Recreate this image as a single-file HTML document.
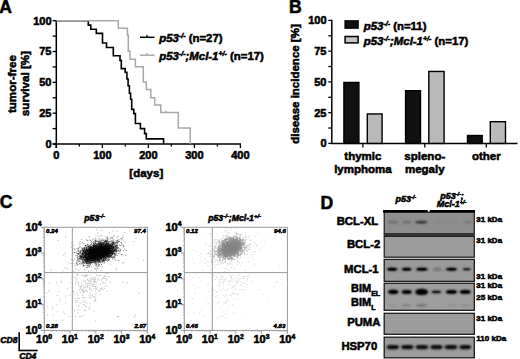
<!DOCTYPE html>
<html><head><meta charset="utf-8"><style>
html,body{margin:0;padding:0;background:#fff;width:520px;height:359px;overflow:hidden}
svg{display:block;font-family:"Liberation Sans",sans-serif}
text{stroke:#000;stroke-width:0.55px;paint-order:stroke}
</style></head><body>
<svg width="520" height="359" viewBox="0 0 520 359" font-family="Liberation Sans, sans-serif">
<defs><filter id="b1" x="-50%" y="-100%" width="200%" height="300%"><feGaussianBlur stdDeviation="0.9"/></filter><filter id="b2" x="-50%" y="-100%" width="200%" height="300%"><feGaussianBlur stdDeviation="0.8"/></filter></defs>
<rect width="520" height="359" fill="#fff"/>
<text x="-0.8" y="12.5" font-size="17.6" text-anchor="start" font-weight="bold" font-style="normal" fill="#000" >A</text>
<line x1="56.3" y1="20.0" x2="56.3" y2="148" stroke="#000" stroke-width="1.5" />
<line x1="52.6" y1="144.0" x2="56.3" y2="144.0" stroke="#000" stroke-width="1.3" />
<line x1="52.6" y1="128.5875" x2="56.3" y2="128.5875" stroke="#000" stroke-width="1.3" />
<line x1="52.6" y1="113.175" x2="56.3" y2="113.175" stroke="#000" stroke-width="1.3" />
<line x1="52.6" y1="97.7625" x2="56.3" y2="97.7625" stroke="#000" stroke-width="1.3" />
<line x1="52.6" y1="82.35" x2="56.3" y2="82.35" stroke="#000" stroke-width="1.3" />
<line x1="52.6" y1="66.9375" x2="56.3" y2="66.9375" stroke="#000" stroke-width="1.3" />
<line x1="52.6" y1="51.525000000000006" x2="56.3" y2="51.525000000000006" stroke="#000" stroke-width="1.3" />
<line x1="52.6" y1="36.1125" x2="56.3" y2="36.1125" stroke="#000" stroke-width="1.3" />
<line x1="52.6" y1="20.700000000000003" x2="56.3" y2="20.700000000000003" stroke="#000" stroke-width="1.3" />
<text x="51.5" y="147.9" font-size="11" text-anchor="end" font-weight="bold" font-style="normal" fill="#000" >0</text>
<text x="51.5" y="117.075" font-size="11" text-anchor="end" font-weight="bold" font-style="normal" fill="#000" >25</text>
<text x="51.5" y="86.25" font-size="11" text-anchor="end" font-weight="bold" font-style="normal" fill="#000" >50</text>
<text x="51.5" y="55.425000000000004" font-size="11" text-anchor="end" font-weight="bold" font-style="normal" fill="#000" >75</text>
<text x="51.5" y="24.6" font-size="11" text-anchor="end" font-weight="bold" font-style="normal" fill="#000" >100</text>
<line x1="52.6" y1="144.0" x2="241" y2="144.0" stroke="#000" stroke-width="1.5" />
<line x1="56.3" y1="144.0" x2="56.3" y2="148.0" stroke="#000" stroke-width="1.3" />
<line x1="79.315" y1="144.0" x2="79.315" y2="146.5" stroke="#000" stroke-width="1.3" />
<line x1="102.33" y1="144.0" x2="102.33" y2="148.0" stroke="#000" stroke-width="1.3" />
<line x1="125.345" y1="144.0" x2="125.345" y2="146.5" stroke="#000" stroke-width="1.3" />
<line x1="148.36" y1="144.0" x2="148.36" y2="148.0" stroke="#000" stroke-width="1.3" />
<line x1="171.375" y1="144.0" x2="171.375" y2="146.5" stroke="#000" stroke-width="1.3" />
<line x1="194.39" y1="144.0" x2="194.39" y2="148.0" stroke="#000" stroke-width="1.3" />
<line x1="217.40499999999997" y1="144.0" x2="217.40499999999997" y2="146.5" stroke="#000" stroke-width="1.3" />
<line x1="240.42000000000002" y1="144.0" x2="240.42000000000002" y2="148.0" stroke="#000" stroke-width="1.3" />
<text x="56.3" y="158.6" font-size="11" text-anchor="middle" font-weight="bold" font-style="normal" fill="#000" >0</text>
<text x="102.33" y="158.6" font-size="11" text-anchor="middle" font-weight="bold" font-style="normal" fill="#000" >100</text>
<text x="148.36" y="158.6" font-size="11" text-anchor="middle" font-weight="bold" font-style="normal" fill="#000" >200</text>
<text x="194.39" y="158.6" font-size="11" text-anchor="middle" font-weight="bold" font-style="normal" fill="#000" >300</text>
<text x="240.42000000000002" y="158.6" font-size="11" text-anchor="middle" font-weight="bold" font-style="normal" fill="#000" >400</text>
<text x="146.3" y="176.6" font-size="11.5" text-anchor="middle" font-weight="bold" font-style="normal" fill="#000" >[days]</text>
<text transform="translate(16.0,84.1) rotate(-90)" font-size="11.6" font-weight="bold" text-anchor="middle">tumor-free</text>
<text transform="translate(29.3,83.6) rotate(-90)" font-size="11.6" font-weight="bold" text-anchor="middle">survival [%]</text>
<polyline points="56.30,20.75 88.30,20.75 88.30,25.10 90.80,25.10 90.80,29.30 96.30,29.30 96.30,33.40 102.50,33.40 102.50,43.00 106.50,43.00 106.50,47.50 113.30,47.50 113.30,55.80 120.00,55.80 120.00,60.40 121.30,60.40 121.30,68.60 125.20,68.60 125.20,72.40 126.90,72.40 126.90,79.00 128.10,79.00 128.10,85.70 129.40,85.70 129.40,93.30 130.60,93.30 130.60,99.20 131.70,99.20 131.70,109.40 133.75,109.40 133.75,113.60 135.40,113.60 135.40,123.50 140.40,123.50 140.40,128.60 144.60,128.60 144.60,133.60 146.30,133.60 146.30,138.90 163.60,138.90 163.60,144.00" fill="none" stroke="#000" stroke-width="1.6" stroke-linejoin="miter"/>
<polyline points="56.30,20.75 118.25,20.75 118.25,28.20 127.40,28.20 127.40,35.00 128.30,35.00 128.30,51.25 130.00,51.25 130.00,59.20 135.40,59.20 135.40,66.70 143.30,66.70 143.30,81.90 146.30,81.90 146.30,89.50 150.80,89.50 150.80,97.80 154.70,97.80 154.70,105.10 160.80,105.10 160.80,112.60 178.30,112.60 178.30,127.90 190.20,127.90 190.20,144.00" fill="none" stroke="#a8a8a8" stroke-width="1.5" stroke-linejoin="miter"/>
<line x1="165.8" y1="112.6" x2="165.8" y2="110.6" stroke="#a8a8a8" stroke-width="1.2" />
<line x1="140" y1="37.3" x2="154.5" y2="37.3" stroke="#000" stroke-width="1.5" />
<line x1="147" y1="37.3" x2="147" y2="35.0" stroke="#000" stroke-width="1.3" />
<line x1="140" y1="55.2" x2="154.5" y2="55.2" stroke="#a8a8a8" stroke-width="1.5" />
<line x1="147" y1="55.2" x2="147" y2="52.9" stroke="#a8a8a8" stroke-width="1.3" />
<text x="159.3" y="41.6" font-size="11.4" text-anchor="start" font-weight="bold" font-style="normal" fill="#000" ><tspan font-style="italic">p53</tspan><tspan font-style="italic" font-size="7" dy="-4">-/-</tspan><tspan dy="4"> (n=27)</tspan></text>
<text x="159.3" y="59.7" font-size="11.4" text-anchor="start" font-weight="bold" font-style="normal" fill="#000" ><tspan font-style="italic">p53</tspan><tspan font-style="italic" font-size="7" dy="-4">-/-</tspan><tspan font-style="italic" dy="4">;Mcl-1</tspan><tspan font-style="italic" font-size="7" dy="-4">+/-</tspan><tspan dy="4"> (n=17)</tspan></text>
<text x="288.9" y="12.8" font-size="17.6" text-anchor="start" font-weight="bold" font-style="normal" fill="#000" >B</text>
<line x1="331.8" y1="19.7" x2="331.8" y2="143.4" stroke="#000" stroke-width="1.5" />
<line x1="328.3" y1="143.4" x2="331.8" y2="143.4" stroke="#000" stroke-width="1.3" />
<line x1="328.3" y1="128.025" x2="331.8" y2="128.025" stroke="#000" stroke-width="1.3" />
<line x1="328.3" y1="112.65" x2="331.8" y2="112.65" stroke="#000" stroke-width="1.3" />
<line x1="328.3" y1="97.275" x2="331.8" y2="97.275" stroke="#000" stroke-width="1.3" />
<line x1="328.3" y1="81.9" x2="331.8" y2="81.9" stroke="#000" stroke-width="1.3" />
<line x1="328.3" y1="66.525" x2="331.8" y2="66.525" stroke="#000" stroke-width="1.3" />
<line x1="328.3" y1="51.150000000000006" x2="331.8" y2="51.150000000000006" stroke="#000" stroke-width="1.3" />
<line x1="328.3" y1="35.775000000000006" x2="331.8" y2="35.775000000000006" stroke="#000" stroke-width="1.3" />
<line x1="328.3" y1="20.400000000000006" x2="331.8" y2="20.400000000000006" stroke="#000" stroke-width="1.3" />
<text x="326.5" y="147.3" font-size="11" text-anchor="end" font-weight="bold" font-style="normal" fill="#000" >0</text>
<text x="326.5" y="116.55000000000001" font-size="11" text-anchor="end" font-weight="bold" font-style="normal" fill="#000" >25</text>
<text x="326.5" y="85.80000000000001" font-size="11" text-anchor="end" font-weight="bold" font-style="normal" fill="#000" >50</text>
<text x="326.5" y="55.050000000000004" font-size="11" text-anchor="end" font-weight="bold" font-style="normal" fill="#000" >75</text>
<text x="326.5" y="24.300000000000004" font-size="11" text-anchor="end" font-weight="bold" font-style="normal" fill="#000" >100</text>
<line x1="331.1" y1="143.4" x2="517.5" y2="143.4" stroke="#000" stroke-width="1.5" />
<line x1="362.9" y1="143.4" x2="362.9" y2="147.6" stroke="#000" stroke-width="1.3" />
<line x1="424.8" y1="143.4" x2="424.8" y2="147.6" stroke="#000" stroke-width="1.3" />
<line x1="486.3" y1="143.4" x2="486.3" y2="147.6" stroke="#000" stroke-width="1.3" />
<rect x="343.9" y="82.45" width="15.000000000000034" height="60.95" fill="#111" stroke="#000" stroke-width="1.4" />
<rect x="367.3" y="113.95" width="14.799999999999988" height="29.450000000000006" fill="#b9b9b9" stroke="#000" stroke-width="1.4" />
<rect x="405.59999999999997" y="90.7" width="14.900000000000011" height="52.7" fill="#111" stroke="#000" stroke-width="1.4" />
<rect x="428.8" y="71.45" width="15.299999999999988" height="71.95" fill="#b9b9b9" stroke="#000" stroke-width="1.4" />
<rect x="467.5" y="135.5" width="14.699999999999966" height="7.899999999999994" fill="#111" stroke="#000" stroke-width="1.4" />
<rect x="490.3" y="121.7" width="15.199999999999966" height="21.700000000000006" fill="#b9b9b9" stroke="#000" stroke-width="1.4" />
<text transform="translate(299.4,84.0) rotate(-90)" font-size="11.5" font-weight="bold" text-anchor="middle">disease incidence [%]</text>
<text x="362.9" y="160.2" font-size="11.5" text-anchor="middle" font-weight="bold" font-style="normal" fill="#000" >thymic</text>
<text x="362.9" y="172.8" font-size="11.5" text-anchor="middle" font-weight="bold" font-style="normal" fill="#000" >lymphoma</text>
<text x="424.8" y="160.2" font-size="11.5" text-anchor="middle" font-weight="bold" font-style="normal" fill="#000" >spleno-</text>
<text x="424.8" y="172.8" font-size="11.5" text-anchor="middle" font-weight="bold" font-style="normal" fill="#000" >megaly</text>
<text x="486.3" y="160.2" font-size="11.5" text-anchor="middle" font-weight="bold" font-style="normal" fill="#000" >other</text>
<rect x="345" y="20.8" width="13.2" height="7.4" fill="#111" stroke="#000" stroke-width="1.2" />
<rect x="345.1" y="36.5" width="13.0" height="6.4" fill="#c4c4c4" stroke="#000" stroke-width="1.5" />
<text x="363.8" y="29.9" font-size="11.4" text-anchor="start" font-weight="bold" font-style="normal" fill="#000" ><tspan font-style="italic">p53</tspan><tspan font-style="italic" font-size="7" dy="-4">-/-</tspan><tspan dy="4"> (n=11)</tspan></text>
<text x="363.8" y="45.3" font-size="11.4" text-anchor="start" font-weight="bold" font-style="normal" fill="#000" ><tspan font-style="italic">p53</tspan><tspan font-style="italic" font-size="7" dy="-4">-/-</tspan><tspan font-style="italic" dy="4">;Mcl-1</tspan><tspan font-style="italic" font-size="7" dy="-4">+/-</tspan><tspan dy="4"> (n=17)</tspan></text>
<text x="-0.2" y="208.4" font-size="17.6" text-anchor="start" font-weight="bold" font-style="normal" fill="#000" >C</text>
<path d="M98.2 251.4h1v1h-1zM96.2 254.5h1v1h-1zM74.6 265.6h1v1h-1zM107.9 242.7h1v1h-1zM88.0 245.7h1v1h-1zM82.1 251.1h1v1h-1zM117.6 236.5h1v1h-1zM101.3 244.5h1v1h-1zM94.8 241.3h1v1h-1zM113.3 235.1h1v1h-1zM108.0 252.7h1v1h-1zM102.8 242.9h1v1h-1zM99.6 256.1h1v1h-1zM95.7 235.6h1v1h-1zM82.2 254.3h1v1h-1zM100.6 245.5h1v1h-1zM107.1 240.2h1v1h-1zM110.9 246.8h1v1h-1zM78.9 242.4h1v1h-1zM109.4 244.8h1v1h-1zM100.2 262.6h1v1h-1zM92.3 271.5h1v1h-1zM99.9 238.3h1v1h-1zM90.8 252.1h1v1h-1zM102.3 249.0h1v1h-1zM114.6 259.0h1v1h-1zM86.1 246.8h1v1h-1zM93.7 247.9h1v1h-1zM109.9 244.8h1v1h-1zM73.4 270.9h1v1h-1zM112.2 253.2h1v1h-1zM79.0 246.9h1v1h-1zM84.3 253.5h1v1h-1zM95.0 261.7h1v1h-1zM92.8 244.0h1v1h-1zM99.4 265.3h1v1h-1zM87.9 271.0h1v1h-1zM79.7 256.1h1v1h-1zM96.0 256.3h1v1h-1zM110.3 250.0h1v1h-1zM104.8 242.3h1v1h-1zM98.4 247.5h1v1h-1zM108.4 246.9h1v1h-1zM89.0 259.9h1v1h-1zM92.1 253.8h1v1h-1zM62.6 270.2h1v1h-1zM95.7 240.1h1v1h-1zM109.0 231.7h1v1h-1zM93.0 238.2h1v1h-1zM107.2 237.3h1v1h-1zM64.4 267.6h1v1h-1zM105.3 245.7h1v1h-1zM100.1 247.8h1v1h-1zM100.1 253.3h1v1h-1zM103.1 250.6h1v1h-1zM93.7 249.4h1v1h-1zM111.7 237.3h1v1h-1zM97.3 253.4h1v1h-1zM76.2 247.9h1v1h-1zM86.0 255.6h1v1h-1zM113.4 239.5h1v1h-1zM89.1 255.9h1v1h-1zM92.1 241.8h1v1h-1zM115.6 269.5h1v1h-1zM87.0 260.9h1v1h-1zM116.9 245.0h1v1h-1zM103.9 251.6h1v1h-1zM124.6 231.9h1v1h-1zM105.8 250.3h1v1h-1zM89.8 250.8h1v1h-1zM89.1 252.7h1v1h-1zM115.2 259.7h1v1h-1zM93.0 248.8h1v1h-1zM105.1 246.8h1v1h-1zM95.5 264.7h1v1h-1zM89.6 251.3h1v1h-1zM79.8 261.8h1v1h-1zM87.5 254.5h1v1h-1zM82.0 253.7h1v1h-1zM112.2 253.5h1v1h-1zM106.2 253.1h1v1h-1zM99.7 250.5h1v1h-1zM79.3 254.5h1v1h-1zM98.7 239.3h1v1h-1zM96.1 270.5h1v1h-1zM93.5 252.9h1v1h-1zM96.6 252.9h1v1h-1zM78.5 261.2h1v1h-1zM88.6 251.2h1v1h-1zM133.6 241.1h1v1h-1zM106.9 260.9h1v1h-1zM78.1 259.1h1v1h-1zM89.8 260.8h1v1h-1zM117.8 241.7h1v1h-1zM108.3 257.0h1v1h-1zM118.7 239.0h1v1h-1zM77.6 261.2h1v1h-1zM111.7 254.3h1v1h-1zM94.9 251.4h1v1h-1zM98.7 259.4h1v1h-1zM92.6 250.7h1v1h-1zM87.3 258.9h1v1h-1zM71.1 263.1h1v1h-1zM100.7 266.3h1v1h-1zM85.4 248.3h1v1h-1zM68.6 262.5h1v1h-1zM112.0 242.3h1v1h-1zM73.6 251.8h1v1h-1zM121.8 237.3h1v1h-1zM108.0 248.1h1v1h-1zM86.2 249.5h1v1h-1zM102.8 249.8h1v1h-1zM72.7 259.9h1v1h-1zM108.5 249.7h1v1h-1zM65.5 236.2h1v1h-1zM90.5 242.3h1v1h-1zM100.4 258.8h1v1h-1zM112.5 243.7h1v1h-1zM90.2 247.2h1v1h-1zM93.4 254.5h1v1h-1zM84.1 247.6h1v1h-1zM102.6 261.3h1v1h-1zM95.5 253.4h1v1h-1zM102.3 245.6h1v1h-1zM79.9 256.5h1v1h-1zM103.4 241.6h1v1h-1zM91.7 250.3h1v1h-1zM84.1 253.3h1v1h-1zM103.4 248.6h1v1h-1zM91.7 255.4h1v1h-1zM84.1 258.6h1v1h-1zM109.8 248.0h1v1h-1zM96.7 259.3h1v1h-1zM105.7 255.4h1v1h-1zM101.9 238.4h1v1h-1zM112.9 246.0h1v1h-1zM100.7 235.4h1v1h-1zM76.0 262.9h1v1h-1zM104.5 254.7h1v1h-1zM97.7 238.1h1v1h-1zM108.0 253.1h1v1h-1zM100.5 255.1h1v1h-1zM113.9 241.2h1v1h-1zM97.5 263.5h1v1h-1zM110.7 250.5h1v1h-1zM105.3 245.9h1v1h-1zM84.4 261.2h1v1h-1zM107.8 249.3h1v1h-1zM101.0 249.6h1v1h-1zM95.3 246.8h1v1h-1zM93.9 251.0h1v1h-1zM94.8 253.0h1v1h-1zM98.6 251.0h1v1h-1zM111.0 245.8h1v1h-1zM111.6 245.7h1v1h-1zM95.6 239.0h1v1h-1zM106.5 254.9h1v1h-1zM109.4 250.1h1v1h-1zM109.9 238.3h1v1h-1zM106.1 253.7h1v1h-1zM113.8 244.3h1v1h-1zM108.5 237.7h1v1h-1zM111.7 250.2h1v1h-1zM122.4 236.9h1v1h-1zM98.3 252.4h1v1h-1zM107.0 256.5h1v1h-1zM93.2 249.0h1v1h-1zM103.1 243.2h1v1h-1zM97.3 232.4h1v1h-1zM98.7 236.1h1v1h-1zM96.0 259.1h1v1h-1zM94.0 255.4h1v1h-1zM106.8 273.1h1v1h-1zM102.3 250.4h1v1h-1zM97.4 259.8h1v1h-1zM88.3 250.4h1v1h-1zM105.6 259.1h1v1h-1zM106.0 250.4h1v1h-1zM82.4 250.8h1v1h-1zM77.1 264.8h1v1h-1zM87.2 253.7h1v1h-1zM94.9 248.9h1v1h-1zM99.1 255.4h1v1h-1zM82.5 262.3h1v1h-1zM79.3 254.7h1v1h-1zM95.0 246.0h1v1h-1zM100.5 258.9h1v1h-1zM73.4 247.7h1v1h-1zM97.8 246.6h1v1h-1zM101.8 254.6h1v1h-1zM92.3 257.8h1v1h-1zM117.5 235.4h1v1h-1zM85.9 238.9h1v1h-1zM125.2 255.0h1v1h-1zM115.9 267.7h1v1h-1zM106.7 244.4h1v1h-1zM109.1 258.9h1v1h-1zM100.2 262.2h1v1h-1zM104.9 246.9h1v1h-1zM77.7 264.6h1v1h-1zM86.5 259.3h1v1h-1zM63.2 254.8h1v1h-1zM92.0 253.0h1v1h-1zM95.7 249.4h1v1h-1zM104.9 248.9h1v1h-1zM97.7 262.2h1v1h-1zM110.2 256.1h1v1h-1zM88.3 266.7h1v1h-1zM98.9 264.2h1v1h-1zM118.5 260.1h1v1h-1zM93.1 258.1h1v1h-1zM107.2 251.1h1v1h-1zM103.5 253.8h1v1h-1zM113.5 247.4h1v1h-1zM66.9 268.6h1v1h-1zM113.9 249.4h1v1h-1zM93.8 257.9h1v1h-1zM113.5 235.5h1v1h-1zM91.5 262.2h1v1h-1zM90.0 257.1h1v1h-1zM92.8 253.3h1v1h-1zM101.0 258.5h1v1h-1zM92.3 247.4h1v1h-1zM108.8 246.8h1v1h-1zM101.1 252.4h1v1h-1zM108.3 239.2h1v1h-1zM95.9 269.9h1v1h-1zM77.4 259.7h1v1h-1zM86.2 239.5h1v1h-1zM71.3 242.7h1v1h-1zM74.8 255.4h1v1h-1zM108.1 250.4h1v1h-1zM82.3 254.5h1v1h-1zM121.1 244.7h1v1h-1zM64.7 252.8h1v1h-1zM105.3 240.6h1v1h-1zM94.4 266.9h1v1h-1zM84.2 268.9h1v1h-1zM85.4 245.1h1v1h-1zM112.3 230.4h1v1h-1zM96.8 262.1h1v1h-1zM123.0 250.2h1v1h-1zM94.9 238.5h1v1h-1zM98.5 252.3h1v1h-1zM100.6 241.5h1v1h-1zM95.0 262.8h1v1h-1zM121.2 239.3h1v1h-1zM112.6 252.4h1v1h-1zM94.2 242.2h1v1h-1zM82.6 252.7h1v1h-1zM102.6 254.6h1v1h-1zM95.3 258.0h1v1h-1zM77.9 250.6h1v1h-1zM96.3 249.1h1v1h-1zM98.3 264.4h1v1h-1zM108.2 252.4h1v1h-1zM96.3 245.7h1v1h-1zM93.7 258.0h1v1h-1zM87.8 254.1h1v1h-1zM101.9 242.7h1v1h-1zM107.7 241.2h1v1h-1zM106.8 236.1h1v1h-1zM84.9 255.7h1v1h-1zM116.4 240.6h1v1h-1zM94.3 240.6h1v1h-1zM101.2 234.8h1v1h-1zM96.1 257.5h1v1h-1zM135.6 237.8h1v1h-1zM116.6 237.4h1v1h-1zM100.8 250.1h1v1h-1zM96.0 246.2h1v1h-1zM121.9 239.3h1v1h-1zM110.4 245.7h1v1h-1zM93.5 248.3h1v1h-1zM78.4 246.5h1v1h-1zM91.3 251.7h1v1h-1zM117.7 260.0h1v1h-1zM78.9 244.5h1v1h-1zM123.0 245.5h1v1h-1zM78.5 263.7h1v1h-1zM72.1 266.3h1v1h-1zM76.1 261.5h1v1h-1zM104.9 256.9h1v1h-1zM95.0 252.2h1v1h-1zM82.2 241.7h1v1h-1zM102.0 249.3h1v1h-1zM78.5 247.2h1v1h-1zM88.8 236.5h1v1h-1zM110.5 255.8h1v1h-1zM90.9 250.0h1v1h-1zM104.2 256.4h1v1h-1zM98.0 249.8h1v1h-1zM120.9 238.4h1v1h-1zM107.8 252.2h1v1h-1zM106.5 254.5h1v1h-1zM85.1 265.2h1v1h-1zM103.2 256.4h1v1h-1zM104.9 245.1h1v1h-1zM118.6 253.3h1v1h-1zM104.0 242.0h1v1h-1zM112.1 247.0h1v1h-1zM95.5 246.2h1v1h-1zM91.0 247.9h1v1h-1zM106.3 245.3h1v1h-1zM77.3 258.9h1v1h-1zM70.9 259.0h1v1h-1zM88.8 266.5h1v1h-1zM94.1 239.4h1v1h-1zM102.2 259.4h1v1h-1zM109.4 258.2h1v1h-1zM74.0 258.8h1v1h-1zM101.9 266.6h1v1h-1zM92.3 253.5h1v1h-1zM70.7 246.7h1v1h-1zM84.5 269.5h1v1h-1zM102.6 239.1h1v1h-1zM100.0 245.7h1v1h-1zM95.1 261.0h1v1h-1zM92.4 262.3h1v1h-1zM103.9 246.4h1v1h-1zM104.7 240.7h1v1h-1zM94.0 256.9h1v1h-1zM98.4 261.5h1v1h-1zM50.5 269.2h1v1h-1zM108.1 241.1h1v1h-1zM95.9 268.3h1v1h-1zM101.2 230.1h1v1h-1zM73.1 244.8h1v1h-1zM83.1 262.4h1v1h-1zM90.5 250.7h1v1h-1zM70.9 258.9h1v1h-1zM76.9 252.9h1v1h-1zM107.4 256.5h1v1h-1zM85.8 260.1h1v1h-1zM107.5 248.4h1v1h-1zM111.8 244.8h1v1h-1zM109.6 249.9h1v1h-1zM108.4 252.8h1v1h-1zM114.5 249.2h1v1h-1zM79.9 246.5h1v1h-1zM94.6 237.8h1v1h-1zM95.3 251.1h1v1h-1zM100.7 241.1h1v1h-1zM79.5 261.0h1v1h-1zM97.4 255.6h1v1h-1zM113.5 244.0h1v1h-1zM87.1 252.9h1v1h-1zM102.6 259.3h1v1h-1zM85.7 257.2h1v1h-1zM111.2 250.4h1v1h-1zM102.9 249.4h1v1h-1zM90.6 270.1h1v1h-1zM83.4 265.4h1v1h-1zM100.6 250.4h1v1h-1zM117.0 240.2h1v1h-1zM104.7 252.6h1v1h-1zM104.2 239.7h1v1h-1zM88.0 254.2h1v1h-1zM111.1 251.2h1v1h-1zM80.8 238.8h1v1h-1zM99.5 242.5h1v1h-1zM115.7 244.9h1v1h-1zM123.1 246.5h1v1h-1zM99.7 238.2h1v1h-1zM119.6 251.7h1v1h-1zM87.2 257.3h1v1h-1zM86.0 252.4h1v1h-1zM98.1 261.2h1v1h-1zM86.0 254.6h1v1h-1zM77.0 256.9h1v1h-1zM91.5 266.3h1v1h-1zM93.0 251.1h1v1h-1zM100.6 251.0h1v1h-1zM108.7 255.0h1v1h-1zM101.0 234.7h1v1h-1zM122.8 254.4h1v1h-1zM111.6 256.7h1v1h-1zM93.7 258.3h1v1h-1zM90.1 246.3h1v1h-1zM93.2 254.4h1v1h-1zM102.8 248.8h1v1h-1zM123.2 262.5h1v1h-1zM99.4 260.0h1v1h-1zM100.8 240.8h1v1h-1zM100.4 240.7h1v1h-1zM84.2 255.3h1v1h-1zM89.4 256.0h1v1h-1zM78.0 270.1h1v1h-1zM97.1 268.0h1v1h-1zM86.2 247.7h1v1h-1zM91.4 246.3h1v1h-1zM90.1 246.6h1v1h-1zM103.3 248.5h1v1h-1zM95.9 251.2h1v1h-1zM115.2 240.6h1v1h-1zM116.8 241.9h1v1h-1zM101.2 239.3h1v1h-1zM125.1 241.7h1v1h-1zM82.7 252.5h1v1h-1zM122.1 235.2h1v1h-1zM97.4 258.6h1v1h-1zM94.4 243.8h1v1h-1zM99.0 260.9h1v1h-1zM105.0 252.3h1v1h-1zM101.9 262.4h1v1h-1zM101.0 253.0h1v1h-1zM89.7 254.2h1v1h-1zM100.6 247.0h1v1h-1zM110.9 236.5h1v1h-1zM113.0 256.3h1v1h-1zM105.1 236.3h1v1h-1zM103.1 259.1h1v1h-1zM82.8 251.4h1v1h-1zM75.4 252.1h1v1h-1zM102.3 245.5h1v1h-1zM73.4 263.2h1v1h-1zM79.7 241.0h1v1h-1zM89.3 239.5h1v1h-1zM69.2 294.4h1v1h-1zM74.0 310.2h1v1h-1zM116.6 230.7h1v1h-1zM47.3 234.4h1v1h-1zM89.2 236.0h1v1h-1zM60.5 282.0h1v1h-1zM56.9 295.0h1v1h-1zM117.9 316.1h1v1h-1zM138.4 292.8h1v1h-1zM57.5 239.9h1v1h-1zM61.2 280.4h1v1h-1zM138.5 229.9h1v1h-1zM95.1 320.8h1v1h-1zM116.7 316.6h1v1h-1zM80.2 243.1h1v1h-1zM48.0 232.1h1v1h-1zM95.0 286.1h1v1h-1zM105.2 278.1h1v1h-1zM133.9 316.3h1v1h-1zM122.2 262.2h1v1h-1zM110.1 263.8h1v1h-1zM95.9 229.3h1v1h-1zM93.2 310.6h1v1h-1zM134.9 314.5h1v1h-1zM122.7 281.6h1v1h-1zM126.8 282.2h1v1h-1zM143.2 260.1h1v1h-1zM74.6 264.7h1v1h-1zM142.3 325.3h1v1h-1zM62.2 319.7h1v1h-1z" fill="#555" fill-opacity="0.45"/>
<path d="M71.7 307.3h1v1h-1zM84.1 290.7h1v1h-1zM96.8 274.4h1v1h-1zM89.8 292.3h1v1h-1zM82.2 275.3h1v1h-1zM79.1 289.1h1v1h-1zM86.3 274.6h1v1h-1zM91.8 277.1h1v1h-1zM92.2 284.5h1v1h-1zM88.3 295.6h1v1h-1zM93.4 281.0h1v1h-1zM104.3 288.1h1v1h-1zM91.8 276.7h1v1h-1zM87.4 287.1h1v1h-1zM88.9 280.1h1v1h-1zM101.8 287.4h1v1h-1zM102.8 288.9h1v1h-1zM102.2 282.1h1v1h-1zM85.9 286.0h1v1h-1zM79.0 298.3h1v1h-1zM90.8 308.5h1v1h-1zM85.9 306.3h1v1h-1zM84.9 280.2h1v1h-1zM76.3 292.3h1v1h-1zM85.0 291.1h1v1h-1zM85.2 275.4h1v1h-1zM89.4 288.1h1v1h-1zM81.3 282.4h1v1h-1zM95.5 293.1h1v1h-1zM83.5 275.7h1v1h-1zM104.7 274.8h1v1h-1zM105.4 276.1h1v1h-1zM84.6 310.1h1v1h-1zM85.0 305.7h1v1h-1zM90.0 277.7h1v1h-1zM82.9 289.7h1v1h-1zM78.0 281.5h1v1h-1zM82.2 301.0h1v1h-1zM98.8 291.5h1v1h-1zM89.6 294.6h1v1h-1zM77.7 297.5h1v1h-1zM108.0 276.6h1v1h-1zM83.4 285.3h1v1h-1zM97.5 280.3h1v1h-1zM105.8 280.6h1v1h-1zM90.6 280.5h1v1h-1zM99.6 294.2h1v1h-1zM76.7 278.0h1v1h-1zM73.2 276.2h1v1h-1zM74.8 278.8h1v1h-1zM94.8 281.1h1v1h-1zM89.2 297.0h1v1h-1zM82.8 291.6h1v1h-1zM88.9 289.3h1v1h-1zM79.8 316.1h1v1h-1zM89.7 279.6h1v1h-1zM90.6 278.5h1v1h-1zM82.7 303.7h1v1h-1zM92.9 283.1h1v1h-1zM84.7 274.8h1v1h-1zM87.7 283.0h1v1h-1zM87.0 274.9h1v1h-1zM95.7 287.7h1v1h-1zM85.3 289.1h1v1h-1zM87.5 285.1h1v1h-1zM95.4 288.5h1v1h-1zM91.5 281.1h1v1h-1zM89.9 286.7h1v1h-1zM74.5 294.5h1v1h-1zM94.6 277.7h1v1h-1zM93.8 277.5h1v1h-1zM99.5 289.9h1v1h-1zM88.0 280.8h1v1h-1zM77.7 274.1h1v1h-1zM94.8 281.1h1v1h-1zM99.9 288.2h1v1h-1zM91.8 279.1h1v1h-1zM79.3 316.1h1v1h-1zM71.7 279.1h1v1h-1zM98.2 275.1h1v1h-1zM83.0 296.7h1v1h-1zM81.8 289.8h1v1h-1zM86.7 283.2h1v1h-1zM80.1 287.0h1v1h-1zM77.7 283.0h1v1h-1zM77.1 274.2h1v1h-1zM96.9 284.8h1v1h-1zM88.5 308.6h1v1h-1zM98.0 278.2h1v1h-1zM83.6 304.3h1v1h-1zM87.0 279.3h1v1h-1zM97.2 278.7h1v1h-1zM80.4 316.1h1v1h-1zM79.4 285.7h1v1h-1zM73.7 297.5h1v1h-1zM101.9 277.6h1v1h-1zM82.3 294.8h1v1h-1zM76.4 300.3h1v1h-1zM80.3 291.6h1v1h-1zM103.4 276.4h1v1h-1zM83.7 290.6h1v1h-1zM90.6 283.1h1v1h-1zM94.2 299.7h1v1h-1zM79.8 291.5h1v1h-1zM95.4 295.6h1v1h-1zM93.7 296.5h1v1h-1zM81.8 285.1h1v1h-1zM95.4 276.6h1v1h-1zM77.4 282.4h1v1h-1zM87.0 285.8h1v1h-1zM84.9 306.0h1v1h-1zM93.8 277.0h1v1h-1zM95.1 279.0h1v1h-1zM75.4 300.1h1v1h-1zM98.8 278.3h1v1h-1zM86.1 290.0h1v1h-1zM75.1 302.1h1v1h-1zM82.7 280.1h1v1h-1zM95.5 287.8h1v1h-1zM92.0 294.2h1v1h-1zM84.6 299.7h1v1h-1zM82.9 314.9h1v1h-1zM108.6 275.9h1v1h-1zM76.6 274.1h1v1h-1zM83.2 288.3h1v1h-1zM82.7 291.1h1v1h-1zM95.1 299.3h1v1h-1zM103.6 278.5h1v1h-1zM85.1 309.5h1v1h-1zM85.3 284.3h1v1h-1zM81.1 274.4h1v1h-1zM90.6 288.7h1v1h-1zM79.3 309.0h1v1h-1zM94.7 290.4h1v1h-1zM85.2 282.3h1v1h-1zM76.4 297.7h1v1h-1zM104.0 275.4h1v1h-1zM77.5 312.6h1v1h-1zM74.7 277.3h1v1h-1zM92.6 286.0h1v1h-1zM100.8 288.2h1v1h-1zM89.7 294.8h1v1h-1zM94.8 280.7h1v1h-1zM93.4 279.3h1v1h-1zM78.1 306.5h1v1h-1zM106.4 278.4h1v1h-1zM98.2 290.1h1v1h-1zM94.3 300.9h1v1h-1zM94.4 280.5h1v1h-1zM96.7 286.8h1v1h-1zM83.2 292.6h1v1h-1zM91.9 295.6h1v1h-1zM87.6 278.4h1v1h-1zM72.7 290.4h1v1h-1zM90.0 297.2h1v1h-1zM99.9 283.8h1v1h-1zM84.4 302.1h1v1h-1zM103.9 282.4h1v1h-1zM99.9 283.4h1v1h-1zM108.8 280.8h1v1h-1zM77.5 301.7h1v1h-1zM83.7 281.5h1v1h-1zM83.3 286.9h1v1h-1zM73.2 291.6h1v1h-1zM91.5 289.7h1v1h-1zM89.7 274.7h1v1h-1zM89.0 282.9h1v1h-1zM100.0 288.5h1v1h-1zM84.7 287.1h1v1h-1zM99.6 274.9h1v1h-1zM75.0 316.1h1v1h-1zM94.1 296.3h1v1h-1zM84.5 297.2h1v1h-1zM93.1 281.0h1v1h-1zM81.3 289.6h1v1h-1zM96.7 288.4h1v1h-1zM110.2 282.3h1v1h-1zM101.2 278.9h1v1h-1zM89.1 306.3h1v1h-1zM81.9 294.4h1v1h-1zM78.1 284.7h1v1h-1zM77.5 294.6h1v1h-1zM94.0 279.4h1v1h-1zM84.6 310.3h1v1h-1zM96.2 274.8h1v1h-1zM92.9 278.5h1v1h-1zM101.2 280.0h1v1h-1zM81.5 289.2h1v1h-1zM89.7 282.0h1v1h-1zM88.6 307.4h1v1h-1zM80.3 288.3h1v1h-1zM93.6 287.9h1v1h-1zM87.0 291.0h1v1h-1zM94.8 298.0h1v1h-1zM95.2 300.6h1v1h-1zM82.6 300.7h1v1h-1zM80.8 286.3h1v1h-1zM96.0 282.3h1v1h-1zM75.0 281.7h1v1h-1zM83.8 275.1h1v1h-1zM94.7 282.0h1v1h-1zM71.7 291.4h1v1h-1zM85.8 276.6h1v1h-1zM92.4 295.7h1v1h-1zM84.0 309.9h1v1h-1zM86.3 302.6h1v1h-1zM82.0 297.3h1v1h-1zM91.3 284.3h1v1h-1zM92.8 285.2h1v1h-1zM100.6 274.8h1v1h-1zM78.9 305.1h1v1h-1zM80.1 302.5h1v1h-1zM89.6 303.3h1v1h-1zM75.9 275.2h1v1h-1zM85.2 281.8h1v1h-1zM93.3 279.3h1v1h-1zM88.9 284.9h1v1h-1zM75.9 279.6h1v1h-1zM81.2 288.8h1v1h-1zM81.0 285.4h1v1h-1zM86.1 275.3h1v1h-1zM105.9 285.4h1v1h-1zM103.1 277.4h1v1h-1zM103.7 285.9h1v1h-1zM102.4 283.2h1v1h-1zM76.9 309.4h1v1h-1zM83.4 275.3h1v1h-1zM93.7 284.1h1v1h-1zM75.1 283.7h1v1h-1zM106.8 290.5h1v1h-1zM55.7 319.9h1v1h-1zM52.1 308.8h1v1h-1zM46.3 292.7h1v1h-1zM61.1 276.5h1v1h-1zM59.4 300.7h1v1h-1zM68.8 316.0h1v1h-1zM52.2 307.0h1v1h-1zM48.6 282.6h1v1h-1zM64.7 295.4h1v1h-1zM48.9 291.3h1v1h-1zM46.7 306.3h1v1h-1zM47.9 290.2h1v1h-1zM65.2 302.8h1v1h-1zM52.8 314.4h1v1h-1zM69.5 282.3h1v1h-1zM56.4 283.6h1v1h-1zM55.9 281.4h1v1h-1zM60.2 298.6h1v1h-1zM63.0 311.6h1v1h-1zM56.5 311.3h1v1h-1zM66.8 288.3h1v1h-1zM58.3 291.5h1v1h-1zM64.2 313.2h1v1h-1zM55.9 304.3h1v1h-1zM46.9 314.6h1v1h-1z" fill="#777" fill-opacity="0.45"/>
<path d="M109.7 254.2h1v1h-1zM98.6 251.1h1v1h-1zM101.2 254.7h1v1h-1zM102.6 246.0h1v1h-1zM102.8 245.1h1v1h-1zM104.1 254.3h1v1h-1zM110.3 250.0h1v1h-1zM79.8 255.2h1v1h-1zM100.9 246.3h1v1h-1zM88.0 252.6h1v1h-1zM99.9 258.5h1v1h-1zM104.5 253.9h1v1h-1zM112.4 253.2h1v1h-1zM93.4 248.2h1v1h-1zM104.8 250.9h1v1h-1zM99.9 250.2h1v1h-1zM103.0 255.8h1v1h-1zM101.4 253.9h1v1h-1zM76.9 257.8h1v1h-1zM95.9 254.7h1v1h-1zM100.3 243.7h1v1h-1zM105.6 247.6h1v1h-1zM106.4 249.0h1v1h-1zM99.5 255.5h1v1h-1zM114.5 242.0h1v1h-1zM97.2 254.4h1v1h-1zM94.3 259.3h1v1h-1zM95.7 251.5h1v1h-1zM102.9 249.5h1v1h-1zM100.1 250.4h1v1h-1zM94.8 246.6h1v1h-1zM98.7 252.1h1v1h-1zM90.9 256.4h1v1h-1zM93.3 253.0h1v1h-1zM106.9 254.9h1v1h-1zM107.8 247.7h1v1h-1zM106.1 254.9h1v1h-1zM91.1 248.0h1v1h-1zM102.2 249.9h1v1h-1zM90.5 249.5h1v1h-1zM107.8 248.2h1v1h-1zM79.1 253.3h1v1h-1zM91.2 254.7h1v1h-1zM84.7 250.1h1v1h-1zM91.0 249.9h1v1h-1zM86.2 254.7h1v1h-1zM101.6 245.7h1v1h-1zM86.0 254.0h1v1h-1zM100.5 253.4h1v1h-1zM93.8 245.5h1v1h-1zM93.0 245.4h1v1h-1zM106.5 248.6h1v1h-1zM100.8 257.0h1v1h-1zM99.3 252.2h1v1h-1zM91.3 253.2h1v1h-1zM100.9 250.7h1v1h-1zM99.7 250.7h1v1h-1zM99.6 250.1h1v1h-1zM83.2 247.5h1v1h-1zM94.6 255.5h1v1h-1zM110.2 255.5h1v1h-1zM95.1 252.9h1v1h-1zM97.1 248.3h1v1h-1zM100.3 241.3h1v1h-1zM101.0 247.9h1v1h-1zM97.3 255.1h1v1h-1zM82.3 256.5h1v1h-1zM99.7 245.1h1v1h-1zM93.8 247.9h1v1h-1zM91.5 249.5h1v1h-1zM97.1 259.7h1v1h-1zM104.4 249.8h1v1h-1zM102.8 246.8h1v1h-1zM89.5 251.4h1v1h-1zM78.1 253.1h1v1h-1zM111.2 242.9h1v1h-1zM94.6 255.5h1v1h-1zM94.8 248.4h1v1h-1zM104.4 250.3h1v1h-1zM90.0 261.2h1v1h-1zM105.7 244.2h1v1h-1zM87.5 259.6h1v1h-1zM98.2 247.9h1v1h-1zM101.0 248.3h1v1h-1zM104.0 253.2h1v1h-1zM94.3 247.8h1v1h-1zM102.9 252.6h1v1h-1zM100.1 250.9h1v1h-1zM97.0 253.6h1v1h-1zM102.8 250.7h1v1h-1zM100.9 245.4h1v1h-1zM106.4 246.0h1v1h-1zM91.2 253.8h1v1h-1zM96.3 249.8h1v1h-1zM93.3 255.5h1v1h-1zM92.3 256.3h1v1h-1zM110.4 249.8h1v1h-1zM101.5 243.7h1v1h-1zM93.4 257.3h1v1h-1zM96.0 251.8h1v1h-1zM89.1 258.6h1v1h-1zM98.9 245.0h1v1h-1zM103.2 251.3h1v1h-1zM89.2 248.9h1v1h-1zM99.2 242.1h1v1h-1zM92.3 248.9h1v1h-1zM117.6 247.3h1v1h-1zM94.9 253.4h1v1h-1zM97.0 248.2h1v1h-1zM93.6 251.9h1v1h-1zM97.5 247.7h1v1h-1zM91.0 259.1h1v1h-1zM89.2 250.7h1v1h-1zM94.3 250.2h1v1h-1zM98.7 251.6h1v1h-1zM83.7 254.9h1v1h-1zM103.4 257.2h1v1h-1zM102.9 254.6h1v1h-1zM101.0 252.7h1v1h-1zM93.3 249.5h1v1h-1zM85.1 250.6h1v1h-1zM115.0 248.0h1v1h-1zM98.8 251.0h1v1h-1zM103.8 245.7h1v1h-1zM109.0 256.8h1v1h-1zM111.3 240.5h1v1h-1zM95.0 258.2h1v1h-1zM95.0 251.1h1v1h-1zM100.5 250.7h1v1h-1zM91.4 253.3h1v1h-1zM102.2 250.6h1v1h-1zM111.7 245.8h1v1h-1zM93.4 248.3h1v1h-1zM88.1 256.0h1v1h-1zM97.5 248.2h1v1h-1zM107.6 253.4h1v1h-1zM97.4 255.5h1v1h-1zM94.9 253.9h1v1h-1zM92.8 256.3h1v1h-1zM106.7 251.6h1v1h-1zM94.6 252.2h1v1h-1zM98.0 252.1h1v1h-1zM90.4 251.9h1v1h-1zM101.1 243.0h1v1h-1zM102.7 252.1h1v1h-1zM99.1 253.7h1v1h-1zM109.1 242.7h1v1h-1zM92.0 253.9h1v1h-1zM95.4 250.6h1v1h-1zM110.3 244.6h1v1h-1zM107.5 243.4h1v1h-1zM100.7 253.6h1v1h-1zM89.2 259.7h1v1h-1zM90.6 251.1h1v1h-1zM105.7 250.7h1v1h-1zM100.0 250.9h1v1h-1zM73.9 252.0h1v1h-1zM102.2 253.6h1v1h-1zM103.1 249.0h1v1h-1zM83.8 251.7h1v1h-1zM87.4 251.5h1v1h-1zM110.6 250.3h1v1h-1zM106.0 241.0h1v1h-1zM122.4 244.4h1v1h-1zM89.6 254.8h1v1h-1zM91.5 257.0h1v1h-1zM94.3 253.2h1v1h-1zM94.4 250.9h1v1h-1zM107.0 250.7h1v1h-1zM112.8 256.0h1v1h-1zM94.5 254.8h1v1h-1zM90.5 253.6h1v1h-1zM91.0 250.8h1v1h-1zM98.2 247.9h1v1h-1zM90.1 257.1h1v1h-1zM92.3 250.4h1v1h-1zM98.2 249.2h1v1h-1zM102.3 250.0h1v1h-1zM100.5 255.4h1v1h-1zM106.9 251.0h1v1h-1zM101.0 243.8h1v1h-1zM94.4 255.0h1v1h-1zM90.5 249.9h1v1h-1zM108.6 245.0h1v1h-1zM94.8 253.1h1v1h-1zM95.6 251.0h1v1h-1zM96.1 252.5h1v1h-1zM102.9 248.7h1v1h-1zM98.7 264.1h1v1h-1zM87.4 253.7h1v1h-1zM114.0 246.0h1v1h-1zM87.6 256.2h1v1h-1zM99.0 261.1h1v1h-1zM88.5 252.9h1v1h-1zM100.5 249.6h1v1h-1zM109.1 249.4h1v1h-1zM102.0 247.5h1v1h-1zM99.4 257.1h1v1h-1zM114.7 247.1h1v1h-1zM106.5 245.3h1v1h-1zM90.3 255.4h1v1h-1zM98.5 256.6h1v1h-1zM88.1 246.6h1v1h-1zM98.2 241.1h1v1h-1zM92.7 250.5h1v1h-1zM86.5 248.6h1v1h-1zM107.3 249.3h1v1h-1zM104.0 245.6h1v1h-1zM85.1 254.2h1v1h-1zM93.7 251.9h1v1h-1zM100.8 250.6h1v1h-1zM97.6 250.8h1v1h-1zM101.1 249.8h1v1h-1zM103.2 254.2h1v1h-1zM85.7 250.4h1v1h-1zM114.1 245.2h1v1h-1zM99.5 250.6h1v1h-1zM109.3 247.5h1v1h-1zM104.9 248.4h1v1h-1zM96.1 251.2h1v1h-1zM86.8 250.7h1v1h-1zM98.4 252.2h1v1h-1zM100.7 246.6h1v1h-1zM89.2 249.6h1v1h-1zM104.1 249.8h1v1h-1zM106.4 248.6h1v1h-1zM98.1 249.1h1v1h-1zM92.8 245.1h1v1h-1zM101.4 249.0h1v1h-1zM87.7 252.3h1v1h-1zM105.2 248.1h1v1h-1zM117.7 249.8h1v1h-1zM105.9 258.6h1v1h-1zM97.8 250.5h1v1h-1zM108.3 251.5h1v1h-1zM92.6 252.0h1v1h-1zM110.5 249.3h1v1h-1zM107.4 244.5h1v1h-1zM100.0 250.9h1v1h-1zM86.8 249.5h1v1h-1zM95.2 253.3h1v1h-1zM93.3 255.1h1v1h-1zM90.8 247.1h1v1h-1zM106.4 250.5h1v1h-1zM101.3 248.8h1v1h-1zM108.6 249.3h1v1h-1zM114.6 254.1h1v1h-1zM95.1 249.4h1v1h-1zM107.4 253.3h1v1h-1zM91.4 259.6h1v1h-1zM90.1 247.1h1v1h-1zM112.1 244.0h1v1h-1zM95.0 248.7h1v1h-1zM110.0 246.2h1v1h-1zM82.0 250.1h1v1h-1zM102.4 246.6h1v1h-1zM105.0 250.5h1v1h-1zM90.2 251.3h1v1h-1zM108.0 256.1h1v1h-1zM99.4 251.5h1v1h-1zM96.6 244.7h1v1h-1zM93.4 255.5h1v1h-1zM89.8 247.9h1v1h-1zM98.8 252.9h1v1h-1zM97.8 251.8h1v1h-1zM86.4 253.1h1v1h-1zM93.0 255.2h1v1h-1zM97.7 254.4h1v1h-1zM100.1 253.3h1v1h-1zM93.1 243.6h1v1h-1zM94.7 251.2h1v1h-1zM99.9 243.9h1v1h-1zM95.5 246.0h1v1h-1zM91.0 257.2h1v1h-1zM87.1 254.0h1v1h-1zM108.0 253.4h1v1h-1zM100.2 252.2h1v1h-1zM97.5 246.5h1v1h-1zM94.9 251.6h1v1h-1zM113.5 247.1h1v1h-1zM97.4 258.8h1v1h-1zM97.6 254.1h1v1h-1zM89.9 253.6h1v1h-1zM95.2 250.0h1v1h-1zM95.7 251.9h1v1h-1zM93.6 257.7h1v1h-1zM111.3 247.8h1v1h-1zM111.6 255.2h1v1h-1zM91.1 259.0h1v1h-1zM90.9 262.1h1v1h-1zM96.8 248.8h1v1h-1zM99.8 255.7h1v1h-1zM89.4 261.5h1v1h-1zM110.3 254.6h1v1h-1zM94.7 246.2h1v1h-1zM102.9 246.5h1v1h-1zM102.9 257.8h1v1h-1zM104.0 256.7h1v1h-1zM107.3 246.7h1v1h-1zM113.9 251.0h1v1h-1zM94.5 247.1h1v1h-1zM99.8 255.4h1v1h-1zM96.3 252.5h1v1h-1zM94.2 251.6h1v1h-1zM93.8 258.0h1v1h-1zM94.9 261.5h1v1h-1zM94.2 250.2h1v1h-1zM95.6 252.4h1v1h-1zM88.2 258.5h1v1h-1zM96.4 250.1h1v1h-1zM107.3 251.1h1v1h-1zM88.9 256.1h1v1h-1zM93.7 250.3h1v1h-1zM103.1 248.6h1v1h-1zM89.9 258.3h1v1h-1zM91.4 248.0h1v1h-1zM92.2 254.0h1v1h-1zM105.8 248.8h1v1h-1zM99.1 250.4h1v1h-1zM101.7 246.6h1v1h-1zM114.3 250.0h1v1h-1zM101.7 248.6h1v1h-1zM92.1 254.2h1v1h-1zM100.8 249.1h1v1h-1zM94.3 248.6h1v1h-1zM89.7 249.3h1v1h-1zM97.8 250.1h1v1h-1zM125.6 250.0h1v1h-1zM95.1 252.1h1v1h-1zM91.8 252.7h1v1h-1zM101.1 252.2h1v1h-1zM98.6 248.9h1v1h-1zM90.0 258.4h1v1h-1zM96.1 250.6h1v1h-1zM106.6 247.5h1v1h-1zM100.8 251.2h1v1h-1zM103.2 248.5h1v1h-1zM108.1 259.7h1v1h-1zM92.9 250.8h1v1h-1zM112.6 241.2h1v1h-1zM85.1 252.6h1v1h-1zM101.0 250.3h1v1h-1zM90.9 252.9h1v1h-1zM94.0 251.4h1v1h-1zM102.2 250.9h1v1h-1zM100.4 250.8h1v1h-1zM90.6 252.8h1v1h-1zM112.5 240.5h1v1h-1zM96.2 244.9h1v1h-1zM105.2 253.0h1v1h-1zM92.6 249.2h1v1h-1zM98.6 256.7h1v1h-1zM101.5 254.3h1v1h-1zM110.1 250.7h1v1h-1zM85.6 257.8h1v1h-1zM99.0 254.2h1v1h-1zM114.6 247.7h1v1h-1zM105.6 258.7h1v1h-1zM105.1 252.0h1v1h-1zM87.7 250.4h1v1h-1zM97.4 248.9h1v1h-1zM93.0 255.2h1v1h-1zM102.4 247.7h1v1h-1zM89.9 256.0h1v1h-1zM96.9 254.7h1v1h-1zM78.8 256.9h1v1h-1zM98.5 243.7h1v1h-1zM89.2 259.8h1v1h-1zM97.5 252.2h1v1h-1zM98.1 249.9h1v1h-1zM99.0 250.7h1v1h-1zM98.5 247.0h1v1h-1zM84.1 248.4h1v1h-1zM88.2 247.7h1v1h-1zM92.7 254.0h1v1h-1zM89.6 253.8h1v1h-1zM97.8 252.5h1v1h-1zM96.9 244.9h1v1h-1zM96.3 253.3h1v1h-1zM94.7 252.7h1v1h-1zM96.1 253.1h1v1h-1zM83.3 250.0h1v1h-1zM85.9 254.5h1v1h-1zM95.3 253.1h1v1h-1zM107.4 248.1h1v1h-1zM103.4 248.7h1v1h-1zM101.3 250.0h1v1h-1zM88.8 257.3h1v1h-1zM84.3 259.2h1v1h-1zM91.8 253.7h1v1h-1zM109.2 245.2h1v1h-1zM99.0 249.5h1v1h-1zM89.4 247.2h1v1h-1zM99.4 248.6h1v1h-1zM94.9 247.9h1v1h-1zM95.8 252.6h1v1h-1zM109.1 243.9h1v1h-1zM107.2 253.5h1v1h-1zM100.0 257.8h1v1h-1zM99.8 249.8h1v1h-1zM97.3 251.4h1v1h-1zM112.4 242.5h1v1h-1zM104.1 250.4h1v1h-1zM92.3 260.0h1v1h-1zM102.1 256.1h1v1h-1zM102.8 251.0h1v1h-1zM102.3 249.0h1v1h-1zM98.6 258.4h1v1h-1zM102.4 254.9h1v1h-1zM103.2 251.6h1v1h-1zM107.9 252.4h1v1h-1zM100.3 249.6h1v1h-1zM99.6 253.2h1v1h-1zM97.1 254.3h1v1h-1zM90.4 253.3h1v1h-1zM83.9 247.2h1v1h-1zM90.3 254.3h1v1h-1zM103.5 251.1h1v1h-1zM99.5 251.9h1v1h-1zM100.4 253.4h1v1h-1zM104.8 255.2h1v1h-1zM102.0 259.9h1v1h-1zM91.4 251.7h1v1h-1zM115.8 245.0h1v1h-1zM90.7 254.4h1v1h-1zM99.7 247.8h1v1h-1zM100.9 248.4h1v1h-1zM110.2 244.1h1v1h-1zM81.5 248.7h1v1h-1zM108.0 250.3h1v1h-1zM91.1 255.2h1v1h-1zM108.4 246.0h1v1h-1zM101.6 256.2h1v1h-1zM107.2 244.7h1v1h-1zM104.7 252.2h1v1h-1zM89.7 255.7h1v1h-1zM95.4 248.8h1v1h-1zM97.1 250.8h1v1h-1zM94.6 254.7h1v1h-1zM106.1 246.3h1v1h-1zM95.1 251.4h1v1h-1zM101.2 256.2h1v1h-1zM101.1 245.4h1v1h-1zM92.1 252.5h1v1h-1zM101.5 250.6h1v1h-1zM97.0 253.0h1v1h-1zM105.5 247.2h1v1h-1zM88.7 252.6h1v1h-1zM106.8 239.0h1v1h-1zM91.0 251.2h1v1h-1zM114.1 255.1h1v1h-1zM98.3 249.3h1v1h-1zM90.3 243.9h1v1h-1zM98.4 246.0h1v1h-1zM94.5 257.9h1v1h-1zM109.0 249.4h1v1h-1zM102.3 251.2h1v1h-1zM90.9 248.8h1v1h-1zM98.9 242.7h1v1h-1zM101.3 252.9h1v1h-1zM96.8 251.2h1v1h-1zM102.3 244.1h1v1h-1zM95.6 256.8h1v1h-1zM99.5 250.9h1v1h-1zM104.0 254.5h1v1h-1zM112.9 251.1h1v1h-1zM93.3 250.4h1v1h-1zM97.6 253.7h1v1h-1zM92.6 257.8h1v1h-1zM99.1 251.2h1v1h-1zM104.4 255.1h1v1h-1zM97.9 251.2h1v1h-1zM101.4 245.6h1v1h-1zM102.8 252.5h1v1h-1zM101.0 246.4h1v1h-1zM99.7 246.3h1v1h-1zM99.1 246.4h1v1h-1zM88.3 255.8h1v1h-1zM100.6 246.4h1v1h-1zM96.4 247.6h1v1h-1zM96.8 249.6h1v1h-1zM99.9 253.4h1v1h-1zM104.9 248.4h1v1h-1zM99.1 248.5h1v1h-1zM88.9 251.1h1v1h-1zM107.6 258.1h1v1h-1zM90.9 252.2h1v1h-1zM107.6 257.7h1v1h-1zM88.5 248.1h1v1h-1zM111.2 250.3h1v1h-1zM101.4 252.8h1v1h-1zM91.2 249.6h1v1h-1zM104.2 248.1h1v1h-1zM104.9 256.7h1v1h-1zM109.1 250.3h1v1h-1zM95.6 256.9h1v1h-1zM108.5 256.4h1v1h-1zM90.1 253.0h1v1h-1zM101.7 251.9h1v1h-1zM94.9 252.7h1v1h-1zM104.5 254.3h1v1h-1zM99.9 252.3h1v1h-1zM87.4 253.0h1v1h-1zM97.9 242.5h1v1h-1zM93.4 247.7h1v1h-1zM108.0 248.3h1v1h-1zM98.2 257.5h1v1h-1zM85.0 256.1h1v1h-1zM114.4 256.3h1v1h-1zM94.0 248.7h1v1h-1zM101.5 247.3h1v1h-1zM94.3 250.3h1v1h-1zM97.4 249.9h1v1h-1zM99.6 253.0h1v1h-1zM94.7 256.3h1v1h-1zM100.5 254.1h1v1h-1zM98.4 251.3h1v1h-1zM91.4 247.5h1v1h-1zM110.5 250.7h1v1h-1zM87.7 251.0h1v1h-1zM99.9 247.3h1v1h-1zM90.8 250.8h1v1h-1zM92.4 258.3h1v1h-1zM95.7 261.3h1v1h-1zM91.9 253.6h1v1h-1zM103.9 249.9h1v1h-1zM97.8 259.4h1v1h-1zM100.1 250.6h1v1h-1zM105.7 256.7h1v1h-1zM87.2 258.1h1v1h-1zM104.8 249.9h1v1h-1zM109.0 252.8h1v1h-1zM111.1 245.9h1v1h-1zM89.7 250.5h1v1h-1zM92.2 252.1h1v1h-1zM102.9 251.1h1v1h-1zM85.1 259.7h1v1h-1zM102.8 249.0h1v1h-1zM101.7 256.4h1v1h-1zM99.1 251.9h1v1h-1zM84.6 257.1h1v1h-1zM106.3 252.4h1v1h-1zM86.7 259.1h1v1h-1zM103.2 250.6h1v1h-1zM85.8 250.5h1v1h-1zM102.5 253.2h1v1h-1zM99.2 252.7h1v1h-1zM95.3 251.1h1v1h-1zM97.0 256.2h1v1h-1zM87.3 240.0h1v1h-1zM100.7 252.5h1v1h-1zM97.0 247.4h1v1h-1zM113.0 249.8h1v1h-1zM101.0 250.0h1v1h-1zM101.0 248.7h1v1h-1zM92.8 251.3h1v1h-1zM83.6 259.1h1v1h-1zM89.0 250.3h1v1h-1zM100.4 250.2h1v1h-1zM102.2 247.8h1v1h-1zM85.1 259.3h1v1h-1zM98.4 251.3h1v1h-1zM104.8 252.4h1v1h-1zM87.8 261.5h1v1h-1zM111.6 245.1h1v1h-1zM116.7 242.6h1v1h-1zM104.3 250.4h1v1h-1zM95.4 256.5h1v1h-1zM97.7 251.1h1v1h-1zM93.0 249.2h1v1h-1zM91.2 256.6h1v1h-1zM93.1 257.9h1v1h-1zM108.4 255.3h1v1h-1zM110.1 250.1h1v1h-1zM93.0 251.6h1v1h-1zM104.3 245.3h1v1h-1zM98.6 256.9h1v1h-1zM104.2 249.6h1v1h-1zM107.5 249.8h1v1h-1zM117.6 250.9h1v1h-1zM121.1 253.9h1v1h-1zM97.9 247.1h1v1h-1zM109.9 247.9h1v1h-1zM95.0 258.4h1v1h-1zM94.5 254.7h1v1h-1zM92.1 247.5h1v1h-1zM102.6 253.1h1v1h-1zM104.3 247.7h1v1h-1zM96.4 248.9h1v1h-1zM103.5 250.1h1v1h-1zM102.0 242.5h1v1h-1zM100.9 252.6h1v1h-1zM110.2 251.5h1v1h-1zM100.4 252.5h1v1h-1zM102.4 254.7h1v1h-1zM99.2 253.2h1v1h-1zM91.0 253.8h1v1h-1zM106.9 254.0h1v1h-1zM102.9 251.4h1v1h-1zM101.5 250.4h1v1h-1zM105.5 246.8h1v1h-1zM80.7 256.3h1v1h-1zM104.4 253.6h1v1h-1zM81.4 254.5h1v1h-1zM93.1 257.5h1v1h-1zM88.8 251.9h1v1h-1zM94.5 248.2h1v1h-1zM103.3 251.4h1v1h-1zM99.3 250.3h1v1h-1zM96.8 255.9h1v1h-1zM101.7 249.0h1v1h-1zM93.0 251.9h1v1h-1zM113.1 246.5h1v1h-1zM90.7 252.7h1v1h-1zM89.0 253.1h1v1h-1zM103.3 250.1h1v1h-1zM99.8 252.1h1v1h-1zM102.4 253.0h1v1h-1zM109.3 247.0h1v1h-1zM99.9 247.2h1v1h-1zM100.2 243.7h1v1h-1zM97.6 252.0h1v1h-1zM103.2 251.3h1v1h-1zM112.0 237.3h1v1h-1zM104.7 245.9h1v1h-1zM113.4 242.8h1v1h-1zM107.8 251.2h1v1h-1zM88.3 249.5h1v1h-1zM94.8 248.3h1v1h-1zM100.3 253.3h1v1h-1zM99.8 248.1h1v1h-1zM105.8 248.0h1v1h-1zM86.6 256.3h1v1h-1zM111.8 249.2h1v1h-1zM96.0 253.1h1v1h-1zM98.3 250.7h1v1h-1zM84.9 252.6h1v1h-1zM100.3 254.2h1v1h-1zM97.9 250.5h1v1h-1zM98.9 252.8h1v1h-1zM98.5 251.7h1v1h-1zM87.3 257.2h1v1h-1zM97.6 247.8h1v1h-1zM98.7 255.9h1v1h-1zM88.3 252.6h1v1h-1zM102.9 249.1h1v1h-1zM102.7 250.3h1v1h-1zM95.1 250.9h1v1h-1zM87.2 247.1h1v1h-1zM107.9 252.4h1v1h-1zM108.3 256.6h1v1h-1zM99.5 253.2h1v1h-1zM89.0 250.1h1v1h-1zM113.3 249.8h1v1h-1zM96.2 256.0h1v1h-1zM96.2 256.7h1v1h-1zM89.7 251.3h1v1h-1zM93.7 256.4h1v1h-1zM92.2 253.8h1v1h-1zM83.8 256.7h1v1h-1zM90.2 253.7h1v1h-1zM106.8 253.6h1v1h-1zM107.3 252.7h1v1h-1zM105.2 258.7h1v1h-1zM102.6 247.1h1v1h-1zM93.6 256.0h1v1h-1zM103.6 254.7h1v1h-1zM100.7 257.0h1v1h-1zM102.5 249.2h1v1h-1zM97.7 252.8h1v1h-1zM103.0 255.0h1v1h-1zM98.3 251.2h1v1h-1zM112.2 247.5h1v1h-1zM94.9 250.7h1v1h-1zM106.1 249.3h1v1h-1zM105.9 257.0h1v1h-1zM87.0 256.8h1v1h-1zM111.5 251.8h1v1h-1zM100.5 253.1h1v1h-1zM107.4 245.9h1v1h-1zM91.1 249.8h1v1h-1zM104.3 250.4h1v1h-1zM109.8 247.5h1v1h-1zM104.4 245.6h1v1h-1zM112.7 246.1h1v1h-1zM104.1 249.7h1v1h-1zM87.6 246.3h1v1h-1zM106.0 242.4h1v1h-1zM96.5 248.0h1v1h-1zM104.0 248.3h1v1h-1zM102.8 253.5h1v1h-1zM103.8 254.3h1v1h-1zM98.2 251.7h1v1h-1zM107.8 251.6h1v1h-1zM104.7 243.8h1v1h-1zM105.7 252.2h1v1h-1zM96.7 251.7h1v1h-1zM96.5 254.4h1v1h-1zM109.1 253.9h1v1h-1zM98.9 250.5h1v1h-1zM89.8 256.2h1v1h-1zM96.1 248.8h1v1h-1zM108.6 252.4h1v1h-1zM101.3 240.2h1v1h-1zM110.8 257.1h1v1h-1zM91.8 253.8h1v1h-1zM96.3 250.1h1v1h-1zM90.7 258.5h1v1h-1zM92.5 257.5h1v1h-1zM95.0 251.5h1v1h-1zM112.4 246.7h1v1h-1zM98.5 252.4h1v1h-1zM107.1 252.0h1v1h-1zM104.9 249.0h1v1h-1zM88.2 250.8h1v1h-1zM105.0 244.2h1v1h-1zM91.7 251.7h1v1h-1zM90.9 252.6h1v1h-1zM94.7 255.8h1v1h-1zM86.3 258.9h1v1h-1zM103.2 255.9h1v1h-1zM103.8 253.5h1v1h-1zM102.1 249.0h1v1h-1zM97.6 257.5h1v1h-1zM95.3 258.5h1v1h-1zM93.9 251.0h1v1h-1zM98.4 249.3h1v1h-1zM95.5 256.0h1v1h-1zM97.9 247.5h1v1h-1zM95.2 247.3h1v1h-1zM95.3 255.8h1v1h-1zM112.0 247.6h1v1h-1zM88.5 250.8h1v1h-1zM88.6 250.8h1v1h-1zM84.5 249.4h1v1h-1zM90.5 247.6h1v1h-1zM98.1 250.9h1v1h-1zM81.7 255.5h1v1h-1zM102.7 248.5h1v1h-1zM93.7 250.1h1v1h-1zM95.2 251.9h1v1h-1zM107.1 255.4h1v1h-1zM111.0 250.1h1v1h-1zM90.6 258.3h1v1h-1zM98.2 255.3h1v1h-1zM91.7 257.9h1v1h-1zM100.0 253.0h1v1h-1zM89.0 252.4h1v1h-1zM102.6 252.6h1v1h-1zM95.7 254.6h1v1h-1zM103.2 249.0h1v1h-1zM93.6 251.6h1v1h-1zM95.7 253.7h1v1h-1zM106.9 246.9h1v1h-1zM101.3 254.8h1v1h-1zM104.9 249.4h1v1h-1zM98.1 254.6h1v1h-1zM97.1 254.2h1v1h-1zM101.0 243.0h1v1h-1zM90.9 251.6h1v1h-1zM84.3 254.1h1v1h-1zM96.3 247.1h1v1h-1zM87.6 257.0h1v1h-1zM88.7 255.4h1v1h-1zM118.9 244.6h1v1h-1zM105.9 255.0h1v1h-1zM98.4 251.7h1v1h-1zM95.2 255.6h1v1h-1zM86.7 261.3h1v1h-1zM85.9 262.9h1v1h-1zM92.3 254.3h1v1h-1zM100.4 253.8h1v1h-1zM87.7 256.5h1v1h-1zM90.7 258.8h1v1h-1zM95.9 256.1h1v1h-1zM90.1 255.5h1v1h-1zM96.8 256.5h1v1h-1zM93.8 256.7h1v1h-1zM97.0 252.5h1v1h-1zM87.3 261.4h1v1h-1zM96.1 254.5h1v1h-1zM95.8 259.0h1v1h-1zM103.2 260.2h1v1h-1zM91.9 256.9h1v1h-1zM92.4 258.1h1v1h-1zM79.8 253.3h1v1h-1zM87.3 256.3h1v1h-1zM91.7 253.3h1v1h-1zM88.1 256.2h1v1h-1zM85.7 257.3h1v1h-1zM88.0 257.3h1v1h-1zM87.7 250.2h1v1h-1zM103.1 256.1h1v1h-1zM98.5 253.5h1v1h-1zM88.4 258.1h1v1h-1zM106.3 250.4h1v1h-1zM91.3 261.7h1v1h-1zM94.6 268.6h1v1h-1zM90.1 256.4h1v1h-1zM95.0 257.0h1v1h-1zM84.1 256.5h1v1h-1zM92.3 251.9h1v1h-1zM91.1 256.5h1v1h-1zM95.1 250.9h1v1h-1zM91.0 258.6h1v1h-1zM91.5 249.1h1v1h-1zM88.8 253.7h1v1h-1zM93.2 255.1h1v1h-1zM95.2 254.0h1v1h-1zM94.0 252.0h1v1h-1zM113.3 252.9h1v1h-1zM88.6 266.0h1v1h-1zM91.9 248.7h1v1h-1zM88.8 262.3h1v1h-1zM99.7 252.2h1v1h-1zM89.4 264.7h1v1h-1zM84.3 255.3h1v1h-1zM86.0 255.0h1v1h-1zM94.2 254.3h1v1h-1zM98.7 254.9h1v1h-1zM96.3 252.3h1v1h-1zM90.8 259.1h1v1h-1zM103.4 244.1h1v1h-1zM98.9 253.1h1v1h-1zM81.3 257.9h1v1h-1zM93.6 256.3h1v1h-1zM96.1 254.2h1v1h-1zM95.7 263.1h1v1h-1zM96.1 256.1h1v1h-1zM96.4 256.3h1v1h-1zM93.9 256.1h1v1h-1zM83.3 258.2h1v1h-1zM83.5 254.6h1v1h-1zM91.9 255.8h1v1h-1zM94.8 256.8h1v1h-1zM88.0 252.9h1v1h-1zM98.9 259.8h1v1h-1zM87.5 260.1h1v1h-1zM89.2 252.9h1v1h-1zM96.7 256.3h1v1h-1zM78.7 260.5h1v1h-1zM92.1 255.7h1v1h-1zM99.3 248.4h1v1h-1zM95.1 256.3h1v1h-1zM86.1 254.5h1v1h-1zM89.1 265.5h1v1h-1zM93.5 258.0h1v1h-1zM97.9 264.8h1v1h-1zM97.4 260.4h1v1h-1zM86.9 254.5h1v1h-1zM89.6 248.0h1v1h-1zM87.5 259.1h1v1h-1zM88.0 256.1h1v1h-1zM93.7 262.3h1v1h-1zM94.1 260.3h1v1h-1zM85.9 258.2h1v1h-1zM89.8 253.2h1v1h-1zM99.3 243.7h1v1h-1zM97.8 254.5h1v1h-1zM99.5 244.9h1v1h-1zM96.1 264.1h1v1h-1zM91.3 251.3h1v1h-1zM87.6 259.0h1v1h-1zM88.1 250.4h1v1h-1zM87.0 265.3h1v1h-1zM88.6 252.9h1v1h-1zM89.0 254.4h1v1h-1z" fill="#000" fill-opacity="0.5"/>
<path d="M98.4 248.4h1v1h-1zM87.7 256.1h1v1h-1zM104.0 250.5h1v1h-1zM95.1 250.2h1v1h-1zM96.4 256.8h1v1h-1zM94.0 246.8h1v1h-1zM108.6 248.3h1v1h-1zM90.7 251.2h1v1h-1zM90.8 251.7h1v1h-1zM91.6 250.2h1v1h-1zM96.8 250.3h1v1h-1zM102.2 253.1h1v1h-1zM93.4 252.4h1v1h-1zM104.9 260.2h1v1h-1zM113.4 246.0h1v1h-1zM104.7 240.7h1v1h-1zM94.3 253.4h1v1h-1zM111.6 247.5h1v1h-1zM101.2 256.9h1v1h-1zM104.6 245.9h1v1h-1zM94.0 257.0h1v1h-1zM97.9 258.3h1v1h-1zM102.4 251.9h1v1h-1zM108.3 252.2h1v1h-1zM102.1 250.1h1v1h-1zM104.3 251.4h1v1h-1zM103.2 248.1h1v1h-1zM108.8 251.3h1v1h-1zM99.6 239.9h1v1h-1zM93.8 260.2h1v1h-1zM98.9 252.7h1v1h-1zM93.1 249.4h1v1h-1zM98.8 251.7h1v1h-1zM91.0 255.8h1v1h-1zM102.9 248.0h1v1h-1zM101.8 253.2h1v1h-1zM119.9 248.8h1v1h-1zM83.1 258.2h1v1h-1zM91.8 250.6h1v1h-1zM100.7 248.5h1v1h-1zM83.8 255.4h1v1h-1zM97.5 241.0h1v1h-1zM96.9 255.4h1v1h-1zM102.0 246.3h1v1h-1zM98.3 251.6h1v1h-1zM90.6 248.9h1v1h-1zM95.7 254.5h1v1h-1zM92.7 254.5h1v1h-1zM102.6 248.3h1v1h-1zM98.6 256.6h1v1h-1zM114.9 248.8h1v1h-1zM108.3 245.6h1v1h-1zM96.6 248.5h1v1h-1zM93.0 245.8h1v1h-1zM101.9 253.0h1v1h-1zM101.3 243.2h1v1h-1zM106.5 253.9h1v1h-1zM98.5 253.3h1v1h-1zM94.5 250.0h1v1h-1zM105.3 257.3h1v1h-1zM106.2 243.3h1v1h-1zM90.1 257.2h1v1h-1zM109.0 253.8h1v1h-1zM95.3 251.2h1v1h-1zM103.4 253.3h1v1h-1zM94.2 258.2h1v1h-1zM115.5 242.5h1v1h-1zM97.6 247.8h1v1h-1zM102.3 249.0h1v1h-1zM101.4 251.3h1v1h-1zM85.2 250.1h1v1h-1zM103.8 256.2h1v1h-1zM101.7 253.6h1v1h-1zM89.1 252.9h1v1h-1zM105.3 254.4h1v1h-1zM102.1 247.3h1v1h-1zM103.3 250.4h1v1h-1zM99.0 246.7h1v1h-1zM80.4 257.1h1v1h-1zM102.0 250.1h1v1h-1zM96.8 250.2h1v1h-1zM102.4 254.9h1v1h-1zM97.6 251.6h1v1h-1zM98.2 257.5h1v1h-1zM97.8 257.4h1v1h-1zM105.2 250.9h1v1h-1zM107.2 251.7h1v1h-1zM96.2 257.0h1v1h-1zM100.1 257.6h1v1h-1zM85.6 259.9h1v1h-1zM103.3 245.7h1v1h-1zM96.1 251.5h1v1h-1zM105.0 252.0h1v1h-1zM101.9 249.4h1v1h-1zM107.0 252.8h1v1h-1zM104.1 247.0h1v1h-1zM100.8 250.8h1v1h-1zM100.7 257.9h1v1h-1zM111.6 247.9h1v1h-1zM89.5 246.3h1v1h-1zM105.4 255.1h1v1h-1zM102.4 254.3h1v1h-1zM98.4 245.6h1v1h-1zM106.0 246.9h1v1h-1zM103.0 249.6h1v1h-1zM100.4 257.7h1v1h-1zM97.0 254.6h1v1h-1zM93.2 255.0h1v1h-1zM102.8 252.6h1v1h-1zM85.6 258.0h1v1h-1zM93.3 247.8h1v1h-1zM101.9 256.6h1v1h-1zM98.1 248.4h1v1h-1zM102.0 254.9h1v1h-1zM102.7 252.1h1v1h-1zM111.0 246.9h1v1h-1zM81.4 253.4h1v1h-1zM93.5 252.2h1v1h-1zM103.4 248.3h1v1h-1zM105.1 247.2h1v1h-1zM97.8 259.2h1v1h-1zM95.6 255.3h1v1h-1zM102.9 253.2h1v1h-1zM101.3 250.9h1v1h-1zM98.6 252.9h1v1h-1zM99.6 249.7h1v1h-1zM100.1 250.2h1v1h-1zM98.7 253.9h1v1h-1zM99.6 256.0h1v1h-1zM90.9 256.8h1v1h-1zM89.8 249.4h1v1h-1zM89.3 251.7h1v1h-1zM85.3 251.9h1v1h-1zM108.4 246.1h1v1h-1zM105.5 249.9h1v1h-1zM108.3 247.5h1v1h-1zM90.1 252.7h1v1h-1zM114.1 257.1h1v1h-1zM104.2 246.6h1v1h-1zM83.3 255.1h1v1h-1zM115.9 241.9h1v1h-1zM103.8 250.1h1v1h-1zM95.6 255.5h1v1h-1zM108.7 254.7h1v1h-1zM98.1 249.5h1v1h-1zM94.5 255.8h1v1h-1zM95.4 250.9h1v1h-1zM92.4 255.5h1v1h-1zM108.3 251.5h1v1h-1zM97.1 250.3h1v1h-1zM99.4 245.7h1v1h-1zM101.8 247.7h1v1h-1zM102.6 252.5h1v1h-1zM91.5 252.8h1v1h-1zM88.9 250.0h1v1h-1zM96.1 256.0h1v1h-1zM84.8 249.7h1v1h-1zM94.7 259.1h1v1h-1zM92.8 257.2h1v1h-1zM92.7 255.4h1v1h-1zM109.5 245.1h1v1h-1zM101.2 246.9h1v1h-1zM79.3 251.8h1v1h-1zM103.3 252.3h1v1h-1zM104.8 254.5h1v1h-1zM96.3 246.5h1v1h-1zM85.1 257.1h1v1h-1zM99.0 246.3h1v1h-1zM105.8 247.6h1v1h-1zM94.0 250.6h1v1h-1zM98.5 252.0h1v1h-1zM89.8 254.7h1v1h-1zM91.1 253.5h1v1h-1zM104.8 248.5h1v1h-1zM95.8 249.9h1v1h-1zM96.3 248.7h1v1h-1zM90.3 255.3h1v1h-1zM94.9 251.2h1v1h-1zM81.7 256.1h1v1h-1zM82.7 253.8h1v1h-1zM98.7 249.4h1v1h-1zM97.7 247.5h1v1h-1zM112.3 250.3h1v1h-1zM96.4 251.2h1v1h-1zM102.6 250.5h1v1h-1zM87.3 252.7h1v1h-1zM84.9 250.4h1v1h-1zM96.1 257.0h1v1h-1zM92.0 262.3h1v1h-1zM97.9 245.7h1v1h-1zM100.7 248.1h1v1h-1zM106.0 246.8h1v1h-1zM94.0 247.7h1v1h-1zM96.0 249.7h1v1h-1zM92.7 257.5h1v1h-1zM97.9 255.8h1v1h-1zM90.0 260.2h1v1h-1zM107.6 248.5h1v1h-1zM100.7 245.1h1v1h-1zM90.6 255.1h1v1h-1zM88.1 257.0h1v1h-1zM99.0 258.5h1v1h-1zM98.7 247.0h1v1h-1zM84.2 255.3h1v1h-1zM101.5 251.0h1v1h-1zM99.9 256.3h1v1h-1zM106.7 244.4h1v1h-1zM93.8 260.3h1v1h-1zM95.8 252.6h1v1h-1zM99.5 253.8h1v1h-1zM106.4 251.3h1v1h-1zM100.4 250.7h1v1h-1zM93.6 251.9h1v1h-1zM87.0 259.4h1v1h-1zM100.4 249.9h1v1h-1zM108.5 249.6h1v1h-1zM101.5 243.5h1v1h-1zM100.3 249.9h1v1h-1zM108.3 248.7h1v1h-1zM97.9 243.1h1v1h-1zM100.4 249.1h1v1h-1zM108.4 251.6h1v1h-1zM89.7 247.2h1v1h-1zM114.1 248.3h1v1h-1zM95.2 253.6h1v1h-1zM103.0 245.7h1v1h-1zM86.3 257.5h1v1h-1zM92.5 251.8h1v1h-1zM112.2 247.8h1v1h-1zM98.9 249.9h1v1h-1zM111.6 251.7h1v1h-1zM101.3 250.3h1v1h-1zM101.0 256.1h1v1h-1zM105.5 251.3h1v1h-1zM99.4 242.5h1v1h-1zM115.0 245.7h1v1h-1zM93.9 250.0h1v1h-1zM92.8 246.5h1v1h-1zM109.0 245.3h1v1h-1zM104.6 254.2h1v1h-1zM103.0 253.6h1v1h-1zM95.2 245.1h1v1h-1zM114.3 253.3h1v1h-1zM99.7 249.3h1v1h-1zM101.4 247.1h1v1h-1zM101.5 251.6h1v1h-1zM101.7 256.1h1v1h-1zM90.8 258.0h1v1h-1zM89.7 255.9h1v1h-1zM111.6 248.0h1v1h-1zM90.4 247.3h1v1h-1zM97.4 251.2h1v1h-1zM99.9 248.6h1v1h-1zM98.3 255.0h1v1h-1zM106.0 255.2h1v1h-1zM106.2 247.5h1v1h-1zM99.3 248.2h1v1h-1zM98.8 254.5h1v1h-1zM108.6 250.1h1v1h-1zM99.8 254.6h1v1h-1zM94.3 250.6h1v1h-1zM120.4 238.1h1v1h-1zM102.5 259.8h1v1h-1zM88.2 249.4h1v1h-1zM98.0 251.4h1v1h-1zM101.0 254.6h1v1h-1zM100.7 252.2h1v1h-1zM102.7 249.9h1v1h-1zM97.1 253.8h1v1h-1zM95.6 259.3h1v1h-1zM104.3 251.0h1v1h-1zM104.7 247.5h1v1h-1zM106.4 246.7h1v1h-1zM99.6 252.8h1v1h-1zM98.4 249.4h1v1h-1zM93.1 251.0h1v1h-1zM93.5 252.6h1v1h-1zM96.7 252.9h1v1h-1zM106.9 245.0h1v1h-1zM88.0 255.3h1v1h-1zM103.6 251.5h1v1h-1zM111.4 248.6h1v1h-1zM90.7 252.0h1v1h-1zM99.5 250.2h1v1h-1zM111.7 245.6h1v1h-1zM110.6 245.1h1v1h-1zM96.0 250.8h1v1h-1zM104.7 248.2h1v1h-1zM95.9 250.7h1v1h-1zM100.0 251.2h1v1h-1zM99.5 250.7h1v1h-1zM93.4 253.8h1v1h-1zM113.0 246.9h1v1h-1zM101.1 249.3h1v1h-1zM97.6 253.5h1v1h-1zM98.9 249.7h1v1h-1zM94.6 250.6h1v1h-1zM85.2 253.1h1v1h-1zM106.6 249.3h1v1h-1zM92.7 258.0h1v1h-1zM104.9 254.1h1v1h-1zM107.3 250.7h1v1h-1zM94.4 244.9h1v1h-1zM99.8 253.8h1v1h-1zM112.6 252.3h1v1h-1zM102.2 247.9h1v1h-1zM113.1 242.8h1v1h-1zM118.6 248.3h1v1h-1zM97.2 248.9h1v1h-1zM95.0 248.6h1v1h-1zM105.0 254.1h1v1h-1zM91.0 251.2h1v1h-1zM100.2 249.8h1v1h-1zM106.4 254.5h1v1h-1zM101.8 255.7h1v1h-1zM110.2 252.3h1v1h-1zM93.5 251.6h1v1h-1zM92.8 258.7h1v1h-1zM86.3 249.1h1v1h-1zM93.7 251.9h1v1h-1zM109.9 255.7h1v1h-1zM94.0 259.7h1v1h-1zM98.6 246.6h1v1h-1zM99.9 255.3h1v1h-1zM98.3 253.4h1v1h-1zM96.0 254.2h1v1h-1zM101.1 247.2h1v1h-1zM88.8 256.2h1v1h-1zM109.8 248.9h1v1h-1zM100.9 245.6h1v1h-1zM99.5 256.8h1v1h-1zM91.0 250.8h1v1h-1zM81.6 253.1h1v1h-1zM105.8 248.6h1v1h-1zM99.8 245.5h1v1h-1zM88.0 256.6h1v1h-1zM101.8 246.3h1v1h-1zM100.0 247.3h1v1h-1zM100.8 245.0h1v1h-1zM96.2 251.1h1v1h-1zM101.2 247.4h1v1h-1zM102.7 246.4h1v1h-1zM101.0 253.2h1v1h-1zM99.1 250.5h1v1h-1zM100.2 247.9h1v1h-1zM93.3 251.9h1v1h-1zM110.4 245.0h1v1h-1zM85.8 249.6h1v1h-1zM92.4 247.1h1v1h-1zM89.9 248.9h1v1h-1zM105.7 242.9h1v1h-1zM103.1 246.7h1v1h-1zM112.0 253.2h1v1h-1zM93.6 258.1h1v1h-1zM108.5 244.2h1v1h-1zM102.1 250.0h1v1h-1zM103.4 245.5h1v1h-1zM86.9 250.0h1v1h-1zM95.6 247.6h1v1h-1zM100.2 249.3h1v1h-1zM105.4 253.6h1v1h-1zM103.5 243.2h1v1h-1zM95.3 250.6h1v1h-1zM108.2 249.4h1v1h-1zM105.8 253.4h1v1h-1zM99.6 246.8h1v1h-1zM106.3 252.3h1v1h-1zM106.5 244.8h1v1h-1zM107.3 250.5h1v1h-1zM88.7 249.0h1v1h-1zM93.8 253.0h1v1h-1zM108.5 246.5h1v1h-1zM118.1 241.0h1v1h-1zM97.7 256.2h1v1h-1zM90.5 254.8h1v1h-1zM108.6 246.7h1v1h-1zM104.3 250.4h1v1h-1zM102.1 252.4h1v1h-1zM101.4 247.4h1v1h-1zM100.0 252.5h1v1h-1zM93.3 249.0h1v1h-1zM93.6 254.5h1v1h-1zM101.7 243.2h1v1h-1zM99.6 249.5h1v1h-1zM98.1 248.8h1v1h-1zM110.6 247.3h1v1h-1zM111.2 243.2h1v1h-1zM94.6 248.7h1v1h-1zM94.9 256.4h1v1h-1zM101.7 250.1h1v1h-1zM90.6 252.6h1v1h-1zM98.5 254.1h1v1h-1zM105.3 248.0h1v1h-1zM98.1 255.4h1v1h-1zM91.4 252.8h1v1h-1zM85.7 255.8h1v1h-1zM81.5 253.7h1v1h-1zM84.7 252.3h1v1h-1zM91.3 248.7h1v1h-1zM103.6 246.4h1v1h-1zM90.6 249.6h1v1h-1zM109.0 248.5h1v1h-1zM94.7 250.0h1v1h-1zM87.8 257.1h1v1h-1zM99.7 248.2h1v1h-1zM93.5 254.9h1v1h-1zM104.8 249.7h1v1h-1zM95.3 248.1h1v1h-1zM92.0 252.3h1v1h-1zM92.0 256.1h1v1h-1zM95.1 249.2h1v1h-1zM92.1 247.1h1v1h-1zM92.2 259.7h1v1h-1zM89.7 257.5h1v1h-1zM82.7 261.9h1v1h-1zM110.2 253.1h1v1h-1zM110.4 251.6h1v1h-1zM98.3 253.8h1v1h-1zM96.5 259.9h1v1h-1zM108.8 250.5h1v1h-1zM92.1 253.8h1v1h-1zM90.1 252.5h1v1h-1zM105.6 245.4h1v1h-1zM100.2 252.0h1v1h-1zM92.0 254.7h1v1h-1zM95.4 250.5h1v1h-1zM116.3 247.1h1v1h-1zM112.9 250.2h1v1h-1zM108.7 248.7h1v1h-1zM95.8 258.7h1v1h-1zM105.6 248.9h1v1h-1zM107.1 243.5h1v1h-1zM107.1 254.1h1v1h-1zM101.6 251.0h1v1h-1zM103.3 245.7h1v1h-1zM94.2 254.9h1v1h-1zM110.8 255.0h1v1h-1zM107.5 254.0h1v1h-1zM91.0 250.8h1v1h-1zM89.5 252.9h1v1h-1zM96.0 258.4h1v1h-1zM87.2 254.6h1v1h-1zM98.7 248.3h1v1h-1zM93.2 248.3h1v1h-1zM81.5 253.4h1v1h-1zM103.2 251.1h1v1h-1zM111.8 252.7h1v1h-1zM91.0 251.1h1v1h-1zM113.9 249.2h1v1h-1zM100.1 255.8h1v1h-1zM96.0 255.5h1v1h-1zM110.6 237.6h1v1h-1zM95.7 246.6h1v1h-1zM108.6 251.1h1v1h-1zM95.2 254.1h1v1h-1zM94.7 248.8h1v1h-1zM96.1 253.2h1v1h-1zM94.3 254.2h1v1h-1zM106.4 248.1h1v1h-1zM94.7 254.5h1v1h-1zM92.2 252.4h1v1h-1zM93.4 254.2h1v1h-1zM107.2 249.2h1v1h-1zM103.7 246.0h1v1h-1zM96.7 248.5h1v1h-1zM94.8 257.3h1v1h-1zM106.8 250.3h1v1h-1zM93.0 248.5h1v1h-1zM92.0 257.3h1v1h-1zM100.6 252.5h1v1h-1zM109.5 248.3h1v1h-1zM98.1 250.8h1v1h-1zM95.2 255.6h1v1h-1zM101.4 258.3h1v1h-1zM99.2 252.5h1v1h-1zM97.7 254.3h1v1h-1zM107.3 249.9h1v1h-1zM104.5 256.0h1v1h-1zM98.3 256.4h1v1h-1zM96.6 252.0h1v1h-1zM105.6 246.2h1v1h-1zM89.2 250.6h1v1h-1zM90.2 250.7h1v1h-1zM96.4 253.9h1v1h-1zM94.8 251.7h1v1h-1zM101.2 249.5h1v1h-1zM97.4 253.5h1v1h-1zM106.2 243.9h1v1h-1zM93.5 253.8h1v1h-1zM112.1 245.2h1v1h-1zM105.4 256.2h1v1h-1zM102.3 260.8h1v1h-1zM91.1 254.9h1v1h-1zM91.4 250.3h1v1h-1zM109.8 251.2h1v1h-1zM107.2 259.4h1v1h-1zM87.9 251.6h1v1h-1zM96.5 246.0h1v1h-1zM108.1 250.5h1v1h-1zM94.9 251.9h1v1h-1zM87.7 254.1h1v1h-1zM98.5 252.0h1v1h-1zM101.3 252.7h1v1h-1zM99.0 244.8h1v1h-1zM100.3 246.9h1v1h-1zM98.0 256.0h1v1h-1zM119.7 249.9h1v1h-1zM92.2 255.1h1v1h-1zM91.8 258.6h1v1h-1zM98.8 254.8h1v1h-1zM88.1 249.4h1v1h-1zM88.8 257.0h1v1h-1zM99.9 252.3h1v1h-1zM102.4 249.7h1v1h-1zM78.0 253.8h1v1h-1zM85.0 258.7h1v1h-1zM104.3 248.7h1v1h-1zM100.7 246.5h1v1h-1zM99.7 251.3h1v1h-1zM106.0 254.3h1v1h-1zM89.6 248.2h1v1h-1zM98.3 248.4h1v1h-1zM98.2 250.8h1v1h-1zM81.0 247.6h1v1h-1zM89.8 256.7h1v1h-1zM112.6 239.5h1v1h-1zM87.6 251.1h1v1h-1zM95.9 240.9h1v1h-1zM106.0 250.9h1v1h-1zM94.4 253.3h1v1h-1zM97.6 252.3h1v1h-1zM97.9 243.5h1v1h-1zM96.9 253.0h1v1h-1zM79.2 263.0h1v1h-1zM100.5 249.5h1v1h-1zM80.5 251.0h1v1h-1zM101.4 257.0h1v1h-1zM98.5 250.2h1v1h-1zM96.6 252.5h1v1h-1zM81.6 247.4h1v1h-1zM109.2 256.1h1v1h-1zM111.2 249.9h1v1h-1zM103.3 248.5h1v1h-1zM108.9 247.1h1v1h-1zM109.9 247.3h1v1h-1zM103.5 251.4h1v1h-1zM93.9 252.0h1v1h-1zM93.2 245.1h1v1h-1zM88.1 253.8h1v1h-1zM108.1 242.9h1v1h-1zM96.1 247.8h1v1h-1zM101.2 243.2h1v1h-1zM120.1 250.3h1v1h-1zM110.1 245.8h1v1h-1zM100.2 255.3h1v1h-1zM100.9 248.6h1v1h-1zM105.7 249.4h1v1h-1zM100.8 246.7h1v1h-1zM115.0 249.8h1v1h-1zM88.0 252.4h1v1h-1zM97.1 249.9h1v1h-1zM98.2 249.3h1v1h-1zM107.4 248.1h1v1h-1zM104.3 258.1h1v1h-1zM85.4 260.3h1v1h-1zM98.1 249.1h1v1h-1zM98.1 249.9h1v1h-1zM91.3 254.5h1v1h-1zM108.2 256.7h1v1h-1zM102.7 246.2h1v1h-1zM87.0 251.5h1v1h-1zM96.0 250.6h1v1h-1zM95.3 254.9h1v1h-1zM87.8 253.3h1v1h-1zM90.3 256.0h1v1h-1zM110.7 243.4h1v1h-1zM88.8 253.6h1v1h-1zM102.0 252.3h1v1h-1zM97.5 257.8h1v1h-1zM96.6 248.6h1v1h-1zM101.1 253.4h1v1h-1zM95.1 249.0h1v1h-1zM91.9 239.6h1v1h-1zM94.8 245.3h1v1h-1zM100.3 255.3h1v1h-1zM93.6 248.5h1v1h-1zM85.9 260.3h1v1h-1zM78.7 251.7h1v1h-1zM103.5 253.5h1v1h-1zM96.8 253.2h1v1h-1zM88.7 252.9h1v1h-1zM103.0 253.7h1v1h-1zM83.3 257.0h1v1h-1zM85.4 251.3h1v1h-1zM91.0 256.3h1v1h-1zM94.7 254.0h1v1h-1zM98.2 250.8h1v1h-1zM91.8 256.0h1v1h-1zM117.3 247.5h1v1h-1zM99.1 251.4h1v1h-1zM91.6 249.4h1v1h-1zM102.0 254.2h1v1h-1zM95.8 247.5h1v1h-1zM97.3 252.3h1v1h-1zM108.4 248.4h1v1h-1zM104.0 248.7h1v1h-1zM89.5 249.3h1v1h-1zM100.4 251.6h1v1h-1zM98.1 245.9h1v1h-1zM105.0 254.0h1v1h-1zM88.4 253.0h1v1h-1zM100.0 253.1h1v1h-1zM108.7 250.6h1v1h-1zM89.4 254.8h1v1h-1zM99.7 251.9h1v1h-1zM100.5 246.5h1v1h-1zM107.5 250.1h1v1h-1zM105.8 244.8h1v1h-1zM108.4 244.0h1v1h-1zM97.5 254.0h1v1h-1zM87.5 250.3h1v1h-1zM80.1 257.9h1v1h-1zM102.2 246.0h1v1h-1zM90.5 260.6h1v1h-1zM97.1 254.0h1v1h-1zM103.1 251.5h1v1h-1zM103.8 252.5h1v1h-1zM96.8 256.2h1v1h-1zM101.0 249.5h1v1h-1zM95.5 245.3h1v1h-1zM100.5 257.8h1v1h-1zM103.0 251.5h1v1h-1zM96.2 241.1h1v1h-1zM102.1 246.7h1v1h-1zM104.5 244.3h1v1h-1zM110.6 248.1h1v1h-1zM99.8 257.2h1v1h-1zM86.3 252.2h1v1h-1zM105.2 248.5h1v1h-1zM110.3 245.9h1v1h-1zM101.3 254.5h1v1h-1zM100.9 254.4h1v1h-1zM110.5 249.9h1v1h-1zM97.4 251.3h1v1h-1zM103.7 256.0h1v1h-1zM89.9 257.9h1v1h-1zM102.7 255.1h1v1h-1zM92.2 252.7h1v1h-1zM104.6 256.1h1v1h-1zM115.8 248.2h1v1h-1zM104.4 252.4h1v1h-1zM107.1 249.3h1v1h-1zM87.1 257.9h1v1h-1zM102.1 248.9h1v1h-1zM91.8 247.6h1v1h-1zM93.0 251.3h1v1h-1zM83.0 249.9h1v1h-1zM93.9 252.3h1v1h-1zM101.5 247.7h1v1h-1zM94.5 251.7h1v1h-1zM88.0 254.2h1v1h-1zM103.4 250.4h1v1h-1zM97.9 252.0h1v1h-1zM90.1 252.6h1v1h-1zM106.5 253.6h1v1h-1zM98.0 246.1h1v1h-1zM95.7 256.2h1v1h-1zM82.8 251.5h1v1h-1zM95.7 253.5h1v1h-1zM101.9 252.0h1v1h-1zM98.7 255.1h1v1h-1zM97.9 248.6h1v1h-1zM96.8 252.8h1v1h-1zM109.5 248.9h1v1h-1zM118.3 253.1h1v1h-1zM91.7 254.8h1v1h-1zM105.2 240.3h1v1h-1zM99.1 249.1h1v1h-1zM102.9 257.9h1v1h-1zM104.4 250.9h1v1h-1zM100.3 250.7h1v1h-1zM99.7 253.2h1v1h-1zM97.3 260.4h1v1h-1zM108.8 252.8h1v1h-1zM110.0 250.2h1v1h-1zM103.2 252.3h1v1h-1zM99.8 251.1h1v1h-1zM99.9 246.1h1v1h-1zM101.9 252.4h1v1h-1zM90.5 247.3h1v1h-1zM98.8 248.2h1v1h-1zM98.9 254.2h1v1h-1zM108.9 249.1h1v1h-1zM101.8 251.5h1v1h-1zM106.1 247.0h1v1h-1zM109.4 253.1h1v1h-1zM95.5 251.8h1v1h-1zM104.9 250.4h1v1h-1zM110.7 246.4h1v1h-1zM76.6 252.9h1v1h-1zM96.8 252.2h1v1h-1zM92.4 254.3h1v1h-1zM96.1 247.2h1v1h-1zM89.8 251.5h1v1h-1zM101.0 253.6h1v1h-1zM96.3 254.0h1v1h-1zM102.0 256.8h1v1h-1zM99.4 252.3h1v1h-1zM92.5 253.0h1v1h-1zM89.8 257.8h1v1h-1zM96.4 258.2h1v1h-1zM98.8 248.4h1v1h-1zM108.9 246.7h1v1h-1zM105.3 256.2h1v1h-1zM91.3 259.4h1v1h-1zM91.8 254.0h1v1h-1zM105.3 252.9h1v1h-1zM100.6 250.4h1v1h-1zM90.6 258.6h1v1h-1zM93.4 251.1h1v1h-1zM102.3 247.8h1v1h-1zM103.9 249.8h1v1h-1zM84.0 251.8h1v1h-1zM91.5 255.9h1v1h-1zM101.2 251.3h1v1h-1zM94.5 252.7h1v1h-1zM99.7 246.8h1v1h-1zM99.1 255.5h1v1h-1zM97.4 260.2h1v1h-1zM102.0 251.3h1v1h-1zM107.0 249.4h1v1h-1zM110.7 252.4h1v1h-1zM96.9 247.3h1v1h-1zM108.2 247.8h1v1h-1zM84.4 256.6h1v1h-1zM100.5 247.1h1v1h-1zM95.2 247.4h1v1h-1zM88.2 256.6h1v1h-1zM89.4 249.7h1v1h-1zM102.4 250.0h1v1h-1zM107.2 245.3h1v1h-1zM101.7 247.9h1v1h-1zM96.2 256.0h1v1h-1zM99.6 254.0h1v1h-1zM95.4 251.5h1v1h-1zM100.4 255.6h1v1h-1zM93.9 251.2h1v1h-1zM89.9 240.1h1v1h-1zM101.0 254.3h1v1h-1zM84.2 260.8h1v1h-1zM111.0 250.2h1v1h-1zM100.8 247.1h1v1h-1zM93.9 252.9h1v1h-1zM99.2 245.7h1v1h-1zM95.9 247.9h1v1h-1zM104.4 248.3h1v1h-1zM104.8 246.6h1v1h-1zM96.2 246.9h1v1h-1zM94.5 255.0h1v1h-1zM95.3 259.2h1v1h-1zM101.5 248.1h1v1h-1zM92.8 257.2h1v1h-1zM106.4 249.6h1v1h-1zM102.7 244.2h1v1h-1zM97.5 251.2h1v1h-1zM102.6 253.0h1v1h-1zM99.3 248.1h1v1h-1zM81.5 261.4h1v1h-1zM95.4 255.5h1v1h-1zM85.3 245.2h1v1h-1zM91.3 255.8h1v1h-1zM84.7 262.1h1v1h-1zM96.2 251.6h1v1h-1zM89.2 256.1h1v1h-1zM88.1 253.8h1v1h-1zM100.3 256.8h1v1h-1zM83.1 249.9h1v1h-1zM87.5 262.1h1v1h-1zM90.8 252.9h1v1h-1zM102.8 256.2h1v1h-1zM91.3 254.8h1v1h-1zM81.6 257.8h1v1h-1zM82.3 256.9h1v1h-1zM102.7 256.0h1v1h-1zM84.0 252.0h1v1h-1zM97.2 261.6h1v1h-1zM96.5 253.1h1v1h-1zM82.7 262.4h1v1h-1zM98.6 255.9h1v1h-1zM95.6 256.9h1v1h-1zM96.3 254.0h1v1h-1zM84.3 256.7h1v1h-1zM96.4 250.4h1v1h-1zM86.2 247.2h1v1h-1zM98.4 253.5h1v1h-1zM95.7 259.3h1v1h-1zM82.2 251.6h1v1h-1zM100.6 252.3h1v1h-1zM96.7 249.4h1v1h-1zM101.9 252.8h1v1h-1zM99.5 261.8h1v1h-1zM95.5 256.3h1v1h-1zM94.7 249.1h1v1h-1zM98.3 265.7h1v1h-1zM98.4 256.4h1v1h-1zM94.4 259.4h1v1h-1zM87.7 261.3h1v1h-1zM94.5 256.6h1v1h-1zM95.1 264.8h1v1h-1zM89.5 249.9h1v1h-1zM85.4 255.3h1v1h-1zM100.8 254.1h1v1h-1zM95.0 257.3h1v1h-1zM104.8 259.3h1v1h-1zM88.4 253.4h1v1h-1zM102.8 259.7h1v1h-1zM89.6 251.0h1v1h-1zM89.0 262.0h1v1h-1zM112.9 246.9h1v1h-1zM97.9 259.3h1v1h-1zM91.7 252.0h1v1h-1zM97.4 256.4h1v1h-1zM88.7 259.3h1v1h-1zM90.5 254.5h1v1h-1zM95.1 249.2h1v1h-1zM101.8 255.8h1v1h-1zM99.0 259.3h1v1h-1zM99.0 258.3h1v1h-1zM91.0 255.8h1v1h-1zM96.2 258.0h1v1h-1zM94.4 255.6h1v1h-1zM81.3 259.3h1v1h-1zM88.5 257.2h1v1h-1zM85.7 245.8h1v1h-1zM104.2 258.7h1v1h-1zM82.3 256.4h1v1h-1zM82.9 256.6h1v1h-1zM89.0 258.2h1v1h-1zM94.8 255.9h1v1h-1zM83.6 252.2h1v1h-1zM98.2 257.1h1v1h-1zM96.1 248.7h1v1h-1zM97.0 252.3h1v1h-1zM101.1 252.7h1v1h-1zM90.1 252.8h1v1h-1zM93.5 253.7h1v1h-1zM89.0 260.6h1v1h-1zM93.3 247.7h1v1h-1zM96.9 266.5h1v1h-1zM80.5 256.0h1v1h-1zM94.9 254.6h1v1h-1zM83.8 256.6h1v1h-1zM95.0 251.8h1v1h-1zM99.4 254.8h1v1h-1zM87.5 259.1h1v1h-1zM99.9 254.6h1v1h-1zM76.0 262.4h1v1h-1zM97.0 257.3h1v1h-1zM92.5 260.2h1v1h-1zM88.2 244.6h1v1h-1zM94.6 253.9h1v1h-1zM80.4 257.0h1v1h-1zM91.9 256.8h1v1h-1zM89.3 263.0h1v1h-1zM76.6 262.6h1v1h-1zM88.1 259.4h1v1h-1zM93.5 257.7h1v1h-1z" fill="#000" fill-opacity="0.5"/>
<path d="M90.4 253.5h1v1h-1zM103.2 259.5h1v1h-1zM90.8 255.0h1v1h-1zM113.5 247.2h1v1h-1zM108.2 243.8h1v1h-1zM93.6 255.5h1v1h-1zM95.3 253.6h1v1h-1zM98.6 256.2h1v1h-1zM113.6 250.3h1v1h-1zM104.1 250.4h1v1h-1zM99.9 251.0h1v1h-1zM95.6 247.9h1v1h-1zM86.6 249.9h1v1h-1zM100.2 246.4h1v1h-1zM95.1 259.4h1v1h-1zM94.2 251.4h1v1h-1zM108.3 252.4h1v1h-1zM96.4 254.2h1v1h-1zM102.9 251.4h1v1h-1zM113.2 245.3h1v1h-1zM99.2 247.4h1v1h-1zM99.0 250.6h1v1h-1zM100.8 257.2h1v1h-1zM99.7 251.2h1v1h-1zM102.1 255.7h1v1h-1zM106.7 248.8h1v1h-1zM94.8 256.5h1v1h-1zM96.8 258.5h1v1h-1zM100.8 247.7h1v1h-1zM102.2 242.4h1v1h-1zM111.6 246.4h1v1h-1zM96.0 251.3h1v1h-1zM89.6 252.7h1v1h-1zM111.6 243.2h1v1h-1zM91.7 245.9h1v1h-1zM101.8 255.5h1v1h-1zM101.2 245.5h1v1h-1zM105.7 248.8h1v1h-1zM103.8 252.2h1v1h-1zM97.7 256.3h1v1h-1zM98.6 246.2h1v1h-1zM105.2 253.1h1v1h-1zM99.6 245.2h1v1h-1zM106.9 248.9h1v1h-1zM93.1 255.3h1v1h-1zM92.6 249.9h1v1h-1zM92.8 245.1h1v1h-1zM97.6 250.9h1v1h-1zM112.1 251.3h1v1h-1zM100.9 255.7h1v1h-1zM93.3 250.2h1v1h-1zM93.5 250.7h1v1h-1zM105.1 252.1h1v1h-1zM108.5 247.6h1v1h-1zM101.3 246.7h1v1h-1zM96.3 255.4h1v1h-1zM105.8 250.8h1v1h-1zM100.2 251.4h1v1h-1zM115.8 250.4h1v1h-1zM89.3 256.3h1v1h-1zM101.9 251.0h1v1h-1zM99.7 250.4h1v1h-1zM102.1 243.2h1v1h-1zM93.0 249.2h1v1h-1zM95.1 251.9h1v1h-1zM89.3 253.6h1v1h-1zM103.6 241.9h1v1h-1zM108.3 246.9h1v1h-1zM89.0 257.0h1v1h-1zM104.0 245.4h1v1h-1zM104.2 247.3h1v1h-1zM98.7 246.6h1v1h-1zM98.2 251.0h1v1h-1zM104.4 241.1h1v1h-1zM110.9 248.0h1v1h-1zM85.8 256.0h1v1h-1zM99.5 258.8h1v1h-1zM95.7 247.6h1v1h-1zM89.7 257.2h1v1h-1zM90.8 251.9h1v1h-1zM90.8 257.0h1v1h-1zM85.9 258.6h1v1h-1zM109.6 248.2h1v1h-1zM95.5 253.2h1v1h-1zM98.7 254.0h1v1h-1zM93.4 247.4h1v1h-1zM94.6 247.5h1v1h-1zM103.6 251.5h1v1h-1zM97.4 250.6h1v1h-1zM94.4 250.1h1v1h-1zM103.2 247.2h1v1h-1zM93.9 252.3h1v1h-1zM92.3 248.8h1v1h-1zM102.0 248.6h1v1h-1zM98.6 257.1h1v1h-1zM99.2 245.9h1v1h-1zM102.1 251.8h1v1h-1zM100.4 255.9h1v1h-1zM106.5 250.8h1v1h-1zM104.9 254.7h1v1h-1zM104.6 251.9h1v1h-1zM88.8 252.4h1v1h-1zM99.7 247.9h1v1h-1zM98.1 251.7h1v1h-1zM90.2 251.0h1v1h-1zM107.5 252.9h1v1h-1zM90.4 256.0h1v1h-1zM104.5 256.7h1v1h-1zM95.6 254.6h1v1h-1zM89.6 251.2h1v1h-1zM105.9 253.0h1v1h-1zM94.1 256.4h1v1h-1zM112.5 250.5h1v1h-1zM111.9 253.9h1v1h-1zM98.3 247.6h1v1h-1zM93.6 254.0h1v1h-1zM101.2 249.7h1v1h-1zM90.2 259.6h1v1h-1zM107.5 250.3h1v1h-1zM106.9 247.2h1v1h-1zM100.1 244.3h1v1h-1zM88.0 252.2h1v1h-1zM104.1 258.0h1v1h-1zM87.8 248.7h1v1h-1zM97.6 257.7h1v1h-1zM93.6 260.7h1v1h-1zM88.4 250.8h1v1h-1zM117.6 250.0h1v1h-1zM111.5 248.5h1v1h-1zM100.8 253.1h1v1h-1zM106.0 248.2h1v1h-1zM90.0 253.4h1v1h-1zM93.6 250.7h1v1h-1zM92.7 250.0h1v1h-1zM86.5 250.7h1v1h-1zM103.1 260.2h1v1h-1zM100.3 249.7h1v1h-1zM96.1 243.9h1v1h-1zM95.5 256.9h1v1h-1zM96.9 245.2h1v1h-1zM99.2 251.3h1v1h-1zM101.3 253.7h1v1h-1zM103.5 250.3h1v1h-1zM100.1 251.9h1v1h-1zM111.3 246.0h1v1h-1zM105.5 245.5h1v1h-1zM111.5 251.2h1v1h-1zM102.6 250.5h1v1h-1zM100.9 256.3h1v1h-1zM103.3 254.6h1v1h-1zM94.4 249.3h1v1h-1zM93.2 254.8h1v1h-1zM96.2 256.2h1v1h-1zM96.0 252.6h1v1h-1zM100.5 249.6h1v1h-1zM101.1 251.0h1v1h-1zM90.4 251.4h1v1h-1zM99.3 254.5h1v1h-1zM89.0 251.6h1v1h-1zM106.5 240.3h1v1h-1zM90.0 251.7h1v1h-1zM93.1 247.3h1v1h-1zM103.6 254.1h1v1h-1zM105.3 249.4h1v1h-1zM108.0 247.5h1v1h-1zM86.3 257.0h1v1h-1zM103.6 250.6h1v1h-1zM99.1 249.8h1v1h-1zM94.0 252.3h1v1h-1zM100.0 248.4h1v1h-1zM90.5 253.7h1v1h-1zM92.0 252.2h1v1h-1zM93.3 252.0h1v1h-1zM93.0 256.7h1v1h-1zM87.4 259.5h1v1h-1zM86.7 257.1h1v1h-1zM89.9 248.8h1v1h-1zM103.8 252.6h1v1h-1zM107.1 251.8h1v1h-1zM97.0 249.1h1v1h-1zM96.0 253.0h1v1h-1zM93.0 256.3h1v1h-1zM98.9 250.8h1v1h-1zM87.9 255.7h1v1h-1zM97.6 255.9h1v1h-1zM108.4 246.9h1v1h-1zM96.6 253.1h1v1h-1zM89.4 251.4h1v1h-1zM89.5 254.2h1v1h-1zM89.5 256.6h1v1h-1zM104.3 244.0h1v1h-1zM115.0 254.8h1v1h-1zM108.3 252.7h1v1h-1zM102.3 251.0h1v1h-1zM92.8 251.6h1v1h-1zM86.6 257.1h1v1h-1zM111.8 247.6h1v1h-1zM108.5 252.6h1v1h-1zM97.3 252.3h1v1h-1zM103.6 251.7h1v1h-1zM84.2 248.2h1v1h-1zM110.0 252.7h1v1h-1zM97.9 248.3h1v1h-1zM99.0 252.1h1v1h-1zM105.0 250.6h1v1h-1zM109.2 248.2h1v1h-1zM102.5 252.7h1v1h-1zM99.4 252.2h1v1h-1zM103.8 251.2h1v1h-1zM84.4 249.5h1v1h-1zM97.3 254.4h1v1h-1zM100.8 255.1h1v1h-1zM104.8 249.9h1v1h-1zM99.2 252.0h1v1h-1zM96.7 249.9h1v1h-1zM103.0 254.6h1v1h-1zM108.7 250.1h1v1h-1zM95.0 256.0h1v1h-1zM91.9 256.8h1v1h-1zM88.4 249.1h1v1h-1zM105.6 254.7h1v1h-1zM95.3 249.8h1v1h-1zM89.2 251.7h1v1h-1zM102.5 260.5h1v1h-1zM108.0 249.1h1v1h-1zM96.0 248.0h1v1h-1zM89.5 253.3h1v1h-1zM93.5 256.4h1v1h-1zM98.7 252.0h1v1h-1zM107.0 250.6h1v1h-1zM92.4 254.2h1v1h-1zM80.3 250.1h1v1h-1zM108.0 245.7h1v1h-1zM109.5 255.7h1v1h-1zM90.2 251.9h1v1h-1zM98.8 255.1h1v1h-1zM98.8 243.5h1v1h-1zM112.3 250.2h1v1h-1zM87.1 250.4h1v1h-1zM95.7 246.9h1v1h-1zM115.2 246.5h1v1h-1zM97.8 249.2h1v1h-1zM86.0 255.9h1v1h-1zM106.0 242.3h1v1h-1zM85.0 254.1h1v1h-1zM100.0 250.1h1v1h-1zM99.1 246.6h1v1h-1zM104.8 258.4h1v1h-1zM100.7 251.6h1v1h-1zM108.0 254.1h1v1h-1zM102.4 253.0h1v1h-1zM116.6 247.8h1v1h-1zM115.2 245.0h1v1h-1zM111.5 251.3h1v1h-1zM98.8 246.4h1v1h-1zM88.3 257.5h1v1h-1zM94.1 249.7h1v1h-1zM99.9 247.6h1v1h-1zM105.0 249.1h1v1h-1zM88.2 256.4h1v1h-1zM99.5 248.0h1v1h-1zM94.6 256.8h1v1h-1zM107.2 248.8h1v1h-1zM95.6 248.9h1v1h-1zM96.4 253.1h1v1h-1zM99.3 251.2h1v1h-1zM89.9 254.9h1v1h-1zM93.1 249.9h1v1h-1zM91.3 248.9h1v1h-1zM87.2 258.5h1v1h-1zM98.8 248.6h1v1h-1zM92.6 256.8h1v1h-1zM97.1 249.8h1v1h-1zM94.4 256.2h1v1h-1zM107.9 248.1h1v1h-1zM99.4 249.7h1v1h-1zM95.6 249.4h1v1h-1zM93.8 252.1h1v1h-1zM93.8 255.6h1v1h-1zM91.6 253.8h1v1h-1zM94.2 253.6h1v1h-1zM96.6 254.4h1v1h-1zM107.2 246.8h1v1h-1zM100.5 249.1h1v1h-1zM97.4 252.4h1v1h-1zM100.9 245.6h1v1h-1zM93.8 252.1h1v1h-1zM103.4 249.8h1v1h-1zM100.8 244.4h1v1h-1zM103.0 254.2h1v1h-1zM106.3 249.1h1v1h-1zM103.0 250.3h1v1h-1zM83.6 252.3h1v1h-1zM104.7 250.4h1v1h-1zM92.6 254.5h1v1h-1zM99.1 251.1h1v1h-1zM99.6 252.7h1v1h-1zM95.5 248.1h1v1h-1zM109.5 250.8h1v1h-1zM96.8 253.4h1v1h-1zM109.5 250.6h1v1h-1zM107.2 248.2h1v1h-1zM93.7 252.0h1v1h-1zM79.0 255.5h1v1h-1zM90.6 256.0h1v1h-1zM94.4 254.5h1v1h-1zM103.6 249.5h1v1h-1zM95.5 246.7h1v1h-1zM99.7 250.7h1v1h-1zM83.8 259.4h1v1h-1zM101.8 255.0h1v1h-1zM95.6 254.1h1v1h-1zM106.0 248.0h1v1h-1zM101.3 247.0h1v1h-1zM98.6 254.5h1v1h-1zM84.6 254.0h1v1h-1zM104.3 249.1h1v1h-1zM99.7 251.8h1v1h-1zM95.9 253.3h1v1h-1zM107.2 249.4h1v1h-1zM102.8 242.6h1v1h-1zM97.4 253.0h1v1h-1zM94.1 252.8h1v1h-1zM110.8 254.8h1v1h-1zM94.0 249.2h1v1h-1zM105.3 254.0h1v1h-1zM96.9 250.4h1v1h-1zM94.2 249.3h1v1h-1zM107.6 254.4h1v1h-1zM90.0 247.6h1v1h-1zM106.9 247.0h1v1h-1zM113.9 253.3h1v1h-1zM109.0 254.3h1v1h-1zM99.5 251.0h1v1h-1zM107.3 253.8h1v1h-1zM85.9 256.7h1v1h-1zM96.1 245.0h1v1h-1zM95.7 258.8h1v1h-1zM103.2 247.7h1v1h-1zM99.5 253.7h1v1h-1zM93.5 246.4h1v1h-1zM98.2 255.9h1v1h-1zM102.5 251.9h1v1h-1zM97.7 253.5h1v1h-1zM88.2 255.2h1v1h-1zM97.8 249.2h1v1h-1zM99.2 247.2h1v1h-1zM93.5 256.1h1v1h-1zM94.7 254.7h1v1h-1zM90.2 255.7h1v1h-1zM101.6 257.3h1v1h-1zM104.1 251.4h1v1h-1zM95.8 256.0h1v1h-1zM96.5 251.9h1v1h-1zM98.0 249.5h1v1h-1zM103.3 248.2h1v1h-1zM101.8 252.2h1v1h-1zM93.7 248.7h1v1h-1zM92.3 260.3h1v1h-1zM85.3 251.5h1v1h-1zM84.1 248.8h1v1h-1zM87.1 256.1h1v1h-1zM100.8 250.6h1v1h-1zM87.2 258.8h1v1h-1zM101.7 252.2h1v1h-1zM98.4 251.4h1v1h-1zM102.9 244.1h1v1h-1zM95.1 240.3h1v1h-1zM96.8 254.3h1v1h-1zM117.0 239.6h1v1h-1zM100.1 252.3h1v1h-1zM112.2 242.1h1v1h-1zM96.2 254.4h1v1h-1zM101.5 249.6h1v1h-1zM94.8 247.3h1v1h-1zM102.4 249.5h1v1h-1zM96.2 247.5h1v1h-1zM90.8 254.3h1v1h-1zM99.4 254.3h1v1h-1zM102.8 251.3h1v1h-1zM93.7 249.2h1v1h-1zM102.1 251.7h1v1h-1zM98.9 253.5h1v1h-1zM93.5 255.1h1v1h-1zM86.0 255.6h1v1h-1zM95.3 253.6h1v1h-1zM89.2 250.0h1v1h-1zM100.9 250.7h1v1h-1zM96.3 248.3h1v1h-1zM79.6 255.1h1v1h-1zM100.1 254.6h1v1h-1zM79.9 252.0h1v1h-1zM90.2 253.2h1v1h-1zM90.8 246.4h1v1h-1zM111.1 247.9h1v1h-1zM107.3 250.5h1v1h-1zM97.0 251.0h1v1h-1zM91.4 250.5h1v1h-1zM102.5 247.9h1v1h-1zM92.2 251.8h1v1h-1zM103.3 252.8h1v1h-1zM103.5 251.5h1v1h-1zM106.5 247.2h1v1h-1zM108.6 248.9h1v1h-1zM105.7 246.3h1v1h-1zM109.9 245.9h1v1h-1zM95.8 254.3h1v1h-1zM109.6 246.2h1v1h-1zM100.8 255.6h1v1h-1zM101.9 255.1h1v1h-1zM99.8 247.4h1v1h-1zM92.8 252.9h1v1h-1zM104.4 246.4h1v1h-1zM111.7 249.6h1v1h-1zM86.4 258.3h1v1h-1zM96.2 253.2h1v1h-1zM113.0 242.3h1v1h-1zM86.2 254.5h1v1h-1zM98.1 253.8h1v1h-1zM96.0 255.2h1v1h-1zM107.4 248.3h1v1h-1zM90.3 262.6h1v1h-1zM101.1 245.0h1v1h-1zM84.3 256.2h1v1h-1zM104.0 251.9h1v1h-1zM96.8 254.9h1v1h-1zM105.3 252.3h1v1h-1zM102.0 252.9h1v1h-1zM89.2 255.9h1v1h-1zM108.1 248.0h1v1h-1zM100.6 260.9h1v1h-1zM93.3 248.4h1v1h-1zM83.8 247.7h1v1h-1zM100.1 242.7h1v1h-1zM103.3 246.3h1v1h-1zM97.4 255.4h1v1h-1zM95.0 258.4h1v1h-1zM98.7 252.4h1v1h-1zM86.9 251.3h1v1h-1zM108.1 245.8h1v1h-1zM99.6 253.7h1v1h-1zM101.9 249.2h1v1h-1zM102.0 249.0h1v1h-1zM93.7 249.9h1v1h-1zM113.6 249.9h1v1h-1zM89.2 251.4h1v1h-1zM93.9 251.9h1v1h-1zM98.0 247.2h1v1h-1zM95.7 247.6h1v1h-1zM109.4 251.2h1v1h-1zM107.9 251.5h1v1h-1zM109.5 249.2h1v1h-1zM100.3 253.4h1v1h-1zM89.5 251.4h1v1h-1zM106.0 251.9h1v1h-1zM90.9 255.1h1v1h-1zM98.8 258.9h1v1h-1zM94.4 248.9h1v1h-1zM92.8 255.0h1v1h-1zM114.6 243.2h1v1h-1zM81.0 256.4h1v1h-1zM103.2 247.7h1v1h-1zM92.2 256.1h1v1h-1zM92.2 251.6h1v1h-1zM104.7 247.1h1v1h-1zM94.1 250.7h1v1h-1zM110.9 247.6h1v1h-1zM95.1 245.0h1v1h-1zM91.4 248.0h1v1h-1zM93.1 256.0h1v1h-1zM115.3 251.4h1v1h-1zM105.0 247.5h1v1h-1zM97.3 249.3h1v1h-1zM93.5 256.2h1v1h-1zM106.6 255.4h1v1h-1zM91.9 252.0h1v1h-1zM100.0 252.7h1v1h-1zM91.3 248.6h1v1h-1zM98.5 246.3h1v1h-1zM103.4 249.7h1v1h-1zM90.7 246.0h1v1h-1zM95.2 252.5h1v1h-1zM101.3 245.8h1v1h-1zM104.9 249.7h1v1h-1zM95.3 249.9h1v1h-1zM83.1 250.9h1v1h-1zM105.3 246.0h1v1h-1zM97.5 248.3h1v1h-1zM82.0 253.6h1v1h-1zM97.5 250.3h1v1h-1zM97.0 250.8h1v1h-1zM99.3 253.0h1v1h-1zM97.3 249.3h1v1h-1zM99.3 252.5h1v1h-1zM86.7 259.0h1v1h-1zM110.2 248.1h1v1h-1zM93.9 247.7h1v1h-1zM100.9 245.9h1v1h-1zM90.2 259.9h1v1h-1zM82.8 250.2h1v1h-1zM102.1 246.4h1v1h-1zM91.2 254.7h1v1h-1zM101.4 254.6h1v1h-1zM101.2 256.2h1v1h-1zM94.8 243.2h1v1h-1zM97.8 254.7h1v1h-1zM95.6 255.1h1v1h-1zM90.1 254.7h1v1h-1zM113.0 246.3h1v1h-1zM97.6 249.9h1v1h-1zM101.1 256.8h1v1h-1zM106.7 253.9h1v1h-1zM93.6 251.4h1v1h-1zM104.6 248.2h1v1h-1zM92.3 252.5h1v1h-1zM99.0 256.7h1v1h-1zM87.7 254.0h1v1h-1zM107.5 247.8h1v1h-1zM79.8 249.9h1v1h-1zM99.8 249.9h1v1h-1zM107.8 250.1h1v1h-1zM104.6 246.3h1v1h-1zM108.7 245.8h1v1h-1zM82.5 252.6h1v1h-1zM111.0 252.4h1v1h-1zM99.6 247.4h1v1h-1zM111.5 252.7h1v1h-1zM105.0 245.4h1v1h-1zM98.6 255.4h1v1h-1zM100.2 252.5h1v1h-1zM106.5 249.1h1v1h-1zM101.2 254.1h1v1h-1zM96.7 255.7h1v1h-1zM93.7 249.3h1v1h-1zM91.7 253.3h1v1h-1zM100.1 252.3h1v1h-1zM92.1 256.7h1v1h-1zM98.6 249.4h1v1h-1zM116.2 245.7h1v1h-1zM93.1 254.8h1v1h-1zM96.2 247.4h1v1h-1zM101.7 255.4h1v1h-1zM99.2 250.6h1v1h-1zM97.5 251.7h1v1h-1zM95.4 247.7h1v1h-1zM101.2 250.0h1v1h-1zM107.8 250.8h1v1h-1zM86.0 254.3h1v1h-1zM100.9 251.6h1v1h-1zM111.1 248.2h1v1h-1zM95.1 245.7h1v1h-1zM88.9 253.8h1v1h-1zM95.3 249.1h1v1h-1zM105.8 255.5h1v1h-1zM84.3 249.0h1v1h-1zM103.1 248.3h1v1h-1zM100.2 252.2h1v1h-1zM99.1 245.8h1v1h-1zM104.0 256.3h1v1h-1zM107.8 246.3h1v1h-1zM109.5 248.1h1v1h-1zM99.5 247.9h1v1h-1zM92.6 251.1h1v1h-1zM88.3 256.6h1v1h-1zM88.4 254.0h1v1h-1zM91.4 253.4h1v1h-1zM96.3 258.7h1v1h-1zM94.9 251.9h1v1h-1zM97.0 252.1h1v1h-1zM87.6 255.9h1v1h-1zM96.0 250.5h1v1h-1zM88.9 250.5h1v1h-1zM103.7 254.8h1v1h-1zM85.5 250.9h1v1h-1zM102.7 253.3h1v1h-1zM101.0 242.0h1v1h-1zM97.8 246.9h1v1h-1zM97.1 250.0h1v1h-1zM84.4 255.8h1v1h-1zM99.2 249.4h1v1h-1zM96.9 250.9h1v1h-1zM98.7 250.5h1v1h-1zM84.1 247.0h1v1h-1zM98.9 255.1h1v1h-1zM93.4 242.1h1v1h-1zM97.3 250.4h1v1h-1zM103.6 254.9h1v1h-1zM103.6 250.7h1v1h-1zM107.7 243.3h1v1h-1zM107.2 250.2h1v1h-1zM100.2 260.6h1v1h-1zM98.3 251.3h1v1h-1zM108.9 256.7h1v1h-1zM96.7 249.3h1v1h-1zM93.2 242.8h1v1h-1zM97.2 255.2h1v1h-1zM93.6 250.2h1v1h-1zM93.4 246.3h1v1h-1zM107.2 251.5h1v1h-1zM98.7 247.6h1v1h-1zM105.9 248.0h1v1h-1zM94.5 256.2h1v1h-1zM98.6 253.3h1v1h-1zM98.0 248.9h1v1h-1zM93.6 255.5h1v1h-1zM90.9 251.7h1v1h-1zM101.7 253.7h1v1h-1zM99.0 250.9h1v1h-1zM96.9 249.7h1v1h-1zM100.9 253.9h1v1h-1zM120.8 242.3h1v1h-1zM97.4 250.1h1v1h-1zM104.4 252.7h1v1h-1zM97.8 257.0h1v1h-1zM104.5 246.3h1v1h-1zM104.2 249.5h1v1h-1zM103.9 252.3h1v1h-1zM97.4 252.4h1v1h-1zM89.0 250.3h1v1h-1zM86.3 249.4h1v1h-1zM107.9 246.0h1v1h-1zM113.1 248.4h1v1h-1zM108.6 246.3h1v1h-1zM106.5 249.3h1v1h-1zM105.4 248.8h1v1h-1zM89.6 255.2h1v1h-1zM87.4 259.7h1v1h-1zM101.8 247.5h1v1h-1zM102.4 247.0h1v1h-1zM100.9 254.5h1v1h-1zM100.2 249.8h1v1h-1zM103.8 249.3h1v1h-1zM104.4 250.4h1v1h-1zM88.7 255.5h1v1h-1zM94.7 255.4h1v1h-1zM105.6 247.2h1v1h-1zM110.4 252.2h1v1h-1zM106.0 253.0h1v1h-1zM107.0 250.4h1v1h-1zM95.4 257.3h1v1h-1zM97.1 255.5h1v1h-1zM82.4 259.0h1v1h-1zM108.9 250.9h1v1h-1zM98.4 248.2h1v1h-1zM104.4 254.3h1v1h-1zM89.3 259.6h1v1h-1zM111.2 250.2h1v1h-1zM87.0 251.3h1v1h-1zM105.8 247.9h1v1h-1zM84.8 252.5h1v1h-1zM91.6 248.1h1v1h-1zM80.3 256.4h1v1h-1zM108.1 245.3h1v1h-1zM95.6 249.4h1v1h-1zM97.5 254.4h1v1h-1zM95.8 251.0h1v1h-1zM81.7 256.8h1v1h-1zM106.2 245.9h1v1h-1zM101.6 253.1h1v1h-1zM106.4 249.7h1v1h-1zM95.3 251.3h1v1h-1zM86.3 249.1h1v1h-1zM103.1 256.6h1v1h-1zM91.2 253.5h1v1h-1zM98.4 255.0h1v1h-1zM103.9 261.6h1v1h-1zM96.6 245.3h1v1h-1zM92.0 250.2h1v1h-1zM101.7 249.6h1v1h-1zM105.3 244.3h1v1h-1zM107.2 250.3h1v1h-1zM97.0 249.1h1v1h-1zM90.6 252.2h1v1h-1zM97.1 252.5h1v1h-1zM93.5 253.5h1v1h-1zM109.1 251.3h1v1h-1zM97.8 246.3h1v1h-1zM103.1 251.4h1v1h-1zM90.6 257.2h1v1h-1zM103.7 251.0h1v1h-1zM96.3 249.9h1v1h-1zM108.0 250.7h1v1h-1zM94.9 254.6h1v1h-1zM97.5 261.4h1v1h-1zM115.1 245.6h1v1h-1zM103.3 250.1h1v1h-1zM99.8 252.0h1v1h-1zM94.1 250.6h1v1h-1zM102.3 253.4h1v1h-1zM106.7 253.2h1v1h-1zM117.2 244.6h1v1h-1zM94.7 250.3h1v1h-1zM96.7 240.6h1v1h-1zM102.4 253.7h1v1h-1zM108.5 246.1h1v1h-1zM99.6 246.7h1v1h-1zM85.1 248.6h1v1h-1zM100.1 250.6h1v1h-1zM88.4 251.9h1v1h-1zM106.9 253.6h1v1h-1zM81.8 248.3h1v1h-1zM91.4 254.6h1v1h-1zM98.0 244.7h1v1h-1zM106.2 251.8h1v1h-1zM107.3 246.7h1v1h-1zM99.8 248.9h1v1h-1zM94.6 252.6h1v1h-1zM99.0 254.7h1v1h-1zM102.5 248.3h1v1h-1zM99.4 252.5h1v1h-1zM99.5 256.8h1v1h-1zM106.4 245.0h1v1h-1zM97.8 244.6h1v1h-1zM98.3 246.9h1v1h-1zM96.6 254.2h1v1h-1zM88.1 252.3h1v1h-1zM93.1 254.6h1v1h-1zM113.8 249.8h1v1h-1zM110.8 253.7h1v1h-1zM93.0 252.2h1v1h-1zM100.0 258.6h1v1h-1zM106.0 249.7h1v1h-1zM98.9 254.6h1v1h-1zM85.2 256.2h1v1h-1zM98.8 253.9h1v1h-1zM100.5 250.1h1v1h-1zM102.4 245.8h1v1h-1zM103.2 247.6h1v1h-1zM101.8 255.4h1v1h-1zM84.3 259.8h1v1h-1zM94.8 247.8h1v1h-1zM88.6 259.0h1v1h-1zM102.3 249.2h1v1h-1zM106.3 250.8h1v1h-1zM102.4 252.1h1v1h-1zM101.5 250.2h1v1h-1zM87.2 256.9h1v1h-1zM96.6 249.6h1v1h-1zM104.0 247.1h1v1h-1zM97.5 259.6h1v1h-1zM92.4 253.8h1v1h-1zM109.5 257.2h1v1h-1zM89.5 253.7h1v1h-1zM96.9 248.0h1v1h-1zM101.0 254.3h1v1h-1zM106.9 256.1h1v1h-1zM96.3 249.9h1v1h-1zM99.5 248.1h1v1h-1zM89.3 250.4h1v1h-1zM90.1 254.6h1v1h-1zM109.8 250.2h1v1h-1zM103.8 257.4h1v1h-1zM97.8 254.4h1v1h-1zM89.0 255.4h1v1h-1zM99.9 252.3h1v1h-1zM105.7 256.8h1v1h-1zM98.3 255.2h1v1h-1zM109.5 250.8h1v1h-1zM98.5 250.2h1v1h-1zM87.2 256.8h1v1h-1zM90.8 249.8h1v1h-1zM108.9 250.8h1v1h-1zM99.7 251.3h1v1h-1zM94.2 252.3h1v1h-1zM100.4 243.5h1v1h-1zM85.4 253.4h1v1h-1zM99.6 247.2h1v1h-1zM84.7 261.1h1v1h-1zM80.7 256.1h1v1h-1zM93.9 255.9h1v1h-1zM93.0 261.4h1v1h-1zM93.7 253.0h1v1h-1zM86.9 253.4h1v1h-1zM86.5 252.9h1v1h-1zM94.1 249.7h1v1h-1zM87.8 253.6h1v1h-1zM83.2 251.7h1v1h-1zM77.2 259.5h1v1h-1zM89.6 262.4h1v1h-1zM96.3 265.4h1v1h-1zM92.5 254.1h1v1h-1zM87.8 253.9h1v1h-1zM85.4 262.0h1v1h-1zM79.6 256.6h1v1h-1zM88.6 261.2h1v1h-1zM89.3 256.8h1v1h-1zM87.0 254.9h1v1h-1zM88.4 262.1h1v1h-1zM90.6 263.0h1v1h-1zM95.7 254.9h1v1h-1zM100.7 250.1h1v1h-1zM96.7 253.9h1v1h-1zM110.4 250.8h1v1h-1zM95.3 255.3h1v1h-1zM92.2 255.6h1v1h-1zM94.3 249.6h1v1h-1zM93.3 260.1h1v1h-1zM91.0 255.6h1v1h-1zM94.3 255.4h1v1h-1zM81.2 255.9h1v1h-1zM89.9 260.0h1v1h-1zM88.6 253.9h1v1h-1zM87.8 256.7h1v1h-1zM87.3 249.2h1v1h-1zM92.1 256.0h1v1h-1zM90.9 257.9h1v1h-1zM82.8 264.6h1v1h-1zM89.8 262.5h1v1h-1zM101.8 248.8h1v1h-1zM103.7 253.9h1v1h-1zM100.4 248.2h1v1h-1zM98.6 257.7h1v1h-1zM92.7 253.0h1v1h-1zM87.5 258.7h1v1h-1zM87.2 258.5h1v1h-1zM86.4 251.6h1v1h-1zM89.3 250.0h1v1h-1zM101.3 257.7h1v1h-1zM90.4 251.3h1v1h-1zM98.9 254.7h1v1h-1zM92.7 257.5h1v1h-1zM88.4 257.3h1v1h-1zM95.6 256.8h1v1h-1zM86.7 254.2h1v1h-1zM90.7 255.1h1v1h-1zM84.2 263.1h1v1h-1zM87.0 263.2h1v1h-1zM111.8 253.1h1v1h-1zM97.5 250.1h1v1h-1zM97.2 256.4h1v1h-1zM103.6 253.7h1v1h-1zM91.1 250.5h1v1h-1zM92.5 256.3h1v1h-1zM93.7 260.3h1v1h-1zM100.9 256.9h1v1h-1zM94.8 258.9h1v1h-1zM83.7 249.2h1v1h-1zM79.7 258.6h1v1h-1zM83.5 265.3h1v1h-1zM95.5 250.7h1v1h-1zM88.3 254.1h1v1h-1zM93.1 257.6h1v1h-1zM96.9 253.3h1v1h-1zM97.3 252.1h1v1h-1zM107.4 251.5h1v1h-1zM86.4 262.1h1v1h-1zM93.8 254.2h1v1h-1zM91.0 253.4h1v1h-1zM82.4 258.9h1v1h-1zM89.1 259.7h1v1h-1zM99.8 258.1h1v1h-1zM88.3 260.7h1v1h-1zM106.5 250.9h1v1h-1zM94.3 260.7h1v1h-1zM91.6 255.7h1v1h-1zM95.5 254.9h1v1h-1zM97.7 255.6h1v1h-1zM86.3 260.1h1v1h-1zM91.3 258.6h1v1h-1zM88.4 263.7h1v1h-1zM98.2 258.3h1v1h-1zM85.2 254.5h1v1h-1zM86.5 258.6h1v1h-1zM95.9 257.1h1v1h-1zM90.1 258.0h1v1h-1zM87.7 257.5h1v1h-1zM96.5 259.5h1v1h-1z" fill="#000" fill-opacity="0.5"/>
<path d="M89.5 247.9h1v1h-1zM100.0 250.4h1v1h-1zM99.8 253.8h1v1h-1zM104.1 252.4h1v1h-1zM88.5 253.7h1v1h-1zM85.4 254.2h1v1h-1zM77.1 256.5h1v1h-1zM99.4 251.0h1v1h-1zM93.8 251.4h1v1h-1zM104.1 254.6h1v1h-1zM98.1 248.5h1v1h-1zM95.8 256.0h1v1h-1zM100.0 251.0h1v1h-1zM101.7 256.1h1v1h-1zM94.0 261.1h1v1h-1zM110.5 240.5h1v1h-1zM97.1 256.1h1v1h-1zM90.4 246.7h1v1h-1zM102.7 248.8h1v1h-1zM105.8 253.2h1v1h-1zM93.5 251.4h1v1h-1zM96.7 250.3h1v1h-1zM113.1 252.9h1v1h-1zM104.8 249.4h1v1h-1zM107.9 248.4h1v1h-1zM91.2 248.5h1v1h-1zM89.1 251.2h1v1h-1zM83.6 255.4h1v1h-1zM106.4 252.3h1v1h-1zM104.1 244.5h1v1h-1zM89.2 252.1h1v1h-1zM96.5 253.5h1v1h-1zM93.0 249.3h1v1h-1zM98.2 257.0h1v1h-1zM91.5 257.5h1v1h-1zM98.4 250.1h1v1h-1zM98.8 259.9h1v1h-1zM100.3 246.9h1v1h-1zM100.3 257.4h1v1h-1zM98.3 256.5h1v1h-1zM94.5 254.5h1v1h-1zM92.4 251.4h1v1h-1zM87.7 254.3h1v1h-1zM101.7 247.1h1v1h-1zM87.2 258.5h1v1h-1zM90.3 249.3h1v1h-1zM94.3 251.8h1v1h-1zM80.2 255.5h1v1h-1zM91.3 252.6h1v1h-1zM106.3 255.5h1v1h-1zM87.6 256.8h1v1h-1zM94.4 252.0h1v1h-1zM95.2 252.2h1v1h-1zM92.1 259.2h1v1h-1zM93.7 251.2h1v1h-1zM82.8 251.0h1v1h-1zM105.1 252.9h1v1h-1zM89.3 248.7h1v1h-1zM92.2 250.9h1v1h-1zM94.3 246.1h1v1h-1zM100.9 246.7h1v1h-1zM95.3 251.9h1v1h-1zM96.9 255.6h1v1h-1zM110.5 247.9h1v1h-1zM94.0 256.7h1v1h-1zM110.2 255.4h1v1h-1zM109.8 245.2h1v1h-1zM92.3 255.4h1v1h-1zM102.0 251.0h1v1h-1zM107.2 256.1h1v1h-1zM93.3 248.2h1v1h-1zM91.0 253.5h1v1h-1zM103.8 252.3h1v1h-1zM90.4 256.4h1v1h-1zM91.6 251.5h1v1h-1zM90.9 257.9h1v1h-1zM92.9 251.0h1v1h-1zM110.2 247.3h1v1h-1zM99.9 249.5h1v1h-1zM96.4 250.1h1v1h-1zM97.2 256.1h1v1h-1zM104.8 249.6h1v1h-1zM115.3 242.5h1v1h-1zM103.0 254.9h1v1h-1zM93.6 255.8h1v1h-1zM102.9 242.6h1v1h-1zM95.8 249.4h1v1h-1zM86.9 243.9h1v1h-1zM110.0 251.4h1v1h-1zM95.3 249.3h1v1h-1zM92.9 247.8h1v1h-1zM101.3 254.7h1v1h-1zM84.1 252.8h1v1h-1zM105.1 243.3h1v1h-1zM100.6 245.7h1v1h-1zM84.0 259.2h1v1h-1zM91.5 252.9h1v1h-1zM96.2 253.7h1v1h-1zM94.6 254.6h1v1h-1zM91.8 253.3h1v1h-1zM109.2 247.6h1v1h-1zM110.8 244.9h1v1h-1zM112.0 256.7h1v1h-1zM103.3 239.7h1v1h-1zM87.2 257.2h1v1h-1zM92.0 256.2h1v1h-1zM110.3 247.8h1v1h-1zM96.2 253.6h1v1h-1zM94.5 252.8h1v1h-1zM95.1 253.8h1v1h-1zM103.9 251.3h1v1h-1zM111.6 251.9h1v1h-1zM94.6 258.9h1v1h-1zM93.3 245.6h1v1h-1zM88.4 254.5h1v1h-1zM111.3 252.4h1v1h-1zM97.4 250.6h1v1h-1zM111.4 247.3h1v1h-1zM112.9 247.3h1v1h-1zM105.3 247.2h1v1h-1zM76.5 264.1h1v1h-1zM90.5 251.1h1v1h-1zM101.1 252.2h1v1h-1zM99.1 261.5h1v1h-1zM98.8 253.9h1v1h-1zM100.8 249.1h1v1h-1zM103.5 247.1h1v1h-1zM90.7 262.0h1v1h-1zM111.5 251.7h1v1h-1zM95.3 249.1h1v1h-1zM96.0 248.5h1v1h-1zM93.3 248.0h1v1h-1zM96.0 256.9h1v1h-1zM89.1 255.8h1v1h-1zM101.7 248.6h1v1h-1zM96.6 249.4h1v1h-1zM106.3 258.1h1v1h-1zM110.4 248.4h1v1h-1zM92.8 251.1h1v1h-1zM104.5 249.6h1v1h-1zM110.5 250.7h1v1h-1zM92.9 251.8h1v1h-1zM89.2 248.5h1v1h-1zM97.9 255.0h1v1h-1zM100.5 254.0h1v1h-1zM86.1 249.2h1v1h-1zM104.9 246.6h1v1h-1zM104.5 254.2h1v1h-1zM107.2 255.9h1v1h-1zM110.6 247.7h1v1h-1zM113.5 254.1h1v1h-1zM116.5 249.7h1v1h-1zM105.6 246.7h1v1h-1zM103.7 256.4h1v1h-1zM95.0 250.2h1v1h-1zM93.0 256.4h1v1h-1zM96.3 252.6h1v1h-1zM80.3 256.6h1v1h-1zM88.9 250.0h1v1h-1zM100.6 257.1h1v1h-1zM108.3 249.3h1v1h-1zM97.9 253.1h1v1h-1zM104.2 250.1h1v1h-1zM107.5 256.9h1v1h-1zM99.3 248.0h1v1h-1zM85.8 257.1h1v1h-1zM106.6 248.6h1v1h-1zM103.2 248.9h1v1h-1zM90.6 252.2h1v1h-1zM84.3 257.2h1v1h-1zM97.4 248.3h1v1h-1zM104.9 241.1h1v1h-1zM99.5 253.7h1v1h-1zM93.7 249.1h1v1h-1zM108.3 247.6h1v1h-1zM105.6 251.8h1v1h-1zM116.1 245.4h1v1h-1zM100.4 245.0h1v1h-1zM94.5 251.5h1v1h-1zM99.2 250.9h1v1h-1zM91.0 240.9h1v1h-1zM99.7 252.4h1v1h-1zM87.3 257.0h1v1h-1zM88.5 253.1h1v1h-1zM101.4 250.8h1v1h-1zM90.9 252.1h1v1h-1zM112.8 253.0h1v1h-1zM97.1 252.4h1v1h-1zM98.6 253.7h1v1h-1zM90.9 250.7h1v1h-1zM92.2 252.0h1v1h-1zM85.6 253.0h1v1h-1zM89.3 250.2h1v1h-1zM108.2 250.2h1v1h-1zM106.1 253.3h1v1h-1zM105.2 255.8h1v1h-1zM103.1 259.5h1v1h-1zM108.3 244.8h1v1h-1zM98.5 247.0h1v1h-1zM94.1 251.3h1v1h-1zM101.5 252.2h1v1h-1zM106.6 254.4h1v1h-1zM100.2 247.1h1v1h-1zM100.3 247.1h1v1h-1zM96.3 256.4h1v1h-1zM95.9 248.8h1v1h-1zM102.3 253.0h1v1h-1zM103.0 257.0h1v1h-1zM86.5 253.4h1v1h-1zM98.8 254.9h1v1h-1zM101.5 248.7h1v1h-1zM106.4 241.2h1v1h-1zM99.2 256.0h1v1h-1zM105.1 250.8h1v1h-1zM92.7 254.8h1v1h-1zM94.1 251.9h1v1h-1zM94.1 252.8h1v1h-1zM91.3 252.8h1v1h-1zM108.5 252.5h1v1h-1zM106.1 248.0h1v1h-1zM94.6 246.1h1v1h-1zM97.8 249.1h1v1h-1zM100.3 250.5h1v1h-1zM91.8 259.2h1v1h-1zM94.9 250.6h1v1h-1zM92.5 252.6h1v1h-1zM93.9 252.4h1v1h-1zM106.6 245.3h1v1h-1zM99.8 249.3h1v1h-1zM97.7 248.9h1v1h-1zM88.6 256.5h1v1h-1zM79.6 251.3h1v1h-1zM98.8 248.0h1v1h-1zM89.6 255.4h1v1h-1zM99.1 251.6h1v1h-1zM105.2 252.1h1v1h-1zM107.5 245.7h1v1h-1zM88.2 255.9h1v1h-1zM94.9 255.5h1v1h-1zM104.3 249.4h1v1h-1zM106.8 245.8h1v1h-1zM94.1 250.1h1v1h-1zM101.7 250.9h1v1h-1zM108.7 247.9h1v1h-1zM94.6 249.3h1v1h-1zM98.1 254.7h1v1h-1zM110.6 242.2h1v1h-1zM102.5 252.5h1v1h-1zM97.1 256.2h1v1h-1zM110.9 252.0h1v1h-1zM101.4 247.6h1v1h-1zM100.8 245.0h1v1h-1zM95.7 255.0h1v1h-1zM101.1 248.4h1v1h-1zM102.4 247.0h1v1h-1zM111.9 243.9h1v1h-1zM103.8 252.6h1v1h-1zM103.8 253.1h1v1h-1zM92.1 252.4h1v1h-1zM96.6 251.7h1v1h-1zM99.9 251.9h1v1h-1zM93.6 252.8h1v1h-1zM108.9 251.2h1v1h-1zM98.2 252.7h1v1h-1zM106.0 254.6h1v1h-1zM90.2 256.1h1v1h-1zM104.2 245.3h1v1h-1zM96.1 247.4h1v1h-1zM94.6 254.3h1v1h-1zM93.5 250.4h1v1h-1zM99.8 250.1h1v1h-1zM93.7 252.7h1v1h-1zM100.1 250.0h1v1h-1zM102.5 243.0h1v1h-1zM104.8 249.8h1v1h-1zM104.6 256.1h1v1h-1zM103.7 255.1h1v1h-1zM90.8 251.5h1v1h-1zM91.3 251.6h1v1h-1zM101.9 252.7h1v1h-1zM102.3 246.5h1v1h-1zM106.4 252.2h1v1h-1zM81.7 259.5h1v1h-1zM100.7 248.7h1v1h-1zM83.5 260.5h1v1h-1zM99.9 248.3h1v1h-1zM90.8 252.2h1v1h-1zM87.9 258.4h1v1h-1zM97.5 253.8h1v1h-1zM100.6 250.6h1v1h-1zM98.5 259.4h1v1h-1zM99.5 245.0h1v1h-1zM101.3 252.4h1v1h-1zM98.6 251.8h1v1h-1zM92.9 253.8h1v1h-1zM99.2 248.3h1v1h-1zM103.7 248.0h1v1h-1zM90.2 259.9h1v1h-1zM99.4 255.0h1v1h-1zM96.6 254.3h1v1h-1zM98.8 256.4h1v1h-1zM96.0 243.5h1v1h-1zM96.7 249.3h1v1h-1zM88.7 247.3h1v1h-1zM101.3 251.0h1v1h-1zM113.8 254.1h1v1h-1zM96.1 259.4h1v1h-1zM101.1 253.8h1v1h-1zM98.6 255.8h1v1h-1zM106.7 239.9h1v1h-1zM104.8 247.1h1v1h-1zM103.7 249.9h1v1h-1zM90.2 245.8h1v1h-1zM106.7 250.1h1v1h-1zM107.2 254.4h1v1h-1zM100.8 251.6h1v1h-1zM116.5 241.3h1v1h-1zM100.0 250.8h1v1h-1zM97.3 251.3h1v1h-1zM99.9 256.5h1v1h-1zM101.2 249.9h1v1h-1zM97.7 248.3h1v1h-1zM90.9 246.6h1v1h-1zM91.0 253.0h1v1h-1zM104.2 249.0h1v1h-1zM89.9 245.9h1v1h-1zM100.5 250.8h1v1h-1zM105.5 240.5h1v1h-1zM94.0 250.9h1v1h-1zM96.5 252.2h1v1h-1zM81.5 255.6h1v1h-1zM101.8 254.0h1v1h-1zM119.9 245.0h1v1h-1zM97.3 255.9h1v1h-1zM97.0 245.5h1v1h-1zM105.2 246.1h1v1h-1zM108.1 243.9h1v1h-1zM93.9 249.3h1v1h-1zM108.9 246.5h1v1h-1zM104.0 252.9h1v1h-1zM92.2 260.7h1v1h-1zM101.8 246.9h1v1h-1zM93.8 253.9h1v1h-1zM91.9 255.3h1v1h-1zM85.8 258.0h1v1h-1zM97.1 246.9h1v1h-1zM96.4 254.7h1v1h-1zM98.6 248.9h1v1h-1zM92.7 255.3h1v1h-1zM93.1 250.7h1v1h-1zM93.5 248.0h1v1h-1zM96.0 247.7h1v1h-1zM90.3 252.8h1v1h-1zM100.2 251.3h1v1h-1zM90.1 258.7h1v1h-1zM98.3 253.5h1v1h-1zM94.0 252.7h1v1h-1zM90.9 254.0h1v1h-1zM104.3 251.2h1v1h-1zM101.0 249.6h1v1h-1zM108.1 252.3h1v1h-1zM91.5 254.7h1v1h-1zM98.9 248.9h1v1h-1zM97.3 252.2h1v1h-1zM102.5 252.6h1v1h-1zM94.0 253.8h1v1h-1zM101.1 246.9h1v1h-1zM105.0 251.7h1v1h-1zM101.7 250.7h1v1h-1zM99.7 252.1h1v1h-1zM105.4 248.3h1v1h-1zM94.8 255.1h1v1h-1zM102.8 250.3h1v1h-1zM102.6 251.3h1v1h-1zM116.1 245.2h1v1h-1zM94.3 250.0h1v1h-1zM93.6 244.0h1v1h-1zM86.0 249.3h1v1h-1zM105.7 245.9h1v1h-1zM99.6 254.4h1v1h-1zM101.0 254.1h1v1h-1zM105.8 247.6h1v1h-1zM104.0 252.3h1v1h-1zM91.1 256.5h1v1h-1zM95.7 256.6h1v1h-1zM99.1 255.2h1v1h-1zM105.9 243.5h1v1h-1zM100.7 252.8h1v1h-1zM92.2 244.5h1v1h-1zM94.9 254.4h1v1h-1zM92.1 253.7h1v1h-1zM91.0 259.0h1v1h-1zM108.1 250.6h1v1h-1zM97.1 256.8h1v1h-1zM96.7 251.5h1v1h-1zM94.7 248.4h1v1h-1zM108.6 246.7h1v1h-1zM90.1 264.1h1v1h-1zM101.5 245.9h1v1h-1zM98.6 249.1h1v1h-1zM85.8 257.2h1v1h-1zM101.6 255.8h1v1h-1zM89.7 252.1h1v1h-1zM102.6 249.2h1v1h-1zM92.7 254.7h1v1h-1zM108.1 256.1h1v1h-1zM93.7 246.4h1v1h-1zM97.5 260.1h1v1h-1zM90.7 255.5h1v1h-1zM96.8 245.5h1v1h-1zM106.7 243.0h1v1h-1zM106.2 250.2h1v1h-1zM92.9 247.9h1v1h-1zM100.8 245.1h1v1h-1zM97.0 254.1h1v1h-1zM98.9 241.0h1v1h-1zM106.2 248.0h1v1h-1zM81.7 254.0h1v1h-1zM96.9 256.2h1v1h-1zM97.1 252.5h1v1h-1zM103.0 248.9h1v1h-1zM107.1 248.4h1v1h-1zM100.0 255.4h1v1h-1zM89.4 250.0h1v1h-1zM99.5 252.9h1v1h-1zM78.3 250.4h1v1h-1zM99.0 253.3h1v1h-1zM88.3 254.5h1v1h-1zM98.3 250.4h1v1h-1zM103.4 248.7h1v1h-1zM98.4 249.9h1v1h-1zM102.5 248.9h1v1h-1zM89.6 249.0h1v1h-1zM105.7 256.4h1v1h-1zM104.6 251.7h1v1h-1zM105.4 248.7h1v1h-1zM103.5 247.6h1v1h-1zM103.0 252.3h1v1h-1zM97.1 251.0h1v1h-1zM95.9 246.0h1v1h-1zM105.4 255.5h1v1h-1zM108.7 247.6h1v1h-1zM96.2 251.0h1v1h-1zM104.8 253.4h1v1h-1zM92.1 249.0h1v1h-1zM103.8 255.5h1v1h-1zM101.3 249.7h1v1h-1zM99.6 246.4h1v1h-1zM111.2 245.6h1v1h-1zM99.7 256.9h1v1h-1zM106.4 248.7h1v1h-1zM106.6 250.7h1v1h-1zM89.6 257.9h1v1h-1zM100.0 255.5h1v1h-1zM109.4 252.9h1v1h-1zM90.8 254.7h1v1h-1zM104.9 251.7h1v1h-1zM110.1 249.0h1v1h-1zM104.8 250.3h1v1h-1zM90.9 252.0h1v1h-1zM96.2 245.1h1v1h-1zM96.1 254.4h1v1h-1zM100.6 255.6h1v1h-1zM101.0 242.9h1v1h-1zM98.6 246.5h1v1h-1zM98.7 249.0h1v1h-1zM104.1 254.4h1v1h-1zM98.0 247.3h1v1h-1zM108.4 250.2h1v1h-1zM92.6 255.3h1v1h-1zM102.0 252.8h1v1h-1zM102.1 254.0h1v1h-1zM90.1 253.4h1v1h-1zM93.8 251.4h1v1h-1zM93.7 249.0h1v1h-1zM86.4 252.1h1v1h-1zM89.1 255.7h1v1h-1zM85.2 249.7h1v1h-1zM91.8 254.1h1v1h-1zM93.2 260.5h1v1h-1zM96.4 253.2h1v1h-1zM87.3 258.7h1v1h-1zM100.1 254.8h1v1h-1zM110.5 253.3h1v1h-1zM87.9 249.1h1v1h-1zM98.6 251.6h1v1h-1zM104.0 253.6h1v1h-1zM92.4 257.6h1v1h-1zM94.3 250.3h1v1h-1zM97.0 250.5h1v1h-1zM89.8 250.0h1v1h-1zM97.0 253.9h1v1h-1zM110.1 250.7h1v1h-1zM94.8 250.7h1v1h-1zM100.3 245.1h1v1h-1zM91.5 248.9h1v1h-1zM86.9 257.0h1v1h-1zM108.7 259.2h1v1h-1zM112.5 253.0h1v1h-1zM106.1 251.5h1v1h-1zM98.1 242.5h1v1h-1zM95.5 249.8h1v1h-1zM100.0 257.7h1v1h-1zM103.9 251.0h1v1h-1zM103.7 253.0h1v1h-1zM95.9 251.8h1v1h-1zM98.4 240.7h1v1h-1zM107.0 251.5h1v1h-1zM99.2 249.5h1v1h-1zM97.7 248.4h1v1h-1zM104.9 254.9h1v1h-1zM85.0 256.2h1v1h-1zM96.3 255.4h1v1h-1zM89.6 250.5h1v1h-1zM91.9 252.6h1v1h-1zM86.5 248.8h1v1h-1zM104.6 252.2h1v1h-1zM97.3 252.7h1v1h-1zM82.5 248.8h1v1h-1zM115.9 248.6h1v1h-1zM103.9 254.9h1v1h-1zM101.8 245.1h1v1h-1zM84.7 251.5h1v1h-1zM90.2 251.2h1v1h-1zM99.8 248.5h1v1h-1zM101.0 251.1h1v1h-1zM94.5 255.9h1v1h-1zM100.2 252.4h1v1h-1zM111.6 244.1h1v1h-1zM95.3 248.6h1v1h-1zM91.9 257.3h1v1h-1zM88.5 256.4h1v1h-1zM104.7 254.2h1v1h-1zM91.5 251.4h1v1h-1zM88.5 258.2h1v1h-1zM95.1 253.8h1v1h-1zM112.2 248.3h1v1h-1zM97.2 250.5h1v1h-1zM107.5 250.4h1v1h-1zM96.9 253.7h1v1h-1zM111.3 244.8h1v1h-1zM92.7 245.9h1v1h-1zM96.3 252.3h1v1h-1zM84.2 252.6h1v1h-1zM93.8 257.9h1v1h-1zM97.2 244.9h1v1h-1zM124.3 248.5h1v1h-1zM97.5 245.8h1v1h-1zM103.5 248.1h1v1h-1zM93.2 252.6h1v1h-1zM105.5 249.2h1v1h-1zM97.5 253.2h1v1h-1zM88.7 249.3h1v1h-1zM95.6 248.0h1v1h-1zM93.4 250.6h1v1h-1zM99.8 251.7h1v1h-1zM98.9 254.8h1v1h-1zM99.5 251.3h1v1h-1zM103.2 254.9h1v1h-1zM107.3 249.8h1v1h-1zM107.6 244.0h1v1h-1zM96.0 252.2h1v1h-1zM100.2 250.9h1v1h-1zM96.2 251.9h1v1h-1zM106.7 254.2h1v1h-1zM107.4 244.8h1v1h-1zM114.3 252.7h1v1h-1zM93.5 250.8h1v1h-1zM95.9 246.1h1v1h-1zM110.1 251.4h1v1h-1zM98.4 246.5h1v1h-1zM81.0 256.1h1v1h-1zM102.2 255.7h1v1h-1zM89.1 245.2h1v1h-1zM101.3 243.2h1v1h-1zM85.9 258.4h1v1h-1zM86.2 255.1h1v1h-1zM114.8 250.3h1v1h-1zM95.8 257.1h1v1h-1zM98.5 249.2h1v1h-1zM92.6 259.8h1v1h-1zM94.6 252.2h1v1h-1zM88.5 259.7h1v1h-1zM94.3 259.1h1v1h-1zM105.2 248.8h1v1h-1zM95.4 252.5h1v1h-1zM109.4 249.1h1v1h-1zM78.6 258.1h1v1h-1zM100.1 248.3h1v1h-1zM104.0 255.4h1v1h-1zM99.5 251.6h1v1h-1zM85.1 251.1h1v1h-1zM100.0 250.8h1v1h-1zM97.4 251.5h1v1h-1zM93.5 255.7h1v1h-1zM102.7 248.2h1v1h-1zM106.7 250.6h1v1h-1zM98.4 247.6h1v1h-1zM94.0 251.4h1v1h-1zM96.3 246.7h1v1h-1zM82.7 251.0h1v1h-1zM108.2 243.7h1v1h-1zM105.3 251.2h1v1h-1zM88.8 257.5h1v1h-1zM96.3 253.4h1v1h-1zM103.1 247.5h1v1h-1zM104.3 244.5h1v1h-1zM99.5 242.8h1v1h-1zM79.8 259.3h1v1h-1zM89.6 250.9h1v1h-1zM97.0 255.4h1v1h-1zM102.2 245.0h1v1h-1zM102.1 248.4h1v1h-1zM84.7 254.2h1v1h-1zM77.8 248.2h1v1h-1zM102.0 255.0h1v1h-1zM104.1 245.8h1v1h-1zM100.2 253.2h1v1h-1zM96.9 244.6h1v1h-1zM100.7 251.0h1v1h-1zM108.1 254.0h1v1h-1zM103.6 248.9h1v1h-1zM102.2 247.4h1v1h-1zM89.8 256.5h1v1h-1zM94.5 248.9h1v1h-1zM101.6 253.8h1v1h-1zM96.1 250.0h1v1h-1zM102.9 250.1h1v1h-1zM101.6 246.9h1v1h-1zM95.4 248.7h1v1h-1zM103.5 249.7h1v1h-1zM91.4 258.9h1v1h-1zM97.8 253.2h1v1h-1zM92.2 254.5h1v1h-1zM81.3 256.4h1v1h-1zM91.5 259.7h1v1h-1zM106.0 248.5h1v1h-1zM90.0 257.3h1v1h-1zM96.3 247.6h1v1h-1zM109.2 250.5h1v1h-1zM88.6 254.2h1v1h-1zM89.6 247.6h1v1h-1zM114.1 252.2h1v1h-1zM107.9 252.9h1v1h-1zM116.7 246.2h1v1h-1zM93.3 256.4h1v1h-1zM105.2 252.9h1v1h-1zM92.3 260.0h1v1h-1zM100.0 250.8h1v1h-1zM93.4 250.8h1v1h-1zM96.1 256.9h1v1h-1zM109.7 255.1h1v1h-1zM93.3 255.8h1v1h-1zM97.3 249.6h1v1h-1zM98.1 256.0h1v1h-1zM80.4 256.1h1v1h-1zM94.4 259.0h1v1h-1zM98.1 246.2h1v1h-1zM91.5 255.3h1v1h-1zM100.3 248.0h1v1h-1zM95.0 255.9h1v1h-1zM105.0 247.9h1v1h-1zM107.8 251.4h1v1h-1zM102.5 250.6h1v1h-1zM101.1 254.1h1v1h-1zM89.3 251.8h1v1h-1zM105.1 256.8h1v1h-1zM103.0 246.0h1v1h-1zM89.1 252.8h1v1h-1zM93.1 255.0h1v1h-1zM101.6 250.2h1v1h-1zM92.9 253.3h1v1h-1zM102.4 250.4h1v1h-1zM91.5 249.4h1v1h-1zM94.6 250.8h1v1h-1zM108.2 255.1h1v1h-1zM98.1 253.9h1v1h-1zM90.7 253.5h1v1h-1zM94.1 247.3h1v1h-1zM102.2 255.7h1v1h-1zM105.6 254.2h1v1h-1zM96.8 252.2h1v1h-1zM110.1 252.8h1v1h-1zM112.2 249.9h1v1h-1zM94.3 253.1h1v1h-1zM114.3 250.1h1v1h-1zM107.2 250.4h1v1h-1zM98.3 247.3h1v1h-1zM102.3 256.3h1v1h-1zM92.7 257.9h1v1h-1zM95.0 255.1h1v1h-1zM92.1 247.7h1v1h-1zM90.9 244.3h1v1h-1zM102.2 248.6h1v1h-1zM97.8 247.2h1v1h-1zM94.0 253.1h1v1h-1zM107.4 249.5h1v1h-1zM109.8 248.1h1v1h-1zM102.5 247.8h1v1h-1zM107.9 248.8h1v1h-1zM104.4 246.4h1v1h-1zM107.9 251.6h1v1h-1zM98.8 248.8h1v1h-1zM101.0 254.4h1v1h-1zM98.7 252.5h1v1h-1zM110.4 244.1h1v1h-1zM89.7 251.8h1v1h-1zM101.8 253.4h1v1h-1zM88.7 255.7h1v1h-1zM109.3 249.8h1v1h-1zM91.9 250.8h1v1h-1zM94.9 249.0h1v1h-1zM113.4 244.2h1v1h-1zM87.8 254.8h1v1h-1zM101.7 251.9h1v1h-1zM91.3 247.5h1v1h-1zM105.4 250.9h1v1h-1zM98.2 243.7h1v1h-1zM99.3 249.7h1v1h-1zM106.8 249.1h1v1h-1zM85.1 245.1h1v1h-1zM106.4 251.1h1v1h-1zM107.5 245.9h1v1h-1zM93.6 251.7h1v1h-1zM90.2 259.1h1v1h-1zM99.8 248.5h1v1h-1zM93.9 253.2h1v1h-1zM99.7 252.7h1v1h-1zM98.3 255.0h1v1h-1zM101.0 250.5h1v1h-1zM89.5 248.4h1v1h-1zM103.9 253.0h1v1h-1zM89.7 249.2h1v1h-1zM85.8 255.9h1v1h-1zM97.9 249.1h1v1h-1zM93.6 255.6h1v1h-1zM96.7 252.5h1v1h-1zM95.4 251.3h1v1h-1zM95.9 249.7h1v1h-1zM99.6 250.7h1v1h-1zM99.3 256.4h1v1h-1zM87.8 255.1h1v1h-1zM115.8 250.6h1v1h-1zM83.6 255.5h1v1h-1zM103.1 251.4h1v1h-1zM89.2 254.7h1v1h-1zM89.8 257.7h1v1h-1zM101.3 246.4h1v1h-1zM94.2 257.8h1v1h-1zM92.8 254.1h1v1h-1zM94.4 249.9h1v1h-1zM100.4 252.5h1v1h-1zM88.9 254.8h1v1h-1zM98.4 249.5h1v1h-1zM94.7 251.2h1v1h-1zM123.3 245.7h1v1h-1zM106.2 259.9h1v1h-1zM104.9 248.7h1v1h-1zM88.1 256.6h1v1h-1zM93.1 247.0h1v1h-1zM82.5 256.5h1v1h-1zM97.8 251.2h1v1h-1zM103.2 243.7h1v1h-1zM100.5 249.6h1v1h-1zM101.0 252.7h1v1h-1zM97.3 246.1h1v1h-1zM91.9 255.4h1v1h-1zM87.9 262.4h1v1h-1zM107.2 252.3h1v1h-1zM90.1 256.5h1v1h-1zM94.3 244.1h1v1h-1zM97.0 258.5h1v1h-1zM97.1 258.2h1v1h-1zM91.7 252.1h1v1h-1zM96.1 256.6h1v1h-1zM92.4 254.8h1v1h-1zM97.2 253.3h1v1h-1zM81.9 261.2h1v1h-1zM91.6 255.4h1v1h-1zM91.5 257.8h1v1h-1zM90.5 259.5h1v1h-1zM89.2 256.4h1v1h-1zM93.3 258.4h1v1h-1zM94.1 252.3h1v1h-1zM83.7 252.5h1v1h-1zM86.1 261.4h1v1h-1zM91.8 256.4h1v1h-1zM93.6 256.3h1v1h-1zM97.9 252.9h1v1h-1zM96.6 253.3h1v1h-1zM86.0 263.6h1v1h-1zM97.6 260.8h1v1h-1zM90.7 247.0h1v1h-1zM85.3 259.1h1v1h-1zM96.9 255.4h1v1h-1zM78.1 253.3h1v1h-1zM94.3 257.6h1v1h-1zM86.7 260.9h1v1h-1zM85.7 253.9h1v1h-1zM94.0 256.0h1v1h-1zM99.0 253.0h1v1h-1zM100.9 249.4h1v1h-1zM92.2 258.4h1v1h-1zM90.0 261.7h1v1h-1zM94.1 253.8h1v1h-1zM95.9 261.5h1v1h-1zM90.2 257.5h1v1h-1zM94.2 260.9h1v1h-1zM99.7 250.2h1v1h-1zM101.1 249.3h1v1h-1zM91.4 254.9h1v1h-1zM84.8 253.1h1v1h-1zM88.8 254.6h1v1h-1zM87.8 260.0h1v1h-1zM85.2 259.1h1v1h-1zM96.4 250.2h1v1h-1zM86.2 258.4h1v1h-1zM89.7 257.8h1v1h-1zM88.1 259.3h1v1h-1zM88.8 258.3h1v1h-1zM93.4 261.2h1v1h-1zM93.5 251.7h1v1h-1zM90.0 261.4h1v1h-1zM94.4 261.5h1v1h-1zM104.8 249.3h1v1h-1zM95.0 255.7h1v1h-1zM93.9 255.5h1v1h-1zM89.2 259.6h1v1h-1zM90.9 249.1h1v1h-1zM97.9 258.3h1v1h-1zM88.1 259.3h1v1h-1zM86.8 259.8h1v1h-1zM98.0 254.1h1v1h-1zM93.3 257.2h1v1h-1zM87.8 257.9h1v1h-1zM92.0 257.0h1v1h-1zM87.8 253.4h1v1h-1zM93.4 257.1h1v1h-1zM84.9 255.0h1v1h-1zM93.6 259.2h1v1h-1zM91.8 257.2h1v1h-1zM86.5 262.2h1v1h-1zM97.6 254.6h1v1h-1zM105.2 251.4h1v1h-1zM102.6 253.5h1v1h-1zM105.1 250.3h1v1h-1zM87.1 265.0h1v1h-1zM102.9 259.3h1v1h-1zM104.8 252.0h1v1h-1zM90.0 246.6h1v1h-1zM101.0 264.1h1v1h-1zM88.7 255.8h1v1h-1zM93.6 252.4h1v1h-1zM89.0 252.1h1v1h-1zM83.5 256.9h1v1h-1zM88.6 251.4h1v1h-1zM92.8 254.2h1v1h-1zM84.7 254.5h1v1h-1zM94.6 260.7h1v1h-1zM86.8 262.9h1v1h-1zM97.4 257.2h1v1h-1zM90.2 257.0h1v1h-1zM89.4 257.2h1v1h-1zM87.9 264.8h1v1h-1zM91.3 255.4h1v1h-1zM84.4 255.5h1v1h-1zM94.6 255.5h1v1h-1z" fill="#000" fill-opacity="0.5"/>
<path d="M100.2 251.4h1v1h-1zM108.1 249.7h1v1h-1zM101.2 254.9h1v1h-1zM95.0 246.1h1v1h-1zM104.3 250.5h1v1h-1zM91.0 252.7h1v1h-1zM98.7 246.4h1v1h-1zM99.9 243.9h1v1h-1zM89.9 253.3h1v1h-1zM106.0 244.1h1v1h-1zM107.6 252.5h1v1h-1zM106.1 250.0h1v1h-1zM107.1 254.2h1v1h-1zM91.5 256.2h1v1h-1zM97.3 247.6h1v1h-1zM95.0 247.7h1v1h-1zM93.3 259.7h1v1h-1zM104.6 248.3h1v1h-1zM97.9 246.2h1v1h-1zM100.5 251.5h1v1h-1zM104.1 251.4h1v1h-1zM111.7 253.4h1v1h-1zM85.8 261.7h1v1h-1zM91.2 250.7h1v1h-1zM93.1 247.3h1v1h-1zM105.3 248.2h1v1h-1zM98.8 252.0h1v1h-1zM104.6 253.6h1v1h-1zM103.7 248.4h1v1h-1zM96.3 249.6h1v1h-1zM102.7 246.8h1v1h-1zM103.2 252.3h1v1h-1zM92.5 247.0h1v1h-1zM101.5 251.0h1v1h-1zM96.5 246.6h1v1h-1zM92.3 247.2h1v1h-1zM102.5 249.8h1v1h-1zM102.7 253.3h1v1h-1zM103.5 250.1h1v1h-1zM99.9 256.9h1v1h-1zM110.3 252.8h1v1h-1zM91.5 253.0h1v1h-1zM95.4 253.9h1v1h-1zM95.1 240.6h1v1h-1zM87.2 250.9h1v1h-1zM110.2 245.8h1v1h-1zM102.0 246.5h1v1h-1zM94.9 248.5h1v1h-1zM86.2 253.9h1v1h-1zM102.5 247.7h1v1h-1zM99.1 248.7h1v1h-1zM107.5 253.8h1v1h-1zM99.9 252.2h1v1h-1zM108.1 253.0h1v1h-1zM96.3 248.4h1v1h-1zM87.1 258.9h1v1h-1zM105.7 242.3h1v1h-1zM91.3 246.1h1v1h-1zM90.2 250.3h1v1h-1zM94.8 245.8h1v1h-1zM85.5 262.8h1v1h-1zM99.2 249.6h1v1h-1zM100.1 255.9h1v1h-1zM103.3 244.9h1v1h-1zM112.4 249.8h1v1h-1zM96.2 255.0h1v1h-1zM105.6 253.1h1v1h-1zM107.7 248.4h1v1h-1zM92.7 251.9h1v1h-1zM105.9 250.0h1v1h-1zM110.8 245.9h1v1h-1zM107.5 244.4h1v1h-1zM107.1 244.9h1v1h-1zM97.1 254.8h1v1h-1zM85.3 259.9h1v1h-1zM91.9 253.4h1v1h-1zM104.4 249.8h1v1h-1zM102.2 251.5h1v1h-1zM77.5 248.2h1v1h-1zM98.8 254.4h1v1h-1zM101.5 249.5h1v1h-1zM82.6 255.7h1v1h-1zM98.7 256.1h1v1h-1zM81.6 249.8h1v1h-1zM94.2 256.9h1v1h-1zM96.1 256.1h1v1h-1zM102.8 255.1h1v1h-1zM94.1 256.9h1v1h-1zM104.4 251.9h1v1h-1zM91.9 252.6h1v1h-1zM88.8 252.9h1v1h-1zM92.9 251.9h1v1h-1zM95.3 246.3h1v1h-1zM92.1 260.0h1v1h-1zM117.4 247.1h1v1h-1zM90.6 256.2h1v1h-1zM98.4 262.5h1v1h-1zM99.4 242.5h1v1h-1zM101.0 246.8h1v1h-1zM91.1 242.8h1v1h-1zM99.4 246.8h1v1h-1zM103.6 253.1h1v1h-1zM105.0 241.3h1v1h-1zM107.2 246.0h1v1h-1zM109.2 246.2h1v1h-1zM92.3 249.4h1v1h-1zM95.7 256.4h1v1h-1zM84.5 251.7h1v1h-1zM103.1 252.4h1v1h-1zM96.2 250.8h1v1h-1zM94.5 254.5h1v1h-1zM101.8 254.7h1v1h-1zM108.5 247.3h1v1h-1zM87.2 260.1h1v1h-1zM98.7 256.8h1v1h-1zM106.1 253.1h1v1h-1zM91.8 255.0h1v1h-1zM114.5 250.7h1v1h-1zM81.4 263.1h1v1h-1zM90.1 255.7h1v1h-1zM100.0 246.0h1v1h-1zM87.5 248.4h1v1h-1zM95.9 256.2h1v1h-1zM88.8 252.1h1v1h-1zM98.2 255.8h1v1h-1zM92.2 254.2h1v1h-1zM103.4 249.7h1v1h-1zM97.1 249.0h1v1h-1zM107.9 250.0h1v1h-1zM105.5 247.9h1v1h-1zM106.1 251.3h1v1h-1zM103.0 246.9h1v1h-1zM106.9 250.5h1v1h-1zM91.6 258.4h1v1h-1zM102.2 251.4h1v1h-1zM98.4 246.7h1v1h-1zM89.6 250.1h1v1h-1zM96.5 256.1h1v1h-1zM92.6 251.9h1v1h-1zM95.3 254.2h1v1h-1zM100.0 249.8h1v1h-1zM99.8 253.7h1v1h-1zM100.1 253.3h1v1h-1zM91.1 250.9h1v1h-1zM99.5 255.2h1v1h-1zM93.2 255.3h1v1h-1zM113.0 243.4h1v1h-1zM105.8 245.0h1v1h-1zM96.6 255.7h1v1h-1zM101.9 253.9h1v1h-1zM104.6 250.4h1v1h-1zM98.2 251.0h1v1h-1zM105.7 246.7h1v1h-1zM102.5 252.3h1v1h-1zM94.2 256.7h1v1h-1zM100.7 251.9h1v1h-1zM109.4 250.8h1v1h-1zM96.9 257.1h1v1h-1zM96.3 255.2h1v1h-1zM100.3 257.3h1v1h-1zM86.5 251.9h1v1h-1zM98.1 247.7h1v1h-1zM100.3 249.9h1v1h-1zM93.3 250.4h1v1h-1zM99.2 251.5h1v1h-1zM110.5 250.4h1v1h-1zM87.0 259.7h1v1h-1zM102.6 246.9h1v1h-1zM107.1 245.0h1v1h-1zM101.7 251.6h1v1h-1zM92.5 251.2h1v1h-1zM88.1 251.9h1v1h-1zM93.5 250.9h1v1h-1zM100.2 243.4h1v1h-1zM99.6 243.7h1v1h-1zM104.9 253.7h1v1h-1zM100.3 253.1h1v1h-1zM97.4 253.5h1v1h-1zM96.3 253.5h1v1h-1zM97.6 250.5h1v1h-1zM87.5 253.3h1v1h-1zM98.9 252.0h1v1h-1zM86.6 258.2h1v1h-1zM91.5 259.2h1v1h-1zM102.2 239.9h1v1h-1zM105.8 247.0h1v1h-1zM107.9 252.6h1v1h-1zM93.1 250.9h1v1h-1zM95.4 248.0h1v1h-1zM93.6 250.1h1v1h-1zM121.3 254.2h1v1h-1zM96.4 250.9h1v1h-1zM90.1 245.1h1v1h-1zM95.6 258.5h1v1h-1zM100.6 258.5h1v1h-1zM109.4 249.8h1v1h-1zM89.9 259.4h1v1h-1zM105.2 249.7h1v1h-1zM100.9 249.2h1v1h-1zM92.8 257.1h1v1h-1zM97.1 256.9h1v1h-1zM100.1 241.7h1v1h-1zM100.3 250.7h1v1h-1zM109.1 251.6h1v1h-1zM86.7 249.0h1v1h-1zM112.8 247.4h1v1h-1zM100.5 253.1h1v1h-1zM95.9 248.8h1v1h-1zM97.6 251.4h1v1h-1zM98.4 252.3h1v1h-1zM106.1 257.4h1v1h-1zM102.8 250.4h1v1h-1zM104.3 246.4h1v1h-1zM101.0 254.6h1v1h-1zM98.6 252.5h1v1h-1zM106.5 251.7h1v1h-1zM101.6 246.0h1v1h-1zM101.6 245.8h1v1h-1zM86.5 250.1h1v1h-1zM82.7 254.7h1v1h-1zM91.2 253.4h1v1h-1zM92.1 256.9h1v1h-1zM100.7 250.9h1v1h-1zM98.0 250.6h1v1h-1zM100.8 248.4h1v1h-1zM91.4 260.7h1v1h-1zM111.1 247.8h1v1h-1zM99.0 252.0h1v1h-1zM103.6 253.2h1v1h-1zM95.3 251.0h1v1h-1zM96.5 247.7h1v1h-1zM107.1 254.1h1v1h-1zM100.6 249.1h1v1h-1zM86.0 257.9h1v1h-1zM104.8 250.2h1v1h-1zM100.7 257.1h1v1h-1zM89.7 255.4h1v1h-1zM93.2 249.3h1v1h-1zM115.9 249.2h1v1h-1zM91.5 246.9h1v1h-1zM87.7 253.9h1v1h-1zM98.4 254.3h1v1h-1zM99.6 249.4h1v1h-1zM100.0 248.9h1v1h-1zM107.7 241.9h1v1h-1zM114.4 243.5h1v1h-1zM91.8 257.6h1v1h-1zM94.0 250.6h1v1h-1zM100.8 253.3h1v1h-1zM98.4 254.1h1v1h-1zM97.2 246.6h1v1h-1zM99.6 259.6h1v1h-1zM99.7 247.6h1v1h-1zM91.9 253.6h1v1h-1zM96.3 250.9h1v1h-1zM95.2 249.8h1v1h-1zM96.6 254.6h1v1h-1zM88.3 245.6h1v1h-1zM95.7 253.0h1v1h-1zM106.9 249.7h1v1h-1zM85.5 260.8h1v1h-1zM95.3 252.0h1v1h-1zM95.7 249.5h1v1h-1zM101.8 253.2h1v1h-1zM111.1 251.2h1v1h-1zM112.3 246.3h1v1h-1zM103.4 255.0h1v1h-1zM103.3 257.7h1v1h-1zM93.1 249.8h1v1h-1zM97.6 259.1h1v1h-1zM98.3 251.7h1v1h-1zM92.1 254.5h1v1h-1zM95.4 250.9h1v1h-1zM87.1 260.7h1v1h-1zM99.6 249.9h1v1h-1zM94.0 250.8h1v1h-1zM107.5 247.8h1v1h-1zM88.9 251.9h1v1h-1zM82.8 243.1h1v1h-1zM92.6 253.2h1v1h-1zM103.6 251.1h1v1h-1zM95.1 242.7h1v1h-1zM97.6 251.5h1v1h-1zM102.6 252.7h1v1h-1zM102.9 249.6h1v1h-1zM102.6 248.8h1v1h-1zM105.5 253.4h1v1h-1zM105.6 251.6h1v1h-1zM94.8 243.1h1v1h-1zM100.3 246.3h1v1h-1zM91.1 253.2h1v1h-1zM102.2 249.4h1v1h-1zM107.2 253.8h1v1h-1zM108.8 254.7h1v1h-1zM78.7 257.9h1v1h-1zM93.7 245.6h1v1h-1zM96.8 253.4h1v1h-1zM100.5 252.5h1v1h-1zM94.6 254.8h1v1h-1zM96.1 257.4h1v1h-1zM109.0 246.4h1v1h-1zM94.8 251.4h1v1h-1zM96.0 254.3h1v1h-1zM100.1 251.4h1v1h-1zM97.4 250.6h1v1h-1zM90.4 248.3h1v1h-1zM89.4 254.7h1v1h-1zM118.3 240.3h1v1h-1zM104.8 248.4h1v1h-1zM95.5 248.4h1v1h-1zM103.9 248.5h1v1h-1zM83.6 257.0h1v1h-1zM84.5 254.0h1v1h-1zM99.4 252.6h1v1h-1zM97.7 257.2h1v1h-1zM94.0 249.8h1v1h-1zM92.7 258.9h1v1h-1zM91.3 249.2h1v1h-1zM92.7 255.8h1v1h-1zM105.9 252.0h1v1h-1zM93.0 256.7h1v1h-1zM96.0 251.2h1v1h-1zM105.1 249.7h1v1h-1zM88.0 249.8h1v1h-1zM99.3 247.0h1v1h-1zM91.9 253.2h1v1h-1zM101.7 251.3h1v1h-1zM93.1 254.6h1v1h-1zM109.4 251.0h1v1h-1zM113.5 257.7h1v1h-1zM111.1 254.3h1v1h-1zM94.1 250.1h1v1h-1zM97.9 253.2h1v1h-1zM95.5 254.0h1v1h-1zM96.2 252.0h1v1h-1zM89.6 249.8h1v1h-1zM93.4 259.2h1v1h-1zM116.2 240.3h1v1h-1zM96.9 244.2h1v1h-1zM77.6 250.3h1v1h-1zM99.3 250.7h1v1h-1zM84.0 257.2h1v1h-1zM97.7 249.8h1v1h-1zM105.7 247.2h1v1h-1zM104.5 250.3h1v1h-1zM101.5 250.2h1v1h-1zM101.5 250.3h1v1h-1zM95.3 248.2h1v1h-1zM93.0 259.9h1v1h-1zM100.2 247.5h1v1h-1zM103.2 250.1h1v1h-1zM104.3 250.7h1v1h-1zM102.2 249.3h1v1h-1zM91.3 251.3h1v1h-1zM103.5 256.1h1v1h-1zM105.8 250.9h1v1h-1zM98.2 254.1h1v1h-1zM116.0 250.9h1v1h-1zM104.3 247.0h1v1h-1zM110.3 255.1h1v1h-1zM106.6 253.0h1v1h-1zM90.3 249.6h1v1h-1zM98.1 251.1h1v1h-1zM101.4 258.6h1v1h-1zM102.2 248.8h1v1h-1zM89.0 259.0h1v1h-1zM105.7 253.0h1v1h-1zM91.5 254.5h1v1h-1zM103.2 254.2h1v1h-1zM92.0 249.0h1v1h-1zM100.9 244.3h1v1h-1zM112.9 247.9h1v1h-1zM99.4 256.6h1v1h-1zM100.5 253.2h1v1h-1zM105.3 246.8h1v1h-1zM99.3 251.2h1v1h-1zM88.5 253.8h1v1h-1zM99.1 252.9h1v1h-1zM99.6 249.2h1v1h-1zM74.3 248.8h1v1h-1zM102.7 252.8h1v1h-1zM97.8 252.5h1v1h-1zM96.4 254.0h1v1h-1zM88.3 253.3h1v1h-1zM104.2 246.4h1v1h-1zM95.6 248.2h1v1h-1zM94.2 246.0h1v1h-1zM91.0 261.0h1v1h-1zM92.2 258.4h1v1h-1zM88.2 255.4h1v1h-1zM97.4 251.5h1v1h-1zM109.9 249.9h1v1h-1zM95.7 243.2h1v1h-1zM116.1 244.6h1v1h-1zM93.6 259.5h1v1h-1zM97.0 256.9h1v1h-1zM99.7 251.7h1v1h-1zM101.1 250.2h1v1h-1zM85.7 261.8h1v1h-1zM91.5 253.4h1v1h-1zM108.7 248.5h1v1h-1zM94.8 255.7h1v1h-1zM109.1 250.8h1v1h-1zM100.0 251.0h1v1h-1zM107.0 255.7h1v1h-1zM116.6 244.4h1v1h-1zM99.9 253.7h1v1h-1zM91.4 258.4h1v1h-1zM97.7 242.5h1v1h-1zM103.8 245.8h1v1h-1zM87.5 257.4h1v1h-1zM92.3 255.4h1v1h-1zM90.9 251.1h1v1h-1zM96.0 250.2h1v1h-1zM93.4 255.2h1v1h-1zM94.9 245.3h1v1h-1zM97.9 247.6h1v1h-1zM99.3 251.6h1v1h-1zM100.4 245.3h1v1h-1zM95.4 253.5h1v1h-1zM93.0 251.9h1v1h-1zM94.6 252.5h1v1h-1zM95.0 255.8h1v1h-1zM100.6 251.1h1v1h-1zM89.1 256.2h1v1h-1zM103.6 250.6h1v1h-1zM94.8 247.8h1v1h-1zM95.0 251.7h1v1h-1zM94.9 248.0h1v1h-1zM95.3 255.0h1v1h-1zM99.0 254.5h1v1h-1zM89.8 251.4h1v1h-1zM87.3 249.9h1v1h-1zM106.6 249.4h1v1h-1zM92.1 249.7h1v1h-1zM102.1 247.1h1v1h-1zM96.9 252.9h1v1h-1zM103.7 249.7h1v1h-1zM106.7 253.7h1v1h-1zM90.3 251.8h1v1h-1zM97.0 243.5h1v1h-1zM105.4 252.5h1v1h-1zM100.3 249.6h1v1h-1zM96.6 249.5h1v1h-1zM89.4 254.9h1v1h-1zM106.4 247.8h1v1h-1zM95.5 260.1h1v1h-1zM92.7 251.0h1v1h-1zM95.7 245.9h1v1h-1zM98.5 247.8h1v1h-1zM91.6 256.2h1v1h-1zM92.1 258.9h1v1h-1zM96.3 248.8h1v1h-1zM89.9 255.0h1v1h-1zM104.3 249.7h1v1h-1zM99.6 257.5h1v1h-1zM90.6 257.0h1v1h-1zM95.6 251.7h1v1h-1zM99.0 246.7h1v1h-1zM113.8 256.4h1v1h-1zM97.8 247.6h1v1h-1zM111.5 245.5h1v1h-1zM81.9 252.8h1v1h-1zM105.1 245.7h1v1h-1zM108.5 243.6h1v1h-1zM99.5 249.9h1v1h-1zM101.4 245.1h1v1h-1zM102.2 261.2h1v1h-1zM106.1 247.2h1v1h-1zM90.8 250.3h1v1h-1zM96.9 259.2h1v1h-1zM103.3 253.0h1v1h-1zM100.6 249.7h1v1h-1zM102.1 250.8h1v1h-1zM92.6 252.0h1v1h-1zM91.1 255.7h1v1h-1zM106.2 247.5h1v1h-1zM112.5 248.2h1v1h-1zM96.8 252.6h1v1h-1zM95.2 260.9h1v1h-1zM94.8 248.4h1v1h-1zM98.1 248.9h1v1h-1zM93.6 250.5h1v1h-1zM97.7 251.0h1v1h-1zM95.3 246.9h1v1h-1zM89.7 248.8h1v1h-1zM96.4 253.0h1v1h-1zM90.1 246.8h1v1h-1zM90.2 247.3h1v1h-1zM100.7 250.7h1v1h-1zM86.5 248.6h1v1h-1zM105.5 246.9h1v1h-1zM95.0 256.7h1v1h-1zM89.4 255.1h1v1h-1zM100.8 247.5h1v1h-1zM97.2 254.7h1v1h-1zM101.8 250.1h1v1h-1zM92.9 245.2h1v1h-1zM105.2 250.9h1v1h-1zM95.4 252.0h1v1h-1zM97.6 247.1h1v1h-1zM102.8 248.0h1v1h-1zM105.1 253.8h1v1h-1zM94.2 248.7h1v1h-1zM105.2 244.4h1v1h-1zM105.7 250.8h1v1h-1zM85.9 254.9h1v1h-1zM95.3 253.9h1v1h-1zM101.5 248.3h1v1h-1zM83.1 259.5h1v1h-1zM116.3 244.4h1v1h-1zM85.4 250.2h1v1h-1zM102.3 253.3h1v1h-1zM105.5 246.8h1v1h-1zM101.0 252.1h1v1h-1zM85.9 247.5h1v1h-1zM87.8 261.2h1v1h-1zM105.9 252.6h1v1h-1zM101.5 256.8h1v1h-1zM93.5 248.9h1v1h-1zM98.3 253.3h1v1h-1zM102.8 252.4h1v1h-1zM108.2 249.4h1v1h-1zM105.0 245.1h1v1h-1zM94.4 247.3h1v1h-1zM97.9 243.5h1v1h-1zM96.6 247.7h1v1h-1zM87.5 250.3h1v1h-1zM96.0 252.4h1v1h-1zM108.1 246.2h1v1h-1zM101.3 246.7h1v1h-1zM98.7 249.9h1v1h-1zM93.5 252.0h1v1h-1zM98.0 255.0h1v1h-1zM96.6 250.4h1v1h-1zM93.6 254.8h1v1h-1zM95.8 249.0h1v1h-1zM92.5 249.1h1v1h-1zM95.3 250.0h1v1h-1zM94.8 257.6h1v1h-1zM103.8 255.1h1v1h-1zM93.0 254.4h1v1h-1zM85.6 251.7h1v1h-1zM101.1 255.4h1v1h-1zM100.6 253.7h1v1h-1zM99.1 254.9h1v1h-1zM88.8 251.9h1v1h-1zM99.4 257.5h1v1h-1zM109.2 248.1h1v1h-1zM102.1 248.3h1v1h-1zM103.9 252.3h1v1h-1zM103.6 251.8h1v1h-1zM100.2 249.0h1v1h-1zM95.4 249.3h1v1h-1zM94.7 257.5h1v1h-1zM92.5 254.2h1v1h-1zM105.0 249.5h1v1h-1zM98.6 250.6h1v1h-1zM102.6 254.9h1v1h-1zM105.3 249.9h1v1h-1zM103.1 250.1h1v1h-1zM98.8 251.4h1v1h-1zM77.0 254.6h1v1h-1zM109.3 253.8h1v1h-1zM98.9 252.6h1v1h-1zM95.9 259.4h1v1h-1zM102.5 256.9h1v1h-1zM91.6 253.9h1v1h-1zM96.7 251.1h1v1h-1zM104.9 247.6h1v1h-1zM110.3 255.9h1v1h-1zM109.7 249.9h1v1h-1zM95.0 251.7h1v1h-1zM91.8 247.2h1v1h-1zM98.2 249.0h1v1h-1zM105.2 254.0h1v1h-1zM106.3 244.6h1v1h-1zM96.1 251.4h1v1h-1zM107.8 241.5h1v1h-1zM96.2 253.7h1v1h-1zM94.0 255.0h1v1h-1zM113.0 248.6h1v1h-1zM76.4 255.1h1v1h-1zM103.5 255.7h1v1h-1zM104.7 242.5h1v1h-1zM114.3 243.0h1v1h-1zM97.6 248.5h1v1h-1zM100.8 254.1h1v1h-1zM92.3 255.2h1v1h-1zM95.3 257.5h1v1h-1zM97.6 244.6h1v1h-1zM103.6 241.8h1v1h-1zM87.0 258.1h1v1h-1zM104.4 241.5h1v1h-1zM96.0 252.2h1v1h-1zM97.3 249.4h1v1h-1zM97.2 252.1h1v1h-1zM88.3 254.3h1v1h-1zM88.9 252.9h1v1h-1zM102.7 252.5h1v1h-1zM100.3 251.9h1v1h-1zM100.1 253.5h1v1h-1zM102.0 254.4h1v1h-1zM98.1 257.5h1v1h-1zM103.8 250.9h1v1h-1zM101.5 248.9h1v1h-1zM84.9 258.4h1v1h-1zM100.5 256.1h1v1h-1zM93.6 258.7h1v1h-1zM97.9 254.6h1v1h-1zM99.7 253.4h1v1h-1zM104.0 252.2h1v1h-1zM88.2 254.9h1v1h-1zM101.6 249.4h1v1h-1zM93.1 259.9h1v1h-1zM100.5 247.1h1v1h-1zM99.9 247.5h1v1h-1zM94.9 250.1h1v1h-1zM99.9 249.9h1v1h-1zM91.4 254.1h1v1h-1zM93.1 246.1h1v1h-1zM87.7 258.2h1v1h-1zM97.0 249.0h1v1h-1zM111.6 251.3h1v1h-1zM107.7 259.2h1v1h-1zM86.1 257.2h1v1h-1zM99.0 254.1h1v1h-1zM84.7 254.9h1v1h-1zM96.8 252.7h1v1h-1zM94.9 251.0h1v1h-1zM87.4 256.7h1v1h-1zM80.3 251.5h1v1h-1zM102.3 248.8h1v1h-1zM101.6 250.1h1v1h-1zM88.5 248.1h1v1h-1zM103.3 251.6h1v1h-1zM103.1 246.1h1v1h-1zM106.5 238.1h1v1h-1zM89.1 253.5h1v1h-1zM96.9 254.2h1v1h-1zM98.6 250.6h1v1h-1zM88.2 252.1h1v1h-1zM99.4 252.8h1v1h-1zM97.6 258.9h1v1h-1zM112.4 251.0h1v1h-1zM108.4 253.5h1v1h-1zM105.3 251.8h1v1h-1zM95.0 247.2h1v1h-1zM102.1 244.0h1v1h-1zM109.8 244.8h1v1h-1zM99.4 252.3h1v1h-1zM86.1 255.9h1v1h-1zM105.4 249.7h1v1h-1zM108.7 248.7h1v1h-1zM95.0 254.2h1v1h-1zM111.0 246.9h1v1h-1zM93.2 252.3h1v1h-1zM99.3 252.1h1v1h-1zM94.7 252.2h1v1h-1zM91.1 260.1h1v1h-1zM94.7 248.7h1v1h-1zM96.2 248.4h1v1h-1zM96.7 253.3h1v1h-1zM101.7 253.1h1v1h-1zM104.7 249.6h1v1h-1zM103.2 254.2h1v1h-1zM103.8 242.9h1v1h-1zM91.4 257.1h1v1h-1zM95.8 250.0h1v1h-1zM119.2 241.1h1v1h-1zM97.5 243.4h1v1h-1zM106.6 254.7h1v1h-1zM100.3 252.8h1v1h-1zM105.8 254.1h1v1h-1zM105.7 247.8h1v1h-1zM94.4 253.4h1v1h-1zM111.3 249.9h1v1h-1zM114.5 249.4h1v1h-1zM88.7 257.8h1v1h-1zM99.5 252.1h1v1h-1zM113.5 249.8h1v1h-1zM108.4 245.4h1v1h-1zM90.9 252.6h1v1h-1zM103.5 255.3h1v1h-1zM109.2 241.4h1v1h-1zM97.6 250.4h1v1h-1zM106.2 248.1h1v1h-1zM111.8 249.0h1v1h-1zM109.6 252.3h1v1h-1zM100.9 248.9h1v1h-1zM95.7 250.0h1v1h-1zM91.1 248.4h1v1h-1zM114.9 246.7h1v1h-1zM94.0 255.4h1v1h-1zM91.5 251.3h1v1h-1zM101.1 247.3h1v1h-1zM94.7 259.0h1v1h-1zM89.0 255.5h1v1h-1zM95.3 250.2h1v1h-1zM93.1 253.5h1v1h-1zM102.4 250.5h1v1h-1zM97.5 254.7h1v1h-1zM108.2 241.3h1v1h-1zM103.2 252.0h1v1h-1zM95.5 256.0h1v1h-1zM102.5 247.1h1v1h-1zM95.5 254.6h1v1h-1zM92.3 250.5h1v1h-1zM98.8 248.6h1v1h-1zM89.7 248.6h1v1h-1zM113.8 249.2h1v1h-1zM76.4 260.4h1v1h-1zM97.4 251.9h1v1h-1zM89.8 248.0h1v1h-1zM88.3 252.0h1v1h-1zM105.7 248.4h1v1h-1zM99.6 252.3h1v1h-1zM95.2 247.0h1v1h-1zM100.3 251.2h1v1h-1zM97.5 251.8h1v1h-1zM97.5 250.1h1v1h-1zM96.0 250.4h1v1h-1zM103.8 259.9h1v1h-1zM110.2 241.1h1v1h-1zM85.0 246.4h1v1h-1zM106.4 243.4h1v1h-1zM96.3 253.0h1v1h-1zM107.6 242.5h1v1h-1zM109.5 248.9h1v1h-1zM105.8 241.7h1v1h-1zM88.4 257.8h1v1h-1zM102.5 247.3h1v1h-1zM99.4 252.5h1v1h-1zM93.7 244.2h1v1h-1zM106.7 241.6h1v1h-1zM90.8 252.1h1v1h-1zM93.1 249.4h1v1h-1zM113.2 243.3h1v1h-1zM100.0 252.8h1v1h-1zM97.4 250.5h1v1h-1zM103.4 259.2h1v1h-1zM107.4 246.1h1v1h-1zM102.5 249.7h1v1h-1zM91.8 253.0h1v1h-1zM89.9 253.8h1v1h-1zM100.6 250.3h1v1h-1zM81.9 258.9h1v1h-1zM102.1 242.1h1v1h-1zM93.0 242.9h1v1h-1zM89.3 246.5h1v1h-1zM104.0 247.8h1v1h-1zM100.5 258.6h1v1h-1zM101.9 257.1h1v1h-1zM98.6 245.9h1v1h-1zM92.8 257.2h1v1h-1zM96.4 252.4h1v1h-1zM95.1 244.8h1v1h-1zM109.8 253.1h1v1h-1zM98.1 261.1h1v1h-1zM116.8 255.1h1v1h-1zM105.1 249.7h1v1h-1zM96.3 253.6h1v1h-1zM92.2 252.6h1v1h-1zM98.3 252.8h1v1h-1zM82.6 252.8h1v1h-1zM98.4 254.5h1v1h-1zM103.0 254.3h1v1h-1zM97.4 251.1h1v1h-1zM92.2 254.3h1v1h-1zM91.9 257.5h1v1h-1zM78.6 259.5h1v1h-1zM103.7 256.1h1v1h-1zM85.2 256.7h1v1h-1zM91.6 259.8h1v1h-1zM85.7 259.2h1v1h-1zM85.3 258.2h1v1h-1zM77.9 256.1h1v1h-1zM91.9 254.2h1v1h-1zM87.8 260.4h1v1h-1zM106.0 248.6h1v1h-1zM83.5 253.5h1v1h-1zM89.6 255.2h1v1h-1zM81.9 261.8h1v1h-1zM84.2 252.2h1v1h-1zM101.4 257.2h1v1h-1zM82.8 257.2h1v1h-1zM90.2 262.0h1v1h-1zM84.9 250.8h1v1h-1zM82.8 256.3h1v1h-1zM97.2 249.8h1v1h-1zM91.9 258.9h1v1h-1zM99.3 249.3h1v1h-1zM94.2 260.2h1v1h-1zM84.6 254.2h1v1h-1zM92.5 256.0h1v1h-1zM88.3 256.8h1v1h-1zM81.9 259.7h1v1h-1zM89.2 254.9h1v1h-1zM99.7 253.5h1v1h-1zM101.1 259.1h1v1h-1zM87.1 257.6h1v1h-1zM92.8 254.9h1v1h-1zM96.5 259.4h1v1h-1zM97.1 246.1h1v1h-1zM87.8 256.5h1v1h-1zM96.7 256.2h1v1h-1zM85.2 257.5h1v1h-1zM93.4 253.6h1v1h-1zM100.6 255.0h1v1h-1zM99.6 256.5h1v1h-1zM86.0 266.7h1v1h-1zM93.3 255.0h1v1h-1zM82.5 263.5h1v1h-1zM94.6 254.7h1v1h-1zM94.8 254.6h1v1h-1zM86.1 261.5h1v1h-1zM89.8 253.2h1v1h-1zM87.0 258.7h1v1h-1zM88.6 255.2h1v1h-1zM92.6 254.5h1v1h-1zM88.5 256.3h1v1h-1zM101.2 257.2h1v1h-1zM100.1 251.8h1v1h-1zM95.7 252.8h1v1h-1zM84.9 253.6h1v1h-1zM93.9 257.5h1v1h-1zM95.2 254.5h1v1h-1zM95.0 259.6h1v1h-1zM93.0 256.1h1v1h-1zM96.7 256.1h1v1h-1zM81.2 258.5h1v1h-1zM94.1 251.8h1v1h-1zM85.0 258.1h1v1h-1zM92.3 258.6h1v1h-1zM92.6 251.3h1v1h-1zM78.0 253.6h1v1h-1zM99.2 251.6h1v1h-1zM83.5 260.5h1v1h-1zM83.0 265.4h1v1h-1zM95.6 262.4h1v1h-1zM85.6 257.2h1v1h-1zM89.5 259.4h1v1h-1zM83.5 261.0h1v1h-1zM100.0 254.0h1v1h-1zM88.0 256.0h1v1h-1zM94.1 263.5h1v1h-1zM96.3 251.9h1v1h-1zM99.4 246.8h1v1h-1zM109.4 252.4h1v1h-1zM92.6 258.2h1v1h-1zM97.8 252.8h1v1h-1zM89.7 258.3h1v1h-1zM89.2 250.6h1v1h-1zM80.6 257.2h1v1h-1zM88.7 263.0h1v1h-1zM99.0 253.5h1v1h-1zM80.9 253.7h1v1h-1zM75.3 268.4h1v1h-1zM95.1 256.6h1v1h-1zM95.9 253.7h1v1h-1zM86.1 254.7h1v1h-1zM90.0 250.2h1v1h-1zM84.4 259.4h1v1h-1zM99.4 256.0h1v1h-1zM93.7 252.6h1v1h-1zM93.2 255.2h1v1h-1z" fill="#000" fill-opacity="0.5"/>
<path d="M101.9 246.9h1v1h-1zM105.1 248.2h1v1h-1zM98.4 252.1h1v1h-1zM105.5 248.0h1v1h-1zM100.0 247.1h1v1h-1zM96.8 251.8h1v1h-1zM101.6 248.4h1v1h-1zM107.0 245.0h1v1h-1zM94.9 255.0h1v1h-1zM101.0 243.8h1v1h-1zM97.3 252.9h1v1h-1zM94.6 253.5h1v1h-1zM106.1 254.6h1v1h-1zM95.1 257.1h1v1h-1zM98.7 251.8h1v1h-1zM94.2 254.9h1v1h-1zM99.7 250.6h1v1h-1zM106.2 245.4h1v1h-1zM101.8 247.4h1v1h-1zM113.0 251.2h1v1h-1zM105.4 246.4h1v1h-1zM104.2 250.6h1v1h-1zM103.5 248.3h1v1h-1zM97.8 252.8h1v1h-1zM99.2 256.0h1v1h-1zM97.0 255.0h1v1h-1zM99.1 252.7h1v1h-1zM99.1 249.7h1v1h-1zM101.6 249.2h1v1h-1zM94.8 253.2h1v1h-1zM93.7 254.7h1v1h-1zM101.4 247.1h1v1h-1zM100.3 255.4h1v1h-1zM83.0 254.6h1v1h-1zM107.0 242.6h1v1h-1zM94.2 256.2h1v1h-1zM99.2 243.7h1v1h-1zM111.7 254.2h1v1h-1zM97.2 251.9h1v1h-1zM100.5 243.9h1v1h-1zM108.9 253.1h1v1h-1zM98.3 251.3h1v1h-1zM104.7 249.9h1v1h-1zM97.6 253.8h1v1h-1zM107.8 245.1h1v1h-1zM104.7 244.3h1v1h-1zM96.4 252.1h1v1h-1zM93.6 247.6h1v1h-1zM105.2 254.6h1v1h-1zM104.3 259.8h1v1h-1zM95.0 250.5h1v1h-1zM91.7 258.0h1v1h-1zM84.5 250.1h1v1h-1zM105.4 251.8h1v1h-1zM83.7 250.3h1v1h-1zM98.3 249.1h1v1h-1zM101.3 250.9h1v1h-1zM93.9 249.1h1v1h-1zM95.9 251.8h1v1h-1zM100.9 261.4h1v1h-1zM107.9 250.2h1v1h-1zM106.1 250.3h1v1h-1zM96.0 255.1h1v1h-1zM82.4 253.5h1v1h-1zM94.1 249.7h1v1h-1zM118.8 250.8h1v1h-1zM76.2 251.3h1v1h-1zM101.2 252.6h1v1h-1zM103.7 251.9h1v1h-1zM104.3 244.8h1v1h-1zM94.8 245.1h1v1h-1zM96.6 251.2h1v1h-1zM107.7 248.1h1v1h-1zM88.5 253.6h1v1h-1zM106.7 245.7h1v1h-1zM95.1 252.7h1v1h-1zM86.1 253.9h1v1h-1zM103.8 249.4h1v1h-1zM89.3 252.1h1v1h-1zM85.5 255.5h1v1h-1zM100.4 249.4h1v1h-1zM93.4 251.8h1v1h-1zM87.3 256.5h1v1h-1zM88.2 252.8h1v1h-1zM106.8 256.6h1v1h-1zM97.1 253.5h1v1h-1zM103.9 247.3h1v1h-1zM97.0 251.6h1v1h-1zM98.6 252.5h1v1h-1zM105.0 248.5h1v1h-1zM91.0 252.3h1v1h-1zM98.5 256.1h1v1h-1zM105.1 250.3h1v1h-1zM108.0 255.4h1v1h-1zM107.5 246.4h1v1h-1zM107.0 250.7h1v1h-1zM107.2 246.1h1v1h-1zM94.3 259.8h1v1h-1zM94.0 247.2h1v1h-1zM114.9 248.4h1v1h-1zM90.1 254.2h1v1h-1zM100.1 251.5h1v1h-1zM106.3 249.9h1v1h-1zM96.1 254.3h1v1h-1zM93.7 246.8h1v1h-1zM104.1 249.5h1v1h-1zM90.5 254.8h1v1h-1zM99.4 245.7h1v1h-1zM104.7 256.4h1v1h-1zM98.9 249.9h1v1h-1zM84.6 245.0h1v1h-1zM96.8 258.7h1v1h-1zM111.5 252.7h1v1h-1zM107.7 253.7h1v1h-1zM88.7 246.0h1v1h-1zM96.5 252.2h1v1h-1zM108.1 247.5h1v1h-1zM85.2 256.6h1v1h-1zM101.1 243.5h1v1h-1zM97.3 253.7h1v1h-1zM106.9 252.6h1v1h-1zM90.6 254.8h1v1h-1zM106.7 237.6h1v1h-1zM96.2 250.9h1v1h-1zM97.3 248.3h1v1h-1zM98.3 250.4h1v1h-1zM101.9 251.8h1v1h-1zM99.5 250.9h1v1h-1zM100.9 253.9h1v1h-1zM97.0 251.8h1v1h-1zM92.9 246.0h1v1h-1zM84.8 256.1h1v1h-1zM102.5 248.5h1v1h-1zM111.3 248.5h1v1h-1zM109.4 248.2h1v1h-1zM91.8 251.3h1v1h-1zM94.2 250.3h1v1h-1zM97.5 250.7h1v1h-1zM105.2 249.9h1v1h-1zM106.5 252.1h1v1h-1zM108.1 249.2h1v1h-1zM102.4 248.5h1v1h-1zM101.2 249.7h1v1h-1zM100.3 245.3h1v1h-1zM98.9 252.2h1v1h-1zM100.8 258.1h1v1h-1zM97.9 247.7h1v1h-1zM104.4 253.4h1v1h-1zM83.0 252.7h1v1h-1zM107.1 248.1h1v1h-1zM82.3 248.7h1v1h-1zM102.2 251.6h1v1h-1zM85.4 257.9h1v1h-1zM103.1 253.4h1v1h-1zM103.4 245.1h1v1h-1zM94.8 258.1h1v1h-1zM99.4 250.5h1v1h-1zM106.6 250.6h1v1h-1zM91.9 255.8h1v1h-1zM107.6 250.2h1v1h-1zM104.8 254.3h1v1h-1zM103.8 253.6h1v1h-1zM92.6 248.9h1v1h-1zM90.7 251.9h1v1h-1zM102.3 250.1h1v1h-1zM105.3 251.9h1v1h-1zM98.8 248.9h1v1h-1zM101.0 249.5h1v1h-1zM94.4 252.7h1v1h-1zM102.9 251.0h1v1h-1zM98.1 249.0h1v1h-1zM96.7 248.4h1v1h-1zM99.8 242.7h1v1h-1zM97.9 254.2h1v1h-1zM99.4 252.5h1v1h-1zM93.5 241.1h1v1h-1zM102.9 249.8h1v1h-1zM96.1 253.8h1v1h-1zM103.6 247.8h1v1h-1zM100.1 248.6h1v1h-1zM96.1 250.0h1v1h-1zM93.7 248.7h1v1h-1zM93.6 247.1h1v1h-1zM100.2 256.5h1v1h-1zM91.3 255.0h1v1h-1zM86.6 255.2h1v1h-1zM106.9 251.7h1v1h-1zM92.0 250.1h1v1h-1zM94.2 251.1h1v1h-1zM102.7 251.1h1v1h-1zM113.4 247.6h1v1h-1zM97.5 251.7h1v1h-1zM89.2 255.4h1v1h-1zM101.3 252.5h1v1h-1zM99.1 260.2h1v1h-1zM101.3 246.9h1v1h-1zM96.9 254.2h1v1h-1zM99.1 245.2h1v1h-1zM104.4 245.5h1v1h-1zM84.2 250.2h1v1h-1zM94.9 250.2h1v1h-1zM99.9 250.5h1v1h-1zM94.9 251.2h1v1h-1zM101.0 249.8h1v1h-1zM101.0 248.8h1v1h-1zM96.5 254.8h1v1h-1zM82.1 252.6h1v1h-1zM101.9 256.0h1v1h-1zM106.3 248.1h1v1h-1zM111.9 248.4h1v1h-1zM89.4 249.4h1v1h-1zM102.7 250.5h1v1h-1zM92.5 252.2h1v1h-1zM106.5 245.0h1v1h-1zM104.0 255.7h1v1h-1zM112.9 250.2h1v1h-1zM103.4 241.6h1v1h-1zM102.5 246.9h1v1h-1zM106.1 251.3h1v1h-1zM95.2 249.3h1v1h-1zM104.1 249.2h1v1h-1zM99.0 247.0h1v1h-1zM96.1 256.4h1v1h-1zM91.0 252.9h1v1h-1zM108.5 246.6h1v1h-1zM112.0 251.4h1v1h-1zM97.9 255.0h1v1h-1zM94.7 249.7h1v1h-1zM100.5 252.4h1v1h-1zM109.9 243.8h1v1h-1zM98.7 253.5h1v1h-1zM100.2 249.3h1v1h-1zM92.1 255.6h1v1h-1zM112.2 244.1h1v1h-1zM96.3 248.0h1v1h-1zM95.5 257.6h1v1h-1zM98.3 248.0h1v1h-1zM95.5 244.4h1v1h-1zM100.8 246.3h1v1h-1zM86.1 260.3h1v1h-1zM82.3 249.4h1v1h-1zM102.4 250.5h1v1h-1zM109.7 249.9h1v1h-1zM84.0 251.4h1v1h-1zM99.2 250.0h1v1h-1zM99.4 246.9h1v1h-1zM105.8 251.8h1v1h-1zM101.7 247.4h1v1h-1zM100.9 248.2h1v1h-1zM95.1 253.1h1v1h-1zM102.3 252.6h1v1h-1zM109.6 251.2h1v1h-1zM88.0 250.8h1v1h-1zM98.4 252.3h1v1h-1zM105.4 253.9h1v1h-1zM96.2 256.6h1v1h-1zM94.2 260.5h1v1h-1zM102.1 246.5h1v1h-1zM88.9 249.6h1v1h-1zM106.8 255.5h1v1h-1zM92.9 247.5h1v1h-1zM99.9 247.2h1v1h-1zM98.9 248.1h1v1h-1zM99.4 252.2h1v1h-1zM92.8 247.7h1v1h-1zM115.2 250.0h1v1h-1zM100.4 248.2h1v1h-1zM97.0 251.5h1v1h-1zM98.5 243.6h1v1h-1zM94.3 252.6h1v1h-1zM93.5 247.6h1v1h-1zM100.7 249.7h1v1h-1zM101.5 256.5h1v1h-1zM93.9 251.5h1v1h-1zM95.6 257.5h1v1h-1zM88.2 258.6h1v1h-1zM120.9 243.2h1v1h-1zM81.7 252.2h1v1h-1zM115.3 250.0h1v1h-1zM102.5 255.5h1v1h-1zM95.8 248.8h1v1h-1zM99.8 250.7h1v1h-1zM83.2 247.9h1v1h-1zM86.9 254.1h1v1h-1zM107.8 259.2h1v1h-1zM109.0 253.4h1v1h-1zM100.3 244.9h1v1h-1zM103.8 250.2h1v1h-1zM100.7 254.2h1v1h-1zM112.1 241.5h1v1h-1zM96.8 255.6h1v1h-1zM111.9 244.3h1v1h-1zM103.3 249.5h1v1h-1zM106.7 251.0h1v1h-1zM104.1 250.1h1v1h-1zM94.5 242.6h1v1h-1zM100.7 246.1h1v1h-1zM104.8 245.1h1v1h-1zM88.3 253.3h1v1h-1zM95.9 249.7h1v1h-1zM89.0 251.9h1v1h-1zM107.5 248.8h1v1h-1zM87.6 253.1h1v1h-1zM93.2 251.9h1v1h-1zM93.7 250.0h1v1h-1zM94.3 253.6h1v1h-1zM96.8 249.1h1v1h-1zM86.2 247.4h1v1h-1zM108.9 252.7h1v1h-1zM96.0 253.5h1v1h-1zM107.5 253.7h1v1h-1zM104.9 239.5h1v1h-1zM102.4 246.4h1v1h-1zM104.9 254.3h1v1h-1zM93.9 247.9h1v1h-1zM105.0 249.4h1v1h-1zM100.1 250.3h1v1h-1zM87.0 257.7h1v1h-1zM102.0 255.5h1v1h-1zM85.3 253.9h1v1h-1zM94.3 257.4h1v1h-1zM85.2 251.8h1v1h-1zM95.7 250.2h1v1h-1zM87.7 252.5h1v1h-1zM103.6 253.3h1v1h-1zM100.6 245.5h1v1h-1zM103.9 246.2h1v1h-1zM86.8 257.7h1v1h-1zM112.2 257.2h1v1h-1zM97.3 251.0h1v1h-1zM94.6 250.0h1v1h-1zM104.3 251.7h1v1h-1zM98.3 247.2h1v1h-1zM107.9 248.4h1v1h-1zM106.1 240.4h1v1h-1zM95.5 254.0h1v1h-1zM105.0 245.6h1v1h-1zM90.8 246.6h1v1h-1zM85.2 256.7h1v1h-1zM116.3 251.8h1v1h-1zM102.5 247.3h1v1h-1zM100.9 248.4h1v1h-1zM102.2 260.4h1v1h-1zM112.6 242.0h1v1h-1zM104.3 251.0h1v1h-1zM81.9 254.2h1v1h-1zM106.7 253.5h1v1h-1zM105.7 250.6h1v1h-1zM96.8 249.6h1v1h-1zM101.9 252.1h1v1h-1zM92.2 254.8h1v1h-1zM91.9 252.3h1v1h-1zM94.2 252.5h1v1h-1zM97.7 254.7h1v1h-1zM110.4 252.9h1v1h-1zM92.7 253.9h1v1h-1zM98.6 245.5h1v1h-1zM97.4 252.7h1v1h-1zM95.7 252.4h1v1h-1zM93.4 255.4h1v1h-1zM93.0 249.5h1v1h-1zM90.6 254.5h1v1h-1zM97.8 252.5h1v1h-1zM91.2 253.5h1v1h-1zM117.2 248.5h1v1h-1zM83.8 248.6h1v1h-1zM86.3 251.6h1v1h-1zM94.1 248.7h1v1h-1zM100.6 255.1h1v1h-1zM106.4 246.4h1v1h-1zM100.2 247.8h1v1h-1zM94.9 250.6h1v1h-1zM116.1 247.3h1v1h-1zM103.0 250.6h1v1h-1zM100.0 255.3h1v1h-1zM95.7 253.8h1v1h-1zM101.6 254.0h1v1h-1zM104.6 251.6h1v1h-1zM103.3 253.6h1v1h-1zM90.4 251.4h1v1h-1zM103.2 249.4h1v1h-1zM97.1 249.6h1v1h-1zM104.9 252.5h1v1h-1zM97.8 249.8h1v1h-1zM86.8 253.3h1v1h-1zM101.7 251.1h1v1h-1zM103.3 248.8h1v1h-1zM111.5 247.7h1v1h-1zM114.4 251.1h1v1h-1zM99.2 260.5h1v1h-1zM101.6 244.4h1v1h-1zM93.7 254.9h1v1h-1zM102.0 255.3h1v1h-1zM101.3 247.0h1v1h-1zM112.9 252.1h1v1h-1zM94.8 251.7h1v1h-1zM97.8 247.7h1v1h-1zM111.3 247.8h1v1h-1zM108.1 251.3h1v1h-1zM93.5 251.8h1v1h-1zM99.3 247.4h1v1h-1zM98.5 249.6h1v1h-1zM87.7 250.8h1v1h-1zM90.5 258.8h1v1h-1zM100.1 248.5h1v1h-1zM87.7 254.0h1v1h-1zM112.3 247.7h1v1h-1zM90.9 253.5h1v1h-1zM88.3 253.5h1v1h-1zM97.4 246.0h1v1h-1zM99.3 253.7h1v1h-1zM101.1 253.8h1v1h-1zM94.4 249.0h1v1h-1zM96.5 253.6h1v1h-1zM95.3 252.0h1v1h-1zM105.0 243.7h1v1h-1zM101.0 248.7h1v1h-1zM95.8 257.6h1v1h-1zM103.3 246.9h1v1h-1zM109.3 255.5h1v1h-1zM99.1 249.8h1v1h-1zM94.5 253.5h1v1h-1zM112.7 251.5h1v1h-1zM106.1 247.7h1v1h-1zM108.3 245.2h1v1h-1zM87.1 255.6h1v1h-1zM94.3 254.9h1v1h-1zM111.1 247.4h1v1h-1zM95.0 251.0h1v1h-1zM97.5 252.4h1v1h-1zM98.8 248.0h1v1h-1zM97.6 256.4h1v1h-1zM86.8 245.5h1v1h-1zM101.0 259.2h1v1h-1zM108.3 248.7h1v1h-1zM84.1 258.8h1v1h-1zM98.2 249.3h1v1h-1zM101.9 252.7h1v1h-1zM93.3 252.4h1v1h-1zM83.2 251.1h1v1h-1zM87.8 248.5h1v1h-1zM87.6 245.4h1v1h-1zM103.1 244.9h1v1h-1zM99.0 245.9h1v1h-1zM100.0 250.8h1v1h-1zM91.5 259.4h1v1h-1zM90.6 249.8h1v1h-1zM98.6 258.7h1v1h-1zM87.2 245.7h1v1h-1zM104.6 247.9h1v1h-1zM98.7 245.9h1v1h-1zM93.8 258.8h1v1h-1zM105.7 254.5h1v1h-1zM115.5 253.9h1v1h-1zM92.1 252.6h1v1h-1zM99.7 246.0h1v1h-1zM109.6 246.1h1v1h-1zM95.9 253.0h1v1h-1zM88.0 257.3h1v1h-1zM96.7 257.2h1v1h-1zM95.0 247.8h1v1h-1zM102.5 251.6h1v1h-1zM92.6 254.7h1v1h-1zM101.2 254.8h1v1h-1zM94.5 250.1h1v1h-1zM90.6 259.4h1v1h-1zM86.5 254.4h1v1h-1zM88.6 260.8h1v1h-1zM96.3 253.0h1v1h-1zM98.4 255.8h1v1h-1zM100.4 250.1h1v1h-1zM95.6 250.8h1v1h-1zM102.1 255.6h1v1h-1zM86.8 258.4h1v1h-1zM96.7 243.4h1v1h-1zM83.9 250.0h1v1h-1zM86.1 252.3h1v1h-1zM94.1 249.1h1v1h-1zM105.5 250.9h1v1h-1zM97.3 248.7h1v1h-1zM87.0 257.5h1v1h-1zM93.3 248.0h1v1h-1zM110.7 256.8h1v1h-1zM98.1 253.6h1v1h-1zM104.8 254.9h1v1h-1zM102.7 248.0h1v1h-1zM95.2 252.9h1v1h-1zM97.6 246.7h1v1h-1zM90.2 247.5h1v1h-1zM91.0 259.3h1v1h-1zM93.8 248.4h1v1h-1zM93.8 254.9h1v1h-1zM103.0 250.6h1v1h-1zM98.8 251.1h1v1h-1zM105.2 252.0h1v1h-1zM94.1 252.4h1v1h-1zM90.3 255.3h1v1h-1zM93.1 261.4h1v1h-1zM86.3 257.2h1v1h-1zM89.0 261.1h1v1h-1zM103.5 256.7h1v1h-1zM111.6 251.8h1v1h-1zM104.5 248.5h1v1h-1zM100.6 250.8h1v1h-1zM84.7 251.9h1v1h-1zM106.1 252.5h1v1h-1zM106.1 251.1h1v1h-1zM96.9 251.0h1v1h-1zM100.0 250.9h1v1h-1zM112.8 247.7h1v1h-1zM101.0 248.6h1v1h-1zM110.9 245.9h1v1h-1zM97.6 259.5h1v1h-1zM105.9 251.7h1v1h-1zM95.8 250.1h1v1h-1zM96.3 252.3h1v1h-1zM108.1 254.8h1v1h-1zM96.9 250.1h1v1h-1zM91.0 251.9h1v1h-1zM110.5 249.7h1v1h-1zM94.0 251.3h1v1h-1zM95.2 255.8h1v1h-1zM96.9 243.4h1v1h-1zM89.8 252.0h1v1h-1zM96.2 251.2h1v1h-1zM106.9 244.8h1v1h-1zM92.3 244.9h1v1h-1zM97.1 251.1h1v1h-1zM99.3 252.1h1v1h-1zM88.9 252.8h1v1h-1zM94.2 246.1h1v1h-1zM104.5 251.7h1v1h-1zM105.0 249.0h1v1h-1zM100.3 249.0h1v1h-1zM115.1 245.6h1v1h-1zM94.3 251.1h1v1h-1zM98.4 248.3h1v1h-1zM88.3 254.3h1v1h-1zM95.1 250.5h1v1h-1zM93.5 250.0h1v1h-1zM87.4 258.0h1v1h-1zM111.6 243.4h1v1h-1zM94.2 247.7h1v1h-1zM87.7 253.7h1v1h-1zM88.0 247.1h1v1h-1zM105.9 253.5h1v1h-1zM91.0 253.8h1v1h-1zM97.3 258.5h1v1h-1zM92.6 256.5h1v1h-1zM89.8 256.4h1v1h-1zM102.9 249.7h1v1h-1zM101.7 260.2h1v1h-1zM109.0 245.7h1v1h-1zM103.5 253.5h1v1h-1zM113.3 243.5h1v1h-1zM93.8 244.9h1v1h-1zM110.8 256.2h1v1h-1zM98.8 247.5h1v1h-1zM96.1 246.9h1v1h-1zM104.0 247.9h1v1h-1zM100.1 251.3h1v1h-1zM96.7 251.2h1v1h-1zM94.0 250.0h1v1h-1zM90.0 249.5h1v1h-1zM95.7 251.7h1v1h-1zM102.3 253.3h1v1h-1zM94.0 255.7h1v1h-1zM104.7 251.8h1v1h-1zM100.4 250.9h1v1h-1zM90.6 253.5h1v1h-1zM102.8 256.6h1v1h-1zM106.4 252.0h1v1h-1zM101.1 252.3h1v1h-1zM94.9 251.5h1v1h-1zM89.8 259.2h1v1h-1zM91.7 249.8h1v1h-1zM104.0 244.8h1v1h-1zM90.2 253.5h1v1h-1zM103.7 262.4h1v1h-1zM95.1 241.5h1v1h-1zM88.6 249.9h1v1h-1zM100.3 257.4h1v1h-1zM100.9 253.3h1v1h-1zM94.5 252.9h1v1h-1zM95.2 255.8h1v1h-1zM101.8 252.8h1v1h-1zM95.6 251.5h1v1h-1zM89.7 253.9h1v1h-1zM96.1 248.1h1v1h-1zM93.4 252.5h1v1h-1zM93.8 251.0h1v1h-1zM98.3 248.6h1v1h-1zM89.3 251.0h1v1h-1zM98.0 246.6h1v1h-1zM94.1 257.6h1v1h-1zM88.3 252.6h1v1h-1zM98.2 254.3h1v1h-1zM95.8 252.9h1v1h-1zM102.3 249.0h1v1h-1zM91.8 261.8h1v1h-1zM102.9 249.1h1v1h-1zM97.5 251.1h1v1h-1zM94.1 254.1h1v1h-1zM105.1 255.1h1v1h-1zM92.6 250.4h1v1h-1zM102.3 253.7h1v1h-1zM91.6 254.6h1v1h-1zM95.6 249.7h1v1h-1zM99.5 249.8h1v1h-1zM80.2 252.8h1v1h-1zM111.9 258.4h1v1h-1zM106.4 249.6h1v1h-1zM104.2 260.4h1v1h-1zM88.5 252.8h1v1h-1zM89.6 249.0h1v1h-1zM93.9 244.9h1v1h-1zM104.5 258.2h1v1h-1zM106.3 249.7h1v1h-1zM84.9 260.0h1v1h-1zM84.4 252.8h1v1h-1zM93.3 250.1h1v1h-1zM94.9 250.8h1v1h-1zM107.8 252.0h1v1h-1zM90.3 249.3h1v1h-1zM95.4 256.6h1v1h-1zM96.9 256.2h1v1h-1zM96.0 248.3h1v1h-1zM106.2 250.2h1v1h-1zM104.6 255.2h1v1h-1zM87.5 246.0h1v1h-1zM102.3 247.7h1v1h-1zM99.8 248.8h1v1h-1zM93.5 253.2h1v1h-1zM105.8 245.6h1v1h-1zM102.3 252.4h1v1h-1zM93.9 247.3h1v1h-1zM104.2 253.5h1v1h-1zM99.6 250.2h1v1h-1zM89.1 257.4h1v1h-1zM93.9 253.7h1v1h-1zM82.9 258.1h1v1h-1zM103.9 250.4h1v1h-1zM104.1 252.6h1v1h-1zM105.5 247.2h1v1h-1zM97.3 259.7h1v1h-1zM105.8 254.4h1v1h-1zM90.6 257.8h1v1h-1zM110.5 251.8h1v1h-1zM110.7 245.1h1v1h-1zM103.5 250.4h1v1h-1zM100.4 254.9h1v1h-1zM94.0 247.5h1v1h-1zM104.6 251.9h1v1h-1zM108.4 250.1h1v1h-1zM101.7 247.5h1v1h-1zM92.8 256.3h1v1h-1zM111.9 243.4h1v1h-1zM94.9 250.3h1v1h-1zM97.3 251.3h1v1h-1zM89.1 255.8h1v1h-1zM96.6 252.7h1v1h-1zM90.9 252.5h1v1h-1zM94.8 250.7h1v1h-1zM92.9 261.4h1v1h-1zM98.4 252.2h1v1h-1zM93.7 251.7h1v1h-1zM101.7 256.1h1v1h-1zM94.7 245.8h1v1h-1zM99.3 252.6h1v1h-1zM101.6 249.0h1v1h-1zM101.6 248.5h1v1h-1zM98.3 255.2h1v1h-1zM91.0 248.6h1v1h-1zM80.2 257.1h1v1h-1zM109.1 247.8h1v1h-1zM96.2 253.0h1v1h-1zM99.6 255.6h1v1h-1zM105.0 247.0h1v1h-1zM94.0 244.8h1v1h-1zM95.5 258.2h1v1h-1zM99.5 253.7h1v1h-1zM101.6 255.6h1v1h-1zM88.6 251.9h1v1h-1zM87.6 248.7h1v1h-1zM101.0 252.6h1v1h-1zM99.2 251.5h1v1h-1zM98.5 255.8h1v1h-1zM95.9 247.9h1v1h-1zM100.1 250.4h1v1h-1zM92.1 255.1h1v1h-1zM92.9 251.3h1v1h-1zM97.3 253.8h1v1h-1zM86.9 243.8h1v1h-1zM90.5 252.1h1v1h-1zM90.1 259.9h1v1h-1zM97.5 247.6h1v1h-1zM101.2 248.8h1v1h-1zM96.7 254.9h1v1h-1zM100.8 250.7h1v1h-1zM97.2 253.2h1v1h-1zM83.7 262.3h1v1h-1zM109.5 250.9h1v1h-1zM97.2 251.6h1v1h-1zM117.0 242.2h1v1h-1zM96.5 252.3h1v1h-1zM99.0 257.1h1v1h-1zM98.2 249.1h1v1h-1zM103.4 255.9h1v1h-1zM89.7 258.2h1v1h-1zM99.5 245.1h1v1h-1zM112.1 246.7h1v1h-1zM97.8 247.7h1v1h-1zM97.0 252.2h1v1h-1zM97.0 249.4h1v1h-1zM104.0 252.9h1v1h-1zM101.4 250.1h1v1h-1zM94.1 249.9h1v1h-1zM91.5 256.6h1v1h-1zM115.6 252.8h1v1h-1zM98.8 244.5h1v1h-1zM84.7 253.1h1v1h-1zM90.0 253.5h1v1h-1zM82.6 249.9h1v1h-1zM100.4 248.6h1v1h-1zM96.1 252.3h1v1h-1zM102.8 255.8h1v1h-1zM92.5 257.6h1v1h-1zM105.1 244.3h1v1h-1zM93.3 260.7h1v1h-1zM115.2 250.0h1v1h-1zM90.8 248.4h1v1h-1zM89.3 249.7h1v1h-1zM91.4 257.8h1v1h-1zM98.3 253.7h1v1h-1zM95.7 247.4h1v1h-1zM112.1 252.8h1v1h-1zM109.0 250.7h1v1h-1zM105.7 251.4h1v1h-1zM86.4 257.9h1v1h-1zM107.3 246.0h1v1h-1zM89.0 247.2h1v1h-1zM105.5 249.8h1v1h-1zM115.7 250.0h1v1h-1zM100.7 247.0h1v1h-1zM92.9 249.5h1v1h-1zM97.0 250.8h1v1h-1zM104.4 246.9h1v1h-1zM107.4 248.1h1v1h-1zM94.4 252.1h1v1h-1zM99.8 247.4h1v1h-1zM95.4 251.3h1v1h-1zM104.0 248.0h1v1h-1zM102.0 249.4h1v1h-1zM101.9 251.0h1v1h-1zM97.4 248.1h1v1h-1zM106.4 243.4h1v1h-1zM100.4 251.5h1v1h-1zM86.8 250.7h1v1h-1zM98.4 251.4h1v1h-1zM101.3 251.0h1v1h-1zM98.8 252.6h1v1h-1zM113.9 248.8h1v1h-1zM102.1 253.0h1v1h-1zM104.4 251.9h1v1h-1zM104.2 247.8h1v1h-1zM106.1 244.7h1v1h-1zM98.4 253.3h1v1h-1zM89.3 262.3h1v1h-1zM86.4 253.8h1v1h-1zM96.8 249.2h1v1h-1zM89.6 261.6h1v1h-1zM92.4 256.6h1v1h-1zM90.5 252.5h1v1h-1zM94.6 262.5h1v1h-1zM94.2 251.0h1v1h-1zM95.3 254.1h1v1h-1zM96.1 247.7h1v1h-1zM82.9 261.3h1v1h-1zM80.5 263.4h1v1h-1zM102.3 259.4h1v1h-1zM98.2 251.4h1v1h-1zM104.5 250.7h1v1h-1zM93.6 251.4h1v1h-1zM90.2 258.5h1v1h-1zM96.6 253.7h1v1h-1zM100.2 260.7h1v1h-1zM86.5 259.3h1v1h-1zM88.6 260.1h1v1h-1zM99.9 251.8h1v1h-1zM101.7 254.5h1v1h-1zM106.2 249.1h1v1h-1zM98.4 254.1h1v1h-1zM98.9 254.0h1v1h-1zM90.3 256.3h1v1h-1zM101.3 258.5h1v1h-1zM86.7 261.4h1v1h-1zM99.2 259.7h1v1h-1zM87.7 263.2h1v1h-1zM85.3 260.9h1v1h-1zM95.9 253.3h1v1h-1zM82.0 257.5h1v1h-1zM95.7 257.7h1v1h-1zM91.7 257.6h1v1h-1zM86.8 267.2h1v1h-1zM98.2 246.7h1v1h-1zM88.0 256.6h1v1h-1zM91.2 260.0h1v1h-1zM80.4 255.1h1v1h-1zM91.5 259.9h1v1h-1zM93.6 256.2h1v1h-1zM89.7 259.0h1v1h-1zM95.3 258.5h1v1h-1zM85.8 257.0h1v1h-1zM93.6 249.8h1v1h-1zM100.3 249.4h1v1h-1zM104.2 250.4h1v1h-1zM98.2 254.7h1v1h-1zM98.4 250.9h1v1h-1zM88.9 249.6h1v1h-1zM102.8 251.2h1v1h-1zM85.4 258.1h1v1h-1zM95.9 251.6h1v1h-1zM90.6 260.6h1v1h-1zM89.3 259.3h1v1h-1zM84.3 256.9h1v1h-1zM88.5 258.1h1v1h-1zM92.7 248.1h1v1h-1zM93.8 256.0h1v1h-1zM96.7 254.3h1v1h-1zM81.5 254.7h1v1h-1zM95.6 260.7h1v1h-1zM89.7 250.4h1v1h-1zM87.3 255.6h1v1h-1zM88.6 248.5h1v1h-1zM79.7 257.9h1v1h-1zM100.7 250.4h1v1h-1zM97.3 254.7h1v1h-1zM87.6 256.3h1v1h-1zM95.5 253.3h1v1h-1zM88.7 254.4h1v1h-1zM89.5 256.1h1v1h-1zM95.8 260.6h1v1h-1zM82.1 253.9h1v1h-1zM100.6 254.6h1v1h-1zM92.4 256.4h1v1h-1zM88.2 254.6h1v1h-1zM100.3 249.3h1v1h-1zM90.8 255.5h1v1h-1zM103.4 250.1h1v1h-1zM112.8 243.3h1v1h-1zM84.8 256.4h1v1h-1zM86.3 250.2h1v1h-1zM94.4 258.9h1v1h-1zM83.0 258.2h1v1h-1zM95.1 257.4h1v1h-1zM95.2 254.4h1v1h-1zM103.1 258.1h1v1h-1zM94.3 249.5h1v1h-1zM95.5 257.1h1v1h-1zM87.0 260.3h1v1h-1zM91.6 255.8h1v1h-1zM94.7 253.6h1v1h-1zM86.2 259.3h1v1h-1zM89.1 252.6h1v1h-1zM102.5 254.0h1v1h-1zM86.0 254.4h1v1h-1z" fill="#000" fill-opacity="0.5"/>
<rect x="44.3" y="227.3" width="103.1" height="103.1" fill="none" stroke="#999" stroke-width="1" />
<line x1="72.3" y1="227.3" x2="72.3" y2="330.4" stroke="#999" stroke-width="1" />
<line x1="44.3" y1="272.6" x2="147.39999999999998" y2="272.6" stroke="#999" stroke-width="1" />
<line x1="42.8" y1="322.64095186176087" x2="44.3" y2="322.64095186176087" stroke="#999" stroke-width="0.6" />
<line x1="52.05904813823911" y1="330.4" x2="52.05904813823911" y2="331.9" stroke="#999" stroke-width="0.6" />
<line x1="42.8" y1="318.10219965960067" x2="44.3" y2="318.10219965960067" stroke="#999" stroke-width="0.6" />
<line x1="56.597800340399296" y1="330.4" x2="56.597800340399296" y2="331.9" stroke="#999" stroke-width="0.6" />
<line x1="42.8" y1="314.88190372352176" x2="44.3" y2="314.88190372352176" stroke="#999" stroke-width="0.6" />
<line x1="59.81809627647823" y1="330.4" x2="59.81809627647823" y2="331.9" stroke="#999" stroke-width="0.6" />
<line x1="42.8" y1="312.3840481382391" x2="44.3" y2="312.3840481382391" stroke="#999" stroke-width="0.6" />
<line x1="62.31595186176088" y1="330.4" x2="62.31595186176088" y2="331.9" stroke="#999" stroke-width="0.6" />
<line x1="42.8" y1="310.34315152136156" x2="44.3" y2="310.34315152136156" stroke="#999" stroke-width="0.6" />
<line x1="64.35684847863841" y1="330.4" x2="64.35684847863841" y2="331.9" stroke="#999" stroke-width="0.6" />
<line x1="42.8" y1="308.6175980186325" x2="44.3" y2="308.6175980186325" stroke="#999" stroke-width="0.6" />
<line x1="66.08240198136747" y1="330.4" x2="66.08240198136747" y2="331.9" stroke="#999" stroke-width="0.6" />
<line x1="42.8" y1="307.12285558528265" x2="44.3" y2="307.12285558528265" stroke="#999" stroke-width="0.6" />
<line x1="67.57714441471734" y1="330.4" x2="67.57714441471734" y2="331.9" stroke="#999" stroke-width="0.6" />
<line x1="42.8" y1="305.80439931920137" x2="44.3" y2="305.80439931920137" stroke="#999" stroke-width="0.6" />
<line x1="68.8956006807986" y1="330.4" x2="68.8956006807986" y2="331.9" stroke="#999" stroke-width="0.6" />
<line x1="42.8" y1="296.8659518617609" x2="44.3" y2="296.8659518617609" stroke="#999" stroke-width="0.6" />
<line x1="77.83404813823911" y1="330.4" x2="77.83404813823911" y2="331.9" stroke="#999" stroke-width="0.6" />
<line x1="42.8" y1="292.3271996596007" x2="44.3" y2="292.3271996596007" stroke="#999" stroke-width="0.6" />
<line x1="82.3728003403993" y1="330.4" x2="82.3728003403993" y2="331.9" stroke="#999" stroke-width="0.6" />
<line x1="42.8" y1="289.1069037235217" x2="44.3" y2="289.1069037235217" stroke="#999" stroke-width="0.6" />
<line x1="85.59309627647824" y1="330.4" x2="85.59309627647824" y2="331.9" stroke="#999" stroke-width="0.6" />
<line x1="42.8" y1="286.6090481382391" x2="44.3" y2="286.6090481382391" stroke="#999" stroke-width="0.6" />
<line x1="88.09095186176089" y1="330.4" x2="88.09095186176089" y2="331.9" stroke="#999" stroke-width="0.6" />
<line x1="42.8" y1="284.5681515213616" x2="44.3" y2="284.5681515213616" stroke="#999" stroke-width="0.6" />
<line x1="90.1318484786384" y1="330.4" x2="90.1318484786384" y2="331.9" stroke="#999" stroke-width="0.6" />
<line x1="42.8" y1="282.8425980186325" x2="44.3" y2="282.8425980186325" stroke="#999" stroke-width="0.6" />
<line x1="91.85740198136747" y1="330.4" x2="91.85740198136747" y2="331.9" stroke="#999" stroke-width="0.6" />
<line x1="42.8" y1="281.3478555852826" x2="44.3" y2="281.3478555852826" stroke="#999" stroke-width="0.6" />
<line x1="93.35214441471734" y1="330.4" x2="93.35214441471734" y2="331.9" stroke="#999" stroke-width="0.6" />
<line x1="42.8" y1="280.0293993192014" x2="44.3" y2="280.0293993192014" stroke="#999" stroke-width="0.6" />
<line x1="94.6706006807986" y1="330.4" x2="94.6706006807986" y2="331.9" stroke="#999" stroke-width="0.6" />
<line x1="42.8" y1="271.09095186176086" x2="44.3" y2="271.09095186176086" stroke="#999" stroke-width="0.6" />
<line x1="103.6090481382391" y1="330.4" x2="103.6090481382391" y2="331.9" stroke="#999" stroke-width="0.6" />
<line x1="42.8" y1="266.55219965960066" x2="44.3" y2="266.55219965960066" stroke="#999" stroke-width="0.6" />
<line x1="108.1478003403993" y1="330.4" x2="108.1478003403993" y2="331.9" stroke="#999" stroke-width="0.6" />
<line x1="42.8" y1="263.33190372352175" x2="44.3" y2="263.33190372352175" stroke="#999" stroke-width="0.6" />
<line x1="111.36809627647823" y1="330.4" x2="111.36809627647823" y2="331.9" stroke="#999" stroke-width="0.6" />
<line x1="42.8" y1="260.8340481382391" x2="44.3" y2="260.8340481382391" stroke="#999" stroke-width="0.6" />
<line x1="113.86595186176088" y1="330.4" x2="113.86595186176088" y2="331.9" stroke="#999" stroke-width="0.6" />
<line x1="42.8" y1="258.79315152136155" x2="44.3" y2="258.79315152136155" stroke="#999" stroke-width="0.6" />
<line x1="115.90684847863841" y1="330.4" x2="115.90684847863841" y2="331.9" stroke="#999" stroke-width="0.6" />
<line x1="42.8" y1="257.0675980186325" x2="44.3" y2="257.0675980186325" stroke="#999" stroke-width="0.6" />
<line x1="117.63240198136747" y1="330.4" x2="117.63240198136747" y2="331.9" stroke="#999" stroke-width="0.6" />
<line x1="42.8" y1="255.57285558528264" x2="44.3" y2="255.57285558528264" stroke="#999" stroke-width="0.6" />
<line x1="119.12714441471735" y1="330.4" x2="119.12714441471735" y2="331.9" stroke="#999" stroke-width="0.6" />
<line x1="42.8" y1="254.25439931920138" x2="44.3" y2="254.25439931920138" stroke="#999" stroke-width="0.6" />
<line x1="120.44560068079859" y1="330.4" x2="120.44560068079859" y2="331.9" stroke="#999" stroke-width="0.6" />
<line x1="42.8" y1="245.31595186176088" x2="44.3" y2="245.31595186176088" stroke="#999" stroke-width="0.6" />
<line x1="129.3840481382391" y1="330.4" x2="129.3840481382391" y2="331.9" stroke="#999" stroke-width="0.6" />
<line x1="42.8" y1="240.77719965960068" x2="44.3" y2="240.77719965960068" stroke="#999" stroke-width="0.6" />
<line x1="133.9228003403993" y1="330.4" x2="133.9228003403993" y2="331.9" stroke="#999" stroke-width="0.6" />
<line x1="42.8" y1="237.55690372352174" x2="44.3" y2="237.55690372352174" stroke="#999" stroke-width="0.6" />
<line x1="137.14309627647822" y1="330.4" x2="137.14309627647822" y2="331.9" stroke="#999" stroke-width="0.6" />
<line x1="42.8" y1="235.05904813823912" x2="44.3" y2="235.05904813823912" stroke="#999" stroke-width="0.6" />
<line x1="139.64095186176087" y1="330.4" x2="139.64095186176087" y2="331.9" stroke="#999" stroke-width="0.6" />
<line x1="42.8" y1="233.01815152136157" x2="44.3" y2="233.01815152136157" stroke="#999" stroke-width="0.6" />
<line x1="141.68184847863841" y1="330.4" x2="141.68184847863841" y2="331.9" stroke="#999" stroke-width="0.6" />
<line x1="42.8" y1="231.2925980186325" x2="44.3" y2="231.2925980186325" stroke="#999" stroke-width="0.6" />
<line x1="143.40740198136746" y1="330.4" x2="143.40740198136746" y2="331.9" stroke="#999" stroke-width="0.6" />
<line x1="42.8" y1="229.79785558528263" x2="44.3" y2="229.79785558528263" stroke="#999" stroke-width="0.6" />
<line x1="144.90214441471733" y1="330.4" x2="144.90214441471733" y2="331.9" stroke="#999" stroke-width="0.6" />
<line x1="42.8" y1="228.47939931920138" x2="44.3" y2="228.47939931920138" stroke="#999" stroke-width="0.6" />
<line x1="146.22060068079858" y1="330.4" x2="146.22060068079858" y2="331.9" stroke="#999" stroke-width="0.6" />
<line x1="40.8" y1="330.4" x2="44.3" y2="330.4" stroke="#999" stroke-width="1" />
<text x="41.5" y="333.7" font-size="11" text-anchor="end" font-weight="bold" font-style="normal" fill="#000" >10<tspan font-size="6.8" dy="-4.4">0</tspan></text>
<line x1="44.3" y1="330.4" x2="44.3" y2="333.9" stroke="#999" stroke-width="1" />
<line x1="40.8" y1="304.625" x2="44.3" y2="304.625" stroke="#999" stroke-width="1" />
<text x="41.5" y="307.925" font-size="11" text-anchor="end" font-weight="bold" font-style="normal" fill="#000" >10<tspan font-size="6.8" dy="-4.4">1</tspan></text>
<line x1="70.07499999999999" y1="330.4" x2="70.07499999999999" y2="333.9" stroke="#999" stroke-width="1" />
<line x1="40.8" y1="278.84999999999997" x2="44.3" y2="278.84999999999997" stroke="#999" stroke-width="1" />
<text x="41.5" y="282.15" font-size="11" text-anchor="end" font-weight="bold" font-style="normal" fill="#000" >10<tspan font-size="6.8" dy="-4.4">2</tspan></text>
<line x1="95.85" y1="330.4" x2="95.85" y2="333.9" stroke="#999" stroke-width="1" />
<line x1="40.8" y1="253.075" x2="44.3" y2="253.075" stroke="#999" stroke-width="1" />
<text x="41.5" y="256.375" font-size="11" text-anchor="end" font-weight="bold" font-style="normal" fill="#000" >10<tspan font-size="6.8" dy="-4.4">3</tspan></text>
<line x1="121.62499999999999" y1="330.4" x2="121.62499999999999" y2="333.9" stroke="#999" stroke-width="1" />
<line x1="40.8" y1="227.29999999999998" x2="44.3" y2="227.29999999999998" stroke="#999" stroke-width="1" />
<text x="41.5" y="230.6" font-size="11" text-anchor="end" font-weight="bold" font-style="normal" fill="#000" >10<tspan font-size="6.8" dy="-4.4">4</tspan></text>
<line x1="147.39999999999998" y1="330.4" x2="147.39999999999998" y2="333.9" stroke="#999" stroke-width="1" />
<text x="44.099999999999994" y="343.0" font-size="11" text-anchor="middle" font-weight="bold" font-style="normal" fill="#000" >10<tspan font-size="6.8" dy="-4.4">0</tspan></text>
<text x="69.87499999999999" y="343.0" font-size="11" text-anchor="middle" font-weight="bold" font-style="normal" fill="#000" >10<tspan font-size="6.8" dy="-4.4">1</tspan></text>
<text x="95.64999999999999" y="343.0" font-size="11" text-anchor="middle" font-weight="bold" font-style="normal" fill="#000" >10<tspan font-size="6.8" dy="-4.4">2</tspan></text>
<text x="121.42499999999998" y="343.0" font-size="11" text-anchor="middle" font-weight="bold" font-style="normal" fill="#000" >10<tspan font-size="6.8" dy="-4.4">3</tspan></text>
<text x="147.2" y="343.0" font-size="11" text-anchor="middle" font-weight="bold" font-style="normal" fill="#000" >10<tspan font-size="6.8" dy="-4.4">4</tspan></text>
<text x="94.64999999999999" y="221.3" font-size="8.7" text-anchor="middle" font-weight="bold" font-style="italic" fill="#000" >p53<tspan font-size="6" dy="-3.2">-/-</tspan></text>
<text x="46.099999999999994" y="232.9" font-size="6" text-anchor="start" font-weight="bold" font-style="italic" fill="#000" >0.24</text>
<text x="145.79999999999998" y="232.9" font-size="6" text-anchor="end" font-weight="bold" font-style="italic" fill="#000" >97.4</text>
<text x="46.099999999999994" y="328.2" font-size="6" text-anchor="start" font-weight="bold" font-style="italic" fill="#000" >0.28</text>
<text x="146.09999999999997" y="328.4" font-size="6" text-anchor="end" font-weight="bold" font-style="italic" fill="#000" >2.07</text>
<path d="M209.2 245.5h1v1h-1zM255.1 250.9h1v1h-1zM213.1 257.6h1v1h-1zM212.1 248.1h1v1h-1zM205.7 241.2h1v1h-1zM239.2 244.3h1v1h-1zM251.3 257.0h1v1h-1zM210.4 253.5h1v1h-1zM229.8 253.3h1v1h-1zM230.4 252.9h1v1h-1zM245.0 235.5h1v1h-1zM236.4 238.1h1v1h-1zM222.0 238.1h1v1h-1zM223.7 247.5h1v1h-1zM240.3 250.9h1v1h-1zM238.5 248.7h1v1h-1zM225.6 245.9h1v1h-1zM216.8 239.8h1v1h-1zM226.1 249.2h1v1h-1zM228.3 244.4h1v1h-1zM211.5 260.3h1v1h-1zM250.4 244.5h1v1h-1zM229.1 252.1h1v1h-1zM259.5 248.8h1v1h-1zM217.1 251.8h1v1h-1zM222.1 234.8h1v1h-1zM204.7 258.1h1v1h-1zM236.1 228.0h1v1h-1zM221.7 248.6h1v1h-1zM247.0 250.3h1v1h-1zM217.3 235.3h1v1h-1zM235.8 241.6h1v1h-1zM237.4 252.1h1v1h-1zM240.8 257.8h1v1h-1zM240.5 245.1h1v1h-1zM226.0 243.3h1v1h-1zM232.4 250.7h1v1h-1zM227.7 259.2h1v1h-1zM240.9 244.8h1v1h-1zM229.2 248.3h1v1h-1zM227.2 252.4h1v1h-1zM213.8 254.7h1v1h-1zM225.2 230.6h1v1h-1zM234.7 247.2h1v1h-1zM224.6 237.7h1v1h-1zM214.3 260.3h1v1h-1zM226.9 264.9h1v1h-1zM212.6 258.3h1v1h-1zM237.1 261.7h1v1h-1zM219.8 252.1h1v1h-1zM228.0 231.9h1v1h-1zM261.0 250.3h1v1h-1zM228.1 254.3h1v1h-1zM219.4 256.0h1v1h-1zM230.6 245.6h1v1h-1zM234.2 235.0h1v1h-1zM222.4 259.6h1v1h-1zM224.2 251.6h1v1h-1zM253.3 258.9h1v1h-1zM214.1 252.4h1v1h-1zM236.7 255.7h1v1h-1zM254.2 263.9h1v1h-1zM238.0 244.0h1v1h-1zM234.7 256.0h1v1h-1zM238.8 242.9h1v1h-1zM219.3 263.5h1v1h-1zM226.5 248.0h1v1h-1zM230.1 260.0h1v1h-1zM229.4 258.7h1v1h-1zM229.4 248.9h1v1h-1zM235.5 249.2h1v1h-1zM220.3 250.1h1v1h-1zM256.0 244.4h1v1h-1zM226.1 248.8h1v1h-1zM229.8 239.7h1v1h-1zM237.1 254.0h1v1h-1zM225.2 239.1h1v1h-1zM244.4 275.5h1v1h-1zM220.8 253.7h1v1h-1zM234.4 252.8h1v1h-1zM207.4 260.8h1v1h-1zM224.9 251.2h1v1h-1zM212.9 267.5h1v1h-1zM229.5 249.8h1v1h-1zM209.3 246.3h1v1h-1zM220.9 255.8h1v1h-1zM228.9 252.4h1v1h-1zM219.1 240.1h1v1h-1zM218.9 263.0h1v1h-1zM230.6 239.9h1v1h-1zM223.6 258.5h1v1h-1zM231.4 267.4h1v1h-1zM223.7 252.2h1v1h-1zM218.9 240.0h1v1h-1zM214.4 241.6h1v1h-1zM229.7 242.8h1v1h-1zM248.6 247.5h1v1h-1zM227.7 244.7h1v1h-1zM219.1 256.1h1v1h-1zM219.9 257.7h1v1h-1zM212.0 254.2h1v1h-1zM215.0 246.6h1v1h-1zM221.7 248.9h1v1h-1zM226.3 254.9h1v1h-1zM233.2 250.3h1v1h-1zM225.1 246.5h1v1h-1zM230.7 246.3h1v1h-1zM239.6 236.8h1v1h-1zM231.8 240.6h1v1h-1zM234.6 237.4h1v1h-1zM219.4 259.3h1v1h-1zM254.6 235.9h1v1h-1zM233.2 242.3h1v1h-1zM240.1 256.3h1v1h-1zM223.7 251.2h1v1h-1zM231.1 246.0h1v1h-1zM222.0 262.9h1v1h-1zM228.0 252.0h1v1h-1zM226.9 262.7h1v1h-1zM239.2 255.1h1v1h-1zM211.8 269.6h1v1h-1zM224.1 243.8h1v1h-1zM245.2 247.3h1v1h-1zM222.9 244.9h1v1h-1zM230.3 258.7h1v1h-1zM219.3 256.0h1v1h-1zM237.6 241.5h1v1h-1zM229.8 252.3h1v1h-1zM257.5 232.2h1v1h-1zM218.8 238.5h1v1h-1zM225.6 244.0h1v1h-1zM253.5 241.6h1v1h-1zM229.9 237.2h1v1h-1zM224.5 249.1h1v1h-1zM209.9 252.9h1v1h-1zM192.5 258.4h1v1h-1zM219.3 247.3h1v1h-1zM212.8 261.3h1v1h-1zM240.6 250.0h1v1h-1zM239.0 237.4h1v1h-1zM241.6 253.3h1v1h-1zM222.7 250.2h1v1h-1zM224.0 270.9h1v1h-1zM235.4 243.6h1v1h-1zM242.6 244.1h1v1h-1zM241.1 254.1h1v1h-1zM225.3 267.5h1v1h-1zM226.0 243.4h1v1h-1zM225.3 255.9h1v1h-1zM253.3 251.7h1v1h-1zM234.6 250.0h1v1h-1zM214.9 245.9h1v1h-1zM237.8 252.8h1v1h-1zM200.2 253.7h1v1h-1zM233.0 248.8h1v1h-1zM199.5 262.9h1v1h-1zM215.6 239.4h1v1h-1zM200.8 260.6h1v1h-1zM227.4 255.0h1v1h-1zM254.3 242.5h1v1h-1zM248.6 235.4h1v1h-1zM219.7 259.1h1v1h-1zM231.6 251.5h1v1h-1zM228.1 257.9h1v1h-1zM221.9 253.6h1v1h-1zM225.8 251.7h1v1h-1zM230.9 249.6h1v1h-1zM230.1 256.5h1v1h-1zM210.5 258.6h1v1h-1zM234.6 251.8h1v1h-1zM235.7 242.5h1v1h-1zM238.6 234.1h1v1h-1zM228.1 263.2h1v1h-1zM233.5 246.4h1v1h-1zM230.5 264.4h1v1h-1zM242.9 237.5h1v1h-1zM225.1 249.6h1v1h-1zM214.5 261.2h1v1h-1zM226.8 241.4h1v1h-1zM251.7 245.7h1v1h-1zM254.5 242.9h1v1h-1zM227.7 269.4h1v1h-1zM209.9 242.9h1v1h-1zM221.1 240.7h1v1h-1zM219.6 257.2h1v1h-1zM223.4 255.8h1v1h-1zM235.8 239.4h1v1h-1zM227.5 258.1h1v1h-1zM222.4 245.4h1v1h-1zM203.9 259.7h1v1h-1zM206.7 253.1h1v1h-1zM233.0 247.0h1v1h-1zM217.7 254.1h1v1h-1zM236.0 247.9h1v1h-1zM225.8 242.7h1v1h-1zM224.4 256.1h1v1h-1zM239.8 251.6h1v1h-1zM241.9 248.9h1v1h-1zM235.1 235.6h1v1h-1zM198.2 255.1h1v1h-1zM223.9 261.8h1v1h-1zM228.1 237.0h1v1h-1zM234.2 268.1h1v1h-1zM234.9 231.6h1v1h-1zM237.5 260.3h1v1h-1zM226.6 262.4h1v1h-1zM215.2 245.4h1v1h-1zM220.7 243.3h1v1h-1zM248.4 260.9h1v1h-1zM217.2 240.5h1v1h-1zM244.7 232.0h1v1h-1zM222.6 251.8h1v1h-1zM222.4 259.1h1v1h-1zM224.5 239.4h1v1h-1zM222.8 240.5h1v1h-1zM232.6 237.3h1v1h-1zM226.4 248.0h1v1h-1zM228.6 246.2h1v1h-1zM237.0 264.1h1v1h-1zM233.6 243.1h1v1h-1zM212.5 248.9h1v1h-1zM232.3 264.7h1v1h-1zM217.6 273.2h1v1h-1zM247.4 257.3h1v1h-1zM226.9 244.3h1v1h-1zM236.0 248.9h1v1h-1zM230.6 266.9h1v1h-1zM205.8 244.6h1v1h-1zM229.4 250.2h1v1h-1zM236.1 247.9h1v1h-1zM225.3 268.7h1v1h-1zM233.3 252.3h1v1h-1zM240.0 249.1h1v1h-1zM230.2 259.4h1v1h-1zM231.7 258.7h1v1h-1zM223.8 250.9h1v1h-1zM237.6 258.3h1v1h-1zM231.7 240.3h1v1h-1zM213.9 256.2h1v1h-1zM227.9 237.0h1v1h-1zM219.0 241.7h1v1h-1zM231.5 254.8h1v1h-1zM240.3 234.0h1v1h-1zM221.0 249.9h1v1h-1zM232.6 242.5h1v1h-1zM210.8 262.4h1v1h-1zM224.7 268.4h1v1h-1zM233.2 247.7h1v1h-1zM239.4 250.9h1v1h-1zM218.4 259.3h1v1h-1zM207.5 261.2h1v1h-1zM244.3 243.5h1v1h-1zM222.1 259.9h1v1h-1zM233.9 232.4h1v1h-1zM265.8 233.2h1v1h-1zM210.2 269.6h1v1h-1zM226.5 251.5h1v1h-1zM241.9 245.1h1v1h-1zM237.1 241.2h1v1h-1zM224.9 236.8h1v1h-1zM224.4 253.8h1v1h-1zM252.4 254.2h1v1h-1zM220.6 247.3h1v1h-1zM229.5 258.1h1v1h-1zM244.2 244.4h1v1h-1zM223.0 251.6h1v1h-1zM225.5 256.3h1v1h-1zM222.1 241.1h1v1h-1zM229.6 243.1h1v1h-1zM221.2 275.4h1v1h-1zM239.8 243.6h1v1h-1zM234.1 268.3h1v1h-1zM234.5 240.8h1v1h-1zM233.5 254.0h1v1h-1zM232.5 237.0h1v1h-1zM226.1 235.0h1v1h-1zM205.9 261.6h1v1h-1zM236.6 247.2h1v1h-1zM233.7 246.3h1v1h-1zM230.3 252.4h1v1h-1zM221.2 254.0h1v1h-1zM229.1 245.6h1v1h-1zM209.6 233.8h1v1h-1zM228.5 258.5h1v1h-1zM250.5 239.4h1v1h-1zM230.9 228.2h1v1h-1zM215.2 248.5h1v1h-1zM240.6 247.3h1v1h-1zM215.1 266.6h1v1h-1zM193.8 262.6h1v1h-1zM205.5 235.0h1v1h-1zM208.4 253.9h1v1h-1zM226.2 237.9h1v1h-1zM223.1 248.3h1v1h-1zM241.6 241.6h1v1h-1zM241.7 248.3h1v1h-1zM224.3 229.9h1v1h-1zM233.9 259.0h1v1h-1zM218.3 256.9h1v1h-1zM235.6 251.8h1v1h-1zM217.1 252.4h1v1h-1zM212.9 245.5h1v1h-1zM217.7 255.3h1v1h-1zM215.5 247.4h1v1h-1zM230.1 254.7h1v1h-1zM246.6 250.5h1v1h-1zM223.3 240.4h1v1h-1zM219.0 254.6h1v1h-1zM235.5 245.3h1v1h-1zM215.2 258.7h1v1h-1zM204.6 242.8h1v1h-1zM207.9 252.7h1v1h-1zM241.6 262.5h1v1h-1zM238.7 246.8h1v1h-1zM226.2 243.4h1v1h-1zM214.3 239.0h1v1h-1zM235.7 234.1h1v1h-1zM237.9 272.0h1v1h-1zM245.5 242.5h1v1h-1zM221.8 251.1h1v1h-1zM213.2 251.7h1v1h-1zM211.5 246.6h1v1h-1zM246.8 253.9h1v1h-1zM224.5 242.9h1v1h-1zM236.5 260.3h1v1h-1zM217.2 248.0h1v1h-1zM224.6 248.4h1v1h-1zM208.8 265.9h1v1h-1zM251.4 253.7h1v1h-1zM240.2 252.4h1v1h-1zM230.2 246.6h1v1h-1zM224.0 248.3h1v1h-1zM229.5 233.0h1v1h-1zM229.1 237.2h1v1h-1zM215.3 247.9h1v1h-1zM235.8 251.6h1v1h-1zM228.7 242.9h1v1h-1zM224.9 261.7h1v1h-1zM240.9 243.5h1v1h-1zM222.8 257.5h1v1h-1zM214.4 253.8h1v1h-1zM230.0 254.9h1v1h-1zM256.2 245.5h1v1h-1zM231.3 238.5h1v1h-1zM241.8 245.7h1v1h-1zM233.5 243.6h1v1h-1zM227.9 251.5h1v1h-1zM231.9 250.6h1v1h-1zM226.6 264.5h1v1h-1zM220.8 240.7h1v1h-1zM243.1 246.9h1v1h-1zM231.2 260.3h1v1h-1zM232.4 254.6h1v1h-1zM201.0 257.4h1v1h-1zM213.2 255.7h1v1h-1zM219.4 243.7h1v1h-1zM222.4 237.8h1v1h-1zM263.8 241.3h1v1h-1zM217.6 245.7h1v1h-1zM223.2 242.8h1v1h-1zM216.0 253.4h1v1h-1zM239.5 246.9h1v1h-1zM222.3 247.1h1v1h-1zM236.9 248.0h1v1h-1zM224.9 260.3h1v1h-1zM239.9 265.4h1v1h-1zM235.7 244.8h1v1h-1zM204.3 262.8h1v1h-1zM230.4 252.0h1v1h-1zM230.3 262.9h1v1h-1zM230.7 260.7h1v1h-1zM233.5 253.2h1v1h-1zM223.6 238.2h1v1h-1zM214.4 240.2h1v1h-1zM231.1 261.1h1v1h-1zM214.8 257.3h1v1h-1zM217.2 260.3h1v1h-1zM210.4 255.4h1v1h-1zM208.1 244.9h1v1h-1zM232.8 245.9h1v1h-1zM243.4 256.9h1v1h-1zM223.2 247.5h1v1h-1zM222.3 237.5h1v1h-1zM218.6 247.2h1v1h-1zM219.2 264.4h1v1h-1zM236.9 238.6h1v1h-1zM233.0 252.9h1v1h-1zM218.6 257.2h1v1h-1zM220.6 251.9h1v1h-1zM229.8 242.9h1v1h-1zM233.5 244.7h1v1h-1zM232.7 253.3h1v1h-1zM226.2 247.2h1v1h-1zM228.1 250.0h1v1h-1zM237.6 254.7h1v1h-1zM228.8 270.5h1v1h-1zM226.6 248.3h1v1h-1zM231.0 256.0h1v1h-1zM240.1 255.2h1v1h-1zM223.5 243.6h1v1h-1zM225.3 251.4h1v1h-1zM210.4 250.8h1v1h-1zM219.1 239.9h1v1h-1zM206.5 265.6h1v1h-1zM232.8 251.8h1v1h-1zM231.6 257.8h1v1h-1zM228.3 248.3h1v1h-1zM228.2 255.2h1v1h-1zM214.1 264.2h1v1h-1zM228.8 245.5h1v1h-1zM241.2 251.0h1v1h-1zM226.2 257.5h1v1h-1zM210.4 232.9h1v1h-1zM217.2 262.7h1v1h-1zM276.8 281.1h1v1h-1zM267.4 298.7h1v1h-1zM224.4 303.1h1v1h-1zM262.1 293.6h1v1h-1zM216.0 317.5h1v1h-1zM275.3 320.4h1v1h-1zM205.5 299.4h1v1h-1zM235.4 312.3h1v1h-1zM249.0 246.7h1v1h-1zM279.2 265.2h1v1h-1zM273.4 286.2h1v1h-1zM244.1 270.1h1v1h-1zM199.7 326.2h1v1h-1zM232.9 312.9h1v1h-1zM224.8 317.7h1v1h-1zM245.3 313.1h1v1h-1zM225.4 313.0h1v1h-1zM202.2 269.6h1v1h-1zM192.8 248.9h1v1h-1zM276.0 281.9h1v1h-1zM253.3 282.5h1v1h-1zM258.6 289.3h1v1h-1zM195.6 251.0h1v1h-1zM281.0 283.3h1v1h-1zM240.6 242.9h1v1h-1zM207.9 282.3h1v1h-1zM228.0 307.4h1v1h-1zM218.7 318.5h1v1h-1zM248.0 235.2h1v1h-1z" fill="#999" fill-opacity="0.35"/>
<path d="M225.7 300.9h1v1h-1zM233.1 293.1h1v1h-1zM223.0 285.8h1v1h-1zM221.3 278.6h1v1h-1zM237.1 298.4h1v1h-1zM231.5 275.1h1v1h-1zM235.5 281.2h1v1h-1zM217.4 285.2h1v1h-1zM216.4 291.8h1v1h-1zM215.7 303.1h1v1h-1zM233.0 290.6h1v1h-1zM242.3 277.5h1v1h-1zM229.7 294.9h1v1h-1zM245.7 283.1h1v1h-1zM219.4 278.8h1v1h-1zM221.1 276.0h1v1h-1zM222.0 278.2h1v1h-1zM230.0 276.0h1v1h-1zM219.5 298.6h1v1h-1zM247.3 284.6h1v1h-1zM211.7 286.6h1v1h-1zM218.7 279.2h1v1h-1zM239.6 278.2h1v1h-1zM227.4 287.9h1v1h-1zM237.2 282.8h1v1h-1zM214.3 279.3h1v1h-1zM218.1 281.7h1v1h-1zM229.5 293.9h1v1h-1zM219.5 293.8h1v1h-1zM215.9 291.2h1v1h-1zM246.9 278.4h1v1h-1zM234.6 276.5h1v1h-1zM220.6 277.5h1v1h-1zM224.9 301.4h1v1h-1zM238.6 278.8h1v1h-1zM225.7 290.4h1v1h-1zM231.4 292.2h1v1h-1zM227.4 299.6h1v1h-1zM227.0 299.9h1v1h-1zM212.5 299.9h1v1h-1zM226.2 310.6h1v1h-1zM235.1 285.1h1v1h-1zM232.9 275.1h1v1h-1zM233.3 279.4h1v1h-1zM214.7 296.1h1v1h-1zM232.1 281.5h1v1h-1zM229.7 305.4h1v1h-1zM213.8 275.0h1v1h-1zM235.4 288.8h1v1h-1zM247.0 279.4h1v1h-1zM236.1 282.8h1v1h-1zM222.9 288.6h1v1h-1zM211.6 281.9h1v1h-1zM224.6 278.7h1v1h-1zM246.5 276.0h1v1h-1zM235.0 293.0h1v1h-1zM212.9 275.5h1v1h-1zM224.5 289.2h1v1h-1zM222.4 316.1h1v1h-1zM226.9 289.4h1v1h-1zM216.7 295.3h1v1h-1zM228.5 283.4h1v1h-1zM229.8 280.3h1v1h-1zM216.7 274.4h1v1h-1zM219.2 280.5h1v1h-1zM220.4 274.7h1v1h-1zM220.2 316.1h1v1h-1zM235.9 282.8h1v1h-1zM225.6 302.3h1v1h-1zM220.1 290.2h1v1h-1zM226.1 276.6h1v1h-1zM231.1 277.5h1v1h-1zM231.4 288.1h1v1h-1zM244.2 277.9h1v1h-1zM215.5 278.9h1v1h-1zM222.4 283.0h1v1h-1zM222.9 281.2h1v1h-1zM237.7 274.4h1v1h-1zM243.5 289.3h1v1h-1zM221.5 304.3h1v1h-1zM233.5 298.5h1v1h-1zM219.7 280.9h1v1h-1zM229.1 280.8h1v1h-1zM225.0 294.5h1v1h-1zM218.9 284.7h1v1h-1zM223.1 302.5h1v1h-1zM251.0 280.3h1v1h-1zM239.0 274.7h1v1h-1zM217.1 295.2h1v1h-1zM211.9 279.9h1v1h-1zM239.6 285.0h1v1h-1zM242.9 286.0h1v1h-1zM216.9 276.8h1v1h-1zM212.6 290.1h1v1h-1zM216.8 297.0h1v1h-1zM230.0 276.7h1v1h-1zM236.6 277.8h1v1h-1zM225.7 300.7h1v1h-1zM223.6 309.5h1v1h-1zM227.0 280.6h1v1h-1zM221.0 289.1h1v1h-1zM239.2 289.2h1v1h-1zM229.6 274.9h1v1h-1zM231.9 293.4h1v1h-1zM242.2 289.2h1v1h-1zM247.5 274.9h1v1h-1zM233.9 293.7h1v1h-1zM232.4 286.5h1v1h-1zM243.2 282.4h1v1h-1zM240.9 281.4h1v1h-1zM219.8 283.8h1v1h-1zM223.3 279.2h1v1h-1zM223.3 280.7h1v1h-1zM229.5 274.3h1v1h-1zM222.5 315.5h1v1h-1zM222.9 294.7h1v1h-1zM234.7 289.3h1v1h-1zM218.3 291.1h1v1h-1zM215.8 276.8h1v1h-1zM239.0 289.1h1v1h-1zM240.8 288.9h1v1h-1zM230.3 281.0h1v1h-1zM218.6 301.7h1v1h-1zM231.6 286.8h1v1h-1zM220.7 282.6h1v1h-1zM214.4 289.6h1v1h-1zM242.7 276.0h1v1h-1zM231.3 278.4h1v1h-1zM235.4 280.5h1v1h-1zM232.0 304.1h1v1h-1zM236.9 293.6h1v1h-1zM229.1 284.4h1v1h-1zM220.7 316.1h1v1h-1zM226.8 294.4h1v1h-1zM238.2 280.0h1v1h-1zM220.9 277.8h1v1h-1zM242.9 278.2h1v1h-1zM226.5 297.0h1v1h-1zM233.8 284.4h1v1h-1zM219.7 283.7h1v1h-1zM245.9 287.1h1v1h-1zM231.0 275.6h1v1h-1zM249.0 276.2h1v1h-1zM234.9 286.2h1v1h-1zM230.7 277.0h1v1h-1zM232.6 286.8h1v1h-1zM236.6 294.4h1v1h-1zM230.5 280.3h1v1h-1zM224.0 295.8h1v1h-1zM230.9 295.2h1v1h-1zM237.1 298.6h1v1h-1zM217.8 301.9h1v1h-1zM223.5 281.9h1v1h-1zM235.6 275.1h1v1h-1zM240.3 283.9h1v1h-1zM233.2 291.6h1v1h-1zM232.5 285.5h1v1h-1zM248.0 274.1h1v1h-1zM209.2 297.5h1v1h-1zM223.0 276.3h1v1h-1zM236.6 280.8h1v1h-1zM236.2 277.4h1v1h-1zM227.9 281.5h1v1h-1zM218.4 287.4h1v1h-1zM238.2 281.6h1v1h-1zM224.1 279.4h1v1h-1zM238.0 293.7h1v1h-1zM237.9 292.3h1v1h-1zM219.4 307.4h1v1h-1zM243.8 283.0h1v1h-1zM199.2 312.6h1v1h-1zM194.5 292.9h1v1h-1zM208.5 291.1h1v1h-1zM207.6 284.8h1v1h-1zM208.4 302.9h1v1h-1zM200.8 280.4h1v1h-1zM205.9 313.9h1v1h-1zM210.7 288.2h1v1h-1zM192.2 277.3h1v1h-1zM198.1 277.2h1v1h-1zM192.6 313.2h1v1h-1zM194.8 288.3h1v1h-1zM203.7 315.4h1v1h-1zM191.9 298.0h1v1h-1zM192.2 303.5h1v1h-1zM194.9 275.3h1v1h-1zM205.7 301.4h1v1h-1zM188.8 297.0h1v1h-1zM193.7 312.8h1v1h-1zM200.6 310.0h1v1h-1zM198.2 323.0h1v1h-1zM212.3 315.1h1v1h-1zM192.8 285.0h1v1h-1zM187.3 312.5h1v1h-1zM197.0 286.9h1v1h-1z" fill="#aaa" fill-opacity="0.4"/>
<path d="M242.8 239.0h1v1h-1zM226.4 250.5h1v1h-1zM224.5 255.9h1v1h-1zM236.9 239.3h1v1h-1zM224.6 250.6h1v1h-1zM228.0 242.8h1v1h-1zM224.0 249.4h1v1h-1zM233.3 244.2h1v1h-1zM236.8 253.4h1v1h-1zM235.2 245.5h1v1h-1zM222.2 245.3h1v1h-1zM227.1 248.9h1v1h-1zM234.7 244.4h1v1h-1zM214.7 252.7h1v1h-1zM225.7 251.4h1v1h-1zM224.4 248.7h1v1h-1zM225.8 251.5h1v1h-1zM239.5 244.1h1v1h-1zM235.4 246.6h1v1h-1zM233.4 247.3h1v1h-1zM228.3 251.7h1v1h-1zM226.6 248.7h1v1h-1zM233.2 246.6h1v1h-1zM237.4 247.8h1v1h-1zM240.4 242.7h1v1h-1zM224.0 239.2h1v1h-1zM225.4 252.8h1v1h-1zM227.7 241.9h1v1h-1zM237.4 248.9h1v1h-1zM223.5 243.4h1v1h-1zM230.4 242.4h1v1h-1zM235.7 243.9h1v1h-1zM231.7 243.0h1v1h-1zM231.0 240.6h1v1h-1zM230.4 248.6h1v1h-1zM234.8 247.1h1v1h-1zM227.2 256.0h1v1h-1zM230.9 252.9h1v1h-1zM232.0 247.1h1v1h-1zM231.3 252.9h1v1h-1zM232.1 249.6h1v1h-1zM219.7 250.0h1v1h-1zM223.5 246.3h1v1h-1zM242.5 249.7h1v1h-1zM229.0 245.8h1v1h-1zM238.0 253.5h1v1h-1zM234.8 246.2h1v1h-1zM227.4 246.0h1v1h-1zM227.8 234.8h1v1h-1zM222.5 244.9h1v1h-1zM224.7 245.0h1v1h-1zM235.5 241.5h1v1h-1zM229.0 252.4h1v1h-1zM226.8 249.0h1v1h-1zM223.2 245.5h1v1h-1zM230.1 250.2h1v1h-1zM229.8 248.4h1v1h-1zM235.7 251.6h1v1h-1zM227.2 251.3h1v1h-1zM229.5 246.0h1v1h-1zM231.4 247.6h1v1h-1zM239.1 246.9h1v1h-1zM240.1 248.0h1v1h-1zM239.2 243.7h1v1h-1zM238.6 245.4h1v1h-1zM232.7 244.9h1v1h-1zM223.8 249.0h1v1h-1zM219.7 255.6h1v1h-1zM226.5 247.1h1v1h-1zM230.2 255.2h1v1h-1zM223.7 247.7h1v1h-1zM223.2 246.2h1v1h-1zM237.6 249.4h1v1h-1zM230.0 237.7h1v1h-1zM238.1 251.6h1v1h-1zM229.9 245.7h1v1h-1zM230.2 255.1h1v1h-1zM234.2 253.7h1v1h-1zM229.3 249.6h1v1h-1zM240.5 246.8h1v1h-1zM233.9 244.8h1v1h-1zM230.9 243.2h1v1h-1zM230.6 244.3h1v1h-1zM240.1 247.8h1v1h-1zM231.9 246.5h1v1h-1zM238.8 246.0h1v1h-1zM228.3 247.4h1v1h-1zM232.1 242.7h1v1h-1zM230.1 243.9h1v1h-1zM225.8 247.9h1v1h-1zM232.4 251.9h1v1h-1zM230.3 247.3h1v1h-1zM231.6 250.0h1v1h-1zM231.2 243.1h1v1h-1zM232.7 241.5h1v1h-1zM218.9 251.1h1v1h-1zM218.5 248.1h1v1h-1zM231.9 250.0h1v1h-1zM237.9 242.2h1v1h-1zM227.9 249.6h1v1h-1zM237.6 242.9h1v1h-1zM231.5 246.9h1v1h-1zM240.1 238.9h1v1h-1zM235.4 245.7h1v1h-1zM227.0 245.4h1v1h-1zM231.0 248.6h1v1h-1zM223.1 250.9h1v1h-1zM233.8 251.9h1v1h-1zM229.4 250.7h1v1h-1zM238.4 240.8h1v1h-1zM229.7 244.5h1v1h-1zM230.1 243.3h1v1h-1zM220.1 246.6h1v1h-1zM222.7 254.1h1v1h-1zM222.9 250.6h1v1h-1zM221.5 243.5h1v1h-1zM236.4 238.8h1v1h-1zM237.7 248.9h1v1h-1zM225.2 251.4h1v1h-1zM224.1 248.7h1v1h-1zM231.6 244.0h1v1h-1zM225.8 245.6h1v1h-1zM234.6 251.2h1v1h-1zM232.1 249.8h1v1h-1zM226.4 238.4h1v1h-1zM227.6 245.6h1v1h-1zM231.6 243.3h1v1h-1zM219.7 260.2h1v1h-1zM238.2 239.6h1v1h-1zM241.3 243.9h1v1h-1zM232.9 255.0h1v1h-1zM236.4 247.4h1v1h-1zM236.6 248.8h1v1h-1zM223.4 241.5h1v1h-1zM240.4 253.9h1v1h-1zM232.3 243.6h1v1h-1zM227.1 247.7h1v1h-1zM229.9 240.3h1v1h-1zM230.0 252.8h1v1h-1zM225.5 247.6h1v1h-1zM230.9 245.9h1v1h-1zM228.6 244.8h1v1h-1zM235.0 251.9h1v1h-1zM234.2 253.9h1v1h-1zM227.3 258.4h1v1h-1zM230.0 245.2h1v1h-1zM221.6 246.3h1v1h-1zM231.7 247.8h1v1h-1zM230.7 249.2h1v1h-1zM230.4 248.1h1v1h-1zM229.3 247.2h1v1h-1zM234.0 253.6h1v1h-1zM226.4 246.0h1v1h-1zM237.6 253.9h1v1h-1zM242.3 242.5h1v1h-1zM229.9 243.8h1v1h-1zM232.0 248.0h1v1h-1zM227.4 247.4h1v1h-1zM221.3 256.8h1v1h-1zM220.8 241.9h1v1h-1zM225.2 250.7h1v1h-1zM230.5 243.2h1v1h-1zM232.9 252.1h1v1h-1zM231.3 248.1h1v1h-1zM222.9 252.8h1v1h-1zM227.8 243.4h1v1h-1zM239.2 243.2h1v1h-1zM235.2 241.0h1v1h-1zM224.5 250.9h1v1h-1zM234.8 242.4h1v1h-1zM236.3 237.1h1v1h-1zM229.5 251.1h1v1h-1zM224.8 249.4h1v1h-1zM231.4 249.5h1v1h-1zM224.2 242.3h1v1h-1zM238.4 245.6h1v1h-1zM223.5 249.2h1v1h-1zM238.6 248.1h1v1h-1zM241.9 239.0h1v1h-1zM229.5 251.1h1v1h-1zM235.3 249.2h1v1h-1zM238.9 244.9h1v1h-1zM228.7 244.5h1v1h-1zM237.3 251.6h1v1h-1zM232.2 247.0h1v1h-1zM233.5 249.2h1v1h-1zM224.7 254.8h1v1h-1zM221.0 249.0h1v1h-1zM228.7 249.4h1v1h-1zM235.4 245.1h1v1h-1zM238.5 234.5h1v1h-1zM224.8 238.9h1v1h-1zM227.1 258.3h1v1h-1zM230.4 243.6h1v1h-1zM230.7 250.1h1v1h-1zM228.5 244.7h1v1h-1zM226.1 245.7h1v1h-1zM236.4 253.3h1v1h-1zM228.2 251.6h1v1h-1zM235.0 249.8h1v1h-1zM230.1 240.0h1v1h-1zM233.1 242.6h1v1h-1zM224.7 254.4h1v1h-1zM223.6 252.8h1v1h-1zM232.1 244.0h1v1h-1zM225.8 247.1h1v1h-1zM239.1 249.8h1v1h-1zM227.3 243.1h1v1h-1zM219.9 253.9h1v1h-1zM230.5 250.7h1v1h-1zM228.4 254.4h1v1h-1zM227.3 255.4h1v1h-1zM230.4 240.8h1v1h-1zM234.8 248.4h1v1h-1zM230.5 246.0h1v1h-1zM230.8 241.2h1v1h-1zM238.8 243.6h1v1h-1zM227.3 250.6h1v1h-1zM233.1 249.2h1v1h-1zM240.8 248.2h1v1h-1zM230.8 246.8h1v1h-1zM237.3 241.8h1v1h-1zM228.9 238.3h1v1h-1zM230.2 237.4h1v1h-1zM226.8 244.2h1v1h-1zM221.8 246.8h1v1h-1zM233.4 236.4h1v1h-1zM237.2 247.0h1v1h-1zM233.4 237.7h1v1h-1zM235.9 244.9h1v1h-1zM232.9 241.5h1v1h-1zM232.8 247.2h1v1h-1zM232.6 239.0h1v1h-1zM226.2 243.9h1v1h-1zM234.9 244.0h1v1h-1zM235.0 249.4h1v1h-1zM235.2 244.2h1v1h-1zM231.0 251.1h1v1h-1zM228.5 241.4h1v1h-1zM228.4 251.0h1v1h-1zM240.4 240.1h1v1h-1zM231.0 248.6h1v1h-1zM229.7 247.5h1v1h-1zM233.8 256.2h1v1h-1zM238.1 242.7h1v1h-1zM234.4 246.9h1v1h-1zM218.3 249.9h1v1h-1zM238.4 245.9h1v1h-1zM225.7 250.3h1v1h-1zM227.2 242.4h1v1h-1zM229.4 241.4h1v1h-1zM231.5 251.5h1v1h-1zM224.5 250.1h1v1h-1zM239.4 242.9h1v1h-1zM231.3 247.3h1v1h-1zM221.8 247.2h1v1h-1zM223.3 250.1h1v1h-1zM228.8 255.1h1v1h-1zM235.9 238.6h1v1h-1zM231.7 249.4h1v1h-1zM229.3 251.2h1v1h-1zM232.7 252.2h1v1h-1zM230.1 246.5h1v1h-1zM224.8 244.9h1v1h-1zM234.2 239.3h1v1h-1zM229.5 248.0h1v1h-1zM235.7 237.0h1v1h-1zM237.1 245.7h1v1h-1zM229.1 248.7h1v1h-1zM224.9 239.1h1v1h-1zM239.9 246.5h1v1h-1zM231.3 252.0h1v1h-1zM231.3 245.8h1v1h-1zM240.5 249.0h1v1h-1zM233.9 246.6h1v1h-1zM227.7 241.2h1v1h-1zM223.6 252.1h1v1h-1zM236.1 246.8h1v1h-1zM236.3 246.4h1v1h-1zM230.0 248.4h1v1h-1zM221.7 249.0h1v1h-1zM230.9 248.4h1v1h-1zM222.5 241.7h1v1h-1zM238.7 248.0h1v1h-1zM231.4 253.7h1v1h-1zM233.3 250.9h1v1h-1zM229.1 250.9h1v1h-1zM240.6 248.2h1v1h-1zM229.1 240.2h1v1h-1zM231.1 241.8h1v1h-1zM234.9 248.5h1v1h-1zM221.8 245.0h1v1h-1zM221.2 249.1h1v1h-1zM231.4 248.5h1v1h-1zM235.4 251.1h1v1h-1zM230.4 239.7h1v1h-1zM236.9 244.4h1v1h-1zM236.7 242.8h1v1h-1zM234.5 253.1h1v1h-1zM231.2 250.8h1v1h-1zM230.9 253.3h1v1h-1zM226.3 243.5h1v1h-1zM231.2 239.6h1v1h-1zM222.8 244.0h1v1h-1zM228.1 242.0h1v1h-1zM234.7 247.7h1v1h-1zM238.9 248.3h1v1h-1zM230.9 245.2h1v1h-1zM220.2 246.0h1v1h-1zM240.3 249.2h1v1h-1zM233.5 243.4h1v1h-1zM213.6 254.8h1v1h-1zM238.0 244.6h1v1h-1zM244.5 244.8h1v1h-1zM235.2 236.6h1v1h-1zM220.5 247.3h1v1h-1zM239.5 243.9h1v1h-1zM236.1 243.9h1v1h-1zM227.3 245.5h1v1h-1zM230.5 246.9h1v1h-1zM228.1 247.4h1v1h-1zM229.7 244.7h1v1h-1zM232.4 249.3h1v1h-1zM228.9 245.7h1v1h-1zM232.7 241.4h1v1h-1zM243.4 243.7h1v1h-1zM233.6 251.7h1v1h-1zM236.1 247.1h1v1h-1zM228.5 240.5h1v1h-1zM239.6 238.1h1v1h-1zM231.3 243.8h1v1h-1zM234.2 255.1h1v1h-1zM229.1 242.1h1v1h-1zM230.7 243.9h1v1h-1zM224.4 241.0h1v1h-1zM231.7 246.0h1v1h-1zM221.4 248.4h1v1h-1zM226.3 246.4h1v1h-1zM226.3 251.5h1v1h-1zM234.7 241.5h1v1h-1zM230.2 254.0h1v1h-1zM236.6 239.1h1v1h-1zM233.8 248.5h1v1h-1zM225.8 246.9h1v1h-1zM220.8 242.5h1v1h-1zM232.0 249.9h1v1h-1zM230.0 248.9h1v1h-1zM235.3 242.2h1v1h-1zM228.8 241.7h1v1h-1zM232.5 243.3h1v1h-1zM243.1 239.4h1v1h-1zM237.8 239.7h1v1h-1zM242.0 239.5h1v1h-1zM224.5 250.4h1v1h-1zM229.8 246.0h1v1h-1zM234.1 249.8h1v1h-1zM233.6 253.8h1v1h-1zM231.5 238.1h1v1h-1zM232.6 248.0h1v1h-1zM230.8 250.6h1v1h-1zM236.9 257.4h1v1h-1zM217.8 241.0h1v1h-1zM235.5 251.7h1v1h-1zM234.8 246.4h1v1h-1zM229.4 245.3h1v1h-1zM233.3 241.9h1v1h-1zM234.6 240.4h1v1h-1zM225.4 246.9h1v1h-1zM225.8 250.0h1v1h-1zM240.1 249.5h1v1h-1zM230.1 248.8h1v1h-1zM229.8 241.7h1v1h-1zM232.0 247.6h1v1h-1zM230.2 250.7h1v1h-1zM240.6 242.5h1v1h-1zM221.5 249.5h1v1h-1zM231.3 252.7h1v1h-1zM223.8 245.8h1v1h-1zM236.6 245.9h1v1h-1zM237.6 243.0h1v1h-1zM233.5 250.2h1v1h-1zM228.3 243.8h1v1h-1zM238.7 244.4h1v1h-1zM233.8 247.2h1v1h-1zM229.3 245.9h1v1h-1zM231.1 245.8h1v1h-1zM234.8 243.6h1v1h-1zM232.5 245.9h1v1h-1zM234.6 249.5h1v1h-1zM221.1 248.0h1v1h-1zM228.8 242.7h1v1h-1zM232.3 237.9h1v1h-1zM232.7 245.0h1v1h-1zM234.9 240.3h1v1h-1zM227.8 243.8h1v1h-1zM222.0 246.2h1v1h-1zM226.8 244.3h1v1h-1zM231.6 243.6h1v1h-1zM235.4 244.8h1v1h-1zM232.1 248.3h1v1h-1zM222.3 252.4h1v1h-1zM229.7 239.7h1v1h-1zM228.9 248.1h1v1h-1zM227.8 250.1h1v1h-1zM244.6 246.5h1v1h-1zM218.7 240.7h1v1h-1zM233.4 244.6h1v1h-1zM225.6 244.9h1v1h-1zM223.6 252.6h1v1h-1zM231.0 241.6h1v1h-1zM229.8 240.0h1v1h-1zM231.6 243.9h1v1h-1zM239.1 241.6h1v1h-1zM230.2 247.1h1v1h-1zM226.0 248.1h1v1h-1zM235.8 246.0h1v1h-1zM232.3 242.8h1v1h-1zM233.0 248.7h1v1h-1zM213.4 254.7h1v1h-1zM231.2 245.4h1v1h-1zM230.0 247.5h1v1h-1zM229.0 248.0h1v1h-1zM229.7 247.5h1v1h-1zM233.8 250.5h1v1h-1zM229.1 247.5h1v1h-1zM233.1 242.4h1v1h-1zM226.7 251.0h1v1h-1zM222.3 248.0h1v1h-1zM237.1 246.4h1v1h-1zM228.6 245.7h1v1h-1zM238.6 240.5h1v1h-1zM223.6 248.9h1v1h-1zM229.7 247.4h1v1h-1zM233.7 246.0h1v1h-1zM231.1 243.5h1v1h-1zM232.3 248.2h1v1h-1zM222.7 242.8h1v1h-1zM237.4 247.7h1v1h-1zM230.8 257.9h1v1h-1zM233.1 247.1h1v1h-1zM232.9 248.9h1v1h-1zM224.3 246.2h1v1h-1zM230.4 250.1h1v1h-1zM230.7 241.6h1v1h-1zM227.9 255.5h1v1h-1zM227.6 247.6h1v1h-1zM229.0 246.9h1v1h-1zM240.9 240.1h1v1h-1zM235.5 243.9h1v1h-1zM234.5 242.7h1v1h-1zM227.6 251.2h1v1h-1zM232.0 248.2h1v1h-1zM228.3 252.9h1v1h-1zM237.9 247.1h1v1h-1zM226.0 238.5h1v1h-1zM233.0 243.6h1v1h-1zM239.3 236.0h1v1h-1zM228.6 251.5h1v1h-1zM227.6 250.6h1v1h-1zM236.5 256.4h1v1h-1zM234.9 246.0h1v1h-1zM229.0 240.3h1v1h-1zM229.4 246.2h1v1h-1zM226.0 255.7h1v1h-1zM228.6 244.8h1v1h-1zM235.8 244.8h1v1h-1zM228.4 255.9h1v1h-1zM232.2 244.4h1v1h-1zM235.5 248.3h1v1h-1zM230.6 247.5h1v1h-1zM228.7 247.5h1v1h-1zM241.1 244.0h1v1h-1zM229.4 252.2h1v1h-1zM223.4 256.4h1v1h-1zM221.8 245.3h1v1h-1zM227.7 247.5h1v1h-1zM225.9 245.5h1v1h-1zM235.8 246.2h1v1h-1zM241.6 250.5h1v1h-1zM226.4 247.2h1v1h-1zM247.3 245.0h1v1h-1zM230.4 240.0h1v1h-1zM233.8 244.3h1v1h-1zM223.8 241.6h1v1h-1zM231.7 241.3h1v1h-1zM241.9 251.4h1v1h-1zM234.0 242.3h1v1h-1zM227.1 253.9h1v1h-1zM239.1 246.1h1v1h-1zM226.2 246.5h1v1h-1zM219.2 245.9h1v1h-1zM235.2 252.3h1v1h-1zM232.8 249.4h1v1h-1zM233.3 247.2h1v1h-1zM221.5 245.7h1v1h-1zM222.5 240.3h1v1h-1zM233.1 251.6h1v1h-1zM226.3 242.2h1v1h-1zM225.3 251.8h1v1h-1zM236.4 243.3h1v1h-1zM221.3 247.4h1v1h-1zM219.0 255.8h1v1h-1zM230.0 251.9h1v1h-1zM237.7 254.6h1v1h-1zM224.9 246.8h1v1h-1zM219.5 254.7h1v1h-1zM230.2 251.9h1v1h-1zM230.7 250.2h1v1h-1zM225.7 248.8h1v1h-1zM226.7 251.9h1v1h-1zM240.2 242.8h1v1h-1zM235.2 247.1h1v1h-1zM217.6 249.4h1v1h-1zM229.8 254.6h1v1h-1zM229.6 255.2h1v1h-1zM220.1 249.4h1v1h-1zM228.0 252.3h1v1h-1zM227.0 250.7h1v1h-1zM233.4 254.0h1v1h-1zM223.6 259.1h1v1h-1zM230.1 254.8h1v1h-1zM228.8 254.9h1v1h-1zM225.0 250.5h1v1h-1zM235.4 245.7h1v1h-1zM220.3 250.0h1v1h-1zM213.8 255.7h1v1h-1zM228.7 248.7h1v1h-1zM222.4 254.0h1v1h-1zM233.3 250.9h1v1h-1zM222.8 254.8h1v1h-1zM231.3 250.3h1v1h-1zM224.9 258.0h1v1h-1zM218.7 254.5h1v1h-1zM230.1 252.5h1v1h-1zM231.7 254.2h1v1h-1zM226.5 247.9h1v1h-1zM225.7 247.7h1v1h-1zM228.8 252.4h1v1h-1zM226.6 252.7h1v1h-1zM226.7 249.4h1v1h-1zM225.3 255.1h1v1h-1zM231.3 250.1h1v1h-1zM225.2 256.1h1v1h-1zM224.5 254.9h1v1h-1zM227.4 252.1h1v1h-1zM230.3 252.0h1v1h-1zM233.1 252.5h1v1h-1zM216.1 251.0h1v1h-1zM219.6 245.7h1v1h-1zM226.4 254.3h1v1h-1zM231.0 247.2h1v1h-1zM229.2 245.3h1v1h-1zM224.3 249.1h1v1h-1zM223.0 249.2h1v1h-1zM228.5 243.5h1v1h-1zM217.3 249.0h1v1h-1zM218.6 255.7h1v1h-1zM214.6 251.2h1v1h-1zM222.5 253.2h1v1h-1zM229.5 256.8h1v1h-1zM231.6 242.7h1v1h-1zM218.8 245.5h1v1h-1zM237.3 249.2h1v1h-1zM225.2 254.9h1v1h-1zM221.5 249.8h1v1h-1zM233.6 242.1h1v1h-1zM225.8 246.4h1v1h-1zM229.2 249.4h1v1h-1zM233.5 258.9h1v1h-1zM217.7 252.1h1v1h-1zM231.6 252.6h1v1h-1zM223.6 249.2h1v1h-1zM217.5 253.6h1v1h-1zM230.3 246.0h1v1h-1zM221.6 254.8h1v1h-1z" fill="#7c7c7c" fill-opacity="0.4"/>
<path d="M233.2 246.5h1v1h-1zM222.7 235.6h1v1h-1zM223.4 248.8h1v1h-1zM226.2 238.8h1v1h-1zM218.4 252.5h1v1h-1zM233.0 249.8h1v1h-1zM224.8 244.3h1v1h-1zM230.2 245.5h1v1h-1zM224.1 252.8h1v1h-1zM231.2 244.2h1v1h-1zM235.6 247.6h1v1h-1zM227.1 245.0h1v1h-1zM225.2 246.1h1v1h-1zM245.2 235.1h1v1h-1zM232.3 246.2h1v1h-1zM230.0 253.2h1v1h-1zM232.5 248.0h1v1h-1zM235.4 247.2h1v1h-1zM224.4 257.0h1v1h-1zM241.8 246.6h1v1h-1zM230.9 243.3h1v1h-1zM224.3 252.4h1v1h-1zM241.1 234.4h1v1h-1zM238.9 241.2h1v1h-1zM227.6 247.0h1v1h-1zM227.3 243.3h1v1h-1zM238.3 242.9h1v1h-1zM238.5 238.4h1v1h-1zM227.4 249.6h1v1h-1zM222.7 250.7h1v1h-1zM223.9 242.5h1v1h-1zM225.1 248.0h1v1h-1zM222.6 243.7h1v1h-1zM230.4 250.0h1v1h-1zM227.8 248.7h1v1h-1zM236.1 251.0h1v1h-1zM235.8 242.4h1v1h-1zM226.9 244.6h1v1h-1zM228.9 251.0h1v1h-1zM234.8 248.4h1v1h-1zM226.0 246.1h1v1h-1zM228.1 254.5h1v1h-1zM214.1 250.4h1v1h-1zM222.4 241.1h1v1h-1zM238.3 242.6h1v1h-1zM232.0 241.3h1v1h-1zM226.7 252.8h1v1h-1zM228.4 250.4h1v1h-1zM234.4 252.4h1v1h-1zM227.2 243.3h1v1h-1zM239.8 253.6h1v1h-1zM226.7 250.9h1v1h-1zM226.7 251.9h1v1h-1zM234.8 250.0h1v1h-1zM235.5 240.3h1v1h-1zM228.6 243.6h1v1h-1zM218.5 246.5h1v1h-1zM234.5 241.0h1v1h-1zM236.0 243.9h1v1h-1zM227.8 243.6h1v1h-1zM228.0 248.2h1v1h-1zM228.3 248.8h1v1h-1zM224.9 257.5h1v1h-1zM239.6 243.2h1v1h-1zM240.4 241.2h1v1h-1zM228.8 246.7h1v1h-1zM222.7 255.8h1v1h-1zM231.1 240.5h1v1h-1zM225.6 250.7h1v1h-1zM237.4 243.2h1v1h-1zM218.4 254.5h1v1h-1zM218.2 255.2h1v1h-1zM226.1 244.9h1v1h-1zM224.8 243.3h1v1h-1zM230.3 248.6h1v1h-1zM229.3 251.9h1v1h-1zM221.6 247.5h1v1h-1zM229.0 244.3h1v1h-1zM235.9 251.4h1v1h-1zM232.9 248.7h1v1h-1zM231.6 237.7h1v1h-1zM242.9 243.5h1v1h-1zM234.0 251.7h1v1h-1zM218.2 251.6h1v1h-1zM223.2 244.4h1v1h-1zM233.3 245.3h1v1h-1zM236.5 242.0h1v1h-1zM237.0 241.3h1v1h-1zM232.0 251.9h1v1h-1zM226.7 248.4h1v1h-1zM229.7 250.0h1v1h-1zM224.4 252.6h1v1h-1zM233.4 251.2h1v1h-1zM223.9 247.0h1v1h-1zM223.4 251.0h1v1h-1zM232.4 247.6h1v1h-1zM225.9 247.7h1v1h-1zM231.1 247.7h1v1h-1zM227.5 248.7h1v1h-1zM226.2 253.3h1v1h-1zM236.3 245.2h1v1h-1zM235.7 251.8h1v1h-1zM238.7 247.8h1v1h-1zM232.2 249.6h1v1h-1zM223.7 241.0h1v1h-1zM232.0 241.0h1v1h-1zM225.8 246.1h1v1h-1zM236.3 248.3h1v1h-1zM237.2 248.8h1v1h-1zM236.6 252.8h1v1h-1zM239.5 237.9h1v1h-1zM229.9 245.2h1v1h-1zM240.3 241.4h1v1h-1zM237.3 232.7h1v1h-1zM229.1 255.0h1v1h-1zM239.3 245.7h1v1h-1zM237.2 250.2h1v1h-1zM234.7 246.3h1v1h-1zM231.7 244.7h1v1h-1zM243.0 239.1h1v1h-1zM236.3 250.1h1v1h-1zM237.9 243.0h1v1h-1zM232.0 247.8h1v1h-1zM231.4 242.7h1v1h-1zM226.8 251.0h1v1h-1zM232.9 245.3h1v1h-1zM223.9 249.9h1v1h-1zM228.1 247.6h1v1h-1zM237.5 244.7h1v1h-1zM238.4 242.5h1v1h-1zM232.0 246.4h1v1h-1zM235.2 247.6h1v1h-1zM231.6 242.3h1v1h-1zM236.0 244.2h1v1h-1zM227.7 254.9h1v1h-1zM230.5 251.9h1v1h-1zM234.8 241.0h1v1h-1zM226.3 243.6h1v1h-1zM233.5 251.6h1v1h-1zM226.1 252.4h1v1h-1zM230.6 244.2h1v1h-1zM227.7 251.3h1v1h-1zM229.0 250.4h1v1h-1zM232.7 250.7h1v1h-1zM233.8 247.1h1v1h-1zM222.9 251.5h1v1h-1zM227.5 243.3h1v1h-1zM226.6 250.7h1v1h-1zM234.4 247.4h1v1h-1zM228.8 244.3h1v1h-1zM231.5 243.5h1v1h-1zM238.1 242.4h1v1h-1zM238.7 239.5h1v1h-1zM227.6 253.1h1v1h-1zM230.9 249.3h1v1h-1zM226.9 241.5h1v1h-1zM223.6 249.2h1v1h-1zM232.0 249.9h1v1h-1zM232.5 251.4h1v1h-1zM226.3 247.4h1v1h-1zM241.4 243.5h1v1h-1zM231.0 244.3h1v1h-1zM235.1 241.4h1v1h-1zM225.7 252.4h1v1h-1zM230.7 254.6h1v1h-1zM226.1 247.6h1v1h-1zM228.2 248.3h1v1h-1zM235.7 241.2h1v1h-1zM226.9 243.7h1v1h-1zM237.5 242.3h1v1h-1zM229.9 242.7h1v1h-1zM236.5 240.6h1v1h-1zM234.0 238.8h1v1h-1zM224.6 248.3h1v1h-1zM231.7 242.6h1v1h-1zM225.8 252.7h1v1h-1zM236.9 248.3h1v1h-1zM234.2 248.4h1v1h-1zM237.9 252.0h1v1h-1zM219.1 258.3h1v1h-1zM225.7 255.4h1v1h-1zM225.3 243.6h1v1h-1zM224.8 253.2h1v1h-1zM226.7 251.6h1v1h-1zM237.0 243.7h1v1h-1zM231.7 247.4h1v1h-1zM246.0 246.7h1v1h-1zM238.4 251.9h1v1h-1zM240.4 242.4h1v1h-1zM237.5 241.3h1v1h-1zM224.1 238.9h1v1h-1zM228.4 249.0h1v1h-1zM225.0 245.9h1v1h-1zM239.9 241.3h1v1h-1zM235.5 246.0h1v1h-1zM230.4 252.3h1v1h-1zM223.5 250.1h1v1h-1zM234.0 241.2h1v1h-1zM227.5 244.6h1v1h-1zM237.1 239.9h1v1h-1zM218.7 249.8h1v1h-1zM228.8 246.9h1v1h-1zM226.6 238.6h1v1h-1zM233.7 246.7h1v1h-1zM231.0 243.6h1v1h-1zM221.2 254.5h1v1h-1zM233.1 248.7h1v1h-1zM232.0 248.7h1v1h-1zM223.7 247.0h1v1h-1zM228.4 248.1h1v1h-1zM230.5 254.0h1v1h-1zM233.0 247.2h1v1h-1zM234.7 242.4h1v1h-1zM223.7 256.7h1v1h-1zM234.7 241.5h1v1h-1zM227.8 253.5h1v1h-1zM226.5 253.0h1v1h-1zM224.3 250.5h1v1h-1zM235.8 244.5h1v1h-1zM233.0 241.8h1v1h-1zM220.0 252.0h1v1h-1zM235.4 245.5h1v1h-1zM231.7 247.6h1v1h-1zM235.1 245.4h1v1h-1zM235.2 246.9h1v1h-1zM235.5 250.6h1v1h-1zM229.5 248.7h1v1h-1zM238.0 248.0h1v1h-1zM222.1 241.8h1v1h-1zM244.3 253.3h1v1h-1zM237.5 242.8h1v1h-1zM223.8 249.5h1v1h-1zM224.0 249.0h1v1h-1zM229.9 248.4h1v1h-1zM232.3 246.7h1v1h-1zM236.9 244.9h1v1h-1zM237.4 245.0h1v1h-1zM227.8 242.8h1v1h-1zM231.1 241.8h1v1h-1zM235.5 244.5h1v1h-1zM235.1 251.2h1v1h-1zM239.3 249.1h1v1h-1zM222.1 250.3h1v1h-1zM234.0 247.1h1v1h-1zM224.9 256.6h1v1h-1zM233.4 247.9h1v1h-1zM229.5 256.8h1v1h-1zM224.5 244.2h1v1h-1zM220.9 253.2h1v1h-1zM230.7 243.6h1v1h-1zM230.2 253.3h1v1h-1zM241.3 246.9h1v1h-1zM225.2 248.7h1v1h-1zM230.2 245.6h1v1h-1zM215.2 252.9h1v1h-1zM238.4 249.1h1v1h-1zM211.5 250.1h1v1h-1zM227.2 249.5h1v1h-1zM229.8 245.4h1v1h-1zM227.9 246.8h1v1h-1zM232.6 253.1h1v1h-1zM222.3 251.7h1v1h-1zM237.0 255.7h1v1h-1zM234.3 245.7h1v1h-1zM226.7 250.3h1v1h-1zM232.5 241.0h1v1h-1zM244.0 248.1h1v1h-1zM227.1 242.8h1v1h-1zM228.8 243.9h1v1h-1zM229.7 249.5h1v1h-1zM226.4 252.2h1v1h-1zM229.3 257.4h1v1h-1zM217.9 249.4h1v1h-1zM230.6 248.1h1v1h-1zM234.7 255.2h1v1h-1zM222.7 242.9h1v1h-1zM231.7 238.7h1v1h-1zM243.5 242.3h1v1h-1zM231.9 249.1h1v1h-1zM226.7 244.7h1v1h-1zM239.3 245.8h1v1h-1zM219.4 253.1h1v1h-1zM227.9 255.2h1v1h-1zM217.1 255.5h1v1h-1zM237.9 244.0h1v1h-1zM232.5 246.6h1v1h-1zM230.9 246.9h1v1h-1zM229.9 245.9h1v1h-1zM231.8 248.0h1v1h-1zM234.6 242.4h1v1h-1zM227.0 248.9h1v1h-1zM225.3 253.0h1v1h-1zM221.8 249.5h1v1h-1zM225.6 239.3h1v1h-1zM224.8 247.3h1v1h-1zM238.6 242.1h1v1h-1zM227.0 249.0h1v1h-1zM236.4 251.2h1v1h-1zM228.4 249.6h1v1h-1zM236.6 255.5h1v1h-1zM233.2 245.0h1v1h-1zM229.6 246.8h1v1h-1zM230.2 244.1h1v1h-1zM231.2 245.2h1v1h-1zM227.3 251.5h1v1h-1zM234.7 249.3h1v1h-1zM234.5 244.2h1v1h-1zM227.4 245.2h1v1h-1zM232.2 243.4h1v1h-1zM234.3 244.5h1v1h-1zM228.7 248.9h1v1h-1zM234.4 240.4h1v1h-1zM241.0 246.6h1v1h-1zM219.0 259.7h1v1h-1zM231.1 250.1h1v1h-1zM234.2 239.4h1v1h-1zM231.9 246.6h1v1h-1zM237.7 242.6h1v1h-1zM230.7 245.7h1v1h-1zM237.8 242.8h1v1h-1zM222.6 239.9h1v1h-1zM224.2 239.4h1v1h-1zM227.0 253.6h1v1h-1zM224.4 245.9h1v1h-1zM231.5 239.8h1v1h-1zM225.3 244.2h1v1h-1zM243.2 246.6h1v1h-1zM227.0 248.4h1v1h-1zM227.1 247.2h1v1h-1zM230.3 246.5h1v1h-1zM230.1 244.7h1v1h-1zM220.5 247.5h1v1h-1zM223.3 249.1h1v1h-1zM229.0 244.1h1v1h-1zM227.7 245.8h1v1h-1zM236.2 239.8h1v1h-1zM229.6 248.4h1v1h-1zM233.1 244.8h1v1h-1zM230.6 245.6h1v1h-1zM225.3 253.6h1v1h-1zM233.7 245.1h1v1h-1zM244.5 249.2h1v1h-1zM225.8 244.4h1v1h-1zM232.4 247.7h1v1h-1zM228.0 251.6h1v1h-1zM232.7 245.4h1v1h-1zM234.4 240.1h1v1h-1zM228.7 246.1h1v1h-1zM223.0 243.3h1v1h-1zM227.6 249.4h1v1h-1zM232.3 253.8h1v1h-1zM235.0 244.3h1v1h-1zM227.9 246.4h1v1h-1zM233.5 246.0h1v1h-1zM238.4 243.9h1v1h-1zM214.8 251.0h1v1h-1zM233.4 242.6h1v1h-1zM230.0 249.1h1v1h-1zM235.4 251.4h1v1h-1zM232.0 246.6h1v1h-1zM229.0 245.5h1v1h-1zM224.1 244.3h1v1h-1zM231.0 242.8h1v1h-1zM240.8 242.9h1v1h-1zM236.6 245.4h1v1h-1zM232.0 242.9h1v1h-1zM226.6 244.8h1v1h-1zM230.4 241.4h1v1h-1zM231.6 248.2h1v1h-1zM225.9 252.7h1v1h-1zM238.8 247.4h1v1h-1zM231.4 242.5h1v1h-1zM224.7 247.6h1v1h-1zM222.7 257.1h1v1h-1zM243.3 241.9h1v1h-1zM237.8 252.4h1v1h-1zM226.8 243.0h1v1h-1zM235.8 252.2h1v1h-1zM228.3 247.7h1v1h-1zM227.2 245.5h1v1h-1zM224.0 245.2h1v1h-1zM231.0 244.2h1v1h-1zM228.3 253.1h1v1h-1zM217.4 246.7h1v1h-1zM235.6 243.6h1v1h-1zM224.7 248.3h1v1h-1zM225.2 246.7h1v1h-1zM219.3 250.5h1v1h-1zM233.3 241.6h1v1h-1zM231.6 250.7h1v1h-1zM228.9 236.9h1v1h-1zM232.2 250.9h1v1h-1zM230.8 247.8h1v1h-1zM234.7 249.5h1v1h-1zM233.7 243.3h1v1h-1zM236.6 247.5h1v1h-1zM234.4 241.7h1v1h-1zM234.8 250.9h1v1h-1zM228.7 245.2h1v1h-1zM237.5 233.9h1v1h-1zM240.0 241.2h1v1h-1zM226.4 249.6h1v1h-1zM236.6 247.6h1v1h-1zM224.8 250.3h1v1h-1zM227.7 243.0h1v1h-1zM236.3 249.5h1v1h-1zM243.7 251.4h1v1h-1zM224.3 250.6h1v1h-1zM232.5 253.0h1v1h-1zM234.8 245.4h1v1h-1zM218.6 246.0h1v1h-1zM233.7 242.6h1v1h-1zM224.5 249.3h1v1h-1zM226.1 246.7h1v1h-1zM232.9 244.5h1v1h-1zM241.1 247.8h1v1h-1zM226.0 241.8h1v1h-1zM230.6 246.2h1v1h-1zM234.1 250.4h1v1h-1zM223.5 253.2h1v1h-1zM226.6 252.2h1v1h-1zM232.9 254.3h1v1h-1zM238.7 237.5h1v1h-1zM230.6 249.1h1v1h-1zM239.8 235.7h1v1h-1zM229.9 248.8h1v1h-1zM230.5 247.7h1v1h-1zM236.2 249.2h1v1h-1zM230.6 250.4h1v1h-1zM233.8 255.0h1v1h-1zM240.0 248.1h1v1h-1zM227.9 243.0h1v1h-1zM230.9 251.8h1v1h-1zM219.3 257.1h1v1h-1zM222.8 244.0h1v1h-1zM226.8 247.2h1v1h-1zM232.5 246.9h1v1h-1zM230.5 246.3h1v1h-1zM218.9 244.9h1v1h-1zM224.8 248.8h1v1h-1zM230.2 250.4h1v1h-1zM238.0 249.2h1v1h-1zM225.7 254.1h1v1h-1zM240.5 244.7h1v1h-1zM225.0 254.2h1v1h-1zM240.1 239.5h1v1h-1zM223.8 253.6h1v1h-1zM231.8 243.6h1v1h-1zM227.9 244.3h1v1h-1zM225.9 246.8h1v1h-1zM240.6 252.4h1v1h-1zM232.1 244.2h1v1h-1zM229.3 256.1h1v1h-1zM226.6 254.0h1v1h-1zM219.3 247.2h1v1h-1zM235.8 240.1h1v1h-1zM230.3 250.2h1v1h-1zM233.7 252.7h1v1h-1zM226.5 252.8h1v1h-1zM230.2 248.8h1v1h-1zM232.6 244.6h1v1h-1zM236.7 245.1h1v1h-1zM232.1 249.2h1v1h-1zM233.1 239.7h1v1h-1zM229.5 242.3h1v1h-1zM232.8 245.4h1v1h-1zM231.4 241.8h1v1h-1zM232.5 244.6h1v1h-1zM233.3 248.4h1v1h-1zM231.4 247.0h1v1h-1zM230.5 250.9h1v1h-1zM234.7 245.5h1v1h-1zM223.0 240.6h1v1h-1zM230.2 249.4h1v1h-1zM228.2 248.3h1v1h-1zM232.3 242.7h1v1h-1zM230.4 247.3h1v1h-1zM226.0 249.8h1v1h-1zM236.7 241.0h1v1h-1zM235.8 241.8h1v1h-1zM236.7 246.9h1v1h-1zM218.4 247.4h1v1h-1zM233.8 252.7h1v1h-1zM223.0 251.3h1v1h-1zM232.2 241.2h1v1h-1zM219.4 248.3h1v1h-1zM237.3 245.6h1v1h-1zM233.8 241.0h1v1h-1zM223.0 255.2h1v1h-1zM227.2 241.6h1v1h-1zM234.2 242.4h1v1h-1zM226.9 248.5h1v1h-1zM232.1 246.6h1v1h-1zM235.1 240.0h1v1h-1zM237.0 243.4h1v1h-1zM234.9 241.1h1v1h-1zM226.1 251.0h1v1h-1zM224.5 244.1h1v1h-1zM232.9 240.3h1v1h-1zM231.2 254.4h1v1h-1zM221.2 255.6h1v1h-1zM227.1 256.3h1v1h-1zM224.8 251.2h1v1h-1zM229.7 244.8h1v1h-1zM223.2 252.8h1v1h-1zM229.0 262.3h1v1h-1zM224.1 252.7h1v1h-1zM220.1 249.4h1v1h-1zM226.9 256.6h1v1h-1zM222.2 260.0h1v1h-1zM238.7 254.5h1v1h-1zM224.4 252.9h1v1h-1zM240.3 254.1h1v1h-1zM226.9 246.4h1v1h-1zM220.8 250.7h1v1h-1zM237.7 255.2h1v1h-1zM217.6 250.5h1v1h-1zM226.3 247.8h1v1h-1zM224.7 258.2h1v1h-1zM224.8 255.2h1v1h-1zM228.1 258.3h1v1h-1zM236.4 257.0h1v1h-1zM223.2 256.2h1v1h-1zM230.3 249.3h1v1h-1zM229.4 249.5h1v1h-1zM226.3 252.1h1v1h-1zM227.9 251.2h1v1h-1zM224.4 251.8h1v1h-1zM228.5 249.0h1v1h-1zM224.5 247.4h1v1h-1zM223.9 249.3h1v1h-1zM224.3 257.4h1v1h-1zM225.3 249.3h1v1h-1zM231.7 244.3h1v1h-1zM225.0 250.3h1v1h-1zM236.6 239.4h1v1h-1zM226.4 256.1h1v1h-1zM235.8 249.9h1v1h-1zM227.0 255.4h1v1h-1zM228.1 249.7h1v1h-1zM238.2 241.7h1v1h-1zM220.8 252.4h1v1h-1zM222.6 249.4h1v1h-1zM226.0 251.6h1v1h-1zM232.5 246.3h1v1h-1zM220.1 254.8h1v1h-1zM220.8 251.3h1v1h-1zM219.0 248.7h1v1h-1zM208.4 252.1h1v1h-1zM224.7 256.5h1v1h-1zM232.2 249.7h1v1h-1zM237.0 245.7h1v1h-1zM225.2 256.0h1v1h-1zM228.5 249.5h1v1h-1zM233.6 242.0h1v1h-1zM232.2 249.3h1v1h-1zM233.6 249.4h1v1h-1zM228.2 255.7h1v1h-1zM221.0 243.6h1v1h-1zM226.9 248.5h1v1h-1zM227.5 252.5h1v1h-1zM222.2 252.7h1v1h-1zM225.7 246.0h1v1h-1zM216.8 247.5h1v1h-1zM232.0 248.8h1v1h-1zM234.0 255.5h1v1h-1zM231.1 244.2h1v1h-1zM222.4 256.2h1v1h-1zM224.5 251.4h1v1h-1zM230.9 258.4h1v1h-1zM215.8 254.0h1v1h-1zM221.8 241.2h1v1h-1zM235.8 248.5h1v1h-1zM224.8 248.7h1v1h-1zM228.2 248.8h1v1h-1z" fill="#7c7c7c" fill-opacity="0.4"/>
<path d="M233.2 239.5h1v1h-1zM236.8 242.6h1v1h-1zM231.3 247.6h1v1h-1zM228.8 239.6h1v1h-1zM220.3 251.0h1v1h-1zM228.9 245.0h1v1h-1zM230.4 249.8h1v1h-1zM227.2 245.3h1v1h-1zM236.3 245.4h1v1h-1zM236.5 250.9h1v1h-1zM237.1 245.2h1v1h-1zM236.7 247.4h1v1h-1zM238.1 244.5h1v1h-1zM233.2 250.7h1v1h-1zM228.9 248.7h1v1h-1zM237.0 253.9h1v1h-1zM231.1 242.6h1v1h-1zM233.3 240.1h1v1h-1zM240.3 246.5h1v1h-1zM218.8 242.8h1v1h-1zM224.3 248.6h1v1h-1zM236.2 241.7h1v1h-1zM228.4 245.9h1v1h-1zM237.4 247.2h1v1h-1zM229.7 247.7h1v1h-1zM235.3 244.0h1v1h-1zM237.1 244.6h1v1h-1zM240.8 247.7h1v1h-1zM224.4 247.3h1v1h-1zM229.6 250.3h1v1h-1zM232.1 244.4h1v1h-1zM221.4 253.8h1v1h-1zM226.3 244.9h1v1h-1zM227.2 249.1h1v1h-1zM226.9 249.7h1v1h-1zM228.2 250.9h1v1h-1zM222.2 240.0h1v1h-1zM228.7 249.4h1v1h-1zM239.2 238.8h1v1h-1zM232.7 245.1h1v1h-1zM226.1 254.2h1v1h-1zM225.5 246.0h1v1h-1zM241.2 242.0h1v1h-1zM235.6 246.7h1v1h-1zM243.2 244.8h1v1h-1zM223.2 241.5h1v1h-1zM235.8 237.2h1v1h-1zM226.2 250.7h1v1h-1zM226.0 242.4h1v1h-1zM240.7 245.1h1v1h-1zM242.1 240.9h1v1h-1zM228.0 243.0h1v1h-1zM233.6 244.3h1v1h-1zM234.7 250.0h1v1h-1zM230.5 249.8h1v1h-1zM226.0 250.5h1v1h-1zM225.4 244.8h1v1h-1zM227.0 243.1h1v1h-1zM225.7 249.6h1v1h-1zM228.2 247.7h1v1h-1zM235.0 248.2h1v1h-1zM229.9 253.3h1v1h-1zM222.0 244.2h1v1h-1zM231.8 245.0h1v1h-1zM227.5 244.8h1v1h-1zM232.2 249.2h1v1h-1zM236.1 248.1h1v1h-1zM236.5 249.7h1v1h-1zM227.5 249.8h1v1h-1zM222.1 247.4h1v1h-1zM229.3 242.7h1v1h-1zM235.9 243.8h1v1h-1zM214.3 253.6h1v1h-1zM229.8 248.0h1v1h-1zM225.3 246.3h1v1h-1zM240.1 235.8h1v1h-1zM226.7 249.3h1v1h-1zM226.7 246.7h1v1h-1zM239.0 239.5h1v1h-1zM224.2 254.7h1v1h-1zM218.4 255.1h1v1h-1zM233.9 250.1h1v1h-1zM222.0 244.2h1v1h-1zM243.7 239.8h1v1h-1zM234.8 239.4h1v1h-1zM232.9 237.2h1v1h-1zM230.4 243.7h1v1h-1zM229.6 249.7h1v1h-1zM232.4 245.1h1v1h-1zM225.8 250.1h1v1h-1zM242.9 250.8h1v1h-1zM231.7 243.9h1v1h-1zM231.4 243.0h1v1h-1zM225.8 247.0h1v1h-1zM233.9 248.2h1v1h-1zM231.2 244.3h1v1h-1zM239.7 243.1h1v1h-1zM225.6 245.8h1v1h-1zM236.3 245.8h1v1h-1zM238.3 249.0h1v1h-1zM238.4 242.7h1v1h-1zM234.1 239.1h1v1h-1zM224.9 243.4h1v1h-1zM234.8 251.7h1v1h-1zM232.4 248.5h1v1h-1zM227.1 245.2h1v1h-1zM237.9 242.5h1v1h-1zM224.7 246.0h1v1h-1zM226.2 249.4h1v1h-1zM233.6 246.1h1v1h-1zM231.3 245.0h1v1h-1zM229.9 246.2h1v1h-1zM230.3 248.5h1v1h-1zM231.9 252.6h1v1h-1zM225.5 250.1h1v1h-1zM225.0 248.4h1v1h-1zM235.2 239.5h1v1h-1zM233.3 236.9h1v1h-1zM230.8 247.2h1v1h-1zM236.7 245.5h1v1h-1zM236.6 248.9h1v1h-1zM228.9 246.3h1v1h-1zM229.9 242.0h1v1h-1zM226.9 241.6h1v1h-1zM220.2 245.1h1v1h-1zM234.0 242.9h1v1h-1zM230.2 243.5h1v1h-1zM225.0 253.9h1v1h-1zM222.7 248.8h1v1h-1zM230.2 242.5h1v1h-1zM237.3 251.5h1v1h-1zM232.8 258.8h1v1h-1zM225.3 241.0h1v1h-1zM231.6 249.9h1v1h-1zM232.4 249.1h1v1h-1zM223.3 250.7h1v1h-1zM226.1 248.2h1v1h-1zM236.2 235.4h1v1h-1zM237.8 244.5h1v1h-1zM228.1 238.9h1v1h-1zM236.4 250.7h1v1h-1zM225.1 241.1h1v1h-1zM237.1 251.1h1v1h-1zM228.4 248.8h1v1h-1zM222.1 249.0h1v1h-1zM230.5 240.4h1v1h-1zM230.6 242.3h1v1h-1zM231.3 244.0h1v1h-1zM229.2 245.3h1v1h-1zM213.6 249.6h1v1h-1zM228.5 251.9h1v1h-1zM227.5 247.6h1v1h-1zM230.6 248.4h1v1h-1zM228.0 253.3h1v1h-1zM236.1 245.5h1v1h-1zM230.3 244.1h1v1h-1zM225.1 243.3h1v1h-1zM229.9 246.3h1v1h-1zM230.5 250.4h1v1h-1zM219.6 250.1h1v1h-1zM221.4 248.4h1v1h-1zM217.8 250.0h1v1h-1zM225.2 248.4h1v1h-1zM224.6 249.0h1v1h-1zM230.2 249.4h1v1h-1zM238.5 251.2h1v1h-1zM223.2 248.4h1v1h-1zM227.4 241.8h1v1h-1zM236.0 243.7h1v1h-1zM229.1 244.4h1v1h-1zM229.1 246.3h1v1h-1zM235.9 239.6h1v1h-1zM237.6 252.5h1v1h-1zM224.3 244.0h1v1h-1zM222.8 248.2h1v1h-1zM227.1 253.9h1v1h-1zM228.9 240.5h1v1h-1zM229.5 238.2h1v1h-1zM228.2 240.6h1v1h-1zM240.5 241.2h1v1h-1zM228.0 248.5h1v1h-1zM231.9 246.8h1v1h-1zM231.7 252.7h1v1h-1zM231.1 249.4h1v1h-1zM228.3 245.7h1v1h-1zM224.4 250.2h1v1h-1zM236.2 232.4h1v1h-1zM234.9 248.5h1v1h-1zM221.3 260.7h1v1h-1zM224.5 243.2h1v1h-1zM227.4 250.2h1v1h-1zM228.6 238.9h1v1h-1zM232.1 243.5h1v1h-1zM223.5 250.2h1v1h-1zM227.1 253.2h1v1h-1zM232.5 241.2h1v1h-1zM230.9 243.9h1v1h-1zM224.4 242.5h1v1h-1zM230.5 239.1h1v1h-1zM230.5 246.1h1v1h-1zM229.3 246.7h1v1h-1zM223.2 242.2h1v1h-1zM227.4 241.5h1v1h-1zM238.0 240.3h1v1h-1zM225.5 241.5h1v1h-1zM236.8 238.8h1v1h-1zM228.5 256.3h1v1h-1zM232.0 243.6h1v1h-1zM230.1 250.9h1v1h-1zM217.0 251.3h1v1h-1zM231.5 253.9h1v1h-1zM229.0 252.5h1v1h-1zM223.7 251.3h1v1h-1zM224.2 250.6h1v1h-1zM232.6 241.5h1v1h-1zM222.0 257.7h1v1h-1zM235.6 247.6h1v1h-1zM235.4 246.8h1v1h-1zM230.5 248.8h1v1h-1zM225.1 247.1h1v1h-1zM235.0 249.5h1v1h-1zM219.7 253.0h1v1h-1zM232.1 240.5h1v1h-1zM234.9 246.6h1v1h-1zM246.6 250.3h1v1h-1zM215.5 246.4h1v1h-1zM234.0 243.9h1v1h-1zM217.8 249.6h1v1h-1zM244.0 242.4h1v1h-1zM239.6 247.2h1v1h-1zM227.6 250.1h1v1h-1zM237.1 245.2h1v1h-1zM231.5 241.3h1v1h-1zM228.9 248.2h1v1h-1zM236.9 246.2h1v1h-1zM233.5 247.1h1v1h-1zM233.2 243.6h1v1h-1zM233.2 246.8h1v1h-1zM234.1 251.0h1v1h-1zM230.3 247.1h1v1h-1zM239.0 244.4h1v1h-1zM240.1 247.8h1v1h-1zM227.4 247.8h1v1h-1zM229.3 243.4h1v1h-1zM240.2 243.3h1v1h-1zM236.9 255.5h1v1h-1zM227.6 251.5h1v1h-1zM231.2 248.2h1v1h-1zM243.9 247.5h1v1h-1zM227.5 249.8h1v1h-1zM232.5 251.7h1v1h-1zM231.5 248.3h1v1h-1zM214.3 249.8h1v1h-1zM225.2 242.7h1v1h-1zM227.5 252.1h1v1h-1zM222.9 247.2h1v1h-1zM237.0 249.8h1v1h-1zM227.2 248.9h1v1h-1zM229.8 252.0h1v1h-1zM232.3 246.4h1v1h-1zM228.0 247.2h1v1h-1zM234.9 258.5h1v1h-1zM228.6 247.3h1v1h-1zM224.4 252.9h1v1h-1zM226.1 243.0h1v1h-1zM226.5 245.5h1v1h-1zM235.1 243.5h1v1h-1zM228.9 250.3h1v1h-1zM230.0 241.4h1v1h-1zM229.4 244.5h1v1h-1zM233.7 248.7h1v1h-1zM237.4 246.7h1v1h-1zM233.5 244.3h1v1h-1zM238.3 250.4h1v1h-1zM233.9 243.6h1v1h-1zM219.2 251.8h1v1h-1zM229.9 251.8h1v1h-1zM233.1 246.2h1v1h-1zM241.0 246.6h1v1h-1zM226.7 244.0h1v1h-1zM239.5 240.8h1v1h-1zM228.4 244.4h1v1h-1zM222.3 250.3h1v1h-1zM232.5 247.8h1v1h-1zM234.8 243.8h1v1h-1zM235.7 238.9h1v1h-1zM230.9 239.2h1v1h-1zM226.0 241.9h1v1h-1zM224.3 254.1h1v1h-1zM226.9 251.2h1v1h-1zM234.1 243.4h1v1h-1zM235.2 244.9h1v1h-1zM241.5 248.0h1v1h-1zM229.5 250.8h1v1h-1zM228.1 246.4h1v1h-1zM238.1 246.0h1v1h-1zM231.8 245.9h1v1h-1zM223.6 249.2h1v1h-1zM227.5 242.9h1v1h-1zM234.7 244.9h1v1h-1zM225.7 239.9h1v1h-1zM233.2 246.6h1v1h-1zM218.3 255.7h1v1h-1zM226.3 246.0h1v1h-1zM224.0 245.3h1v1h-1zM230.2 248.6h1v1h-1zM233.8 251.6h1v1h-1zM236.0 247.6h1v1h-1zM227.2 244.5h1v1h-1zM221.9 242.8h1v1h-1zM229.0 249.7h1v1h-1zM227.6 244.3h1v1h-1zM228.0 246.9h1v1h-1zM236.3 250.8h1v1h-1zM228.3 243.9h1v1h-1zM224.5 251.9h1v1h-1zM234.5 248.9h1v1h-1zM232.2 246.2h1v1h-1zM229.2 250.9h1v1h-1zM232.3 252.4h1v1h-1zM228.0 245.3h1v1h-1zM227.5 249.7h1v1h-1zM227.3 249.3h1v1h-1zM231.3 252.3h1v1h-1zM227.0 248.7h1v1h-1zM230.4 253.8h1v1h-1zM237.6 241.1h1v1h-1zM222.0 252.8h1v1h-1zM227.4 240.7h1v1h-1zM229.1 248.0h1v1h-1zM231.7 251.4h1v1h-1zM236.4 247.2h1v1h-1zM235.2 250.6h1v1h-1zM228.0 236.9h1v1h-1zM229.1 247.7h1v1h-1zM231.8 247.8h1v1h-1zM226.1 246.3h1v1h-1zM237.1 247.8h1v1h-1zM227.3 243.1h1v1h-1zM237.3 253.6h1v1h-1zM227.6 247.5h1v1h-1zM235.4 239.7h1v1h-1zM231.5 248.9h1v1h-1zM234.5 245.2h1v1h-1zM238.7 241.7h1v1h-1zM229.7 243.5h1v1h-1zM233.3 241.0h1v1h-1zM239.4 242.5h1v1h-1zM225.7 250.9h1v1h-1zM227.8 248.2h1v1h-1zM229.6 245.0h1v1h-1zM235.4 252.7h1v1h-1zM231.8 247.8h1v1h-1zM227.4 246.1h1v1h-1zM225.1 252.3h1v1h-1zM228.0 249.0h1v1h-1zM229.4 246.7h1v1h-1zM241.5 250.2h1v1h-1zM226.0 249.9h1v1h-1zM230.7 246.7h1v1h-1zM230.1 244.7h1v1h-1zM226.7 244.6h1v1h-1zM228.2 251.9h1v1h-1zM219.3 241.8h1v1h-1zM238.7 249.4h1v1h-1zM236.2 244.5h1v1h-1zM229.7 254.0h1v1h-1zM229.1 246.9h1v1h-1zM234.1 253.4h1v1h-1zM233.5 250.1h1v1h-1zM250.1 239.8h1v1h-1zM232.9 246.9h1v1h-1zM221.0 244.1h1v1h-1zM230.2 254.3h1v1h-1zM230.1 247.0h1v1h-1zM230.3 247.6h1v1h-1zM224.0 242.6h1v1h-1zM243.7 244.4h1v1h-1zM228.1 253.4h1v1h-1zM226.4 255.9h1v1h-1zM222.1 250.3h1v1h-1zM240.8 243.9h1v1h-1zM237.6 246.8h1v1h-1zM235.0 250.0h1v1h-1zM233.8 234.8h1v1h-1zM232.6 245.3h1v1h-1zM239.5 254.9h1v1h-1zM229.7 248.0h1v1h-1zM231.3 257.1h1v1h-1zM226.9 241.0h1v1h-1zM230.1 251.2h1v1h-1zM226.4 247.5h1v1h-1zM221.3 244.0h1v1h-1zM221.2 248.3h1v1h-1zM225.6 248.3h1v1h-1zM220.0 251.2h1v1h-1zM231.1 240.4h1v1h-1zM231.1 242.3h1v1h-1zM225.2 244.9h1v1h-1zM237.2 253.5h1v1h-1zM236.3 252.9h1v1h-1zM232.0 242.7h1v1h-1zM231.3 244.9h1v1h-1zM225.2 247.3h1v1h-1zM225.6 247.2h1v1h-1zM238.4 245.4h1v1h-1zM225.4 241.6h1v1h-1zM228.5 243.1h1v1h-1zM225.7 244.4h1v1h-1zM234.3 247.9h1v1h-1zM228.6 247.8h1v1h-1zM231.5 251.2h1v1h-1zM236.9 237.9h1v1h-1zM234.1 243.4h1v1h-1zM229.3 246.8h1v1h-1zM233.6 249.9h1v1h-1zM228.4 249.6h1v1h-1zM229.1 245.7h1v1h-1zM227.4 238.9h1v1h-1zM229.4 239.1h1v1h-1zM227.6 248.1h1v1h-1zM223.9 252.9h1v1h-1zM229.4 242.7h1v1h-1zM242.2 242.6h1v1h-1zM226.7 247.2h1v1h-1zM222.5 250.3h1v1h-1zM226.0 246.3h1v1h-1zM231.5 257.7h1v1h-1zM242.1 249.2h1v1h-1zM234.8 249.9h1v1h-1zM227.9 244.2h1v1h-1zM230.1 257.5h1v1h-1zM231.3 242.7h1v1h-1zM226.0 243.5h1v1h-1zM234.5 239.2h1v1h-1zM230.6 244.6h1v1h-1zM233.1 244.8h1v1h-1zM230.0 254.0h1v1h-1zM227.1 245.7h1v1h-1zM230.6 245.1h1v1h-1zM224.2 246.0h1v1h-1zM235.7 244.5h1v1h-1zM225.6 257.1h1v1h-1zM223.7 243.7h1v1h-1zM232.5 243.1h1v1h-1zM236.3 246.7h1v1h-1zM223.8 244.6h1v1h-1zM231.7 251.3h1v1h-1zM231.7 244.9h1v1h-1zM228.4 238.9h1v1h-1zM225.3 252.8h1v1h-1zM232.1 241.6h1v1h-1zM237.4 245.6h1v1h-1zM233.4 245.3h1v1h-1zM236.6 241.2h1v1h-1zM236.2 249.4h1v1h-1zM224.9 249.5h1v1h-1zM233.6 246.1h1v1h-1zM229.8 247.5h1v1h-1zM240.0 241.1h1v1h-1zM243.5 252.6h1v1h-1zM228.2 239.2h1v1h-1zM222.2 254.5h1v1h-1zM233.9 254.1h1v1h-1zM221.6 250.0h1v1h-1zM230.8 247.3h1v1h-1zM227.4 253.0h1v1h-1zM227.3 242.6h1v1h-1zM227.3 244.9h1v1h-1zM228.9 246.7h1v1h-1zM237.7 239.9h1v1h-1zM230.0 248.2h1v1h-1zM228.0 247.1h1v1h-1zM240.4 239.3h1v1h-1zM221.1 249.7h1v1h-1zM228.9 241.5h1v1h-1zM219.2 257.3h1v1h-1zM231.9 245.7h1v1h-1zM238.9 240.6h1v1h-1zM231.3 245.9h1v1h-1zM235.4 243.6h1v1h-1zM224.8 249.7h1v1h-1zM222.1 249.1h1v1h-1zM222.1 246.7h1v1h-1zM227.0 242.1h1v1h-1zM232.9 239.1h1v1h-1zM234.7 244.1h1v1h-1zM231.8 246.9h1v1h-1zM225.0 256.8h1v1h-1zM232.9 245.7h1v1h-1zM229.0 248.9h1v1h-1zM233.8 248.2h1v1h-1zM228.3 248.1h1v1h-1zM230.4 241.6h1v1h-1zM243.2 241.5h1v1h-1zM219.8 253.9h1v1h-1zM234.7 254.8h1v1h-1zM238.0 245.5h1v1h-1zM236.6 241.4h1v1h-1zM231.8 242.4h1v1h-1zM225.3 249.9h1v1h-1zM224.9 249.5h1v1h-1zM227.6 253.7h1v1h-1zM224.7 255.0h1v1h-1zM222.5 249.7h1v1h-1zM229.9 249.2h1v1h-1zM222.3 259.5h1v1h-1zM229.9 248.5h1v1h-1zM235.3 252.0h1v1h-1zM231.6 248.1h1v1h-1zM235.8 246.4h1v1h-1zM225.5 250.8h1v1h-1zM226.9 257.9h1v1h-1zM227.1 251.7h1v1h-1zM224.1 247.5h1v1h-1zM226.1 249.1h1v1h-1zM237.4 248.5h1v1h-1zM229.6 253.9h1v1h-1zM232.1 254.0h1v1h-1zM216.5 264.0h1v1h-1zM220.0 259.3h1v1h-1zM232.0 253.3h1v1h-1zM219.5 252.2h1v1h-1zM229.0 256.7h1v1h-1zM230.7 252.8h1v1h-1zM231.0 251.9h1v1h-1zM226.7 256.3h1v1h-1zM219.6 248.8h1v1h-1zM218.6 251.5h1v1h-1zM222.8 250.9h1v1h-1zM231.8 248.1h1v1h-1zM232.7 248.4h1v1h-1zM217.6 252.6h1v1h-1zM236.8 246.9h1v1h-1zM232.5 244.7h1v1h-1zM217.1 261.3h1v1h-1zM229.8 252.6h1v1h-1zM229.0 247.3h1v1h-1zM232.1 251.6h1v1h-1zM240.1 249.8h1v1h-1zM224.1 254.9h1v1h-1zM229.0 264.4h1v1h-1zM221.8 248.8h1v1h-1zM225.9 254.6h1v1h-1zM228.4 240.3h1v1h-1zM229.7 248.4h1v1h-1zM225.5 245.4h1v1h-1zM227.3 246.8h1v1h-1zM230.9 250.0h1v1h-1zM242.5 242.4h1v1h-1zM238.5 261.9h1v1h-1zM233.2 255.2h1v1h-1zM227.2 250.5h1v1h-1zM219.0 248.5h1v1h-1zM225.7 255.2h1v1h-1zM223.1 257.9h1v1h-1zM230.7 242.8h1v1h-1zM223.9 246.7h1v1h-1zM225.2 252.9h1v1h-1zM227.0 252.1h1v1h-1zM227.3 254.2h1v1h-1zM225.9 254.1h1v1h-1zM234.0 244.1h1v1h-1zM231.3 247.9h1v1h-1zM228.7 258.7h1v1h-1zM225.4 251.0h1v1h-1zM211.0 260.8h1v1h-1zM225.3 252.8h1v1h-1zM221.3 254.0h1v1h-1zM226.6 246.9h1v1h-1zM230.6 253.9h1v1h-1zM223.5 251.9h1v1h-1zM232.8 248.1h1v1h-1zM235.4 253.3h1v1h-1zM230.7 242.1h1v1h-1z" fill="#7c7c7c" fill-opacity="0.4"/>
<path d="M227.3 244.8h1v1h-1zM227.1 249.5h1v1h-1zM230.2 249.2h1v1h-1zM224.8 259.4h1v1h-1zM226.4 256.0h1v1h-1zM233.8 243.6h1v1h-1zM217.6 251.4h1v1h-1zM235.6 254.0h1v1h-1zM236.8 250.3h1v1h-1zM229.9 248.1h1v1h-1zM229.1 240.1h1v1h-1zM232.3 244.5h1v1h-1zM232.4 247.3h1v1h-1zM232.9 252.0h1v1h-1zM229.0 244.2h1v1h-1zM239.0 241.8h1v1h-1zM217.9 250.8h1v1h-1zM237.0 244.8h1v1h-1zM235.3 250.5h1v1h-1zM230.0 246.2h1v1h-1zM239.6 240.9h1v1h-1zM231.2 244.8h1v1h-1zM230.7 250.0h1v1h-1zM228.7 244.2h1v1h-1zM219.5 246.1h1v1h-1zM228.3 241.2h1v1h-1zM224.9 240.1h1v1h-1zM230.2 244.1h1v1h-1zM238.8 254.9h1v1h-1zM229.5 247.3h1v1h-1zM235.0 248.9h1v1h-1zM230.0 253.2h1v1h-1zM231.5 244.8h1v1h-1zM232.3 257.4h1v1h-1zM238.5 237.4h1v1h-1zM230.8 243.6h1v1h-1zM227.7 240.5h1v1h-1zM235.4 243.8h1v1h-1zM229.6 242.5h1v1h-1zM234.0 247.9h1v1h-1zM234.0 246.5h1v1h-1zM236.3 244.5h1v1h-1zM225.8 250.2h1v1h-1zM230.8 246.2h1v1h-1zM232.9 251.1h1v1h-1zM236.3 248.6h1v1h-1zM227.6 242.8h1v1h-1zM224.5 254.2h1v1h-1zM238.1 244.9h1v1h-1zM232.8 238.3h1v1h-1zM226.6 249.3h1v1h-1zM228.6 245.7h1v1h-1zM229.6 240.4h1v1h-1zM225.9 247.0h1v1h-1zM232.1 243.0h1v1h-1zM231.1 245.9h1v1h-1zM231.4 237.0h1v1h-1zM232.3 249.3h1v1h-1zM232.8 249.2h1v1h-1zM224.0 249.2h1v1h-1zM222.8 248.6h1v1h-1zM218.2 253.7h1v1h-1zM234.9 241.8h1v1h-1zM222.9 248.4h1v1h-1zM231.9 245.6h1v1h-1zM236.5 244.7h1v1h-1zM226.0 249.8h1v1h-1zM235.4 248.0h1v1h-1zM235.1 252.5h1v1h-1zM233.4 252.9h1v1h-1zM218.8 251.3h1v1h-1zM222.0 245.2h1v1h-1zM231.3 242.3h1v1h-1zM228.4 248.4h1v1h-1zM235.2 242.6h1v1h-1zM234.8 240.6h1v1h-1zM223.5 249.6h1v1h-1zM234.0 240.9h1v1h-1zM221.6 245.2h1v1h-1zM242.4 242.7h1v1h-1zM234.0 246.5h1v1h-1zM237.5 248.4h1v1h-1zM221.7 243.5h1v1h-1zM225.9 246.0h1v1h-1zM238.7 249.2h1v1h-1zM226.8 255.4h1v1h-1zM230.2 248.8h1v1h-1zM238.0 242.1h1v1h-1zM233.1 239.6h1v1h-1zM234.7 247.3h1v1h-1zM239.1 239.9h1v1h-1zM240.7 242.9h1v1h-1zM226.2 251.3h1v1h-1zM231.5 246.8h1v1h-1zM232.0 239.5h1v1h-1zM221.5 249.8h1v1h-1zM230.6 237.6h1v1h-1zM232.1 245.5h1v1h-1zM236.5 243.7h1v1h-1zM230.7 253.2h1v1h-1zM229.4 242.2h1v1h-1zM231.6 245.7h1v1h-1zM227.9 249.7h1v1h-1zM228.4 245.2h1v1h-1zM230.6 243.5h1v1h-1zM229.1 236.1h1v1h-1zM236.6 244.3h1v1h-1zM233.7 248.0h1v1h-1zM243.2 241.9h1v1h-1zM237.6 247.8h1v1h-1zM227.4 242.8h1v1h-1zM233.4 245.8h1v1h-1zM233.5 243.4h1v1h-1zM233.5 242.6h1v1h-1zM227.2 241.6h1v1h-1zM235.0 247.6h1v1h-1zM231.8 253.3h1v1h-1zM233.2 253.5h1v1h-1zM233.1 249.3h1v1h-1zM222.5 249.0h1v1h-1zM234.1 247.5h1v1h-1zM232.9 252.0h1v1h-1zM222.4 245.9h1v1h-1zM221.9 252.1h1v1h-1zM231.6 254.0h1v1h-1zM234.5 243.3h1v1h-1zM223.9 247.4h1v1h-1zM229.3 245.7h1v1h-1zM233.0 244.0h1v1h-1zM233.2 252.5h1v1h-1zM221.2 247.4h1v1h-1zM238.4 242.2h1v1h-1zM235.0 242.7h1v1h-1zM230.7 249.9h1v1h-1zM232.6 245.4h1v1h-1zM230.2 243.0h1v1h-1zM234.7 247.9h1v1h-1zM224.8 246.8h1v1h-1zM225.6 239.0h1v1h-1zM229.4 252.7h1v1h-1zM226.3 249.8h1v1h-1zM227.4 245.9h1v1h-1zM223.8 249.5h1v1h-1zM230.7 247.2h1v1h-1zM229.3 246.7h1v1h-1zM239.5 242.2h1v1h-1zM226.6 238.5h1v1h-1zM225.8 254.2h1v1h-1zM235.1 245.9h1v1h-1zM233.7 252.5h1v1h-1zM221.6 246.3h1v1h-1zM221.5 251.6h1v1h-1zM241.3 243.8h1v1h-1zM234.5 248.1h1v1h-1zM237.3 246.9h1v1h-1zM236.1 243.1h1v1h-1zM226.8 254.3h1v1h-1zM226.7 250.8h1v1h-1zM240.7 246.2h1v1h-1zM232.1 240.5h1v1h-1zM239.5 241.7h1v1h-1zM236.4 253.9h1v1h-1zM222.0 250.3h1v1h-1zM229.8 242.2h1v1h-1zM223.4 248.1h1v1h-1zM227.6 244.6h1v1h-1zM224.0 240.7h1v1h-1zM238.9 241.3h1v1h-1zM237.7 244.3h1v1h-1zM240.0 233.7h1v1h-1zM237.6 247.6h1v1h-1zM225.4 241.7h1v1h-1zM228.7 247.2h1v1h-1zM236.6 251.7h1v1h-1zM230.3 247.4h1v1h-1zM233.4 249.3h1v1h-1zM237.5 242.5h1v1h-1zM226.0 246.6h1v1h-1zM232.5 251.7h1v1h-1zM223.2 243.3h1v1h-1zM226.8 253.1h1v1h-1zM227.9 242.7h1v1h-1zM239.8 245.6h1v1h-1zM236.2 244.2h1v1h-1zM229.9 248.3h1v1h-1zM234.3 241.9h1v1h-1zM226.1 246.5h1v1h-1zM218.5 246.2h1v1h-1zM233.6 243.1h1v1h-1zM232.6 255.3h1v1h-1zM232.0 250.7h1v1h-1zM226.5 251.4h1v1h-1zM218.1 249.0h1v1h-1zM231.6 246.2h1v1h-1zM231.7 240.8h1v1h-1zM235.3 250.5h1v1h-1zM240.6 240.8h1v1h-1zM226.4 245.5h1v1h-1zM233.9 250.0h1v1h-1zM231.6 248.7h1v1h-1zM231.0 246.3h1v1h-1zM221.3 245.2h1v1h-1zM227.3 245.7h1v1h-1zM228.5 249.2h1v1h-1zM226.6 248.1h1v1h-1zM245.3 236.5h1v1h-1zM231.8 249.3h1v1h-1zM232.7 252.0h1v1h-1zM222.0 252.8h1v1h-1zM244.3 249.3h1v1h-1zM227.4 242.4h1v1h-1zM228.0 241.6h1v1h-1zM241.2 248.0h1v1h-1zM226.5 250.7h1v1h-1zM236.4 248.4h1v1h-1zM234.7 242.5h1v1h-1zM236.7 242.2h1v1h-1zM232.1 239.4h1v1h-1zM223.6 253.6h1v1h-1zM228.3 244.8h1v1h-1zM218.9 248.3h1v1h-1zM227.4 249.5h1v1h-1zM235.9 238.4h1v1h-1zM223.6 256.2h1v1h-1zM230.8 249.5h1v1h-1zM228.0 249.5h1v1h-1zM236.3 244.3h1v1h-1zM232.1 240.6h1v1h-1zM224.4 249.8h1v1h-1zM226.6 231.6h1v1h-1zM224.3 245.4h1v1h-1zM234.1 247.6h1v1h-1zM230.4 242.2h1v1h-1zM224.5 248.1h1v1h-1zM237.1 245.1h1v1h-1zM226.0 249.9h1v1h-1zM236.5 244.2h1v1h-1zM232.2 244.1h1v1h-1zM227.9 246.1h1v1h-1zM230.9 254.7h1v1h-1zM236.7 240.2h1v1h-1zM232.8 254.7h1v1h-1zM229.5 247.1h1v1h-1zM235.4 238.2h1v1h-1zM234.3 244.4h1v1h-1zM224.4 245.9h1v1h-1zM229.0 248.9h1v1h-1zM226.4 248.0h1v1h-1zM235.2 242.7h1v1h-1zM239.5 243.3h1v1h-1zM231.6 241.5h1v1h-1zM235.3 248.2h1v1h-1zM227.3 253.7h1v1h-1zM238.3 250.3h1v1h-1zM239.2 249.1h1v1h-1zM229.6 251.7h1v1h-1zM227.7 240.1h1v1h-1zM226.3 236.8h1v1h-1zM227.1 246.4h1v1h-1zM230.0 238.6h1v1h-1zM239.8 247.5h1v1h-1zM244.3 237.3h1v1h-1zM220.9 247.4h1v1h-1zM235.2 244.7h1v1h-1zM226.0 244.3h1v1h-1zM237.9 246.0h1v1h-1zM222.6 253.5h1v1h-1zM235.3 247.0h1v1h-1zM226.5 241.3h1v1h-1zM233.4 242.9h1v1h-1zM235.4 239.9h1v1h-1zM222.0 244.6h1v1h-1zM237.0 244.2h1v1h-1zM237.2 240.4h1v1h-1zM233.5 244.9h1v1h-1zM226.9 241.3h1v1h-1zM226.2 236.6h1v1h-1zM225.2 249.1h1v1h-1zM229.8 250.9h1v1h-1zM248.7 244.7h1v1h-1zM228.0 245.4h1v1h-1zM223.3 255.5h1v1h-1zM227.6 241.7h1v1h-1zM235.7 245.1h1v1h-1zM223.0 250.4h1v1h-1zM216.5 250.7h1v1h-1zM232.6 242.1h1v1h-1zM247.4 244.7h1v1h-1zM229.5 252.8h1v1h-1zM222.7 252.9h1v1h-1zM234.0 243.6h1v1h-1zM215.6 243.7h1v1h-1zM222.0 249.1h1v1h-1zM221.2 240.7h1v1h-1zM234.4 243.1h1v1h-1zM224.2 250.1h1v1h-1zM235.8 233.1h1v1h-1zM238.1 255.3h1v1h-1zM232.6 251.6h1v1h-1zM227.7 252.1h1v1h-1zM224.9 235.2h1v1h-1zM231.8 245.1h1v1h-1zM222.5 253.6h1v1h-1zM229.5 246.1h1v1h-1zM222.0 240.8h1v1h-1zM225.5 241.7h1v1h-1zM232.0 243.8h1v1h-1zM227.6 250.7h1v1h-1zM229.1 246.2h1v1h-1zM239.3 245.1h1v1h-1zM228.5 251.4h1v1h-1zM235.0 245.8h1v1h-1zM231.7 247.9h1v1h-1zM233.2 242.4h1v1h-1zM225.3 246.3h1v1h-1zM229.4 244.3h1v1h-1zM237.6 248.4h1v1h-1zM242.5 252.6h1v1h-1zM230.3 242.4h1v1h-1zM233.9 245.5h1v1h-1zM223.1 246.7h1v1h-1zM232.1 250.3h1v1h-1zM234.6 245.8h1v1h-1zM236.4 248.3h1v1h-1zM231.0 251.2h1v1h-1zM237.8 254.2h1v1h-1zM235.3 247.0h1v1h-1zM225.7 249.8h1v1h-1zM223.8 245.7h1v1h-1zM235.8 240.7h1v1h-1zM236.4 246.0h1v1h-1zM228.7 252.1h1v1h-1zM221.0 245.4h1v1h-1zM235.2 246.6h1v1h-1zM223.4 243.8h1v1h-1zM231.3 245.4h1v1h-1zM234.5 243.7h1v1h-1zM226.8 237.7h1v1h-1zM229.2 242.3h1v1h-1zM243.2 243.4h1v1h-1zM230.6 245.3h1v1h-1zM228.8 243.8h1v1h-1zM231.9 250.3h1v1h-1zM226.2 245.6h1v1h-1zM233.4 241.8h1v1h-1zM219.0 260.6h1v1h-1zM237.4 246.3h1v1h-1zM220.0 248.0h1v1h-1zM226.5 248.3h1v1h-1zM230.5 248.8h1v1h-1zM223.2 255.4h1v1h-1zM220.1 254.5h1v1h-1zM228.8 247.6h1v1h-1zM234.6 239.1h1v1h-1zM240.7 250.1h1v1h-1zM231.5 237.8h1v1h-1zM238.6 245.3h1v1h-1zM227.1 248.7h1v1h-1zM230.0 244.1h1v1h-1zM231.9 246.3h1v1h-1zM223.9 252.2h1v1h-1zM226.7 253.4h1v1h-1zM240.8 251.2h1v1h-1zM240.7 248.0h1v1h-1zM226.6 247.3h1v1h-1zM235.9 239.0h1v1h-1zM233.0 247.6h1v1h-1zM229.9 250.4h1v1h-1zM236.1 239.3h1v1h-1zM236.7 245.1h1v1h-1zM232.1 252.6h1v1h-1zM235.9 247.8h1v1h-1zM227.0 241.8h1v1h-1zM233.3 245.8h1v1h-1zM225.8 246.0h1v1h-1zM235.9 244.4h1v1h-1zM240.7 252.1h1v1h-1zM234.7 255.2h1v1h-1zM231.3 239.2h1v1h-1zM223.5 242.3h1v1h-1zM234.6 246.6h1v1h-1zM240.2 249.8h1v1h-1zM229.5 248.0h1v1h-1zM234.2 247.7h1v1h-1zM221.5 251.7h1v1h-1zM229.4 251.6h1v1h-1zM215.5 239.1h1v1h-1zM226.4 252.5h1v1h-1zM227.6 248.7h1v1h-1zM230.1 242.3h1v1h-1zM225.3 239.6h1v1h-1zM237.8 246.3h1v1h-1zM236.0 234.5h1v1h-1zM235.3 236.6h1v1h-1zM222.3 249.4h1v1h-1zM227.5 245.7h1v1h-1zM234.4 243.0h1v1h-1zM238.2 243.9h1v1h-1zM249.8 243.6h1v1h-1zM245.3 245.5h1v1h-1zM239.3 241.7h1v1h-1zM234.4 247.6h1v1h-1zM231.1 246.5h1v1h-1zM235.8 250.4h1v1h-1zM243.1 243.2h1v1h-1zM226.3 250.1h1v1h-1zM243.7 240.0h1v1h-1zM230.5 246.1h1v1h-1zM230.8 243.9h1v1h-1zM239.6 241.1h1v1h-1zM230.5 250.1h1v1h-1zM232.5 239.7h1v1h-1zM222.9 257.1h1v1h-1zM249.1 243.6h1v1h-1zM234.0 243.7h1v1h-1zM231.6 245.1h1v1h-1zM223.5 250.0h1v1h-1zM235.0 249.4h1v1h-1zM229.7 254.9h1v1h-1zM233.2 245.9h1v1h-1zM226.0 243.8h1v1h-1zM234.0 250.4h1v1h-1zM242.0 241.8h1v1h-1zM235.8 247.1h1v1h-1zM225.5 250.4h1v1h-1zM233.2 255.5h1v1h-1zM225.6 244.1h1v1h-1zM222.3 243.3h1v1h-1zM236.4 250.0h1v1h-1zM224.7 250.7h1v1h-1zM226.4 246.5h1v1h-1zM236.3 247.3h1v1h-1zM227.7 245.4h1v1h-1zM222.0 244.2h1v1h-1zM235.5 240.3h1v1h-1zM239.0 246.7h1v1h-1zM226.6 244.6h1v1h-1zM234.1 240.1h1v1h-1zM226.3 248.1h1v1h-1zM227.6 238.1h1v1h-1zM223.3 251.5h1v1h-1zM226.4 244.4h1v1h-1zM226.9 255.6h1v1h-1zM245.9 247.5h1v1h-1zM249.3 248.7h1v1h-1zM222.9 243.0h1v1h-1zM239.6 241.5h1v1h-1zM225.7 242.0h1v1h-1zM231.4 247.1h1v1h-1zM225.2 250.7h1v1h-1zM229.0 249.7h1v1h-1zM229.1 251.3h1v1h-1zM226.5 254.1h1v1h-1zM235.4 241.8h1v1h-1zM227.8 252.8h1v1h-1zM224.1 251.0h1v1h-1zM239.0 242.3h1v1h-1zM237.7 241.8h1v1h-1zM225.9 243.0h1v1h-1zM231.5 247.6h1v1h-1zM228.7 249.0h1v1h-1zM231.3 248.5h1v1h-1zM230.8 247.5h1v1h-1zM227.6 242.9h1v1h-1zM221.4 245.8h1v1h-1zM228.2 241.2h1v1h-1zM225.2 247.3h1v1h-1zM227.4 246.4h1v1h-1zM231.0 255.7h1v1h-1zM233.4 245.4h1v1h-1zM229.7 237.1h1v1h-1zM225.7 247.3h1v1h-1zM231.1 244.4h1v1h-1zM228.4 251.6h1v1h-1zM238.0 249.0h1v1h-1zM231.8 236.0h1v1h-1zM229.0 237.8h1v1h-1zM233.3 247.4h1v1h-1zM227.2 243.5h1v1h-1zM232.2 246.6h1v1h-1zM243.7 243.5h1v1h-1zM220.4 248.0h1v1h-1zM235.9 249.7h1v1h-1zM232.6 242.9h1v1h-1zM235.6 241.1h1v1h-1zM225.9 250.5h1v1h-1zM221.5 246.2h1v1h-1zM224.4 253.6h1v1h-1zM226.3 249.9h1v1h-1zM224.5 252.2h1v1h-1zM234.3 245.5h1v1h-1zM222.2 248.1h1v1h-1zM217.9 249.6h1v1h-1zM222.5 248.4h1v1h-1zM229.9 251.2h1v1h-1zM229.2 248.9h1v1h-1zM232.1 241.0h1v1h-1zM228.7 242.0h1v1h-1zM231.9 251.0h1v1h-1zM230.4 240.2h1v1h-1zM226.7 251.2h1v1h-1zM226.6 254.6h1v1h-1zM228.9 251.1h1v1h-1zM219.3 257.9h1v1h-1zM229.0 248.3h1v1h-1zM234.3 253.1h1v1h-1zM237.8 250.1h1v1h-1zM217.5 255.7h1v1h-1zM232.2 257.7h1v1h-1zM231.2 249.0h1v1h-1zM233.8 246.5h1v1h-1zM238.8 238.1h1v1h-1zM236.3 251.8h1v1h-1zM232.1 241.8h1v1h-1zM232.7 252.6h1v1h-1zM224.9 258.4h1v1h-1zM226.8 247.8h1v1h-1zM234.7 244.5h1v1h-1zM231.9 252.1h1v1h-1zM233.6 248.2h1v1h-1zM230.0 253.6h1v1h-1zM226.5 251.6h1v1h-1zM226.5 254.8h1v1h-1zM226.4 255.8h1v1h-1zM222.4 253.8h1v1h-1zM232.2 245.0h1v1h-1zM220.9 262.6h1v1h-1zM237.4 244.8h1v1h-1zM225.2 250.2h1v1h-1zM222.8 252.4h1v1h-1zM233.9 246.1h1v1h-1zM229.8 245.0h1v1h-1zM229.9 246.0h1v1h-1zM213.0 256.1h1v1h-1zM228.6 259.1h1v1h-1zM230.5 258.1h1v1h-1zM224.9 246.7h1v1h-1zM226.9 248.4h1v1h-1zM231.6 253.8h1v1h-1zM219.1 253.0h1v1h-1zM228.5 250.7h1v1h-1zM224.3 259.3h1v1h-1zM220.2 249.9h1v1h-1zM228.9 247.6h1v1h-1zM221.0 247.2h1v1h-1zM225.5 252.1h1v1h-1zM216.1 259.2h1v1h-1zM226.4 247.2h1v1h-1zM231.9 242.5h1v1h-1zM219.6 250.8h1v1h-1zM228.9 245.4h1v1h-1zM225.3 245.0h1v1h-1zM221.0 253.3h1v1h-1zM230.0 247.4h1v1h-1zM218.0 256.8h1v1h-1zM220.0 244.2h1v1h-1zM229.9 244.8h1v1h-1zM209.7 256.0h1v1h-1zM225.8 256.0h1v1h-1zM224.0 245.2h1v1h-1zM224.5 252.9h1v1h-1zM223.2 243.6h1v1h-1zM221.5 250.6h1v1h-1zM227.1 252.3h1v1h-1zM224.6 247.5h1v1h-1zM229.6 257.2h1v1h-1zM228.1 258.0h1v1h-1zM225.9 256.5h1v1h-1zM224.8 256.5h1v1h-1zM227.4 252.7h1v1h-1zM226.1 248.5h1v1h-1zM220.6 248.8h1v1h-1zM224.5 246.7h1v1h-1zM226.7 253.4h1v1h-1zM237.4 256.4h1v1h-1z" fill="#7c7c7c" fill-opacity="0.4"/>
<path d="M223.5 245.9h1v1h-1zM232.2 246.5h1v1h-1zM210.2 254.1h1v1h-1zM233.8 245.0h1v1h-1zM234.8 242.2h1v1h-1zM234.1 243.4h1v1h-1zM228.8 246.4h1v1h-1zM237.3 247.6h1v1h-1zM244.7 246.8h1v1h-1zM233.9 245.4h1v1h-1zM236.9 239.9h1v1h-1zM225.2 246.8h1v1h-1zM234.2 246.0h1v1h-1zM221.7 244.8h1v1h-1zM234.2 247.1h1v1h-1zM225.5 251.1h1v1h-1zM226.4 246.2h1v1h-1zM226.3 251.4h1v1h-1zM227.1 251.5h1v1h-1zM223.3 243.2h1v1h-1zM239.2 239.8h1v1h-1zM223.1 262.3h1v1h-1zM224.7 243.3h1v1h-1zM234.6 242.2h1v1h-1zM235.3 249.9h1v1h-1zM228.5 238.9h1v1h-1zM222.4 243.4h1v1h-1zM228.4 241.7h1v1h-1zM231.2 246.8h1v1h-1zM240.2 246.6h1v1h-1zM226.6 249.3h1v1h-1zM224.1 250.1h1v1h-1zM225.9 245.4h1v1h-1zM240.5 248.3h1v1h-1zM224.2 251.8h1v1h-1zM231.6 240.5h1v1h-1zM237.0 236.5h1v1h-1zM219.6 252.7h1v1h-1zM226.6 247.6h1v1h-1zM232.4 250.9h1v1h-1zM232.9 242.1h1v1h-1zM223.5 250.8h1v1h-1zM229.0 247.3h1v1h-1zM235.8 247.4h1v1h-1zM227.7 247.2h1v1h-1zM233.2 247.5h1v1h-1zM233.2 244.5h1v1h-1zM231.6 241.1h1v1h-1zM232.9 248.8h1v1h-1zM229.3 246.7h1v1h-1zM236.3 252.7h1v1h-1zM228.3 244.4h1v1h-1zM230.5 242.1h1v1h-1zM236.3 250.0h1v1h-1zM242.3 242.9h1v1h-1zM227.8 246.9h1v1h-1zM234.6 248.4h1v1h-1zM239.3 245.9h1v1h-1zM220.2 249.4h1v1h-1zM230.3 241.2h1v1h-1zM219.7 242.7h1v1h-1zM228.8 250.9h1v1h-1zM232.0 246.1h1v1h-1zM226.1 250.6h1v1h-1zM233.8 253.6h1v1h-1zM226.3 248.6h1v1h-1zM237.6 243.1h1v1h-1zM239.8 244.2h1v1h-1zM239.8 240.7h1v1h-1zM226.0 255.3h1v1h-1zM228.4 241.2h1v1h-1zM227.6 244.0h1v1h-1zM235.9 241.7h1v1h-1zM235.2 243.5h1v1h-1zM231.9 246.9h1v1h-1zM226.8 247.0h1v1h-1zM234.4 254.1h1v1h-1zM227.4 248.0h1v1h-1zM234.2 247.8h1v1h-1zM230.3 252.6h1v1h-1zM228.7 247.8h1v1h-1zM227.4 248.8h1v1h-1zM240.8 251.2h1v1h-1zM238.8 241.6h1v1h-1zM238.8 242.8h1v1h-1zM234.5 248.5h1v1h-1zM234.7 249.7h1v1h-1zM239.6 245.1h1v1h-1zM236.5 250.5h1v1h-1zM229.0 251.3h1v1h-1zM233.1 248.2h1v1h-1zM228.2 250.5h1v1h-1zM233.8 239.1h1v1h-1zM239.8 239.0h1v1h-1zM236.5 244.0h1v1h-1zM228.1 245.0h1v1h-1zM236.7 242.1h1v1h-1zM230.5 244.0h1v1h-1zM222.7 241.7h1v1h-1zM237.8 251.1h1v1h-1zM240.8 239.1h1v1h-1zM235.2 245.6h1v1h-1zM237.7 237.6h1v1h-1zM230.9 246.7h1v1h-1zM237.0 247.5h1v1h-1zM232.4 246.1h1v1h-1zM228.7 246.0h1v1h-1zM226.7 253.1h1v1h-1zM233.7 246.3h1v1h-1zM223.1 246.4h1v1h-1zM226.2 247.8h1v1h-1zM217.9 241.3h1v1h-1zM228.3 238.8h1v1h-1zM226.8 246.7h1v1h-1zM224.9 240.3h1v1h-1zM227.5 238.7h1v1h-1zM227.3 251.3h1v1h-1zM235.2 249.9h1v1h-1zM233.0 236.2h1v1h-1zM220.1 249.5h1v1h-1zM228.3 254.7h1v1h-1zM238.5 241.8h1v1h-1zM225.1 246.5h1v1h-1zM230.7 247.2h1v1h-1zM234.6 244.3h1v1h-1zM238.7 248.0h1v1h-1zM223.7 246.6h1v1h-1zM226.5 251.1h1v1h-1zM231.0 246.2h1v1h-1zM231.2 243.3h1v1h-1zM223.8 240.7h1v1h-1zM226.5 250.8h1v1h-1zM235.0 254.6h1v1h-1zM236.6 241.3h1v1h-1zM224.0 249.5h1v1h-1zM235.9 242.9h1v1h-1zM223.6 244.4h1v1h-1zM220.4 248.9h1v1h-1zM219.9 252.1h1v1h-1zM223.3 244.8h1v1h-1zM232.6 246.8h1v1h-1zM237.0 248.7h1v1h-1zM231.1 245.7h1v1h-1zM223.0 249.9h1v1h-1zM226.4 251.5h1v1h-1zM224.4 254.7h1v1h-1zM227.5 247.6h1v1h-1zM236.7 245.1h1v1h-1zM240.2 244.9h1v1h-1zM225.2 251.2h1v1h-1zM235.9 247.8h1v1h-1zM229.9 251.6h1v1h-1zM228.7 248.7h1v1h-1zM232.6 247.2h1v1h-1zM227.8 248.7h1v1h-1zM243.5 246.6h1v1h-1zM227.6 247.8h1v1h-1zM232.2 244.6h1v1h-1zM222.3 243.1h1v1h-1zM230.3 245.8h1v1h-1zM228.4 241.3h1v1h-1zM222.1 251.0h1v1h-1zM233.2 242.7h1v1h-1zM226.4 243.2h1v1h-1zM230.5 250.3h1v1h-1zM226.0 252.0h1v1h-1zM231.2 248.7h1v1h-1zM236.2 243.8h1v1h-1zM227.5 245.3h1v1h-1zM236.8 249.2h1v1h-1zM229.2 243.7h1v1h-1zM235.1 252.6h1v1h-1zM230.5 237.9h1v1h-1zM225.9 250.2h1v1h-1zM225.9 239.2h1v1h-1zM226.7 250.9h1v1h-1zM225.3 255.6h1v1h-1zM226.2 249.0h1v1h-1zM232.0 239.9h1v1h-1zM232.2 243.7h1v1h-1zM229.4 247.1h1v1h-1zM238.1 244.3h1v1h-1zM233.0 250.7h1v1h-1zM236.2 252.5h1v1h-1zM231.0 246.2h1v1h-1zM235.0 249.4h1v1h-1zM230.3 244.4h1v1h-1zM235.0 247.6h1v1h-1zM239.8 246.4h1v1h-1zM218.9 253.4h1v1h-1zM233.9 243.1h1v1h-1zM227.3 252.2h1v1h-1zM233.7 237.9h1v1h-1zM232.3 255.4h1v1h-1zM236.2 249.1h1v1h-1zM240.2 245.4h1v1h-1zM238.6 252.9h1v1h-1zM228.9 237.8h1v1h-1zM234.5 241.6h1v1h-1zM234.5 244.9h1v1h-1zM238.0 243.6h1v1h-1zM223.5 247.3h1v1h-1zM229.5 239.1h1v1h-1zM234.0 245.6h1v1h-1zM226.7 248.6h1v1h-1zM235.5 245.3h1v1h-1zM230.5 243.5h1v1h-1zM235.3 243.6h1v1h-1zM237.5 239.3h1v1h-1zM227.9 249.8h1v1h-1zM227.2 249.0h1v1h-1zM231.4 248.4h1v1h-1zM222.4 246.3h1v1h-1zM239.4 246.2h1v1h-1zM234.2 251.0h1v1h-1zM231.1 243.5h1v1h-1zM222.4 249.9h1v1h-1zM229.2 246.4h1v1h-1zM229.0 251.5h1v1h-1zM227.6 254.0h1v1h-1zM239.9 243.8h1v1h-1zM228.1 240.5h1v1h-1zM234.9 247.7h1v1h-1zM233.9 250.7h1v1h-1zM234.1 246.0h1v1h-1zM234.6 252.3h1v1h-1zM224.7 249.3h1v1h-1zM230.8 242.4h1v1h-1zM232.7 250.0h1v1h-1zM227.4 240.9h1v1h-1zM230.1 251.8h1v1h-1zM230.7 246.0h1v1h-1zM242.2 249.4h1v1h-1zM236.2 246.5h1v1h-1zM234.1 243.9h1v1h-1zM232.9 248.4h1v1h-1zM231.1 248.5h1v1h-1zM225.6 253.2h1v1h-1zM224.7 246.6h1v1h-1zM222.3 250.1h1v1h-1zM234.9 241.3h1v1h-1zM232.3 245.9h1v1h-1zM234.3 249.0h1v1h-1zM222.9 249.8h1v1h-1zM228.5 246.1h1v1h-1zM231.4 240.3h1v1h-1zM227.6 253.8h1v1h-1zM233.0 237.9h1v1h-1zM240.2 241.7h1v1h-1zM226.9 246.3h1v1h-1zM235.3 238.6h1v1h-1zM228.9 253.0h1v1h-1zM223.9 252.6h1v1h-1zM233.0 236.8h1v1h-1zM229.0 250.5h1v1h-1zM236.9 247.1h1v1h-1zM233.9 248.6h1v1h-1zM227.5 242.3h1v1h-1zM234.4 241.8h1v1h-1zM227.3 251.6h1v1h-1zM220.2 252.1h1v1h-1zM228.7 249.6h1v1h-1zM232.7 244.8h1v1h-1zM231.8 253.2h1v1h-1zM229.2 244.2h1v1h-1zM227.1 248.1h1v1h-1zM241.4 245.6h1v1h-1zM232.9 249.2h1v1h-1zM227.4 253.5h1v1h-1zM231.7 245.1h1v1h-1zM233.0 247.2h1v1h-1zM223.4 250.7h1v1h-1zM239.9 249.2h1v1h-1zM226.2 244.6h1v1h-1zM228.7 245.8h1v1h-1zM234.4 253.3h1v1h-1zM231.7 247.0h1v1h-1zM227.7 239.0h1v1h-1zM234.1 242.6h1v1h-1zM228.7 241.7h1v1h-1zM223.3 244.9h1v1h-1zM235.8 242.9h1v1h-1zM241.1 253.1h1v1h-1zM231.4 242.6h1v1h-1zM230.9 249.6h1v1h-1zM232.5 239.5h1v1h-1zM226.5 242.7h1v1h-1zM237.1 243.9h1v1h-1zM228.5 245.1h1v1h-1zM230.8 247.6h1v1h-1zM241.7 243.2h1v1h-1zM230.9 255.0h1v1h-1zM229.4 242.0h1v1h-1zM228.7 246.4h1v1h-1zM227.6 256.1h1v1h-1zM245.8 239.1h1v1h-1zM230.4 247.8h1v1h-1zM236.8 237.8h1v1h-1zM226.0 252.2h1v1h-1zM238.3 248.0h1v1h-1zM231.7 249.4h1v1h-1zM229.3 249.1h1v1h-1zM225.8 247.7h1v1h-1zM224.8 250.2h1v1h-1zM233.7 245.3h1v1h-1zM232.2 248.9h1v1h-1zM236.8 246.1h1v1h-1zM225.3 245.2h1v1h-1zM229.7 242.5h1v1h-1zM230.2 251.9h1v1h-1zM222.8 249.0h1v1h-1zM235.3 243.2h1v1h-1zM234.3 248.6h1v1h-1zM229.5 243.8h1v1h-1zM236.9 241.6h1v1h-1zM237.9 248.2h1v1h-1zM234.2 240.7h1v1h-1zM238.1 252.8h1v1h-1zM233.3 247.6h1v1h-1zM235.2 246.6h1v1h-1zM226.7 245.3h1v1h-1zM224.6 245.6h1v1h-1zM223.1 246.1h1v1h-1zM229.2 249.6h1v1h-1zM237.8 247.8h1v1h-1zM235.0 250.0h1v1h-1zM235.8 248.3h1v1h-1zM227.0 241.5h1v1h-1zM221.9 248.5h1v1h-1zM228.4 241.7h1v1h-1zM223.8 249.0h1v1h-1zM232.1 245.3h1v1h-1zM233.8 250.8h1v1h-1zM229.3 244.0h1v1h-1zM231.6 247.5h1v1h-1zM226.6 250.1h1v1h-1zM235.4 249.7h1v1h-1zM223.6 240.2h1v1h-1zM239.5 244.5h1v1h-1zM242.9 244.2h1v1h-1zM229.9 249.9h1v1h-1zM232.5 250.0h1v1h-1zM231.8 250.3h1v1h-1zM239.0 247.3h1v1h-1zM230.7 242.9h1v1h-1zM222.8 246.6h1v1h-1zM235.4 236.1h1v1h-1zM228.2 250.8h1v1h-1zM236.7 239.9h1v1h-1zM223.9 245.0h1v1h-1zM229.1 246.5h1v1h-1zM227.5 244.6h1v1h-1zM232.2 241.4h1v1h-1zM233.0 251.5h1v1h-1zM224.8 254.2h1v1h-1zM239.6 238.9h1v1h-1zM231.4 250.9h1v1h-1zM239.0 238.6h1v1h-1zM229.5 240.1h1v1h-1zM229.2 252.6h1v1h-1zM231.1 255.3h1v1h-1zM246.5 247.3h1v1h-1zM239.9 245.2h1v1h-1zM228.0 253.4h1v1h-1zM236.7 247.7h1v1h-1zM225.6 246.4h1v1h-1zM217.7 249.0h1v1h-1zM227.1 248.8h1v1h-1zM237.9 237.0h1v1h-1zM236.8 247.7h1v1h-1zM235.3 252.0h1v1h-1zM220.2 253.8h1v1h-1zM240.5 244.5h1v1h-1zM228.7 247.5h1v1h-1zM214.5 246.1h1v1h-1zM237.0 249.2h1v1h-1zM229.9 241.8h1v1h-1zM227.4 246.8h1v1h-1zM236.4 246.0h1v1h-1zM228.9 246.9h1v1h-1zM229.8 254.2h1v1h-1zM224.9 246.3h1v1h-1zM234.8 245.4h1v1h-1zM236.6 250.3h1v1h-1zM230.6 245.3h1v1h-1zM226.4 247.7h1v1h-1zM235.7 242.4h1v1h-1zM233.9 244.8h1v1h-1zM230.4 244.4h1v1h-1zM236.3 242.5h1v1h-1zM234.9 243.1h1v1h-1zM232.5 251.9h1v1h-1zM232.5 248.3h1v1h-1zM237.0 241.3h1v1h-1zM232.4 251.2h1v1h-1zM231.6 248.9h1v1h-1zM228.6 255.7h1v1h-1zM235.5 241.2h1v1h-1zM234.2 250.5h1v1h-1zM234.0 247.4h1v1h-1zM213.8 242.6h1v1h-1zM230.1 245.7h1v1h-1zM235.0 244.1h1v1h-1zM233.6 246.1h1v1h-1zM218.7 251.2h1v1h-1zM235.2 242.2h1v1h-1zM227.1 246.6h1v1h-1zM238.8 246.9h1v1h-1zM226.6 248.8h1v1h-1zM228.2 247.4h1v1h-1zM236.7 238.7h1v1h-1zM231.4 245.9h1v1h-1zM238.9 243.3h1v1h-1zM232.6 240.4h1v1h-1zM236.4 252.1h1v1h-1zM230.0 246.1h1v1h-1zM232.9 246.6h1v1h-1zM224.6 245.7h1v1h-1zM231.7 249.5h1v1h-1zM226.5 248.2h1v1h-1zM224.4 245.3h1v1h-1zM226.8 251.7h1v1h-1zM235.2 243.0h1v1h-1zM236.3 247.2h1v1h-1zM233.3 246.2h1v1h-1zM234.6 244.3h1v1h-1zM223.1 250.1h1v1h-1zM230.7 239.0h1v1h-1zM231.0 246.8h1v1h-1zM226.3 246.8h1v1h-1zM231.2 246.1h1v1h-1zM220.5 251.8h1v1h-1zM224.7 250.0h1v1h-1zM231.7 245.9h1v1h-1zM228.2 243.8h1v1h-1zM232.4 245.3h1v1h-1zM232.5 247.9h1v1h-1zM225.4 250.5h1v1h-1zM238.4 244.8h1v1h-1zM230.3 243.1h1v1h-1zM238.7 243.7h1v1h-1zM236.3 247.0h1v1h-1zM233.8 245.4h1v1h-1zM233.9 248.9h1v1h-1zM225.9 244.5h1v1h-1zM234.2 242.6h1v1h-1zM232.8 241.8h1v1h-1zM228.0 248.0h1v1h-1zM236.0 236.2h1v1h-1zM223.7 247.4h1v1h-1zM237.2 241.4h1v1h-1zM235.9 236.4h1v1h-1zM233.2 247.1h1v1h-1zM228.8 244.4h1v1h-1zM224.0 248.6h1v1h-1zM233.1 244.6h1v1h-1zM221.6 242.5h1v1h-1zM218.3 244.3h1v1h-1zM230.3 252.7h1v1h-1zM236.0 251.2h1v1h-1zM219.0 241.8h1v1h-1zM231.3 243.4h1v1h-1zM238.5 243.4h1v1h-1zM224.6 255.6h1v1h-1zM222.1 245.0h1v1h-1zM224.4 249.3h1v1h-1zM229.0 249.4h1v1h-1zM238.8 249.2h1v1h-1zM216.6 249.8h1v1h-1zM225.4 247.0h1v1h-1zM230.3 242.2h1v1h-1zM233.1 256.2h1v1h-1zM235.0 250.7h1v1h-1zM226.8 252.3h1v1h-1zM233.5 244.3h1v1h-1zM231.3 251.2h1v1h-1zM226.4 234.7h1v1h-1zM229.5 236.4h1v1h-1zM234.2 247.3h1v1h-1zM241.7 239.8h1v1h-1zM232.1 252.6h1v1h-1zM224.2 248.6h1v1h-1zM234.0 244.0h1v1h-1zM221.2 249.8h1v1h-1zM231.2 249.8h1v1h-1zM229.1 249.7h1v1h-1zM242.3 244.3h1v1h-1zM226.5 253.8h1v1h-1zM231.2 248.8h1v1h-1zM229.8 248.6h1v1h-1zM240.4 239.6h1v1h-1zM245.7 249.4h1v1h-1zM216.2 242.2h1v1h-1zM237.7 247.1h1v1h-1zM231.3 247.8h1v1h-1zM232.1 249.5h1v1h-1zM227.4 251.4h1v1h-1zM224.6 252.7h1v1h-1zM236.6 245.5h1v1h-1zM228.4 245.5h1v1h-1zM227.2 254.5h1v1h-1zM233.3 252.0h1v1h-1zM226.0 247.6h1v1h-1zM228.6 249.3h1v1h-1zM237.9 245.8h1v1h-1zM223.3 251.2h1v1h-1zM237.8 248.1h1v1h-1zM223.0 252.5h1v1h-1zM230.3 250.4h1v1h-1zM226.9 250.9h1v1h-1zM229.6 247.3h1v1h-1zM226.5 246.7h1v1h-1zM232.3 258.8h1v1h-1zM226.2 246.4h1v1h-1zM220.1 250.1h1v1h-1zM237.1 253.7h1v1h-1zM231.8 258.4h1v1h-1zM226.8 244.7h1v1h-1zM216.9 254.4h1v1h-1zM235.9 245.9h1v1h-1zM223.8 243.9h1v1h-1zM224.1 257.9h1v1h-1zM226.4 253.9h1v1h-1zM229.8 245.8h1v1h-1zM220.2 250.5h1v1h-1zM226.3 249.5h1v1h-1zM228.8 252.1h1v1h-1zM237.3 252.2h1v1h-1zM228.9 256.5h1v1h-1zM217.1 252.6h1v1h-1zM225.0 255.3h1v1h-1zM220.1 251.8h1v1h-1zM231.6 249.8h1v1h-1zM225.6 255.7h1v1h-1zM233.9 253.4h1v1h-1zM217.2 254.5h1v1h-1zM233.2 247.5h1v1h-1zM227.2 255.3h1v1h-1zM228.1 250.2h1v1h-1zM218.6 252.7h1v1h-1zM223.9 250.7h1v1h-1zM223.2 249.4h1v1h-1zM229.1 244.8h1v1h-1zM224.4 250.4h1v1h-1zM224.8 249.3h1v1h-1zM224.4 250.1h1v1h-1zM224.4 247.3h1v1h-1zM218.9 253.8h1v1h-1zM224.3 253.8h1v1h-1zM223.3 248.6h1v1h-1zM228.7 246.8h1v1h-1zM223.7 253.1h1v1h-1zM229.4 253.6h1v1h-1zM225.6 253.1h1v1h-1zM225.6 251.2h1v1h-1zM223.8 249.4h1v1h-1zM224.9 250.3h1v1h-1zM228.3 249.8h1v1h-1zM225.3 245.2h1v1h-1zM240.7 246.8h1v1h-1zM225.4 254.9h1v1h-1zM227.7 253.0h1v1h-1zM223.7 245.1h1v1h-1zM227.0 256.7h1v1h-1zM225.3 251.0h1v1h-1zM224.4 254.4h1v1h-1zM222.4 254.0h1v1h-1zM221.2 247.6h1v1h-1zM229.5 244.8h1v1h-1zM216.1 250.3h1v1h-1zM234.0 253.4h1v1h-1zM224.7 245.0h1v1h-1zM222.6 252.9h1v1h-1zM235.3 248.8h1v1h-1zM228.5 256.0h1v1h-1z" fill="#7c7c7c" fill-opacity="0.4"/>
<path d="M227.5 246.8h1v1h-1zM226.3 249.5h1v1h-1zM228.3 245.3h1v1h-1zM228.5 240.5h1v1h-1zM217.9 247.8h1v1h-1zM238.5 241.8h1v1h-1zM232.3 239.6h1v1h-1zM232.4 243.5h1v1h-1zM240.1 244.2h1v1h-1zM236.1 245.6h1v1h-1zM234.6 239.9h1v1h-1zM227.6 247.8h1v1h-1zM238.6 247.3h1v1h-1zM228.5 244.3h1v1h-1zM232.3 249.3h1v1h-1zM229.0 246.8h1v1h-1zM236.0 244.3h1v1h-1zM234.7 251.0h1v1h-1zM229.3 242.8h1v1h-1zM227.9 242.7h1v1h-1zM230.7 250.0h1v1h-1zM235.6 248.6h1v1h-1zM225.2 251.1h1v1h-1zM227.6 243.7h1v1h-1zM225.3 249.5h1v1h-1zM234.2 251.7h1v1h-1zM244.5 242.4h1v1h-1zM237.1 251.9h1v1h-1zM220.5 251.7h1v1h-1zM237.4 250.8h1v1h-1zM238.0 244.3h1v1h-1zM232.4 245.2h1v1h-1zM219.6 249.7h1v1h-1zM228.0 250.9h1v1h-1zM234.7 243.5h1v1h-1zM224.1 254.4h1v1h-1zM226.8 235.8h1v1h-1zM240.0 253.7h1v1h-1zM232.2 242.3h1v1h-1zM232.2 250.4h1v1h-1zM230.5 244.5h1v1h-1zM229.2 255.3h1v1h-1zM248.2 249.1h1v1h-1zM233.0 248.2h1v1h-1zM228.8 247.6h1v1h-1zM234.5 247.3h1v1h-1zM240.7 248.0h1v1h-1zM226.5 249.2h1v1h-1zM222.7 246.9h1v1h-1zM232.4 248.2h1v1h-1zM228.2 244.4h1v1h-1zM233.5 244.0h1v1h-1zM226.3 249.8h1v1h-1zM232.5 243.7h1v1h-1zM233.6 249.4h1v1h-1zM237.0 249.3h1v1h-1zM242.4 239.8h1v1h-1zM237.5 248.9h1v1h-1zM244.2 247.3h1v1h-1zM225.8 241.7h1v1h-1zM237.7 247.5h1v1h-1zM236.5 241.6h1v1h-1zM227.6 255.4h1v1h-1zM230.7 244.2h1v1h-1zM234.3 242.6h1v1h-1zM229.3 246.2h1v1h-1zM224.7 248.8h1v1h-1zM238.3 242.8h1v1h-1zM229.6 246.5h1v1h-1zM223.4 251.4h1v1h-1zM233.3 245.2h1v1h-1zM230.9 242.7h1v1h-1zM225.4 252.6h1v1h-1zM222.1 245.8h1v1h-1zM237.5 245.1h1v1h-1zM227.6 246.3h1v1h-1zM234.2 245.1h1v1h-1zM226.6 251.4h1v1h-1zM230.6 246.6h1v1h-1zM228.1 248.3h1v1h-1zM231.4 241.4h1v1h-1zM236.0 245.7h1v1h-1zM233.7 246.0h1v1h-1zM235.0 250.5h1v1h-1zM226.3 249.1h1v1h-1zM219.0 247.8h1v1h-1zM225.1 252.6h1v1h-1zM227.8 251.3h1v1h-1zM222.8 245.1h1v1h-1zM221.3 247.7h1v1h-1zM235.3 247.3h1v1h-1zM234.3 248.3h1v1h-1zM234.1 245.2h1v1h-1zM228.6 248.2h1v1h-1zM241.7 240.7h1v1h-1zM230.7 245.5h1v1h-1zM232.1 241.5h1v1h-1zM229.9 250.5h1v1h-1zM235.9 245.9h1v1h-1zM223.1 254.1h1v1h-1zM223.8 245.7h1v1h-1zM238.4 244.4h1v1h-1zM227.4 242.6h1v1h-1zM237.3 242.5h1v1h-1zM233.3 248.7h1v1h-1zM230.5 248.7h1v1h-1zM222.5 248.7h1v1h-1zM227.8 249.2h1v1h-1zM230.8 254.5h1v1h-1zM238.8 241.2h1v1h-1zM229.4 239.2h1v1h-1zM223.4 251.1h1v1h-1zM233.5 248.3h1v1h-1zM233.2 242.0h1v1h-1zM231.4 242.3h1v1h-1zM239.9 242.5h1v1h-1zM227.4 241.4h1v1h-1zM230.0 248.7h1v1h-1zM234.0 250.6h1v1h-1zM236.9 247.3h1v1h-1zM223.6 245.7h1v1h-1zM241.3 245.3h1v1h-1zM229.6 252.3h1v1h-1zM234.0 239.4h1v1h-1zM234.2 245.7h1v1h-1zM230.3 257.2h1v1h-1zM226.4 250.4h1v1h-1zM232.2 243.3h1v1h-1zM231.9 243.3h1v1h-1zM228.5 250.2h1v1h-1zM229.6 246.8h1v1h-1zM237.1 246.4h1v1h-1zM226.4 248.6h1v1h-1zM233.4 246.4h1v1h-1zM228.2 254.4h1v1h-1zM236.8 245.2h1v1h-1zM229.9 246.1h1v1h-1zM224.1 242.5h1v1h-1zM231.3 247.3h1v1h-1zM224.5 246.8h1v1h-1zM231.2 248.7h1v1h-1zM226.7 253.9h1v1h-1zM225.6 247.8h1v1h-1zM244.9 241.1h1v1h-1zM225.4 254.0h1v1h-1zM223.7 245.7h1v1h-1zM233.4 244.0h1v1h-1zM238.6 249.9h1v1h-1zM229.2 241.9h1v1h-1zM225.0 253.1h1v1h-1zM225.0 245.6h1v1h-1zM226.7 249.7h1v1h-1zM240.9 245.1h1v1h-1zM213.1 248.6h1v1h-1zM234.9 241.1h1v1h-1zM229.9 256.2h1v1h-1zM225.6 246.8h1v1h-1zM220.4 250.2h1v1h-1zM227.5 248.6h1v1h-1zM231.5 247.0h1v1h-1zM221.0 249.6h1v1h-1zM232.3 247.4h1v1h-1zM227.1 244.6h1v1h-1zM235.1 243.8h1v1h-1zM237.4 244.1h1v1h-1zM238.7 246.1h1v1h-1zM237.2 243.1h1v1h-1zM232.8 248.9h1v1h-1zM229.6 244.3h1v1h-1zM239.7 251.1h1v1h-1zM232.5 246.2h1v1h-1zM222.7 246.9h1v1h-1zM226.1 250.6h1v1h-1zM235.8 250.5h1v1h-1zM219.0 253.2h1v1h-1zM221.2 256.1h1v1h-1zM245.0 239.5h1v1h-1zM231.5 249.6h1v1h-1zM232.3 245.6h1v1h-1zM216.4 243.3h1v1h-1zM231.4 243.1h1v1h-1zM237.1 246.8h1v1h-1zM240.3 242.7h1v1h-1zM236.3 247.4h1v1h-1zM242.5 237.8h1v1h-1zM231.9 247.3h1v1h-1zM220.0 250.0h1v1h-1zM230.2 243.7h1v1h-1zM227.0 245.6h1v1h-1zM222.8 245.6h1v1h-1zM231.5 248.5h1v1h-1zM221.0 242.0h1v1h-1zM222.5 248.9h1v1h-1zM239.7 245.2h1v1h-1zM233.9 244.1h1v1h-1zM225.6 247.4h1v1h-1zM232.6 254.8h1v1h-1zM219.4 249.4h1v1h-1zM241.3 244.4h1v1h-1zM237.6 250.1h1v1h-1zM227.1 245.9h1v1h-1zM231.7 243.9h1v1h-1zM232.9 250.3h1v1h-1zM232.2 245.0h1v1h-1zM236.6 243.6h1v1h-1zM241.3 247.2h1v1h-1zM224.4 246.9h1v1h-1zM229.8 250.9h1v1h-1zM237.0 254.6h1v1h-1zM228.2 247.3h1v1h-1zM237.2 247.5h1v1h-1zM228.7 245.7h1v1h-1zM235.4 246.5h1v1h-1zM227.1 248.5h1v1h-1zM239.4 243.7h1v1h-1zM237.2 241.3h1v1h-1zM233.6 247.3h1v1h-1zM228.9 245.9h1v1h-1zM233.9 247.3h1v1h-1zM224.9 261.3h1v1h-1zM239.6 246.7h1v1h-1zM238.3 243.1h1v1h-1zM233.4 241.1h1v1h-1zM220.3 256.1h1v1h-1zM224.4 246.4h1v1h-1zM231.1 243.1h1v1h-1zM236.1 246.5h1v1h-1zM231.7 240.6h1v1h-1zM225.4 247.5h1v1h-1zM219.8 244.7h1v1h-1zM222.6 254.7h1v1h-1zM234.3 250.5h1v1h-1zM234.5 251.1h1v1h-1zM227.0 249.5h1v1h-1zM226.9 243.0h1v1h-1zM231.8 257.7h1v1h-1zM231.3 252.1h1v1h-1zM237.2 243.4h1v1h-1zM227.3 251.8h1v1h-1zM236.9 240.8h1v1h-1zM230.3 243.7h1v1h-1zM222.4 247.1h1v1h-1zM225.7 249.4h1v1h-1zM225.8 253.9h1v1h-1zM222.5 256.8h1v1h-1zM235.6 244.2h1v1h-1zM233.3 241.0h1v1h-1zM240.5 246.0h1v1h-1zM226.2 243.5h1v1h-1zM231.9 239.6h1v1h-1zM225.8 249.9h1v1h-1zM229.7 249.9h1v1h-1zM224.6 254.3h1v1h-1zM228.3 249.3h1v1h-1zM231.9 239.9h1v1h-1zM224.0 250.4h1v1h-1zM226.5 242.4h1v1h-1zM244.0 247.7h1v1h-1zM225.7 239.6h1v1h-1zM225.9 247.1h1v1h-1zM227.3 242.3h1v1h-1zM222.7 252.6h1v1h-1zM229.4 245.2h1v1h-1zM224.2 251.2h1v1h-1zM231.4 242.3h1v1h-1zM231.0 245.6h1v1h-1zM238.8 244.1h1v1h-1zM234.2 247.4h1v1h-1zM242.1 244.4h1v1h-1zM231.1 254.6h1v1h-1zM234.3 247.3h1v1h-1zM234.5 248.3h1v1h-1zM214.2 250.9h1v1h-1zM230.4 251.1h1v1h-1zM214.4 247.5h1v1h-1zM232.5 245.6h1v1h-1zM231.4 245.6h1v1h-1zM244.4 242.7h1v1h-1zM233.3 247.8h1v1h-1zM237.7 249.0h1v1h-1zM234.5 255.1h1v1h-1zM226.5 248.9h1v1h-1zM234.8 246.1h1v1h-1zM226.0 248.3h1v1h-1zM230.9 246.5h1v1h-1zM226.7 253.9h1v1h-1zM231.7 251.3h1v1h-1zM230.6 247.2h1v1h-1zM227.6 246.9h1v1h-1zM228.2 245.8h1v1h-1zM229.9 247.9h1v1h-1zM239.0 247.3h1v1h-1zM234.7 239.8h1v1h-1zM224.4 249.4h1v1h-1zM213.9 247.0h1v1h-1zM225.9 240.5h1v1h-1zM228.7 248.5h1v1h-1zM233.5 236.2h1v1h-1zM228.9 239.9h1v1h-1zM227.7 245.5h1v1h-1zM236.5 243.5h1v1h-1zM223.6 244.6h1v1h-1zM232.2 245.5h1v1h-1zM231.5 250.2h1v1h-1zM223.8 250.3h1v1h-1zM229.2 254.0h1v1h-1zM228.9 248.9h1v1h-1zM230.3 249.8h1v1h-1zM227.4 238.7h1v1h-1zM234.8 249.3h1v1h-1zM229.8 246.6h1v1h-1zM226.3 249.1h1v1h-1zM227.7 251.1h1v1h-1zM228.9 244.9h1v1h-1zM234.1 241.5h1v1h-1zM232.9 253.3h1v1h-1zM237.6 253.2h1v1h-1zM225.8 238.4h1v1h-1zM234.4 249.6h1v1h-1zM218.4 247.1h1v1h-1zM224.6 247.8h1v1h-1zM235.2 249.6h1v1h-1zM232.8 249.9h1v1h-1zM221.9 255.2h1v1h-1zM222.5 250.3h1v1h-1zM230.8 258.5h1v1h-1zM231.7 245.1h1v1h-1zM221.6 253.6h1v1h-1zM232.3 251.3h1v1h-1zM237.0 248.3h1v1h-1zM237.0 239.5h1v1h-1zM230.8 249.0h1v1h-1zM228.6 247.9h1v1h-1zM232.5 250.6h1v1h-1zM223.5 242.8h1v1h-1zM227.6 247.0h1v1h-1zM229.6 248.5h1v1h-1zM221.5 250.8h1v1h-1zM238.6 244.4h1v1h-1zM225.5 251.5h1v1h-1zM229.4 244.3h1v1h-1zM240.7 242.4h1v1h-1zM221.8 245.2h1v1h-1zM229.2 246.8h1v1h-1zM234.2 248.7h1v1h-1zM231.2 245.2h1v1h-1zM231.5 245.5h1v1h-1zM230.9 249.1h1v1h-1zM231.3 249.9h1v1h-1zM232.4 255.5h1v1h-1zM237.4 246.9h1v1h-1zM232.2 245.9h1v1h-1zM233.5 243.0h1v1h-1zM229.0 244.9h1v1h-1zM233.2 243.3h1v1h-1zM230.4 251.2h1v1h-1zM244.2 250.3h1v1h-1zM236.8 252.1h1v1h-1zM230.8 247.9h1v1h-1zM232.9 243.9h1v1h-1zM234.0 246.1h1v1h-1zM225.9 248.9h1v1h-1zM233.2 239.1h1v1h-1zM234.8 244.5h1v1h-1zM233.1 240.1h1v1h-1zM232.9 250.7h1v1h-1zM233.9 245.5h1v1h-1zM241.8 243.1h1v1h-1zM225.4 247.9h1v1h-1zM238.7 242.6h1v1h-1zM225.5 239.4h1v1h-1zM230.6 236.9h1v1h-1zM242.4 244.9h1v1h-1zM234.8 247.7h1v1h-1zM235.1 247.9h1v1h-1zM229.8 243.1h1v1h-1zM235.7 246.6h1v1h-1zM233.3 249.2h1v1h-1zM229.7 250.5h1v1h-1zM233.6 244.9h1v1h-1zM226.8 248.3h1v1h-1zM240.9 245.8h1v1h-1zM229.3 247.0h1v1h-1zM218.0 249.8h1v1h-1zM221.9 244.7h1v1h-1zM236.2 251.4h1v1h-1zM226.1 242.7h1v1h-1zM232.7 249.8h1v1h-1zM229.3 246.1h1v1h-1zM228.8 248.9h1v1h-1zM233.2 252.3h1v1h-1zM230.0 252.1h1v1h-1zM223.1 244.1h1v1h-1zM226.1 244.9h1v1h-1zM222.1 248.1h1v1h-1zM233.3 249.2h1v1h-1zM225.8 245.0h1v1h-1zM235.9 245.2h1v1h-1zM232.5 253.0h1v1h-1zM227.8 242.3h1v1h-1zM221.0 255.5h1v1h-1zM239.4 246.7h1v1h-1zM225.9 251.3h1v1h-1zM228.9 252.3h1v1h-1zM228.7 249.7h1v1h-1zM223.5 253.5h1v1h-1zM227.4 243.9h1v1h-1zM231.1 255.9h1v1h-1zM221.4 238.7h1v1h-1zM234.1 251.7h1v1h-1zM227.3 245.1h1v1h-1zM236.1 244.1h1v1h-1zM234.9 248.8h1v1h-1zM225.1 250.2h1v1h-1zM235.8 247.3h1v1h-1zM232.6 244.2h1v1h-1zM230.7 245.4h1v1h-1zM233.7 252.7h1v1h-1zM219.1 239.6h1v1h-1zM223.2 244.8h1v1h-1zM233.8 254.4h1v1h-1zM225.1 240.6h1v1h-1zM227.4 246.3h1v1h-1zM228.9 244.0h1v1h-1zM239.4 247.4h1v1h-1zM235.9 240.7h1v1h-1zM233.7 245.7h1v1h-1zM233.4 244.4h1v1h-1zM235.1 243.9h1v1h-1zM234.5 245.5h1v1h-1zM236.6 248.4h1v1h-1zM247.1 245.6h1v1h-1zM233.0 246.9h1v1h-1zM229.9 244.9h1v1h-1zM232.8 250.6h1v1h-1zM231.4 241.6h1v1h-1zM226.9 251.2h1v1h-1zM229.0 249.2h1v1h-1zM232.2 237.8h1v1h-1zM225.7 245.5h1v1h-1zM245.5 247.8h1v1h-1zM230.5 258.1h1v1h-1zM224.1 246.2h1v1h-1zM224.7 250.3h1v1h-1zM233.5 253.6h1v1h-1zM241.3 246.2h1v1h-1zM227.1 241.7h1v1h-1zM238.3 242.4h1v1h-1zM209.6 249.9h1v1h-1zM225.0 251.0h1v1h-1zM232.7 241.0h1v1h-1zM228.9 253.4h1v1h-1zM224.3 252.7h1v1h-1zM235.4 254.1h1v1h-1zM234.1 249.7h1v1h-1zM247.7 237.5h1v1h-1zM235.7 243.1h1v1h-1zM232.4 249.5h1v1h-1zM230.0 247.4h1v1h-1zM235.3 244.0h1v1h-1zM242.0 250.5h1v1h-1zM225.4 241.0h1v1h-1zM232.1 253.6h1v1h-1zM225.3 246.8h1v1h-1zM229.2 252.4h1v1h-1zM237.7 241.6h1v1h-1zM230.0 253.2h1v1h-1zM234.9 246.7h1v1h-1zM236.9 249.6h1v1h-1zM232.5 245.2h1v1h-1zM243.1 249.8h1v1h-1zM235.4 239.1h1v1h-1zM236.8 249.7h1v1h-1zM229.9 250.8h1v1h-1zM229.9 250.5h1v1h-1zM237.1 240.2h1v1h-1zM243.1 239.7h1v1h-1zM238.8 246.3h1v1h-1zM230.4 245.2h1v1h-1zM234.6 241.3h1v1h-1zM228.7 250.9h1v1h-1zM227.3 246.1h1v1h-1zM225.4 242.1h1v1h-1zM232.0 251.8h1v1h-1zM228.3 247.0h1v1h-1zM234.6 246.6h1v1h-1zM229.1 245.9h1v1h-1zM226.0 241.3h1v1h-1zM231.5 238.9h1v1h-1zM224.9 254.8h1v1h-1zM233.5 246.5h1v1h-1zM222.9 249.5h1v1h-1zM224.2 246.6h1v1h-1zM238.2 245.3h1v1h-1zM225.2 250.9h1v1h-1zM231.3 250.1h1v1h-1zM221.4 256.6h1v1h-1zM234.1 251.8h1v1h-1zM226.1 249.9h1v1h-1zM231.6 249.2h1v1h-1zM220.8 262.1h1v1h-1zM218.4 251.7h1v1h-1zM220.9 245.5h1v1h-1zM233.8 250.1h1v1h-1zM221.9 252.0h1v1h-1zM219.3 254.2h1v1h-1zM222.7 247.8h1v1h-1zM230.9 249.2h1v1h-1zM220.3 255.2h1v1h-1zM218.6 253.4h1v1h-1zM225.1 250.3h1v1h-1zM229.1 251.7h1v1h-1zM229.0 249.4h1v1h-1zM222.9 254.3h1v1h-1zM221.4 255.3h1v1h-1zM217.9 248.7h1v1h-1zM227.3 254.5h1v1h-1zM225.5 250.3h1v1h-1zM217.8 254.7h1v1h-1zM231.9 249.5h1v1h-1zM225.6 247.2h1v1h-1zM218.6 246.3h1v1h-1zM227.5 251.9h1v1h-1zM234.2 252.7h1v1h-1zM225.3 248.9h1v1h-1zM223.0 246.9h1v1h-1zM235.2 247.4h1v1h-1zM224.5 255.2h1v1h-1zM223.3 254.6h1v1h-1zM226.0 248.4h1v1h-1zM230.5 249.9h1v1h-1zM230.0 249.9h1v1h-1zM216.3 253.7h1v1h-1zM228.2 259.3h1v1h-1zM228.2 246.6h1v1h-1zM224.1 250.4h1v1h-1zM231.5 248.0h1v1h-1zM230.2 252.1h1v1h-1zM233.9 253.0h1v1h-1zM215.3 251.2h1v1h-1zM230.9 251.8h1v1h-1zM231.3 252.9h1v1h-1zM226.9 258.0h1v1h-1zM231.7 257.4h1v1h-1zM217.4 256.7h1v1h-1zM216.0 254.2h1v1h-1zM228.2 251.1h1v1h-1zM218.6 245.6h1v1h-1zM244.0 253.8h1v1h-1zM221.6 253.9h1v1h-1zM230.0 253.4h1v1h-1zM226.1 246.6h1v1h-1zM227.8 246.2h1v1h-1zM233.8 249.0h1v1h-1zM225.8 244.5h1v1h-1zM233.7 252.1h1v1h-1zM232.9 249.8h1v1h-1zM232.8 248.0h1v1h-1zM218.3 245.6h1v1h-1zM227.0 254.9h1v1h-1zM236.9 255.9h1v1h-1zM216.9 255.0h1v1h-1zM231.0 249.5h1v1h-1zM215.5 254.0h1v1h-1zM222.4 243.2h1v1h-1zM225.3 255.6h1v1h-1zM231.5 250.6h1v1h-1zM233.9 249.7h1v1h-1zM223.1 249.6h1v1h-1zM223.4 250.5h1v1h-1zM232.0 251.1h1v1h-1zM222.6 245.9h1v1h-1zM229.8 256.7h1v1h-1zM227.4 249.3h1v1h-1zM225.8 243.5h1v1h-1z" fill="#7c7c7c" fill-opacity="0.4"/>
<rect x="184.3" y="227.3" width="103.1" height="103.1" fill="none" stroke="#999" stroke-width="1" />
<line x1="212.3" y1="227.3" x2="212.3" y2="330.4" stroke="#999" stroke-width="1" />
<line x1="184.3" y1="272.6" x2="287.4" y2="272.6" stroke="#999" stroke-width="1" />
<line x1="182.8" y1="322.64095186176087" x2="184.3" y2="322.64095186176087" stroke="#999" stroke-width="0.6" />
<line x1="192.05904813823912" y1="330.4" x2="192.05904813823912" y2="331.9" stroke="#999" stroke-width="0.6" />
<line x1="182.8" y1="318.10219965960067" x2="184.3" y2="318.10219965960067" stroke="#999" stroke-width="0.6" />
<line x1="196.59780034039932" y1="330.4" x2="196.59780034039932" y2="331.9" stroke="#999" stroke-width="0.6" />
<line x1="182.8" y1="314.88190372352176" x2="184.3" y2="314.88190372352176" stroke="#999" stroke-width="0.6" />
<line x1="199.81809627647823" y1="330.4" x2="199.81809627647823" y2="331.9" stroke="#999" stroke-width="0.6" />
<line x1="182.8" y1="312.3840481382391" x2="184.3" y2="312.3840481382391" stroke="#999" stroke-width="0.6" />
<line x1="202.3159518617609" y1="330.4" x2="202.3159518617609" y2="331.9" stroke="#999" stroke-width="0.6" />
<line x1="182.8" y1="310.34315152136156" x2="184.3" y2="310.34315152136156" stroke="#999" stroke-width="0.6" />
<line x1="204.35684847863843" y1="330.4" x2="204.35684847863843" y2="331.9" stroke="#999" stroke-width="0.6" />
<line x1="182.8" y1="308.6175980186325" x2="184.3" y2="308.6175980186325" stroke="#999" stroke-width="0.6" />
<line x1="206.08240198136747" y1="330.4" x2="206.08240198136747" y2="331.9" stroke="#999" stroke-width="0.6" />
<line x1="182.8" y1="307.12285558528265" x2="184.3" y2="307.12285558528265" stroke="#999" stroke-width="0.6" />
<line x1="207.57714441471737" y1="330.4" x2="207.57714441471737" y2="331.9" stroke="#999" stroke-width="0.6" />
<line x1="182.8" y1="305.80439931920137" x2="184.3" y2="305.80439931920137" stroke="#999" stroke-width="0.6" />
<line x1="208.89560068079862" y1="330.4" x2="208.89560068079862" y2="331.9" stroke="#999" stroke-width="0.6" />
<line x1="182.8" y1="296.8659518617609" x2="184.3" y2="296.8659518617609" stroke="#999" stroke-width="0.6" />
<line x1="217.83404813823913" y1="330.4" x2="217.83404813823913" y2="331.9" stroke="#999" stroke-width="0.6" />
<line x1="182.8" y1="292.3271996596007" x2="184.3" y2="292.3271996596007" stroke="#999" stroke-width="0.6" />
<line x1="222.3728003403993" y1="330.4" x2="222.3728003403993" y2="331.9" stroke="#999" stroke-width="0.6" />
<line x1="182.8" y1="289.1069037235217" x2="184.3" y2="289.1069037235217" stroke="#999" stroke-width="0.6" />
<line x1="225.59309627647824" y1="330.4" x2="225.59309627647824" y2="331.9" stroke="#999" stroke-width="0.6" />
<line x1="182.8" y1="286.6090481382391" x2="184.3" y2="286.6090481382391" stroke="#999" stroke-width="0.6" />
<line x1="228.09095186176089" y1="330.4" x2="228.09095186176089" y2="331.9" stroke="#999" stroke-width="0.6" />
<line x1="182.8" y1="284.5681515213616" x2="184.3" y2="284.5681515213616" stroke="#999" stroke-width="0.6" />
<line x1="230.13184847863843" y1="330.4" x2="230.13184847863843" y2="331.9" stroke="#999" stroke-width="0.6" />
<line x1="182.8" y1="282.8425980186325" x2="184.3" y2="282.8425980186325" stroke="#999" stroke-width="0.6" />
<line x1="231.85740198136747" y1="330.4" x2="231.85740198136747" y2="331.9" stroke="#999" stroke-width="0.6" />
<line x1="182.8" y1="281.3478555852826" x2="184.3" y2="281.3478555852826" stroke="#999" stroke-width="0.6" />
<line x1="233.35214441471734" y1="330.4" x2="233.35214441471734" y2="331.9" stroke="#999" stroke-width="0.6" />
<line x1="182.8" y1="280.0293993192014" x2="184.3" y2="280.0293993192014" stroke="#999" stroke-width="0.6" />
<line x1="234.6706006807986" y1="330.4" x2="234.6706006807986" y2="331.9" stroke="#999" stroke-width="0.6" />
<line x1="182.8" y1="271.09095186176086" x2="184.3" y2="271.09095186176086" stroke="#999" stroke-width="0.6" />
<line x1="243.60904813823913" y1="330.4" x2="243.60904813823913" y2="331.9" stroke="#999" stroke-width="0.6" />
<line x1="182.8" y1="266.55219965960066" x2="184.3" y2="266.55219965960066" stroke="#999" stroke-width="0.6" />
<line x1="248.14780034039933" y1="330.4" x2="248.14780034039933" y2="331.9" stroke="#999" stroke-width="0.6" />
<line x1="182.8" y1="263.33190372352175" x2="184.3" y2="263.33190372352175" stroke="#999" stroke-width="0.6" />
<line x1="251.36809627647824" y1="330.4" x2="251.36809627647824" y2="331.9" stroke="#999" stroke-width="0.6" />
<line x1="182.8" y1="260.8340481382391" x2="184.3" y2="260.8340481382391" stroke="#999" stroke-width="0.6" />
<line x1="253.8659518617609" y1="330.4" x2="253.8659518617609" y2="331.9" stroke="#999" stroke-width="0.6" />
<line x1="182.8" y1="258.79315152136155" x2="184.3" y2="258.79315152136155" stroke="#999" stroke-width="0.6" />
<line x1="255.90684847863844" y1="330.4" x2="255.90684847863844" y2="331.9" stroke="#999" stroke-width="0.6" />
<line x1="182.8" y1="257.0675980186325" x2="184.3" y2="257.0675980186325" stroke="#999" stroke-width="0.6" />
<line x1="257.6324019813675" y1="330.4" x2="257.6324019813675" y2="331.9" stroke="#999" stroke-width="0.6" />
<line x1="182.8" y1="255.57285558528264" x2="184.3" y2="255.57285558528264" stroke="#999" stroke-width="0.6" />
<line x1="259.12714441471735" y1="330.4" x2="259.12714441471735" y2="331.9" stroke="#999" stroke-width="0.6" />
<line x1="182.8" y1="254.25439931920138" x2="184.3" y2="254.25439931920138" stroke="#999" stroke-width="0.6" />
<line x1="260.44560068079863" y1="330.4" x2="260.44560068079863" y2="331.9" stroke="#999" stroke-width="0.6" />
<line x1="182.8" y1="245.31595186176088" x2="184.3" y2="245.31595186176088" stroke="#999" stroke-width="0.6" />
<line x1="269.3840481382391" y1="330.4" x2="269.3840481382391" y2="331.9" stroke="#999" stroke-width="0.6" />
<line x1="182.8" y1="240.77719965960068" x2="184.3" y2="240.77719965960068" stroke="#999" stroke-width="0.6" />
<line x1="273.9228003403993" y1="330.4" x2="273.9228003403993" y2="331.9" stroke="#999" stroke-width="0.6" />
<line x1="182.8" y1="237.55690372352174" x2="184.3" y2="237.55690372352174" stroke="#999" stroke-width="0.6" />
<line x1="277.1430962764782" y1="330.4" x2="277.1430962764782" y2="331.9" stroke="#999" stroke-width="0.6" />
<line x1="182.8" y1="235.05904813823912" x2="184.3" y2="235.05904813823912" stroke="#999" stroke-width="0.6" />
<line x1="279.64095186176087" y1="330.4" x2="279.64095186176087" y2="331.9" stroke="#999" stroke-width="0.6" />
<line x1="182.8" y1="233.01815152136157" x2="184.3" y2="233.01815152136157" stroke="#999" stroke-width="0.6" />
<line x1="281.6818484786384" y1="330.4" x2="281.6818484786384" y2="331.9" stroke="#999" stroke-width="0.6" />
<line x1="182.8" y1="231.2925980186325" x2="184.3" y2="231.2925980186325" stroke="#999" stroke-width="0.6" />
<line x1="283.40740198136746" y1="330.4" x2="283.40740198136746" y2="331.9" stroke="#999" stroke-width="0.6" />
<line x1="182.8" y1="229.79785558528263" x2="184.3" y2="229.79785558528263" stroke="#999" stroke-width="0.6" />
<line x1="284.9021444147173" y1="330.4" x2="284.9021444147173" y2="331.9" stroke="#999" stroke-width="0.6" />
<line x1="182.8" y1="228.47939931920138" x2="184.3" y2="228.47939931920138" stroke="#999" stroke-width="0.6" />
<line x1="286.2206006807986" y1="330.4" x2="286.2206006807986" y2="331.9" stroke="#999" stroke-width="0.6" />
<line x1="180.8" y1="330.4" x2="184.3" y2="330.4" stroke="#999" stroke-width="1" />
<text x="181.5" y="333.7" font-size="11" text-anchor="end" font-weight="bold" font-style="normal" fill="#000" >10<tspan font-size="6.8" dy="-4.4">0</tspan></text>
<line x1="184.3" y1="330.4" x2="184.3" y2="333.9" stroke="#999" stroke-width="1" />
<line x1="180.8" y1="304.625" x2="184.3" y2="304.625" stroke="#999" stroke-width="1" />
<text x="181.5" y="307.925" font-size="11" text-anchor="end" font-weight="bold" font-style="normal" fill="#000" >10<tspan font-size="6.8" dy="-4.4">1</tspan></text>
<line x1="210.07500000000002" y1="330.4" x2="210.07500000000002" y2="333.9" stroke="#999" stroke-width="1" />
<line x1="180.8" y1="278.84999999999997" x2="184.3" y2="278.84999999999997" stroke="#999" stroke-width="1" />
<text x="181.5" y="282.15" font-size="11" text-anchor="end" font-weight="bold" font-style="normal" fill="#000" >10<tspan font-size="6.8" dy="-4.4">2</tspan></text>
<line x1="235.85000000000002" y1="330.4" x2="235.85000000000002" y2="333.9" stroke="#999" stroke-width="1" />
<line x1="180.8" y1="253.075" x2="184.3" y2="253.075" stroke="#999" stroke-width="1" />
<text x="181.5" y="256.375" font-size="11" text-anchor="end" font-weight="bold" font-style="normal" fill="#000" >10<tspan font-size="6.8" dy="-4.4">3</tspan></text>
<line x1="261.625" y1="330.4" x2="261.625" y2="333.9" stroke="#999" stroke-width="1" />
<line x1="180.8" y1="227.29999999999998" x2="184.3" y2="227.29999999999998" stroke="#999" stroke-width="1" />
<text x="181.5" y="230.6" font-size="11" text-anchor="end" font-weight="bold" font-style="normal" fill="#000" >10<tspan font-size="6.8" dy="-4.4">4</tspan></text>
<line x1="287.4" y1="330.4" x2="287.4" y2="333.9" stroke="#999" stroke-width="1" />
<text x="184.10000000000002" y="343.0" font-size="11" text-anchor="middle" font-weight="bold" font-style="normal" fill="#000" >10<tspan font-size="6.8" dy="-4.4">0</tspan></text>
<text x="209.87500000000003" y="343.0" font-size="11" text-anchor="middle" font-weight="bold" font-style="normal" fill="#000" >10<tspan font-size="6.8" dy="-4.4">1</tspan></text>
<text x="235.65000000000003" y="343.0" font-size="11" text-anchor="middle" font-weight="bold" font-style="normal" fill="#000" >10<tspan font-size="6.8" dy="-4.4">2</tspan></text>
<text x="261.425" y="343.0" font-size="11" text-anchor="middle" font-weight="bold" font-style="normal" fill="#000" >10<tspan font-size="6.8" dy="-4.4">3</tspan></text>
<text x="287.2" y="343.0" font-size="11" text-anchor="middle" font-weight="bold" font-style="normal" fill="#000" >10<tspan font-size="6.8" dy="-4.4">4</tspan></text>
<text x="234.65000000000003" y="221.3" font-size="8.7" text-anchor="middle" font-weight="bold" font-style="italic" fill="#000" >p53<tspan font-size="6" dy="-3.2">-/-</tspan><tspan dy="3.2">;Mcl-1</tspan><tspan font-size="6" dy="-3.2">+/-</tspan></text>
<text x="186.10000000000002" y="232.9" font-size="6" text-anchor="start" font-weight="bold" font-style="italic" fill="#000" >0.12</text>
<text x="285.79999999999995" y="232.9" font-size="6" text-anchor="end" font-weight="bold" font-style="italic" fill="#000" >94.6</text>
<text x="186.10000000000002" y="328.2" font-size="6" text-anchor="start" font-weight="bold" font-style="italic" fill="#000" >0.46</text>
<text x="285.29999999999995" y="328.4" font-size="6" text-anchor="end" font-weight="bold" font-style="italic" fill="#000" >4.83</text>
<text x="0.3" y="343.2" font-size="8.6" text-anchor="start" font-weight="bold" font-style="italic" fill="#000" >CD8</text>
<line x1="19.2" y1="332.3" x2="19.2" y2="350.5" stroke="#000" stroke-width="1.6" />
<line x1="18.4" y1="350.5" x2="37.7" y2="350.5" stroke="#000" stroke-width="1.6" />
<text x="19.2" y="359.3" font-size="8.6" text-anchor="start" font-weight="bold" font-style="italic" fill="#000" >CD4</text>
<text x="320.6" y="208.6" font-size="17.6" text-anchor="start" font-weight="bold" font-style="normal" fill="#000" >D</text>
<text x="395.4" y="201.6" font-size="9" text-anchor="start" font-weight="bold" font-style="italic" fill="#000" >p53<tspan font-size="5.5" dy="-3">-/-</tspan></text>
<text x="452" y="199" font-size="9" text-anchor="middle" font-weight="bold" font-style="italic" fill="#000" >p53<tspan font-size="5.5" dy="-3">-/-</tspan><tspan dy="3">;</tspan></text>
<text x="451.5" y="206.6" font-size="9" text-anchor="middle" font-weight="bold" font-style="italic" fill="#000" >Mcl-1<tspan font-size="5.5" dy="-3">+/-</tspan></text>
<rect x="384.20000000000005" y="210.6" width="90.09999999999995" height="23.0" fill="#8e8e8e" stroke="#1a1a1a" stroke-width="1.2" />
<line x1="383.1" y1="211.4" x2="474.9" y2="211.4" stroke="#000" stroke-width="2.8" />
<ellipse cx="428.8" cy="210.2" rx="1.1" ry="1.5" fill="#fff"/>
<rect x="383.6" y="233.4" width="91.29999999999995" height="3.0" fill="#3a3a3a" stroke="none" stroke-width="0" />
<rect x="384.20000000000005" y="236.3" width="90.09999999999995" height="20.9" fill="#9c9c9c" stroke="#1a1a1a" stroke-width="1.2" />
<rect x="384.20000000000005" y="259.4" width="90.09999999999995" height="22.0" fill="#9a9a9a" stroke="#1a1a1a" stroke-width="1.3" />
<rect x="384.20000000000005" y="283.3" width="90.09999999999995" height="27.0" fill="#9e9e9e" stroke="#1a1a1a" stroke-width="1.3" />
<rect x="384.20000000000005" y="313.3" width="90.09999999999995" height="21.0" fill="#9c9c9c" stroke="#1a1a1a" stroke-width="1.3" />
<rect x="384.20000000000005" y="337.2" width="90.09999999999995" height="20.6" fill="#9c9c9c" stroke="#1a1a1a" stroke-width="1.3" />
<ellipse cx="393.20000000000005" cy="222.2" rx="5.400000000000006" ry="1.3" fill="#000" fill-opacity="0.28" filter="url(#b1)"/>
<ellipse cx="406.9" cy="222.2" rx="4.400000000000006" ry="1.3" fill="#000" fill-opacity="0.28" filter="url(#b1)"/>
<ellipse cx="421.4" cy="222.2" rx="6.099999999999994" ry="1.3" fill="#000" fill-opacity="0.8" filter="url(#b1)"/>
<ellipse cx="438.5" cy="222.2" rx="5.5" ry="1.3" fill="#000" fill-opacity="0.06" filter="url(#b1)"/>
<ellipse cx="452.5" cy="222.2" rx="5.5" ry="1.3" fill="#000" fill-opacity="0.06" filter="url(#b1)"/>
<ellipse cx="467.75" cy="222.2" rx="4.25" ry="1.3" fill="#000" fill-opacity="0.18" filter="url(#b1)"/>
<ellipse cx="392.20000000000005" cy="269.3" rx="5.400000000000006" ry="1.7" fill="#000" fill-opacity="0.95" filter="url(#b2)"/>
<ellipse cx="392.20000000000005" cy="269.3" rx="4.050000000000004" ry="1.02" fill="#000" fill-opacity="0.76"/>
<ellipse cx="406.6" cy="269.3" rx="5.099999999999994" ry="1.7" fill="#000" fill-opacity="0.9" filter="url(#b2)"/>
<ellipse cx="406.6" cy="269.3" rx="3.8249999999999957" ry="1.02" fill="#000" fill-opacity="0.7200000000000001"/>
<ellipse cx="421.9" cy="269.3" rx="6.099999999999994" ry="1.7" fill="#000" fill-opacity="0.95" filter="url(#b2)"/>
<ellipse cx="421.9" cy="269.3" rx="4.574999999999996" ry="1.02" fill="#000" fill-opacity="0.76"/>
<ellipse cx="437.29999999999995" cy="269.3" rx="4.400000000000006" ry="1.7" fill="#000" fill-opacity="0.25" filter="url(#b2)"/>
<ellipse cx="451.5" cy="269.3" rx="5.899999999999977" ry="1.7" fill="#000" fill-opacity="0.9" filter="url(#b2)"/>
<ellipse cx="451.5" cy="269.3" rx="4.424999999999983" ry="1.02" fill="#000" fill-opacity="0.7200000000000001"/>
<ellipse cx="466.70000000000005" cy="269.3" rx="4.400000000000006" ry="1.7" fill="#000" fill-opacity="0.55" filter="url(#b2)"/>
<ellipse cx="466.70000000000005" cy="269.3" rx="3.3000000000000043" ry="1.02" fill="#000" fill-opacity="0.44000000000000006"/>
<ellipse cx="393.20000000000005" cy="291.9" rx="5.400000000000006" ry="2.4" fill="#000" fill-opacity="0.97" filter="url(#b2)"/>
<ellipse cx="393.20000000000005" cy="291.9" rx="4.050000000000004" ry="1.44" fill="#000" fill-opacity="0.776"/>
<ellipse cx="406.75" cy="291.9" rx="5.25" ry="2.1" fill="#000" fill-opacity="0.92" filter="url(#b2)"/>
<ellipse cx="406.75" cy="291.9" rx="3.9375" ry="1.26" fill="#000" fill-opacity="0.7360000000000001"/>
<ellipse cx="421.65" cy="291.9" rx="6.650000000000006" ry="3.2" fill="#000" fill-opacity="1" filter="url(#b2)"/>
<ellipse cx="421.65" cy="291.9" rx="4.987500000000004" ry="1.92" fill="#000" fill-opacity="0.8"/>
<ellipse cx="436.35" cy="291.9" rx="5.349999999999994" ry="1.9" fill="#000" fill-opacity="0.6" filter="url(#b2)"/>
<ellipse cx="436.35" cy="291.9" rx="4.012499999999996" ry="1.14" fill="#000" fill-opacity="0.48"/>
<ellipse cx="451.5" cy="291.9" rx="5.899999999999977" ry="2.2" fill="#000" fill-opacity="0.9" filter="url(#b2)"/>
<ellipse cx="451.5" cy="291.9" rx="4.424999999999983" ry="1.32" fill="#000" fill-opacity="0.7200000000000001"/>
<ellipse cx="465.25" cy="291.9" rx="5.850000000000023" ry="2.2" fill="#000" fill-opacity="0.9" filter="url(#b2)"/>
<ellipse cx="465.25" cy="291.9" rx="4.387500000000017" ry="1.32" fill="#000" fill-opacity="0.7200000000000001"/>
<ellipse cx="393.0" cy="305.2" rx="5.0" ry="1.3" fill="#000" fill-opacity="0.08" filter="url(#b1)"/>
<ellipse cx="406.5" cy="305.2" rx="4.5" ry="1.3" fill="#000" fill-opacity="0.2" filter="url(#b1)"/>
<ellipse cx="421.5" cy="305.2" rx="5.5" ry="1.3" fill="#000" fill-opacity="0.3" filter="url(#b1)"/>
<ellipse cx="451.0" cy="305.2" rx="5.0" ry="1.3" fill="#000" fill-opacity="0.08" filter="url(#b1)"/>
<ellipse cx="465.5" cy="305.2" rx="4.5" ry="1.3" fill="#000" fill-opacity="0.1" filter="url(#b1)"/>
<rect x="386.6" y="345.0" width="12.399999999999977" height="4.2" rx="3.2" ry="2.1" fill="#000" fill-opacity="0.95" filter="url(#b2)"/>
<rect x="401.1" y="345.0" width="12.5" height="4.2" rx="3.2" ry="2.1" fill="#000" fill-opacity="0.95" filter="url(#b2)"/>
<rect x="415.6" y="345.0" width="12.799999999999955" height="4.2" rx="3.2" ry="2.1" fill="#000" fill-opacity="0.95" filter="url(#b2)"/>
<rect x="430.4" y="345.0" width="12.300000000000011" height="4.2" rx="3.2" ry="2.1" fill="#000" fill-opacity="0.95" filter="url(#b2)"/>
<rect x="444.6" y="345.0" width="12.799999999999955" height="4.2" rx="3.2" ry="2.1" fill="#000" fill-opacity="0.95" filter="url(#b2)"/>
<rect x="459.4" y="345.0" width="11.700000000000045" height="4.2" rx="3.2" ry="2.1" fill="#000" fill-opacity="0.95" filter="url(#b2)"/>
<text x="378.1" y="224.7" font-size="11.3" text-anchor="end" font-weight="bold" font-style="normal" fill="#000" >BCL-XL</text>
<text x="380.2" y="248.4" font-size="11.3" text-anchor="end" font-weight="bold" font-style="normal" fill="#000" >BCL-2</text>
<text x="378.6" y="272.6" font-size="11.3" text-anchor="end" font-weight="bold" font-style="normal" fill="#000" >MCL-1</text>
<text x="380.4" y="325.5" font-size="11.3" text-anchor="end" font-weight="bold" font-style="normal" fill="#000" >PUMA</text>
<text x="377.2" y="350.0" font-size="11.3" text-anchor="end" font-weight="bold" font-style="normal" fill="#000" >HSP70</text>
<text x="351" y="292.4" font-size="11" text-anchor="start" font-weight="bold" font-style="normal" fill="#000" >BIM<tspan font-size="7" dy="3.8">EL</tspan></text>
<text x="351" y="306.3" font-size="11" text-anchor="start" font-weight="bold" font-style="normal" fill="#000" >BIM<tspan font-size="7" dy="3.8">L</tspan></text>
<text x="476.3" y="221.7" font-size="8" text-anchor="start" font-weight="bold" font-style="normal" fill="#000" >31 kDa</text>
<text x="476.3" y="242.6" font-size="8" text-anchor="start" font-weight="bold" font-style="normal" fill="#000" >31 kDa</text>
<text x="476.3" y="279.0" font-size="8" text-anchor="start" font-weight="bold" font-style="normal" fill="#000" >31 kDa</text>
<text x="476.3" y="288.4" font-size="8" text-anchor="start" font-weight="bold" font-style="normal" fill="#000" >31 kDa</text>
<text x="476.3" y="300.3" font-size="8" text-anchor="start" font-weight="bold" font-style="normal" fill="#000" >25 kDa</text>
<text x="476.3" y="320.8" font-size="8" text-anchor="start" font-weight="bold" font-style="normal" fill="#000" >31 kDa</text>
<text x="476.3" y="341.1" font-size="8" text-anchor="start" font-weight="bold" font-style="normal" fill="#000" >110 kDa</text>
</svg>
</body></html>
